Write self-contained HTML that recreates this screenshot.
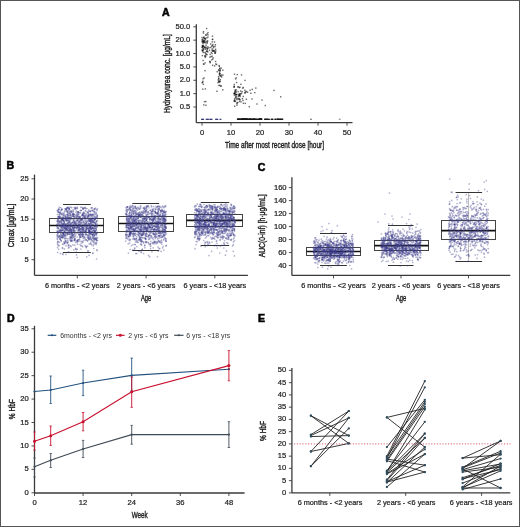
<!DOCTYPE html><html><head><meta charset="utf-8"><style>html,body{margin:0;padding:0;background:#fff;}svg{display:block;will-change:transform;filter:blur(0.3px);}text{font-family:"Liberation Sans", sans-serif;stroke:#1e1e1e;stroke-width:0.22px;}</style></head><body>
<svg width="520" height="527" viewBox="0 0 520 527">
<rect x="0" y="0" width="520" height="527" fill="#fff"/>
<text x="161.90" y="15.60" font-size="10.60" text-anchor="start" fill="#000" font-weight="bold" style="stroke:#000;stroke-width:0.55px">A</text>
<text x="6.60" y="168.80" font-size="10.60" text-anchor="start" fill="#000" font-weight="bold" style="stroke:#000;stroke-width:0.55px">B</text>
<text x="257.80" y="170.80" font-size="10.60" text-anchor="start" fill="#000" font-weight="bold" style="stroke:#000;stroke-width:0.55px">C</text>
<text x="6.90" y="321.50" font-size="10.60" text-anchor="start" fill="#000" font-weight="bold" style="stroke:#000;stroke-width:0.55px">D</text>
<text x="258.00" y="321.60" font-size="10.60" text-anchor="start" fill="#000" font-weight="bold" style="stroke:#000;stroke-width:0.55px">E</text>
<line x1="196.30" y1="24.20" x2="196.30" y2="122.70" stroke="#3a3a3a" stroke-width="1.30"/>
<line x1="193.30" y1="26.80" x2="196.30" y2="26.80" stroke="#3a3a3a" stroke-width="0.90"/>
<text x="190.20" y="28.85" font-size="7.60" text-anchor="end" fill="#1e1e1e" font-weight="normal">50.0</text>
<line x1="193.30" y1="40.17" x2="196.30" y2="40.17" stroke="#3a3a3a" stroke-width="0.90"/>
<text x="190.20" y="42.22" font-size="7.60" text-anchor="end" fill="#1e1e1e" font-weight="normal">20.0</text>
<line x1="193.30" y1="53.54" x2="196.30" y2="53.54" stroke="#3a3a3a" stroke-width="0.90"/>
<text x="190.20" y="55.59" font-size="7.60" text-anchor="end" fill="#1e1e1e" font-weight="normal">10.0</text>
<line x1="193.30" y1="66.91" x2="196.30" y2="66.91" stroke="#3a3a3a" stroke-width="0.90"/>
<text x="190.20" y="68.96" font-size="7.60" text-anchor="end" fill="#1e1e1e" font-weight="normal">5.0</text>
<line x1="193.30" y1="80.28" x2="196.30" y2="80.28" stroke="#3a3a3a" stroke-width="0.90"/>
<text x="190.20" y="82.33" font-size="7.60" text-anchor="end" fill="#1e1e1e" font-weight="normal">2.0</text>
<line x1="193.30" y1="93.65" x2="196.30" y2="93.65" stroke="#3a3a3a" stroke-width="0.90"/>
<text x="190.20" y="95.70" font-size="7.60" text-anchor="end" fill="#1e1e1e" font-weight="normal">1.0</text>
<line x1="193.30" y1="107.02" x2="196.30" y2="107.02" stroke="#3a3a3a" stroke-width="0.90"/>
<text x="190.20" y="109.07" font-size="7.60" text-anchor="end" fill="#1e1e1e" font-weight="normal">0.5</text>
<line x1="196.30" y1="122.70" x2="352.50" y2="122.70" stroke="#3a3a3a" stroke-width="1.30"/>
<line x1="202.00" y1="122.70" x2="202.00" y2="125.70" stroke="#3a3a3a" stroke-width="0.90"/>
<text x="202.00" y="134.60" font-size="7.60" text-anchor="middle" fill="#1e1e1e" font-weight="normal">0</text>
<line x1="231.00" y1="122.70" x2="231.00" y2="125.70" stroke="#3a3a3a" stroke-width="0.90"/>
<text x="231.00" y="134.60" font-size="7.60" text-anchor="middle" fill="#1e1e1e" font-weight="normal">10</text>
<line x1="260.00" y1="122.70" x2="260.00" y2="125.70" stroke="#3a3a3a" stroke-width="0.90"/>
<text x="260.00" y="134.60" font-size="7.60" text-anchor="middle" fill="#1e1e1e" font-weight="normal">20</text>
<line x1="289.00" y1="122.70" x2="289.00" y2="125.70" stroke="#3a3a3a" stroke-width="0.90"/>
<text x="289.00" y="134.60" font-size="7.60" text-anchor="middle" fill="#1e1e1e" font-weight="normal">30</text>
<line x1="318.00" y1="122.70" x2="318.00" y2="125.70" stroke="#3a3a3a" stroke-width="0.90"/>
<text x="318.00" y="134.60" font-size="7.60" text-anchor="middle" fill="#1e1e1e" font-weight="normal">40</text>
<line x1="347.00" y1="122.70" x2="347.00" y2="125.70" stroke="#3a3a3a" stroke-width="0.90"/>
<text x="347.00" y="134.60" font-size="7.60" text-anchor="middle" fill="#1e1e1e" font-weight="normal">50</text>
<text x="274.50" y="148.20" font-size="8.80" text-anchor="middle" fill="#1e1e1e" font-weight="normal" textLength="99.0" lengthAdjust="spacingAndGlyphs" style="stroke-width:0.4px">Time after most recent dose [hour]</text>
<text transform="translate(169.90 73.60) rotate(-90)" font-size="8.60" text-anchor="middle" fill="#1e1e1e" font-weight="normal" textLength="78.7" lengthAdjust="spacingAndGlyphs" style="stroke-width:0.4px">Hydroxyurea conc. [μg/mL]</text>
<g fill-opacity="0.62">
<rect x="203.2" y="51.9" width="1.4" height="1.4" fill="#111"/>
<rect x="201.7" y="54.9" width="1.4" height="1.4" fill="#111"/>
<rect x="204.5" y="42.2" width="1.4" height="1.4" fill="#111"/>
<rect x="204.3" y="46.6" width="1.4" height="1.4" fill="#111"/>
<rect x="201.5" y="41.2" width="1.4" height="1.4" fill="#111"/>
<rect x="201.8" y="45.7" width="1.4" height="1.4" fill="#111"/>
<rect x="203.8" y="46.4" width="1.4" height="1.4" fill="#111"/>
<rect x="202.6" y="40.2" width="1.4" height="1.4" fill="#111"/>
<rect x="205.1" y="55.5" width="1.4" height="1.4" fill="#111"/>
<rect x="203.7" y="40.5" width="1.4" height="1.4" fill="#111"/>
<rect x="207.2" y="36.4" width="1.4" height="1.4" fill="#111"/>
<rect x="202.2" y="49.4" width="1.4" height="1.4" fill="#111"/>
<rect x="202.0" y="38.3" width="1.4" height="1.4" fill="#111"/>
<rect x="202.4" y="59.8" width="1.4" height="1.4" fill="#111"/>
<rect x="204.8" y="38.7" width="1.4" height="1.4" fill="#111"/>
<rect x="204.6" y="37.6" width="1.4" height="1.4" fill="#111"/>
<rect x="201.7" y="50.0" width="1.4" height="1.4" fill="#111"/>
<rect x="205.4" y="46.5" width="1.4" height="1.4" fill="#111"/>
<rect x="203.9" y="39.6" width="1.4" height="1.4" fill="#111"/>
<rect x="204.0" y="55.3" width="1.4" height="1.4" fill="#111"/>
<rect x="203.1" y="48.1" width="1.4" height="1.4" fill="#111"/>
<rect x="202.8" y="30.9" width="1.4" height="1.4" fill="#111"/>
<rect x="204.7" y="51.8" width="1.4" height="1.4" fill="#111"/>
<rect x="203.0" y="41.4" width="1.4" height="1.4" fill="#111"/>
<rect x="207.2" y="51.2" width="1.4" height="1.4" fill="#111"/>
<rect x="205.8" y="50.6" width="1.4" height="1.4" fill="#111"/>
<rect x="202.2" y="41.8" width="1.4" height="1.4" fill="#111"/>
<rect x="205.3" y="44.5" width="1.4" height="1.4" fill="#111"/>
<rect x="205.9" y="27.8" width="1.4" height="1.4" fill="#111"/>
<rect x="203.2" y="36.2" width="1.4" height="1.4" fill="#111"/>
<rect x="205.5" y="34.5" width="1.4" height="1.4" fill="#111"/>
<rect x="204.0" y="37.7" width="1.4" height="1.4" fill="#111"/>
<rect x="206.3" y="53.9" width="1.4" height="1.4" fill="#111"/>
<rect x="205.3" y="40.8" width="1.4" height="1.4" fill="#111"/>
<rect x="201.7" y="40.4" width="1.4" height="1.4" fill="#111"/>
<rect x="207.3" y="31.9" width="1.4" height="1.4" fill="#111"/>
<rect x="206.2" y="42.4" width="1.4" height="1.4" fill="#111"/>
<rect x="205.3" y="53.0" width="1.4" height="1.4" fill="#111"/>
<rect x="201.4" y="39.0" width="1.4" height="1.4" fill="#111"/>
<rect x="202.0" y="45.6" width="1.4" height="1.4" fill="#111"/>
<rect x="201.7" y="44.8" width="1.4" height="1.4" fill="#111"/>
<rect x="202.8" y="39.6" width="1.4" height="1.4" fill="#111"/>
<rect x="203.6" y="46.8" width="1.4" height="1.4" fill="#111"/>
<rect x="204.0" y="41.6" width="1.4" height="1.4" fill="#111"/>
<rect x="204.6" y="56.7" width="1.4" height="1.4" fill="#111"/>
<rect x="206.5" y="33.2" width="1.4" height="1.4" fill="#111"/>
<rect x="203.0" y="37.0" width="1.4" height="1.4" fill="#111"/>
<rect x="206.6" y="48.6" width="1.4" height="1.4" fill="#111"/>
<rect x="207.0" y="47.6" width="1.4" height="1.4" fill="#111"/>
<rect x="202.7" y="48.9" width="1.4" height="1.4" fill="#111"/>
<rect x="202.7" y="32.3" width="1.4" height="1.4" fill="#111"/>
<rect x="202.9" y="45.4" width="1.4" height="1.4" fill="#111"/>
<rect x="201.3" y="36.8" width="1.4" height="1.4" fill="#111"/>
<rect x="204.7" y="48.5" width="1.4" height="1.4" fill="#111"/>
<rect x="207.0" y="40.3" width="1.4" height="1.4" fill="#111"/>
<rect x="205.0" y="34.2" width="1.4" height="1.4" fill="#111"/>
<rect x="205.4" y="53.6" width="1.4" height="1.4" fill="#111"/>
<rect x="206.5" y="50.7" width="1.4" height="1.4" fill="#111"/>
<rect x="206.1" y="37.2" width="1.4" height="1.4" fill="#111"/>
<rect x="201.9" y="50.0" width="1.4" height="1.4" fill="#111"/>
<rect x="205.1" y="47.4" width="1.4" height="1.4" fill="#111"/>
<rect x="202.6" y="45.6" width="1.4" height="1.4" fill="#111"/>
<rect x="202.3" y="42.7" width="1.4" height="1.4" fill="#111"/>
<rect x="201.3" y="46.8" width="1.4" height="1.4" fill="#111"/>
<rect x="202.2" y="51.2" width="1.4" height="1.4" fill="#111"/>
<rect x="201.5" y="49.4" width="1.4" height="1.4" fill="#111"/>
<rect x="206.5" y="40.5" width="1.4" height="1.4" fill="#111"/>
<rect x="202.8" y="40.9" width="1.4" height="1.4" fill="#111"/>
<rect x="203.4" y="41.3" width="1.4" height="1.4" fill="#111"/>
<rect x="206.4" y="47.8" width="1.4" height="1.4" fill="#111"/>
<rect x="207.3" y="34.2" width="1.4" height="1.4" fill="#111"/>
<rect x="201.8" y="46.5" width="1.4" height="1.4" fill="#111"/>
<rect x="201.9" y="40.4" width="1.4" height="1.4" fill="#111"/>
<rect x="206.3" y="50.2" width="1.4" height="1.4" fill="#111"/>
<rect x="202.3" y="44.8" width="1.4" height="1.4" fill="#111"/>
<rect x="202.2" y="47.5" width="1.4" height="1.4" fill="#111"/>
<rect x="204.6" y="55.2" width="1.4" height="1.4" fill="#111"/>
<rect x="207.2" y="46.2" width="1.4" height="1.4" fill="#111"/>
<rect x="206.5" y="42.0" width="1.4" height="1.4" fill="#111"/>
<rect x="203.5" y="37.7" width="1.4" height="1.4" fill="#111"/>
<rect x="202.0" y="81.7" width="1.4" height="1.4" fill="#111"/>
<rect x="204.4" y="62.2" width="1.4" height="1.4" fill="#111"/>
<rect x="202.6" y="83.6" width="1.4" height="1.4" fill="#111"/>
<rect x="205.2" y="104.5" width="1.4" height="1.4" fill="#111"/>
<rect x="204.7" y="88.2" width="1.4" height="1.4" fill="#111"/>
<rect x="204.3" y="70.0" width="1.4" height="1.4" fill="#111"/>
<rect x="203.4" y="77.2" width="1.4" height="1.4" fill="#111"/>
<rect x="201.4" y="82.0" width="1.4" height="1.4" fill="#111"/>
<rect x="202.4" y="78.1" width="1.4" height="1.4" fill="#111"/>
<rect x="205.1" y="100.8" width="1.4" height="1.4" fill="#111"/>
<rect x="203.1" y="104.2" width="1.4" height="1.4" fill="#111"/>
<rect x="202.8" y="63.2" width="1.4" height="1.4" fill="#111"/>
<rect x="202.2" y="80.6" width="1.4" height="1.4" fill="#111"/>
<rect x="202.1" y="88.5" width="1.4" height="1.4" fill="#111"/>
<rect x="203.8" y="101.0" width="1.4" height="1.4" fill="#111"/>
<rect x="203.2" y="63.6" width="1.4" height="1.4" fill="#111"/>
<rect x="212.9" y="50.5" width="1.4" height="1.4" fill="#111"/>
<rect x="212.9" y="45.7" width="1.4" height="1.4" fill="#111"/>
<rect x="214.7" y="52.3" width="1.4" height="1.4" fill="#111"/>
<rect x="211.6" y="41.2" width="1.4" height="1.4" fill="#111"/>
<rect x="213.8" y="41.3" width="1.4" height="1.4" fill="#111"/>
<rect x="215.1" y="63.3" width="1.4" height="1.4" fill="#111"/>
<rect x="211.1" y="59.2" width="1.4" height="1.4" fill="#111"/>
<rect x="209.5" y="62.0" width="1.4" height="1.4" fill="#111"/>
<rect x="209.2" y="60.7" width="1.4" height="1.4" fill="#111"/>
<rect x="213.9" y="65.2" width="1.4" height="1.4" fill="#111"/>
<rect x="209.3" y="61.0" width="1.4" height="1.4" fill="#111"/>
<rect x="212.9" y="46.9" width="1.4" height="1.4" fill="#111"/>
<rect x="212.1" y="50.3" width="1.4" height="1.4" fill="#111"/>
<rect x="215.1" y="50.4" width="1.4" height="1.4" fill="#111"/>
<rect x="212.8" y="49.6" width="1.4" height="1.4" fill="#111"/>
<rect x="214.4" y="45.8" width="1.4" height="1.4" fill="#111"/>
<rect x="214.1" y="51.0" width="1.4" height="1.4" fill="#111"/>
<rect x="210.4" y="56.0" width="1.4" height="1.4" fill="#111"/>
<rect x="210.0" y="43.3" width="1.4" height="1.4" fill="#111"/>
<rect x="211.2" y="45.7" width="1.4" height="1.4" fill="#111"/>
<rect x="209.2" y="56.4" width="1.4" height="1.4" fill="#111"/>
<rect x="211.5" y="44.8" width="1.4" height="1.4" fill="#111"/>
<rect x="212.4" y="57.1" width="1.4" height="1.4" fill="#111"/>
<rect x="214.7" y="44.0" width="1.4" height="1.4" fill="#111"/>
<rect x="211.8" y="38.6" width="1.4" height="1.4" fill="#111"/>
<rect x="208.4" y="47.1" width="1.4" height="1.4" fill="#111"/>
<rect x="211.4" y="49.6" width="1.4" height="1.4" fill="#111"/>
<rect x="213.9" y="50.0" width="1.4" height="1.4" fill="#111"/>
<rect x="209.5" y="53.7" width="1.4" height="1.4" fill="#111"/>
<rect x="210.6" y="51.7" width="1.4" height="1.4" fill="#111"/>
<rect x="211.9" y="38.8" width="1.4" height="1.4" fill="#111"/>
<rect x="212.2" y="43.9" width="1.4" height="1.4" fill="#111"/>
<rect x="210.0" y="46.7" width="1.4" height="1.4" fill="#111"/>
<rect x="211.9" y="64.6" width="1.4" height="1.4" fill="#111"/>
<rect x="212.2" y="50.5" width="1.4" height="1.4" fill="#111"/>
<rect x="211.4" y="55.5" width="1.4" height="1.4" fill="#111"/>
<rect x="211.8" y="35.5" width="1.4" height="1.4" fill="#111"/>
<rect x="211.5" y="48.2" width="1.4" height="1.4" fill="#111"/>
<rect x="212.0" y="58.4" width="1.4" height="1.4" fill="#111"/>
<rect x="214.4" y="52.3" width="1.4" height="1.4" fill="#111"/>
<rect x="214.9" y="48.6" width="1.4" height="1.4" fill="#111"/>
<rect x="214.9" y="60.8" width="1.4" height="1.4" fill="#111"/>
<rect x="214.2" y="52.3" width="1.4" height="1.4" fill="#111"/>
<rect x="211.4" y="52.8" width="1.4" height="1.4" fill="#111"/>
<rect x="208.8" y="49.5" width="1.4" height="1.4" fill="#111"/>
<rect x="220.2" y="75.6" width="1.4" height="1.4" fill="#111"/>
<rect x="220.9" y="76.4" width="1.4" height="1.4" fill="#111"/>
<rect x="220.5" y="67.5" width="1.4" height="1.4" fill="#111"/>
<rect x="220.1" y="85.5" width="1.4" height="1.4" fill="#111"/>
<rect x="222.1" y="89.1" width="1.4" height="1.4" fill="#111"/>
<rect x="217.2" y="81.9" width="1.4" height="1.4" fill="#111"/>
<rect x="219.0" y="68.0" width="1.4" height="1.4" fill="#111"/>
<rect x="222.2" y="74.5" width="1.4" height="1.4" fill="#111"/>
<rect x="218.6" y="65.6" width="1.4" height="1.4" fill="#111"/>
<rect x="219.2" y="67.4" width="1.4" height="1.4" fill="#111"/>
<rect x="217.9" y="77.5" width="1.4" height="1.4" fill="#111"/>
<rect x="220.5" y="85.2" width="1.4" height="1.4" fill="#111"/>
<rect x="218.7" y="73.0" width="1.4" height="1.4" fill="#111"/>
<rect x="215.9" y="63.8" width="1.4" height="1.4" fill="#111"/>
<rect x="219.1" y="84.7" width="1.4" height="1.4" fill="#111"/>
<rect x="216.2" y="90.6" width="1.4" height="1.4" fill="#111"/>
<rect x="222.1" y="69.5" width="1.4" height="1.4" fill="#111"/>
<rect x="216.5" y="71.0" width="1.4" height="1.4" fill="#111"/>
<rect x="220.9" y="74.4" width="1.4" height="1.4" fill="#111"/>
<rect x="217.6" y="79.2" width="1.4" height="1.4" fill="#111"/>
<rect x="219.6" y="80.9" width="1.4" height="1.4" fill="#111"/>
<rect x="219.4" y="73.0" width="1.4" height="1.4" fill="#111"/>
<rect x="219.6" y="79.0" width="1.4" height="1.4" fill="#111"/>
<rect x="218.9" y="72.0" width="1.4" height="1.4" fill="#111"/>
<rect x="217.9" y="69.2" width="1.4" height="1.4" fill="#111"/>
<rect x="219.2" y="69.8" width="1.4" height="1.4" fill="#111"/>
<rect x="219.7" y="75.1" width="1.4" height="1.4" fill="#111"/>
<rect x="219.1" y="74.6" width="1.4" height="1.4" fill="#111"/>
<rect x="219.5" y="69.3" width="1.4" height="1.4" fill="#111"/>
<rect x="217.9" y="80.5" width="1.4" height="1.4" fill="#111"/>
<rect x="218.5" y="64.9" width="1.4" height="1.4" fill="#111"/>
<rect x="218.9" y="80.4" width="1.4" height="1.4" fill="#111"/>
<rect x="218.1" y="69.8" width="1.4" height="1.4" fill="#111"/>
<rect x="218.9" y="73.6" width="1.4" height="1.4" fill="#111"/>
<rect x="218.1" y="78.1" width="1.4" height="1.4" fill="#111"/>
<rect x="217.9" y="75.9" width="1.4" height="1.4" fill="#111"/>
<rect x="218.4" y="81.6" width="1.4" height="1.4" fill="#111"/>
<rect x="219.3" y="70.4" width="1.4" height="1.4" fill="#111"/>
<rect x="218.2" y="84.7" width="1.4" height="1.4" fill="#111"/>
<rect x="218.5" y="80.8" width="1.4" height="1.4" fill="#111"/>
<rect x="234.0" y="105.6" width="1.4" height="1.4" fill="#111"/>
<rect x="234.6" y="90.0" width="1.4" height="1.4" fill="#111"/>
<rect x="234.9" y="78.2" width="1.4" height="1.4" fill="#111"/>
<rect x="236.3" y="104.5" width="1.4" height="1.4" fill="#111"/>
<rect x="242.5" y="86.8" width="1.4" height="1.4" fill="#111"/>
<rect x="237.2" y="97.8" width="1.4" height="1.4" fill="#111"/>
<rect x="240.2" y="83.6" width="1.4" height="1.4" fill="#111"/>
<rect x="233.8" y="100.7" width="1.4" height="1.4" fill="#111"/>
<rect x="234.1" y="99.7" width="1.4" height="1.4" fill="#111"/>
<rect x="244.2" y="89.6" width="1.4" height="1.4" fill="#111"/>
<rect x="239.4" y="93.0" width="1.4" height="1.4" fill="#111"/>
<rect x="235.5" y="96.1" width="1.4" height="1.4" fill="#111"/>
<rect x="235.5" y="94.0" width="1.4" height="1.4" fill="#111"/>
<rect x="239.4" y="95.8" width="1.4" height="1.4" fill="#111"/>
<rect x="236.2" y="102.0" width="1.4" height="1.4" fill="#111"/>
<rect x="246.9" y="91.6" width="1.4" height="1.4" fill="#111"/>
<rect x="239.0" y="94.6" width="1.4" height="1.4" fill="#111"/>
<rect x="240.0" y="90.3" width="1.4" height="1.4" fill="#111"/>
<rect x="234.5" y="89.1" width="1.4" height="1.4" fill="#111"/>
<rect x="235.4" y="91.4" width="1.4" height="1.4" fill="#111"/>
<rect x="238.4" y="94.9" width="1.4" height="1.4" fill="#111"/>
<rect x="254.1" y="91.9" width="1.4" height="1.4" fill="#111"/>
<rect x="240.3" y="101.2" width="1.4" height="1.4" fill="#111"/>
<rect x="233.4" y="86.1" width="1.4" height="1.4" fill="#111"/>
<rect x="234.8" y="96.8" width="1.4" height="1.4" fill="#111"/>
<rect x="242.3" y="99.8" width="1.4" height="1.4" fill="#111"/>
<rect x="233.5" y="100.3" width="1.4" height="1.4" fill="#111"/>
<rect x="237.6" y="95.7" width="1.4" height="1.4" fill="#111"/>
<rect x="233.7" y="92.6" width="1.4" height="1.4" fill="#111"/>
<rect x="238.8" y="86.9" width="1.4" height="1.4" fill="#111"/>
<rect x="238.3" y="94.3" width="1.4" height="1.4" fill="#111"/>
<rect x="245.0" y="91.2" width="1.4" height="1.4" fill="#111"/>
<rect x="249.4" y="89.5" width="1.4" height="1.4" fill="#111"/>
<rect x="237.8" y="98.3" width="1.4" height="1.4" fill="#111"/>
<rect x="233.7" y="92.7" width="1.4" height="1.4" fill="#111"/>
<rect x="244.6" y="102.7" width="1.4" height="1.4" fill="#111"/>
<rect x="237.4" y="86.4" width="1.4" height="1.4" fill="#111"/>
<rect x="242.6" y="95.8" width="1.4" height="1.4" fill="#111"/>
<rect x="237.4" y="86.1" width="1.4" height="1.4" fill="#111"/>
<rect x="234.7" y="100.7" width="1.4" height="1.4" fill="#111"/>
<rect x="245.7" y="98.6" width="1.4" height="1.4" fill="#111"/>
<rect x="242.7" y="102.6" width="1.4" height="1.4" fill="#111"/>
<rect x="240.9" y="92.5" width="1.4" height="1.4" fill="#111"/>
<rect x="238.7" y="98.0" width="1.4" height="1.4" fill="#111"/>
<rect x="234.1" y="92.2" width="1.4" height="1.4" fill="#111"/>
<rect x="236.2" y="98.9" width="1.4" height="1.4" fill="#111"/>
<rect x="242.1" y="87.5" width="1.4" height="1.4" fill="#111"/>
<rect x="241.4" y="90.9" width="1.4" height="1.4" fill="#111"/>
<rect x="241.7" y="98.0" width="1.4" height="1.4" fill="#111"/>
<rect x="233.6" y="85.6" width="1.4" height="1.4" fill="#111"/>
<rect x="233.5" y="92.9" width="1.4" height="1.4" fill="#111"/>
<rect x="235.8" y="93.9" width="1.4" height="1.4" fill="#111"/>
<rect x="239.4" y="99.2" width="1.4" height="1.4" fill="#111"/>
<rect x="236.1" y="93.7" width="1.4" height="1.4" fill="#111"/>
<rect x="238.7" y="93.1" width="1.4" height="1.4" fill="#111"/>
<rect x="255.1" y="87.4" width="1.4" height="1.4" fill="#111"/>
<rect x="233.6" y="83.8" width="1.4" height="1.4" fill="#111"/>
<rect x="234.9" y="95.3" width="1.4" height="1.4" fill="#111"/>
<rect x="244.3" y="92.5" width="1.4" height="1.4" fill="#111"/>
<rect x="235.8" y="97.5" width="1.4" height="1.4" fill="#111"/>
<rect x="238.2" y="94.0" width="1.4" height="1.4" fill="#111"/>
<rect x="240.1" y="93.3" width="1.4" height="1.4" fill="#111"/>
<rect x="233.8" y="99.4" width="1.4" height="1.4" fill="#111"/>
<rect x="235.7" y="89.2" width="1.4" height="1.4" fill="#111"/>
<rect x="244.1" y="91.7" width="1.4" height="1.4" fill="#111"/>
<rect x="239.2" y="86.5" width="1.4" height="1.4" fill="#111"/>
<rect x="234.2" y="90.9" width="1.4" height="1.4" fill="#111"/>
<rect x="234.1" y="98.0" width="1.4" height="1.4" fill="#111"/>
<rect x="236.6" y="73.9" width="1.4" height="1.4" fill="#111"/>
<rect x="235.9" y="81.8" width="1.4" height="1.4" fill="#111"/>
<rect x="237.1" y="101.8" width="1.4" height="1.4" fill="#111"/>
<rect x="235.0" y="93.7" width="1.4" height="1.4" fill="#111"/>
<rect x="238.8" y="98.8" width="1.4" height="1.4" fill="#111"/>
<rect x="235.1" y="90.9" width="1.4" height="1.4" fill="#111"/>
<rect x="235.5" y="77.2" width="1.4" height="1.4" fill="#111"/>
<rect x="236.3" y="103.0" width="1.4" height="1.4" fill="#111"/>
<rect x="244.3" y="79.7" width="1.4" height="1.4" fill="#111"/>
<rect x="234.2" y="92.8" width="1.4" height="1.4" fill="#111"/>
<rect x="238.9" y="100.8" width="1.4" height="1.4" fill="#111"/>
<rect x="238.8" y="94.9" width="1.4" height="1.4" fill="#111"/>
<rect x="233.4" y="86.6" width="1.4" height="1.4" fill="#111"/>
<rect x="233.8" y="93.1" width="1.4" height="1.4" fill="#111"/>
<rect x="237.5" y="90.9" width="1.4" height="1.4" fill="#111"/>
<rect x="239.1" y="94.5" width="1.4" height="1.4" fill="#111"/>
<rect x="233.7" y="94.4" width="1.4" height="1.4" fill="#111"/>
<rect x="248.6" y="106.0" width="1.4" height="1.4" fill="#111"/>
<rect x="245.8" y="90.8" width="1.4" height="1.4" fill="#111"/>
<rect x="250.1" y="92.6" width="1.4" height="1.4" fill="#111"/>
<rect x="240.8" y="74.2" width="1.4" height="1.4" fill="#111"/>
<rect x="251.6" y="88.7" width="1.4" height="1.4" fill="#111"/>
<rect x="273.3" y="89.7" width="1.4" height="1.4" fill="#111"/>
<rect x="280.0" y="96.1" width="1.4" height="1.4" fill="#111"/>
<rect x="264.6" y="104.8" width="1.4" height="1.4" fill="#111"/>
<rect x="233.8" y="73.5" width="1.4" height="1.4" fill="#111"/>
<rect x="251.3" y="98.3" width="1.4" height="1.4" fill="#111"/>
<rect x="256.3" y="103.3" width="1.4" height="1.4" fill="#111"/>
<rect x="261.3" y="99.3" width="1.4" height="1.4" fill="#111"/>
</g>
<g fill-opacity="0.85">
<rect x="201.1" y="118.7" width="1.8" height="1.3" fill="#1c1c66"/>
<rect x="202.3" y="118.7" width="1.8" height="1.3" fill="#1c1c66"/>
<rect x="205.7" y="118.7" width="1.8" height="1.3" fill="#1c1c66"/>
<rect x="207.1" y="118.7" width="1.8" height="1.3" fill="#1c1c66"/>
<rect x="209.3" y="118.7" width="1.8" height="1.3" fill="#1c1c66"/>
<rect x="210.7" y="118.7" width="1.8" height="1.3" fill="#1c1c66"/>
<rect x="215.1" y="118.7" width="1.8" height="1.3" fill="#1c1c66"/>
<rect x="216.5" y="118.7" width="1.8" height="1.3" fill="#1c1c66"/>
<rect x="219.6" y="118.7" width="1.8" height="1.3" fill="#1c1c66"/>
<rect x="243.0" y="118.7" width="1.8" height="1.3" fill="#151515"/>
<rect x="238.6" y="118.7" width="1.8" height="1.3" fill="#151515"/>
<rect x="267.1" y="118.7" width="1.8" height="1.3" fill="#151515"/>
<rect x="266.3" y="118.7" width="1.8" height="1.3" fill="#151515"/>
<rect x="248.9" y="118.7" width="1.8" height="1.3" fill="#151515"/>
<rect x="245.4" y="118.7" width="1.8" height="1.3" fill="#151515"/>
<rect x="279.7" y="118.7" width="1.8" height="1.3" fill="#151515"/>
<rect x="274.3" y="118.7" width="1.8" height="1.3" fill="#151515"/>
<rect x="280.9" y="118.7" width="1.8" height="1.3" fill="#151515"/>
<rect x="254.1" y="118.7" width="1.8" height="1.3" fill="#151515"/>
<rect x="254.4" y="118.7" width="1.8" height="1.3" fill="#151515"/>
<rect x="254.9" y="118.7" width="1.8" height="1.3" fill="#151515"/>
<rect x="243.3" y="118.7" width="1.8" height="1.3" fill="#151515"/>
<rect x="259.3" y="118.7" width="1.8" height="1.3" fill="#151515"/>
<rect x="247.9" y="118.7" width="1.8" height="1.3" fill="#151515"/>
<rect x="243.5" y="118.7" width="1.8" height="1.3" fill="#151515"/>
<rect x="260.5" y="118.7" width="1.8" height="1.3" fill="#151515"/>
<rect x="252.5" y="118.7" width="1.8" height="1.3" fill="#151515"/>
<rect x="250.0" y="118.7" width="1.8" height="1.3" fill="#151515"/>
<rect x="240.3" y="118.7" width="1.8" height="1.3" fill="#151515"/>
<rect x="241.3" y="118.7" width="1.8" height="1.3" fill="#151515"/>
<rect x="271.5" y="118.7" width="1.8" height="1.3" fill="#151515"/>
<rect x="258.8" y="118.7" width="1.8" height="1.3" fill="#151515"/>
<rect x="270.5" y="118.7" width="1.8" height="1.3" fill="#151515"/>
<rect x="240.9" y="118.7" width="1.8" height="1.3" fill="#151515"/>
<rect x="244.6" y="118.7" width="1.8" height="1.3" fill="#151515"/>
<rect x="242.1" y="118.7" width="1.8" height="1.3" fill="#151515"/>
<rect x="250.3" y="118.7" width="1.8" height="1.3" fill="#151515"/>
<rect x="276.8" y="118.7" width="1.8" height="1.3" fill="#151515"/>
<rect x="246.4" y="118.7" width="1.8" height="1.3" fill="#151515"/>
<rect x="245.5" y="118.7" width="1.8" height="1.3" fill="#151515"/>
<rect x="237.7" y="118.7" width="1.8" height="1.3" fill="#151515"/>
<rect x="260.3" y="118.7" width="1.8" height="1.3" fill="#151515"/>
<rect x="248.7" y="118.7" width="1.8" height="1.3" fill="#151515"/>
<rect x="257.7" y="118.7" width="1.8" height="1.3" fill="#151515"/>
<rect x="242.9" y="118.7" width="1.8" height="1.3" fill="#151515"/>
<rect x="246.1" y="118.7" width="1.8" height="1.3" fill="#151515"/>
<rect x="259.9" y="118.7" width="1.8" height="1.3" fill="#151515"/>
<rect x="279.4" y="118.7" width="1.8" height="1.3" fill="#151515"/>
<rect x="236.9" y="118.7" width="1.8" height="1.3" fill="#151515"/>
<rect x="258.5" y="118.7" width="1.8" height="1.3" fill="#151515"/>
<rect x="250.8" y="118.7" width="1.8" height="1.3" fill="#151515"/>
<rect x="245.9" y="118.7" width="1.8" height="1.3" fill="#151515"/>
<rect x="278.4" y="118.7" width="1.8" height="1.3" fill="#151515"/>
<rect x="281.5" y="118.7" width="1.8" height="1.3" fill="#151515"/>
<rect x="238.8" y="118.7" width="1.8" height="1.3" fill="#151515"/>
<rect x="249.2" y="118.7" width="1.8" height="1.3" fill="#151515"/>
<rect x="259.6" y="118.7" width="1.8" height="1.3" fill="#151515"/>
<rect x="252.3" y="118.7" width="1.8" height="1.3" fill="#151515"/>
<rect x="247.5" y="118.7" width="1.8" height="1.3" fill="#151515"/>
<rect x="237.1" y="118.7" width="1.8" height="1.3" fill="#151515"/>
<rect x="241.9" y="118.7" width="1.8" height="1.3" fill="#151515"/>
<rect x="274.7" y="118.7" width="1.8" height="1.3" fill="#151515"/>
<rect x="239.3" y="118.7" width="1.8" height="1.3" fill="#151515"/>
<rect x="252.0" y="118.7" width="1.8" height="1.3" fill="#151515"/>
<rect x="238.9" y="118.7" width="1.8" height="1.3" fill="#151515"/>
<rect x="249.2" y="118.7" width="1.8" height="1.3" fill="#151515"/>
<rect x="245.8" y="118.7" width="1.8" height="1.3" fill="#151515"/>
<rect x="251.1" y="118.7" width="1.8" height="1.3" fill="#151515"/>
<rect x="243.6" y="118.7" width="1.8" height="1.3" fill="#151515"/>
<rect x="260.1" y="118.7" width="1.8" height="1.3" fill="#151515"/>
<rect x="258.2" y="118.7" width="1.8" height="1.3" fill="#151515"/>
<rect x="242.0" y="118.7" width="1.8" height="1.3" fill="#151515"/>
<rect x="260.1" y="118.7" width="1.8" height="1.3" fill="#151515"/>
<rect x="243.8" y="118.7" width="1.8" height="1.3" fill="#151515"/>
<rect x="248.6" y="118.7" width="1.8" height="1.3" fill="#151515"/>
<rect x="246.6" y="118.7" width="1.8" height="1.3" fill="#151515"/>
<rect x="252.8" y="118.7" width="1.8" height="1.3" fill="#151515"/>
<rect x="265.9" y="118.7" width="1.8" height="1.3" fill="#151515"/>
<rect x="244.6" y="118.7" width="1.8" height="1.3" fill="#151515"/>
<rect x="253.2" y="118.7" width="1.8" height="1.3" fill="#151515"/>
<rect x="256.0" y="118.7" width="1.8" height="1.3" fill="#151515"/>
<rect x="248.7" y="118.7" width="1.8" height="1.3" fill="#151515"/>
<rect x="260.3" y="118.7" width="1.8" height="1.3" fill="#151515"/>
<rect x="256.6" y="118.7" width="1.8" height="1.3" fill="#151515"/>
<rect x="241.6" y="118.7" width="1.8" height="1.3" fill="#151515"/>
<rect x="243.5" y="118.7" width="1.8" height="1.3" fill="#151515"/>
<rect x="271.5" y="118.7" width="1.8" height="1.3" fill="#151515"/>
<rect x="241.7" y="118.7" width="1.8" height="1.3" fill="#151515"/>
<rect x="252.7" y="118.7" width="1.8" height="1.3" fill="#151515"/>
<rect x="264.2" y="118.7" width="1.8" height="1.3" fill="#151515"/>
<rect x="241.4" y="118.7" width="1.8" height="1.3" fill="#151515"/>
<rect x="264.1" y="118.7" width="1.8" height="1.3" fill="#151515"/>
<rect x="237.6" y="118.7" width="1.8" height="1.3" fill="#151515"/>
<rect x="258.6" y="118.7" width="1.8" height="1.3" fill="#151515"/>
<rect x="276.5" y="118.7" width="1.8" height="1.3" fill="#151515"/>
<rect x="280.7" y="118.7" width="1.8" height="1.3" fill="#151515"/>
<rect x="240.7" y="118.7" width="1.8" height="1.3" fill="#151515"/>
<rect x="276.8" y="118.7" width="1.8" height="1.3" fill="#151515"/>
<rect x="252.7" y="118.7" width="1.8" height="1.3" fill="#151515"/>
<rect x="245.4" y="118.7" width="1.8" height="1.3" fill="#151515"/>
<rect x="240.3" y="118.7" width="1.8" height="1.3" fill="#151515"/>
<rect x="243.1" y="118.7" width="1.8" height="1.3" fill="#151515"/>
<rect x="260.0" y="118.7" width="1.8" height="1.3" fill="#151515"/>
<rect x="260.2" y="118.7" width="1.8" height="1.3" fill="#151515"/>
<rect x="245.0" y="118.7" width="1.8" height="1.3" fill="#151515"/>
<rect x="278.4" y="118.7" width="1.8" height="1.3" fill="#151515"/>
<rect x="237.3" y="118.7" width="1.8" height="1.3" fill="#151515"/>
<rect x="245.4" y="118.7" width="1.8" height="1.3" fill="#151515"/>
<rect x="265.2" y="118.7" width="1.8" height="1.3" fill="#151515"/>
<rect x="258.5" y="118.7" width="1.8" height="1.3" fill="#151515"/>
<rect x="246.4" y="118.7" width="1.8" height="1.3" fill="#151515"/>
<rect x="277.2" y="118.7" width="1.8" height="1.3" fill="#151515"/>
<rect x="237.0" y="118.7" width="1.8" height="1.3" fill="#151515"/>
<rect x="259.1" y="118.7" width="1.8" height="1.3" fill="#151515"/>
<rect x="254.8" y="118.7" width="1.8" height="1.3" fill="#151515"/>
<rect x="268.2" y="118.7" width="1.8" height="1.3" fill="#151515"/>
<rect x="260.0" y="118.7" width="1.8" height="1.3" fill="#151515"/>
<rect x="242.7" y="118.7" width="1.8" height="1.3" fill="#151515"/>
<rect x="244.0" y="118.7" width="1.8" height="1.3" fill="#151515"/>
<rect x="310.1" y="118.7" width="1.8" height="1.3" fill="#666"/>
<rect x="338.8" y="118.7" width="1.8" height="1.3" fill="#888"/>
</g>
<line x1="34.50" y1="174.60" x2="34.50" y2="275.40" stroke="#3a3a3a" stroke-width="1.30"/>
<line x1="31.50" y1="178.80" x2="34.50" y2="178.80" stroke="#3a3a3a" stroke-width="0.90"/>
<text x="28.80" y="180.85" font-size="7.60" text-anchor="end" fill="#1e1e1e" font-weight="normal">25</text>
<line x1="31.50" y1="199.02" x2="34.50" y2="199.02" stroke="#3a3a3a" stroke-width="0.90"/>
<text x="28.80" y="201.07" font-size="7.60" text-anchor="end" fill="#1e1e1e" font-weight="normal">20</text>
<line x1="31.50" y1="219.24" x2="34.50" y2="219.24" stroke="#3a3a3a" stroke-width="0.90"/>
<text x="28.80" y="221.29" font-size="7.60" text-anchor="end" fill="#1e1e1e" font-weight="normal">15</text>
<line x1="31.50" y1="239.46" x2="34.50" y2="239.46" stroke="#3a3a3a" stroke-width="0.90"/>
<text x="28.80" y="241.51" font-size="7.60" text-anchor="end" fill="#1e1e1e" font-weight="normal">10</text>
<line x1="31.50" y1="259.68" x2="34.50" y2="259.68" stroke="#3a3a3a" stroke-width="0.90"/>
<text x="28.80" y="261.73" font-size="7.60" text-anchor="end" fill="#1e1e1e" font-weight="normal">5</text>
<line x1="34.50" y1="275.40" x2="247.90" y2="275.40" stroke="#3a3a3a" stroke-width="1.30"/>
<line x1="77.30" y1="275.40" x2="77.30" y2="278.40" stroke="#3a3a3a" stroke-width="0.90"/>
<line x1="146.10" y1="275.40" x2="146.10" y2="278.40" stroke="#3a3a3a" stroke-width="0.90"/>
<line x1="214.80" y1="275.40" x2="214.80" y2="278.40" stroke="#3a3a3a" stroke-width="0.90"/>
<text x="77.30" y="288.30" font-size="7.30" text-anchor="middle" fill="#1e1e1e" font-weight="normal">6 months - &lt;2 years</text>
<text x="146.10" y="288.30" font-size="7.30" text-anchor="middle" fill="#1e1e1e" font-weight="normal">2 years - &lt;6 years</text>
<text x="214.80" y="288.30" font-size="7.30" text-anchor="middle" fill="#1e1e1e" font-weight="normal">6 years - &lt;18 years</text>
<text x="146.10" y="300.80" font-size="8.40" text-anchor="middle" fill="#1e1e1e" font-weight="normal" textLength="10.2" lengthAdjust="spacingAndGlyphs" style="stroke-width:0.4px">Age</text>
<text transform="translate(14.40 225.40) rotate(-90)" font-size="8.60" text-anchor="middle" fill="#1e1e1e" font-weight="normal" textLength="43.6" lengthAdjust="spacingAndGlyphs" style="stroke-width:0.4px">Cmax [μg/mL]</text>
<line x1="63.00" y1="204.50" x2="90.80" y2="204.50" stroke="#333" stroke-width="1.00"/>
<line x1="63.00" y1="252.50" x2="90.80" y2="252.50" stroke="#333" stroke-width="1.00"/>
<rect x="49.50" y="218.50" width="54.00" height="14.00" fill="none" stroke="#444" stroke-width="1.0"/>
<line x1="49.50" y1="225.50" x2="103.50" y2="225.50" stroke="#111" stroke-width="1.70"/>
<g fill="#3e3e8c" fill-opacity="0.40"><circle cx="68.2" cy="218.5" r="0.85"/><circle cx="57.2" cy="226.4" r="0.85"/><circle cx="82.7" cy="227.8" r="0.85"/><circle cx="66.5" cy="224.4" r="0.85"/><circle cx="76.3" cy="251.8" r="0.85"/><circle cx="72.7" cy="216.3" r="0.85"/><circle cx="67.2" cy="210.9" r="0.85"/><circle cx="94.7" cy="231.0" r="0.85"/><circle cx="64.4" cy="231.3" r="0.85"/><circle cx="90.4" cy="227.6" r="0.85"/><circle cx="70.3" cy="219.9" r="0.85"/><circle cx="88.8" cy="234.9" r="0.85"/><circle cx="60.2" cy="231.5" r="0.85"/><circle cx="67.0" cy="242.9" r="0.85"/><circle cx="59.6" cy="239.1" r="0.85"/><circle cx="70.2" cy="228.4" r="0.85"/><circle cx="96.8" cy="249.8" r="0.85"/><circle cx="67.8" cy="229.8" r="0.85"/><circle cx="77.2" cy="228.0" r="0.85"/><circle cx="85.8" cy="215.9" r="0.85"/><circle cx="73.9" cy="228.1" r="0.85"/><circle cx="82.2" cy="214.9" r="0.85"/><circle cx="91.4" cy="221.9" r="0.85"/><circle cx="91.1" cy="219.4" r="0.85"/><circle cx="68.9" cy="213.3" r="0.85"/><circle cx="87.0" cy="220.0" r="0.85"/><circle cx="65.1" cy="225.6" r="0.85"/><circle cx="63.2" cy="233.8" r="0.85"/><circle cx="92.9" cy="214.6" r="0.85"/><circle cx="73.1" cy="219.7" r="0.85"/><circle cx="97.3" cy="215.4" r="0.85"/><circle cx="89.8" cy="225.0" r="0.85"/><circle cx="83.5" cy="230.6" r="0.85"/><circle cx="76.3" cy="225.1" r="0.85"/><circle cx="90.3" cy="238.6" r="0.85"/><circle cx="58.6" cy="223.6" r="0.85"/><circle cx="64.7" cy="230.8" r="0.85"/><circle cx="96.5" cy="209.5" r="0.85"/><circle cx="72.1" cy="233.5" r="0.85"/><circle cx="67.6" cy="214.2" r="0.85"/><circle cx="88.6" cy="230.4" r="0.85"/><circle cx="81.2" cy="223.3" r="0.85"/><circle cx="82.2" cy="227.6" r="0.85"/><circle cx="62.7" cy="235.8" r="0.85"/><circle cx="65.3" cy="224.9" r="0.85"/><circle cx="83.5" cy="240.4" r="0.85"/><circle cx="65.3" cy="235.3" r="0.85"/><circle cx="84.5" cy="226.2" r="0.85"/><circle cx="64.5" cy="221.9" r="0.85"/><circle cx="89.3" cy="232.4" r="0.85"/><circle cx="79.3" cy="230.2" r="0.85"/><circle cx="73.0" cy="227.5" r="0.85"/><circle cx="79.3" cy="221.6" r="0.85"/><circle cx="63.6" cy="220.8" r="0.85"/><circle cx="85.2" cy="215.9" r="0.85"/><circle cx="69.5" cy="230.3" r="0.85"/><circle cx="95.7" cy="218.6" r="0.85"/><circle cx="71.5" cy="238.6" r="0.85"/><circle cx="73.9" cy="249.9" r="0.85"/><circle cx="71.8" cy="231.3" r="0.85"/><circle cx="65.3" cy="242.3" r="0.85"/><circle cx="57.2" cy="234.9" r="0.85"/><circle cx="90.3" cy="217.1" r="0.85"/><circle cx="73.5" cy="234.6" r="0.85"/><circle cx="63.6" cy="215.1" r="0.85"/><circle cx="57.6" cy="219.2" r="0.85"/><circle cx="93.9" cy="238.5" r="0.85"/><circle cx="72.1" cy="233.6" r="0.85"/><circle cx="77.5" cy="231.0" r="0.85"/><circle cx="78.2" cy="232.6" r="0.85"/><circle cx="94.6" cy="235.4" r="0.85"/><circle cx="89.7" cy="233.6" r="0.85"/><circle cx="96.3" cy="227.4" r="0.85"/><circle cx="95.3" cy="230.9" r="0.85"/><circle cx="96.6" cy="220.9" r="0.85"/><circle cx="94.6" cy="225.9" r="0.85"/><circle cx="72.7" cy="238.1" r="0.85"/><circle cx="90.5" cy="214.6" r="0.85"/><circle cx="63.5" cy="227.2" r="0.85"/><circle cx="73.4" cy="215.9" r="0.85"/><circle cx="91.4" cy="228.8" r="0.85"/><circle cx="65.9" cy="217.7" r="0.85"/><circle cx="73.2" cy="211.9" r="0.85"/><circle cx="62.0" cy="224.0" r="0.85"/><circle cx="67.0" cy="220.8" r="0.85"/><circle cx="58.7" cy="216.6" r="0.85"/><circle cx="58.5" cy="228.4" r="0.85"/><circle cx="81.3" cy="219.6" r="0.85"/><circle cx="79.3" cy="217.2" r="0.85"/><circle cx="74.1" cy="217.0" r="0.85"/><circle cx="80.7" cy="207.3" r="0.85"/><circle cx="75.1" cy="232.8" r="0.85"/><circle cx="74.8" cy="240.6" r="0.85"/><circle cx="76.9" cy="227.7" r="0.85"/><circle cx="66.6" cy="227.1" r="0.85"/><circle cx="75.6" cy="230.8" r="0.85"/><circle cx="61.3" cy="236.8" r="0.85"/><circle cx="62.2" cy="220.0" r="0.85"/><circle cx="74.9" cy="227.5" r="0.85"/><circle cx="77.7" cy="240.6" r="0.85"/><circle cx="60.3" cy="229.5" r="0.85"/><circle cx="86.8" cy="227.8" r="0.85"/><circle cx="59.2" cy="209.1" r="0.85"/><circle cx="77.5" cy="244.2" r="0.85"/><circle cx="62.5" cy="248.3" r="0.85"/><circle cx="86.7" cy="228.4" r="0.85"/><circle cx="96.9" cy="217.1" r="0.85"/><circle cx="77.0" cy="249.1" r="0.85"/><circle cx="63.7" cy="217.2" r="0.85"/><circle cx="89.0" cy="229.2" r="0.85"/><circle cx="71.2" cy="223.3" r="0.85"/><circle cx="87.7" cy="238.2" r="0.85"/><circle cx="68.2" cy="245.2" r="0.85"/><circle cx="90.1" cy="233.6" r="0.85"/><circle cx="94.3" cy="235.7" r="0.85"/><circle cx="65.5" cy="224.2" r="0.85"/><circle cx="70.0" cy="238.5" r="0.85"/><circle cx="58.5" cy="228.2" r="0.85"/><circle cx="95.0" cy="231.4" r="0.85"/><circle cx="84.6" cy="230.8" r="0.85"/><circle cx="88.9" cy="220.3" r="0.85"/><circle cx="61.7" cy="221.7" r="0.85"/><circle cx="71.6" cy="235.3" r="0.85"/><circle cx="80.5" cy="212.9" r="0.85"/><circle cx="92.8" cy="252.9" r="0.85"/><circle cx="82.6" cy="246.7" r="0.85"/><circle cx="73.0" cy="228.0" r="0.85"/><circle cx="97.2" cy="215.1" r="0.85"/><circle cx="80.4" cy="210.4" r="0.85"/><circle cx="75.0" cy="239.9" r="0.85"/><circle cx="64.2" cy="225.3" r="0.85"/><circle cx="90.3" cy="221.1" r="0.85"/><circle cx="67.3" cy="207.9" r="0.85"/><circle cx="69.7" cy="215.0" r="0.85"/><circle cx="57.1" cy="231.6" r="0.85"/><circle cx="82.0" cy="226.8" r="0.85"/><circle cx="74.5" cy="223.2" r="0.85"/><circle cx="62.4" cy="227.8" r="0.85"/><circle cx="57.9" cy="241.3" r="0.85"/><circle cx="57.1" cy="221.5" r="0.85"/><circle cx="71.5" cy="229.6" r="0.85"/><circle cx="66.1" cy="209.5" r="0.85"/><circle cx="65.3" cy="216.2" r="0.85"/><circle cx="82.3" cy="218.1" r="0.85"/><circle cx="95.0" cy="226.4" r="0.85"/><circle cx="66.9" cy="228.4" r="0.85"/><circle cx="82.9" cy="229.5" r="0.85"/><circle cx="92.4" cy="227.7" r="0.85"/><circle cx="67.7" cy="211.7" r="0.85"/><circle cx="57.5" cy="214.6" r="0.85"/><circle cx="71.2" cy="211.4" r="0.85"/><circle cx="83.2" cy="234.5" r="0.85"/><circle cx="86.8" cy="225.7" r="0.85"/><circle cx="58.8" cy="249.3" r="0.85"/><circle cx="78.6" cy="217.0" r="0.85"/><circle cx="59.4" cy="230.0" r="0.85"/><circle cx="88.6" cy="239.4" r="0.85"/><circle cx="95.2" cy="226.6" r="0.85"/><circle cx="62.8" cy="230.2" r="0.85"/><circle cx="77.6" cy="239.8" r="0.85"/><circle cx="83.0" cy="228.1" r="0.85"/><circle cx="69.6" cy="217.6" r="0.85"/><circle cx="69.2" cy="247.5" r="0.85"/><circle cx="88.8" cy="232.4" r="0.85"/><circle cx="86.0" cy="246.7" r="0.85"/><circle cx="87.3" cy="226.3" r="0.85"/><circle cx="75.9" cy="224.7" r="0.85"/><circle cx="66.2" cy="210.3" r="0.85"/><circle cx="61.3" cy="225.8" r="0.85"/><circle cx="70.6" cy="228.6" r="0.85"/><circle cx="87.4" cy="216.4" r="0.85"/><circle cx="85.9" cy="223.7" r="0.85"/><circle cx="74.7" cy="239.4" r="0.85"/><circle cx="89.0" cy="214.7" r="0.85"/><circle cx="83.1" cy="223.9" r="0.85"/><circle cx="96.2" cy="230.2" r="0.85"/><circle cx="57.6" cy="247.7" r="0.85"/><circle cx="67.6" cy="227.1" r="0.85"/><circle cx="95.4" cy="243.6" r="0.85"/><circle cx="87.3" cy="212.2" r="0.85"/><circle cx="70.3" cy="245.6" r="0.85"/><circle cx="66.7" cy="238.5" r="0.85"/><circle cx="85.1" cy="214.8" r="0.85"/><circle cx="84.0" cy="237.8" r="0.85"/><circle cx="91.1" cy="223.4" r="0.85"/><circle cx="85.3" cy="232.9" r="0.85"/><circle cx="86.4" cy="213.9" r="0.85"/><circle cx="80.2" cy="222.1" r="0.85"/><circle cx="82.3" cy="232.6" r="0.85"/><circle cx="60.2" cy="230.7" r="0.85"/><circle cx="58.1" cy="221.4" r="0.85"/><circle cx="61.3" cy="234.6" r="0.85"/><circle cx="62.8" cy="220.0" r="0.85"/><circle cx="58.2" cy="241.8" r="0.85"/><circle cx="82.7" cy="229.9" r="0.85"/><circle cx="85.3" cy="225.1" r="0.85"/><circle cx="81.0" cy="220.4" r="0.85"/><circle cx="71.8" cy="233.9" r="0.85"/><circle cx="93.2" cy="245.8" r="0.85"/><circle cx="94.1" cy="234.4" r="0.85"/><circle cx="95.3" cy="231.3" r="0.85"/><circle cx="61.5" cy="230.2" r="0.85"/><circle cx="58.4" cy="237.1" r="0.85"/><circle cx="82.7" cy="232.6" r="0.85"/><circle cx="68.7" cy="208.0" r="0.85"/><circle cx="61.1" cy="240.6" r="0.85"/><circle cx="65.3" cy="236.2" r="0.85"/><circle cx="70.0" cy="223.0" r="0.85"/><circle cx="67.4" cy="226.5" r="0.85"/><circle cx="68.5" cy="222.7" r="0.85"/><circle cx="70.0" cy="212.5" r="0.85"/><circle cx="96.1" cy="224.9" r="0.85"/><circle cx="82.1" cy="236.6" r="0.85"/><circle cx="74.7" cy="227.7" r="0.85"/><circle cx="88.4" cy="213.1" r="0.85"/><circle cx="78.8" cy="239.6" r="0.85"/><circle cx="65.8" cy="228.6" r="0.85"/><circle cx="90.3" cy="220.9" r="0.85"/><circle cx="63.9" cy="232.9" r="0.85"/><circle cx="87.9" cy="225.6" r="0.85"/><circle cx="96.7" cy="238.3" r="0.85"/><circle cx="77.0" cy="225.9" r="0.85"/><circle cx="89.3" cy="230.6" r="0.85"/><circle cx="71.1" cy="237.3" r="0.85"/><circle cx="90.8" cy="223.3" r="0.85"/><circle cx="68.5" cy="251.8" r="0.85"/><circle cx="65.7" cy="220.4" r="0.85"/><circle cx="61.5" cy="210.0" r="0.85"/><circle cx="82.8" cy="242.4" r="0.85"/><circle cx="85.3" cy="234.9" r="0.85"/><circle cx="88.9" cy="216.5" r="0.85"/><circle cx="73.3" cy="216.1" r="0.85"/><circle cx="73.0" cy="229.1" r="0.85"/><circle cx="93.1" cy="221.8" r="0.85"/><circle cx="58.0" cy="227.8" r="0.85"/><circle cx="93.6" cy="233.8" r="0.85"/><circle cx="77.3" cy="241.2" r="0.85"/><circle cx="66.5" cy="208.9" r="0.85"/><circle cx="87.6" cy="228.8" r="0.85"/><circle cx="87.6" cy="217.7" r="0.85"/><circle cx="70.3" cy="215.3" r="0.85"/><circle cx="63.3" cy="234.4" r="0.85"/><circle cx="87.1" cy="208.5" r="0.85"/><circle cx="63.9" cy="232.6" r="0.85"/><circle cx="80.5" cy="234.1" r="0.85"/><circle cx="92.9" cy="234.2" r="0.85"/><circle cx="66.7" cy="228.8" r="0.85"/><circle cx="85.5" cy="234.2" r="0.85"/><circle cx="91.3" cy="229.1" r="0.85"/><circle cx="67.1" cy="230.8" r="0.85"/><circle cx="70.3" cy="217.4" r="0.85"/><circle cx="70.3" cy="224.4" r="0.85"/><circle cx="64.7" cy="243.1" r="0.85"/><circle cx="61.1" cy="222.0" r="0.85"/><circle cx="96.1" cy="234.2" r="0.85"/><circle cx="96.9" cy="232.0" r="0.85"/><circle cx="89.3" cy="223.9" r="0.85"/><circle cx="65.0" cy="210.8" r="0.85"/><circle cx="82.9" cy="231.4" r="0.85"/><circle cx="72.8" cy="230.2" r="0.85"/><circle cx="58.4" cy="237.0" r="0.85"/><circle cx="85.2" cy="225.4" r="0.85"/><circle cx="75.8" cy="234.9" r="0.85"/><circle cx="73.4" cy="237.1" r="0.85"/><circle cx="87.1" cy="235.3" r="0.85"/><circle cx="80.3" cy="217.5" r="0.85"/><circle cx="87.4" cy="216.7" r="0.85"/><circle cx="86.3" cy="229.3" r="0.85"/><circle cx="92.7" cy="228.1" r="0.85"/><circle cx="91.6" cy="217.0" r="0.85"/><circle cx="75.4" cy="207.5" r="0.85"/><circle cx="69.7" cy="221.1" r="0.85"/><circle cx="74.0" cy="221.0" r="0.85"/><circle cx="88.8" cy="221.0" r="0.85"/><circle cx="67.2" cy="211.9" r="0.85"/><circle cx="82.2" cy="231.1" r="0.85"/><circle cx="73.6" cy="211.0" r="0.85"/><circle cx="64.4" cy="211.9" r="0.85"/><circle cx="72.8" cy="227.4" r="0.85"/><circle cx="58.5" cy="217.6" r="0.85"/><circle cx="88.7" cy="223.3" r="0.85"/><circle cx="95.2" cy="219.1" r="0.85"/><circle cx="80.3" cy="224.7" r="0.85"/><circle cx="79.0" cy="222.1" r="0.85"/><circle cx="83.0" cy="209.2" r="0.85"/><circle cx="90.7" cy="211.4" r="0.85"/><circle cx="95.5" cy="223.6" r="0.85"/><circle cx="65.5" cy="219.9" r="0.85"/><circle cx="88.0" cy="212.8" r="0.85"/><circle cx="62.0" cy="235.8" r="0.85"/><circle cx="59.3" cy="224.2" r="0.85"/><circle cx="68.1" cy="223.7" r="0.85"/><circle cx="74.0" cy="226.6" r="0.85"/><circle cx="74.1" cy="221.4" r="0.85"/><circle cx="67.8" cy="213.2" r="0.85"/><circle cx="66.1" cy="223.7" r="0.85"/><circle cx="78.4" cy="229.3" r="0.85"/><circle cx="72.9" cy="244.9" r="0.85"/><circle cx="65.6" cy="238.6" r="0.85"/><circle cx="89.9" cy="239.3" r="0.85"/><circle cx="82.8" cy="208.0" r="0.85"/><circle cx="66.2" cy="228.2" r="0.85"/><circle cx="96.1" cy="213.5" r="0.85"/><circle cx="90.2" cy="238.0" r="0.85"/><circle cx="90.1" cy="214.1" r="0.85"/><circle cx="79.3" cy="227.3" r="0.85"/><circle cx="62.1" cy="230.7" r="0.85"/><circle cx="91.5" cy="214.3" r="0.85"/><circle cx="67.9" cy="217.9" r="0.85"/><circle cx="74.3" cy="231.4" r="0.85"/><circle cx="64.5" cy="243.1" r="0.85"/><circle cx="68.4" cy="225.8" r="0.85"/><circle cx="66.9" cy="220.4" r="0.85"/><circle cx="74.4" cy="237.4" r="0.85"/><circle cx="82.9" cy="218.4" r="0.85"/><circle cx="94.7" cy="214.4" r="0.85"/><circle cx="91.7" cy="244.8" r="0.85"/><circle cx="93.8" cy="232.7" r="0.85"/><circle cx="88.8" cy="238.7" r="0.85"/><circle cx="82.7" cy="241.5" r="0.85"/><circle cx="57.6" cy="252.5" r="0.85"/><circle cx="83.6" cy="227.5" r="0.85"/><circle cx="67.2" cy="230.4" r="0.85"/><circle cx="66.5" cy="229.1" r="0.85"/><circle cx="88.5" cy="221.0" r="0.85"/><circle cx="93.7" cy="230.7" r="0.85"/><circle cx="89.1" cy="236.9" r="0.85"/><circle cx="81.7" cy="245.7" r="0.85"/><circle cx="88.7" cy="211.1" r="0.85"/><circle cx="89.0" cy="229.4" r="0.85"/><circle cx="85.1" cy="217.7" r="0.85"/><circle cx="78.6" cy="224.7" r="0.85"/><circle cx="92.8" cy="210.6" r="0.85"/><circle cx="79.5" cy="224.6" r="0.85"/><circle cx="62.7" cy="233.5" r="0.85"/><circle cx="77.0" cy="237.0" r="0.85"/><circle cx="62.9" cy="229.9" r="0.85"/><circle cx="76.9" cy="208.2" r="0.85"/><circle cx="92.0" cy="225.7" r="0.85"/><circle cx="57.3" cy="232.2" r="0.85"/><circle cx="79.8" cy="212.4" r="0.85"/><circle cx="84.0" cy="231.2" r="0.85"/><circle cx="74.0" cy="214.2" r="0.85"/><circle cx="96.0" cy="239.4" r="0.85"/><circle cx="82.8" cy="232.6" r="0.85"/><circle cx="58.2" cy="209.3" r="0.85"/><circle cx="94.8" cy="212.1" r="0.85"/><circle cx="70.4" cy="238.6" r="0.85"/><circle cx="76.7" cy="223.6" r="0.85"/><circle cx="93.4" cy="242.6" r="0.85"/><circle cx="82.4" cy="229.2" r="0.85"/><circle cx="70.7" cy="232.3" r="0.85"/><circle cx="76.3" cy="215.4" r="0.85"/><circle cx="78.3" cy="226.5" r="0.85"/><circle cx="74.7" cy="216.0" r="0.85"/><circle cx="74.1" cy="216.8" r="0.85"/><circle cx="68.9" cy="230.7" r="0.85"/><circle cx="77.5" cy="213.0" r="0.85"/><circle cx="68.0" cy="224.0" r="0.85"/><circle cx="83.6" cy="228.1" r="0.85"/><circle cx="69.9" cy="213.5" r="0.85"/><circle cx="69.1" cy="208.6" r="0.85"/><circle cx="88.8" cy="215.3" r="0.85"/><circle cx="58.6" cy="220.6" r="0.85"/><circle cx="79.1" cy="234.3" r="0.85"/><circle cx="57.3" cy="228.4" r="0.85"/><circle cx="64.7" cy="238.8" r="0.85"/><circle cx="83.7" cy="216.5" r="0.85"/><circle cx="89.0" cy="238.3" r="0.85"/><circle cx="82.0" cy="215.3" r="0.85"/><circle cx="82.4" cy="219.3" r="0.85"/><circle cx="84.6" cy="207.9" r="0.85"/><circle cx="65.6" cy="217.9" r="0.85"/><circle cx="88.0" cy="212.2" r="0.85"/><circle cx="61.1" cy="226.8" r="0.85"/><circle cx="88.4" cy="228.2" r="0.85"/><circle cx="94.1" cy="218.1" r="0.85"/><circle cx="90.4" cy="214.5" r="0.85"/><circle cx="88.9" cy="215.6" r="0.85"/><circle cx="69.3" cy="221.4" r="0.85"/><circle cx="74.1" cy="219.4" r="0.85"/><circle cx="83.1" cy="236.1" r="0.85"/><circle cx="94.9" cy="238.9" r="0.85"/><circle cx="58.6" cy="230.3" r="0.85"/><circle cx="61.8" cy="230.8" r="0.85"/><circle cx="94.3" cy="208.6" r="0.85"/><circle cx="75.1" cy="236.3" r="0.85"/><circle cx="81.0" cy="226.5" r="0.85"/><circle cx="95.1" cy="237.9" r="0.85"/><circle cx="73.7" cy="223.6" r="0.85"/><circle cx="61.1" cy="219.6" r="0.85"/><circle cx="63.2" cy="217.9" r="0.85"/><circle cx="57.6" cy="242.2" r="0.85"/><circle cx="61.9" cy="226.0" r="0.85"/><circle cx="96.2" cy="244.4" r="0.85"/><circle cx="62.2" cy="237.2" r="0.85"/><circle cx="57.7" cy="223.5" r="0.85"/><circle cx="86.8" cy="215.4" r="0.85"/><circle cx="64.6" cy="243.5" r="0.85"/><circle cx="86.0" cy="231.4" r="0.85"/><circle cx="91.7" cy="224.8" r="0.85"/><circle cx="82.5" cy="219.7" r="0.85"/><circle cx="85.8" cy="231.8" r="0.85"/><circle cx="67.3" cy="242.5" r="0.85"/><circle cx="57.5" cy="220.6" r="0.85"/><circle cx="57.6" cy="210.6" r="0.85"/><circle cx="60.2" cy="217.1" r="0.85"/><circle cx="63.7" cy="242.0" r="0.85"/><circle cx="92.0" cy="220.6" r="0.85"/><circle cx="71.9" cy="225.8" r="0.85"/><circle cx="80.3" cy="231.7" r="0.85"/><circle cx="62.9" cy="228.6" r="0.85"/><circle cx="83.2" cy="212.9" r="0.85"/><circle cx="82.6" cy="213.6" r="0.85"/><circle cx="88.9" cy="230.9" r="0.85"/><circle cx="95.4" cy="228.6" r="0.85"/><circle cx="68.9" cy="208.0" r="0.85"/><circle cx="59.5" cy="242.4" r="0.85"/><circle cx="90.6" cy="222.0" r="0.85"/><circle cx="70.5" cy="232.8" r="0.85"/><circle cx="69.5" cy="209.1" r="0.85"/><circle cx="74.4" cy="233.7" r="0.85"/><circle cx="84.8" cy="216.8" r="0.85"/><circle cx="81.4" cy="241.4" r="0.85"/><circle cx="68.5" cy="210.2" r="0.85"/><circle cx="57.1" cy="224.3" r="0.85"/><circle cx="80.8" cy="237.0" r="0.85"/><circle cx="90.1" cy="228.0" r="0.85"/><circle cx="90.8" cy="222.8" r="0.85"/><circle cx="90.0" cy="235.1" r="0.85"/><circle cx="68.1" cy="212.1" r="0.85"/><circle cx="91.6" cy="231.4" r="0.85"/><circle cx="94.1" cy="222.2" r="0.85"/><circle cx="79.5" cy="229.3" r="0.85"/><circle cx="89.4" cy="231.1" r="0.85"/><circle cx="94.8" cy="242.9" r="0.85"/><circle cx="66.5" cy="209.2" r="0.85"/><circle cx="75.9" cy="212.5" r="0.85"/><circle cx="65.4" cy="224.8" r="0.85"/><circle cx="89.1" cy="243.8" r="0.85"/><circle cx="75.7" cy="242.5" r="0.85"/><circle cx="88.3" cy="235.9" r="0.85"/><circle cx="66.5" cy="211.3" r="0.85"/><circle cx="92.9" cy="209.9" r="0.85"/><circle cx="80.9" cy="223.3" r="0.85"/><circle cx="64.7" cy="228.0" r="0.85"/><circle cx="85.5" cy="232.0" r="0.85"/><circle cx="71.7" cy="212.6" r="0.85"/><circle cx="78.0" cy="220.0" r="0.85"/><circle cx="63.0" cy="235.9" r="0.85"/><circle cx="72.2" cy="237.7" r="0.85"/><circle cx="89.0" cy="235.1" r="0.85"/><circle cx="63.3" cy="215.0" r="0.85"/><circle cx="78.1" cy="218.2" r="0.85"/><circle cx="57.8" cy="232.5" r="0.85"/><circle cx="92.2" cy="207.6" r="0.85"/><circle cx="67.6" cy="226.7" r="0.85"/><circle cx="88.6" cy="237.4" r="0.85"/><circle cx="88.2" cy="237.4" r="0.85"/><circle cx="67.3" cy="232.7" r="0.85"/><circle cx="64.3" cy="227.2" r="0.85"/><circle cx="60.4" cy="238.8" r="0.85"/><circle cx="92.3" cy="229.9" r="0.85"/><circle cx="75.6" cy="248.3" r="0.85"/><circle cx="59.6" cy="215.6" r="0.85"/><circle cx="81.3" cy="219.9" r="0.85"/><circle cx="95.9" cy="228.8" r="0.85"/><circle cx="67.4" cy="207.3" r="0.85"/><circle cx="95.8" cy="217.7" r="0.85"/><circle cx="84.2" cy="213.7" r="0.85"/><circle cx="63.5" cy="233.0" r="0.85"/><circle cx="96.2" cy="233.3" r="0.85"/><circle cx="58.6" cy="225.0" r="0.85"/><circle cx="67.4" cy="207.6" r="0.85"/><circle cx="93.7" cy="244.5" r="0.85"/><circle cx="91.0" cy="244.0" r="0.85"/><circle cx="85.8" cy="231.1" r="0.85"/><circle cx="83.3" cy="229.2" r="0.85"/><circle cx="62.9" cy="225.1" r="0.85"/><circle cx="87.7" cy="240.8" r="0.85"/><circle cx="69.1" cy="217.7" r="0.85"/><circle cx="81.0" cy="225.8" r="0.85"/><circle cx="70.2" cy="219.0" r="0.85"/><circle cx="67.4" cy="234.5" r="0.85"/><circle cx="63.8" cy="234.4" r="0.85"/><circle cx="66.7" cy="235.8" r="0.85"/><circle cx="57.5" cy="238.5" r="0.85"/><circle cx="86.1" cy="226.5" r="0.85"/><circle cx="94.7" cy="228.3" r="0.85"/><circle cx="66.0" cy="245.7" r="0.85"/><circle cx="93.1" cy="214.3" r="0.85"/><circle cx="62.7" cy="219.6" r="0.85"/><circle cx="94.7" cy="227.1" r="0.85"/><circle cx="91.2" cy="215.0" r="0.85"/><circle cx="70.8" cy="214.5" r="0.85"/><circle cx="90.4" cy="227.7" r="0.85"/><circle cx="62.8" cy="226.2" r="0.85"/><circle cx="86.0" cy="229.2" r="0.85"/><circle cx="79.5" cy="239.2" r="0.85"/><circle cx="67.8" cy="243.1" r="0.85"/><circle cx="73.7" cy="230.4" r="0.85"/><circle cx="91.1" cy="232.8" r="0.85"/><circle cx="70.6" cy="231.8" r="0.85"/><circle cx="69.9" cy="236.6" r="0.85"/><circle cx="93.7" cy="248.5" r="0.85"/><circle cx="59.3" cy="245.6" r="0.85"/><circle cx="93.3" cy="220.8" r="0.85"/><circle cx="76.4" cy="217.2" r="0.85"/><circle cx="68.6" cy="225.0" r="0.85"/><circle cx="71.8" cy="232.9" r="0.85"/><circle cx="97.2" cy="250.5" r="0.85"/><circle cx="61.0" cy="225.1" r="0.85"/><circle cx="68.8" cy="228.5" r="0.85"/><circle cx="86.5" cy="222.6" r="0.85"/><circle cx="68.9" cy="227.5" r="0.85"/><circle cx="89.8" cy="225.2" r="0.85"/><circle cx="70.8" cy="225.9" r="0.85"/><circle cx="90.8" cy="226.0" r="0.85"/><circle cx="78.4" cy="230.1" r="0.85"/><circle cx="94.0" cy="236.3" r="0.85"/><circle cx="65.9" cy="218.7" r="0.85"/><circle cx="64.3" cy="222.2" r="0.85"/><circle cx="88.3" cy="223.3" r="0.85"/><circle cx="60.2" cy="216.6" r="0.85"/><circle cx="60.5" cy="212.9" r="0.85"/><circle cx="68.1" cy="215.3" r="0.85"/><circle cx="65.4" cy="208.9" r="0.85"/><circle cx="90.0" cy="211.4" r="0.85"/><circle cx="80.7" cy="226.7" r="0.85"/><circle cx="86.7" cy="229.4" r="0.85"/><circle cx="73.6" cy="224.7" r="0.85"/><circle cx="89.9" cy="220.9" r="0.85"/><circle cx="70.6" cy="237.5" r="0.85"/><circle cx="77.0" cy="249.5" r="0.85"/><circle cx="76.4" cy="227.8" r="0.85"/><circle cx="92.4" cy="224.6" r="0.85"/><circle cx="90.8" cy="232.5" r="0.85"/><circle cx="71.9" cy="231.0" r="0.85"/><circle cx="81.2" cy="234.6" r="0.85"/><circle cx="57.2" cy="210.5" r="0.85"/><circle cx="77.9" cy="223.6" r="0.85"/><circle cx="61.9" cy="219.9" r="0.85"/><circle cx="92.1" cy="216.1" r="0.85"/><circle cx="72.5" cy="241.1" r="0.85"/><circle cx="87.5" cy="246.2" r="0.85"/><circle cx="95.7" cy="233.9" r="0.85"/><circle cx="77.1" cy="208.5" r="0.85"/><circle cx="78.8" cy="224.1" r="0.85"/><circle cx="57.8" cy="233.2" r="0.85"/><circle cx="64.4" cy="223.5" r="0.85"/><circle cx="61.2" cy="225.4" r="0.85"/><circle cx="58.2" cy="245.8" r="0.85"/><circle cx="60.9" cy="222.6" r="0.85"/><circle cx="57.7" cy="216.8" r="0.85"/><circle cx="81.3" cy="210.5" r="0.85"/><circle cx="85.5" cy="217.7" r="0.85"/><circle cx="61.2" cy="237.4" r="0.85"/><circle cx="58.8" cy="209.4" r="0.85"/><circle cx="62.0" cy="209.2" r="0.85"/><circle cx="68.4" cy="226.0" r="0.85"/><circle cx="62.0" cy="219.3" r="0.85"/><circle cx="81.0" cy="228.8" r="0.85"/><circle cx="92.0" cy="234.1" r="0.85"/><circle cx="87.3" cy="237.0" r="0.85"/><circle cx="63.7" cy="237.4" r="0.85"/><circle cx="72.8" cy="235.6" r="0.85"/><circle cx="78.3" cy="241.5" r="0.85"/><circle cx="88.5" cy="220.1" r="0.85"/><circle cx="70.6" cy="232.4" r="0.85"/><circle cx="74.7" cy="245.2" r="0.85"/><circle cx="94.1" cy="222.5" r="0.85"/><circle cx="90.1" cy="227.6" r="0.85"/><circle cx="78.0" cy="221.7" r="0.85"/><circle cx="95.9" cy="233.1" r="0.85"/><circle cx="74.1" cy="221.3" r="0.85"/><circle cx="82.7" cy="214.3" r="0.85"/><circle cx="59.8" cy="235.7" r="0.85"/><circle cx="74.6" cy="222.7" r="0.85"/><circle cx="62.7" cy="225.4" r="0.85"/><circle cx="96.4" cy="229.8" r="0.85"/><circle cx="82.7" cy="233.8" r="0.85"/><circle cx="92.9" cy="240.9" r="0.85"/><circle cx="67.8" cy="228.9" r="0.85"/><circle cx="84.5" cy="223.0" r="0.85"/><circle cx="94.5" cy="239.1" r="0.85"/><circle cx="82.2" cy="225.4" r="0.85"/><circle cx="74.6" cy="238.8" r="0.85"/><circle cx="95.6" cy="222.7" r="0.85"/><circle cx="83.3" cy="234.6" r="0.85"/><circle cx="61.9" cy="214.6" r="0.85"/><circle cx="75.9" cy="224.6" r="0.85"/><circle cx="78.7" cy="228.9" r="0.85"/><circle cx="62.3" cy="230.0" r="0.85"/><circle cx="68.9" cy="216.0" r="0.85"/><circle cx="66.9" cy="230.5" r="0.85"/><circle cx="60.6" cy="217.9" r="0.85"/><circle cx="81.8" cy="207.3" r="0.85"/><circle cx="65.2" cy="216.9" r="0.85"/><circle cx="85.8" cy="208.5" r="0.85"/><circle cx="81.9" cy="228.9" r="0.85"/><circle cx="76.0" cy="221.7" r="0.85"/><circle cx="66.0" cy="233.1" r="0.85"/><circle cx="77.8" cy="211.8" r="0.85"/><circle cx="57.5" cy="235.3" r="0.85"/><circle cx="71.3" cy="230.7" r="0.85"/><circle cx="79.6" cy="217.7" r="0.85"/><circle cx="77.0" cy="216.6" r="0.85"/><circle cx="69.0" cy="226.4" r="0.85"/><circle cx="59.7" cy="217.4" r="0.85"/><circle cx="92.4" cy="220.9" r="0.85"/><circle cx="72.7" cy="226.9" r="0.85"/><circle cx="74.9" cy="224.9" r="0.85"/><circle cx="66.1" cy="218.9" r="0.85"/><circle cx="95.9" cy="224.9" r="0.85"/><circle cx="70.7" cy="217.5" r="0.85"/><circle cx="71.3" cy="216.8" r="0.85"/><circle cx="91.5" cy="208.4" r="0.85"/><circle cx="90.3" cy="223.0" r="0.85"/><circle cx="87.2" cy="226.3" r="0.85"/><circle cx="88.9" cy="209.8" r="0.85"/><circle cx="85.8" cy="230.4" r="0.85"/><circle cx="92.4" cy="221.8" r="0.85"/><circle cx="57.2" cy="226.9" r="0.85"/><circle cx="77.2" cy="207.2" r="0.85"/><circle cx="96.1" cy="212.5" r="0.85"/><circle cx="88.8" cy="219.2" r="0.85"/><circle cx="92.4" cy="214.9" r="0.85"/><circle cx="75.4" cy="217.0" r="0.85"/><circle cx="75.6" cy="223.6" r="0.85"/><circle cx="72.9" cy="214.1" r="0.85"/><circle cx="79.5" cy="216.4" r="0.85"/><circle cx="89.0" cy="231.9" r="0.85"/><circle cx="91.5" cy="210.5" r="0.85"/><circle cx="64.5" cy="225.5" r="0.85"/><circle cx="69.3" cy="234.3" r="0.85"/><circle cx="80.6" cy="236.9" r="0.85"/><circle cx="60.6" cy="234.0" r="0.85"/><circle cx="91.2" cy="219.6" r="0.85"/><circle cx="91.0" cy="232.7" r="0.85"/><circle cx="74.3" cy="223.1" r="0.85"/><circle cx="94.0" cy="228.9" r="0.85"/><circle cx="79.9" cy="225.7" r="0.85"/><circle cx="77.2" cy="242.1" r="0.85"/><circle cx="78.9" cy="214.0" r="0.85"/><circle cx="97.5" cy="208.9" r="0.85"/><circle cx="84.8" cy="223.7" r="0.85"/><circle cx="72.8" cy="213.8" r="0.85"/><circle cx="71.3" cy="237.0" r="0.85"/><circle cx="95.5" cy="218.0" r="0.85"/><circle cx="61.0" cy="210.3" r="0.85"/><circle cx="72.2" cy="211.0" r="0.85"/><circle cx="80.3" cy="233.7" r="0.85"/><circle cx="92.7" cy="237.9" r="0.85"/><circle cx="74.9" cy="222.0" r="0.85"/><circle cx="82.4" cy="235.6" r="0.85"/><circle cx="78.5" cy="225.2" r="0.85"/><circle cx="90.1" cy="230.1" r="0.85"/><circle cx="96.7" cy="234.0" r="0.85"/><circle cx="90.5" cy="218.8" r="0.85"/><circle cx="93.3" cy="225.0" r="0.85"/><circle cx="85.0" cy="239.9" r="0.85"/><circle cx="93.1" cy="218.4" r="0.85"/><circle cx="68.8" cy="228.6" r="0.85"/><circle cx="77.8" cy="216.5" r="0.85"/><circle cx="64.4" cy="225.2" r="0.85"/><circle cx="82.6" cy="215.2" r="0.85"/><circle cx="97.3" cy="217.7" r="0.85"/><circle cx="82.8" cy="236.4" r="0.85"/><circle cx="89.0" cy="228.5" r="0.85"/><circle cx="69.5" cy="225.1" r="0.85"/><circle cx="69.4" cy="224.4" r="0.85"/><circle cx="91.2" cy="207.8" r="0.85"/><circle cx="65.0" cy="214.9" r="0.85"/><circle cx="77.2" cy="215.2" r="0.85"/><circle cx="83.3" cy="221.9" r="0.85"/><circle cx="78.6" cy="239.9" r="0.85"/><circle cx="73.7" cy="225.2" r="0.85"/><circle cx="61.9" cy="235.8" r="0.85"/><circle cx="61.3" cy="241.0" r="0.85"/><circle cx="61.1" cy="231.9" r="0.85"/><circle cx="90.4" cy="237.2" r="0.85"/><circle cx="81.9" cy="226.9" r="0.85"/><circle cx="57.5" cy="220.8" r="0.85"/><circle cx="88.3" cy="215.8" r="0.85"/><circle cx="71.4" cy="241.1" r="0.85"/><circle cx="63.9" cy="224.8" r="0.85"/><circle cx="93.7" cy="230.5" r="0.85"/><circle cx="80.6" cy="216.7" r="0.85"/><circle cx="72.7" cy="235.3" r="0.85"/><circle cx="59.2" cy="236.7" r="0.85"/><circle cx="96.0" cy="213.9" r="0.85"/><circle cx="74.8" cy="217.8" r="0.85"/><circle cx="58.8" cy="218.3" r="0.85"/><circle cx="94.8" cy="231.3" r="0.85"/><circle cx="93.5" cy="216.0" r="0.85"/><circle cx="90.1" cy="219.3" r="0.85"/><circle cx="96.0" cy="239.6" r="0.85"/><circle cx="77.1" cy="233.3" r="0.85"/><circle cx="72.8" cy="222.3" r="0.85"/><circle cx="86.2" cy="227.2" r="0.85"/><circle cx="92.5" cy="234.8" r="0.85"/><circle cx="76.7" cy="227.7" r="0.85"/><circle cx="64.0" cy="215.5" r="0.85"/><circle cx="71.6" cy="236.9" r="0.85"/><circle cx="68.8" cy="252.5" r="0.85"/><circle cx="79.8" cy="235.7" r="0.85"/><circle cx="72.7" cy="234.5" r="0.85"/><circle cx="73.4" cy="230.7" r="0.85"/><circle cx="90.5" cy="227.8" r="0.85"/><circle cx="71.3" cy="225.7" r="0.85"/><circle cx="68.5" cy="232.7" r="0.85"/><circle cx="66.6" cy="241.4" r="0.85"/><circle cx="70.9" cy="229.0" r="0.85"/><circle cx="63.3" cy="223.8" r="0.85"/><circle cx="67.9" cy="219.6" r="0.85"/><circle cx="90.9" cy="233.8" r="0.85"/><circle cx="91.0" cy="234.1" r="0.85"/><circle cx="89.7" cy="231.0" r="0.85"/><circle cx="86.3" cy="234.1" r="0.85"/><circle cx="72.3" cy="232.8" r="0.85"/><circle cx="95.6" cy="223.1" r="0.85"/><circle cx="77.5" cy="227.2" r="0.85"/><circle cx="62.3" cy="237.5" r="0.85"/><circle cx="85.7" cy="223.5" r="0.85"/><circle cx="80.9" cy="249.0" r="0.85"/><circle cx="71.9" cy="225.9" r="0.85"/><circle cx="65.6" cy="240.6" r="0.85"/><circle cx="92.4" cy="235.0" r="0.85"/><circle cx="79.0" cy="234.7" r="0.85"/><circle cx="68.0" cy="227.0" r="0.85"/><circle cx="83.7" cy="212.0" r="0.85"/><circle cx="80.0" cy="220.4" r="0.85"/><circle cx="60.5" cy="235.6" r="0.85"/><circle cx="64.2" cy="231.2" r="0.85"/><circle cx="83.9" cy="215.7" r="0.85"/><circle cx="61.4" cy="213.3" r="0.85"/><circle cx="77.3" cy="220.5" r="0.85"/><circle cx="69.1" cy="234.2" r="0.85"/><circle cx="66.2" cy="229.3" r="0.85"/><circle cx="62.1" cy="223.2" r="0.85"/><circle cx="73.4" cy="214.4" r="0.85"/><circle cx="93.9" cy="229.1" r="0.85"/><circle cx="92.0" cy="231.5" r="0.85"/><circle cx="58.2" cy="232.0" r="0.85"/><circle cx="84.6" cy="218.8" r="0.85"/><circle cx="73.8" cy="214.4" r="0.85"/><circle cx="83.8" cy="222.2" r="0.85"/><circle cx="91.4" cy="215.5" r="0.85"/><circle cx="71.3" cy="219.4" r="0.85"/><circle cx="61.7" cy="219.1" r="0.85"/><circle cx="94.1" cy="223.3" r="0.85"/><circle cx="58.6" cy="231.8" r="0.85"/><circle cx="65.0" cy="227.1" r="0.85"/><circle cx="69.3" cy="222.6" r="0.85"/><circle cx="69.6" cy="227.6" r="0.85"/><circle cx="82.9" cy="234.5" r="0.85"/><circle cx="80.1" cy="244.5" r="0.85"/><circle cx="86.1" cy="225.1" r="0.85"/><circle cx="84.8" cy="237.2" r="0.85"/><circle cx="71.2" cy="246.4" r="0.85"/><circle cx="88.5" cy="225.6" r="0.85"/><circle cx="68.6" cy="246.3" r="0.85"/><circle cx="81.7" cy="231.3" r="0.85"/><circle cx="58.9" cy="225.7" r="0.85"/><circle cx="89.1" cy="230.8" r="0.85"/><circle cx="65.5" cy="241.2" r="0.85"/><circle cx="60.5" cy="213.7" r="0.85"/><circle cx="85.2" cy="207.4" r="0.85"/><circle cx="90.6" cy="236.8" r="0.85"/><circle cx="68.4" cy="248.0" r="0.85"/><circle cx="74.2" cy="239.7" r="0.85"/><circle cx="94.8" cy="217.3" r="0.85"/><circle cx="90.7" cy="214.9" r="0.85"/><circle cx="59.2" cy="214.5" r="0.85"/><circle cx="85.3" cy="210.5" r="0.85"/><circle cx="94.7" cy="231.2" r="0.85"/><circle cx="62.2" cy="225.7" r="0.85"/><circle cx="85.5" cy="221.4" r="0.85"/><circle cx="89.7" cy="224.3" r="0.85"/><circle cx="96.4" cy="239.3" r="0.85"/><circle cx="82.9" cy="215.4" r="0.85"/><circle cx="59.4" cy="222.6" r="0.85"/><circle cx="71.5" cy="217.6" r="0.85"/><circle cx="69.6" cy="229.4" r="0.85"/><circle cx="62.5" cy="220.0" r="0.85"/><circle cx="66.7" cy="226.2" r="0.85"/><circle cx="75.1" cy="238.7" r="0.85"/><circle cx="95.0" cy="218.5" r="0.85"/><circle cx="92.9" cy="233.0" r="0.85"/><circle cx="62.8" cy="214.0" r="0.85"/><circle cx="90.1" cy="220.7" r="0.85"/><circle cx="79.3" cy="225.9" r="0.85"/><circle cx="84.1" cy="217.1" r="0.85"/><circle cx="81.3" cy="230.0" r="0.85"/><circle cx="90.7" cy="232.3" r="0.85"/><circle cx="71.6" cy="231.5" r="0.85"/><circle cx="65.4" cy="233.8" r="0.85"/><circle cx="65.0" cy="228.8" r="0.85"/><circle cx="85.5" cy="219.1" r="0.85"/><circle cx="70.2" cy="227.2" r="0.85"/><circle cx="76.0" cy="220.0" r="0.85"/><circle cx="59.9" cy="230.6" r="0.85"/><circle cx="57.4" cy="243.8" r="0.85"/><circle cx="60.4" cy="224.4" r="0.85"/><circle cx="86.1" cy="239.6" r="0.85"/><circle cx="61.4" cy="223.3" r="0.85"/><circle cx="76.8" cy="217.3" r="0.85"/><circle cx="79.0" cy="228.4" r="0.85"/><circle cx="57.3" cy="239.3" r="0.85"/><circle cx="82.5" cy="215.8" r="0.85"/><circle cx="95.0" cy="219.4" r="0.85"/><circle cx="67.0" cy="216.9" r="0.85"/><circle cx="62.6" cy="244.2" r="0.85"/><circle cx="91.1" cy="228.8" r="0.85"/><circle cx="69.0" cy="231.7" r="0.85"/><circle cx="91.3" cy="239.9" r="0.85"/><circle cx="94.6" cy="234.9" r="0.85"/><circle cx="90.7" cy="242.3" r="0.85"/><circle cx="87.1" cy="221.4" r="0.85"/><circle cx="90.5" cy="231.7" r="0.85"/><circle cx="70.0" cy="213.6" r="0.85"/><circle cx="72.0" cy="235.7" r="0.85"/><circle cx="90.8" cy="225.7" r="0.85"/><circle cx="80.0" cy="228.7" r="0.85"/><circle cx="82.5" cy="232.8" r="0.85"/><circle cx="93.8" cy="237.6" r="0.85"/><circle cx="77.3" cy="220.0" r="0.85"/><circle cx="63.4" cy="219.9" r="0.85"/><circle cx="60.3" cy="239.3" r="0.85"/><circle cx="84.9" cy="231.6" r="0.85"/><circle cx="96.4" cy="235.7" r="0.85"/><circle cx="60.6" cy="237.0" r="0.85"/><circle cx="64.7" cy="228.4" r="0.85"/><circle cx="86.4" cy="246.6" r="0.85"/><circle cx="91.7" cy="225.9" r="0.85"/><circle cx="88.9" cy="215.4" r="0.85"/><circle cx="83.9" cy="229.6" r="0.85"/><circle cx="77.9" cy="214.4" r="0.85"/><circle cx="74.8" cy="230.3" r="0.85"/><circle cx="84.0" cy="236.5" r="0.85"/><circle cx="63.7" cy="221.2" r="0.85"/><circle cx="79.9" cy="236.9" r="0.85"/><circle cx="71.1" cy="227.1" r="0.85"/><circle cx="70.1" cy="229.9" r="0.85"/><circle cx="75.7" cy="249.2" r="0.85"/><circle cx="92.1" cy="220.1" r="0.85"/><circle cx="96.6" cy="240.4" r="0.85"/><circle cx="89.9" cy="220.9" r="0.85"/><circle cx="59.4" cy="217.0" r="0.85"/><circle cx="69.1" cy="208.5" r="0.85"/><circle cx="80.2" cy="237.5" r="0.85"/><circle cx="83.3" cy="220.9" r="0.85"/><circle cx="69.2" cy="209.5" r="0.85"/><circle cx="58.1" cy="244.6" r="0.85"/><circle cx="64.7" cy="219.0" r="0.85"/><circle cx="60.5" cy="211.9" r="0.85"/><circle cx="83.8" cy="212.8" r="0.85"/><circle cx="73.9" cy="235.9" r="0.85"/><circle cx="78.5" cy="212.7" r="0.85"/><circle cx="61.6" cy="220.0" r="0.85"/><circle cx="64.3" cy="236.2" r="0.85"/><circle cx="61.6" cy="214.4" r="0.85"/><circle cx="92.0" cy="225.4" r="0.85"/><circle cx="78.5" cy="230.4" r="0.85"/><circle cx="67.2" cy="207.9" r="0.85"/><circle cx="66.2" cy="226.4" r="0.85"/><circle cx="80.3" cy="235.5" r="0.85"/><circle cx="80.9" cy="234.1" r="0.85"/><circle cx="60.3" cy="221.0" r="0.85"/><circle cx="74.8" cy="227.8" r="0.85"/><circle cx="92.1" cy="218.6" r="0.85"/><circle cx="87.7" cy="250.8" r="0.85"/><circle cx="86.3" cy="247.7" r="0.85"/><circle cx="61.1" cy="230.8" r="0.85"/><circle cx="64.0" cy="213.4" r="0.85"/><circle cx="96.0" cy="216.3" r="0.85"/><circle cx="62.6" cy="226.1" r="0.85"/><circle cx="66.6" cy="220.8" r="0.85"/><circle cx="72.1" cy="240.2" r="0.85"/><circle cx="65.7" cy="226.9" r="0.85"/><circle cx="69.2" cy="221.6" r="0.85"/><circle cx="93.1" cy="211.4" r="0.85"/><circle cx="82.2" cy="235.3" r="0.85"/><circle cx="94.3" cy="212.7" r="0.85"/><circle cx="92.4" cy="234.5" r="0.85"/><circle cx="70.9" cy="241.3" r="0.85"/><circle cx="88.0" cy="214.5" r="0.85"/><circle cx="62.0" cy="209.7" r="0.85"/><circle cx="95.5" cy="238.4" r="0.85"/><circle cx="86.3" cy="239.9" r="0.85"/><circle cx="61.0" cy="229.5" r="0.85"/><circle cx="79.3" cy="227.3" r="0.85"/><circle cx="94.6" cy="219.1" r="0.85"/><circle cx="84.4" cy="225.2" r="0.85"/><circle cx="75.1" cy="232.7" r="0.85"/><circle cx="91.0" cy="219.6" r="0.85"/><circle cx="57.9" cy="222.2" r="0.85"/><circle cx="61.5" cy="227.7" r="0.85"/><circle cx="79.5" cy="217.1" r="0.85"/><circle cx="68.8" cy="220.3" r="0.85"/><circle cx="62.9" cy="213.0" r="0.85"/><circle cx="92.5" cy="220.4" r="0.85"/><circle cx="89.8" cy="227.2" r="0.85"/><circle cx="70.9" cy="224.8" r="0.85"/><circle cx="63.1" cy="225.2" r="0.85"/><circle cx="89.5" cy="232.3" r="0.85"/><circle cx="90.2" cy="227.0" r="0.85"/><circle cx="84.6" cy="213.2" r="0.85"/><circle cx="63.4" cy="233.3" r="0.85"/><circle cx="91.3" cy="239.4" r="0.85"/><circle cx="81.8" cy="234.2" r="0.85"/><circle cx="65.8" cy="230.0" r="0.85"/><circle cx="93.3" cy="222.0" r="0.85"/><circle cx="63.9" cy="223.3" r="0.85"/><circle cx="71.7" cy="207.7" r="0.85"/><circle cx="72.7" cy="228.4" r="0.85"/><circle cx="71.4" cy="240.0" r="0.85"/><circle cx="70.6" cy="226.0" r="0.85"/><circle cx="57.8" cy="233.6" r="0.85"/><circle cx="58.8" cy="235.5" r="0.85"/><circle cx="68.1" cy="238.5" r="0.85"/><circle cx="68.1" cy="214.7" r="0.85"/><circle cx="80.1" cy="225.5" r="0.85"/><circle cx="78.4" cy="214.0" r="0.85"/><circle cx="58.4" cy="216.6" r="0.85"/><circle cx="92.4" cy="227.9" r="0.85"/><circle cx="82.8" cy="218.1" r="0.85"/><circle cx="89.3" cy="232.3" r="0.85"/><circle cx="92.4" cy="240.9" r="0.85"/><circle cx="69.3" cy="217.6" r="0.85"/><circle cx="88.0" cy="224.4" r="0.85"/><circle cx="82.8" cy="209.0" r="0.85"/><circle cx="71.2" cy="212.1" r="0.85"/><circle cx="59.5" cy="221.1" r="0.85"/><circle cx="70.7" cy="207.1" r="0.85"/><circle cx="76.5" cy="254.9" r="0.85"/><circle cx="71.9" cy="225.8" r="0.85"/><circle cx="71.2" cy="233.5" r="0.85"/><circle cx="62.5" cy="247.7" r="0.85"/><circle cx="75.4" cy="226.5" r="0.85"/><circle cx="75.1" cy="214.8" r="0.85"/><circle cx="63.9" cy="220.6" r="0.85"/><circle cx="59.7" cy="221.7" r="0.85"/><circle cx="86.5" cy="234.5" r="0.85"/><circle cx="79.4" cy="234.8" r="0.85"/><circle cx="94.4" cy="220.7" r="0.85"/><circle cx="80.7" cy="231.5" r="0.85"/><circle cx="80.6" cy="228.8" r="0.85"/><circle cx="97.1" cy="210.6" r="0.85"/><circle cx="74.4" cy="240.4" r="0.85"/><circle cx="92.3" cy="237.0" r="0.85"/><circle cx="93.5" cy="230.7" r="0.85"/><circle cx="68.2" cy="225.4" r="0.85"/><circle cx="63.7" cy="227.9" r="0.85"/><circle cx="67.9" cy="222.7" r="0.85"/><circle cx="73.2" cy="216.2" r="0.85"/><circle cx="65.1" cy="208.8" r="0.85"/><circle cx="83.3" cy="231.4" r="0.85"/><circle cx="96.1" cy="242.4" r="0.85"/><circle cx="81.4" cy="243.1" r="0.85"/><circle cx="92.5" cy="235.1" r="0.85"/><circle cx="70.9" cy="230.1" r="0.85"/><circle cx="78.8" cy="230.9" r="0.85"/><circle cx="92.5" cy="227.8" r="0.85"/><circle cx="87.4" cy="235.0" r="0.85"/><circle cx="83.3" cy="208.2" r="0.85"/><circle cx="70.7" cy="234.8" r="0.85"/><circle cx="59.3" cy="221.9" r="0.85"/><circle cx="82.4" cy="227.2" r="0.85"/><circle cx="70.6" cy="226.0" r="0.85"/><circle cx="67.4" cy="223.3" r="0.85"/><circle cx="94.6" cy="225.9" r="0.85"/><circle cx="79.9" cy="229.2" r="0.85"/><circle cx="81.9" cy="225.1" r="0.85"/><circle cx="86.4" cy="222.6" r="0.85"/><circle cx="63.3" cy="229.8" r="0.85"/><circle cx="62.8" cy="226.0" r="0.85"/><circle cx="90.0" cy="219.5" r="0.85"/><circle cx="74.2" cy="207.6" r="0.85"/><circle cx="79.5" cy="221.1" r="0.85"/><circle cx="83.7" cy="215.5" r="0.85"/><circle cx="87.1" cy="218.1" r="0.85"/><circle cx="67.5" cy="219.8" r="0.85"/><circle cx="88.5" cy="216.8" r="0.85"/><circle cx="96.7" cy="243.1" r="0.85"/><circle cx="75.4" cy="222.5" r="0.85"/><circle cx="95.2" cy="238.7" r="0.85"/><circle cx="62.4" cy="238.0" r="0.85"/><circle cx="83.6" cy="226.2" r="0.85"/><circle cx="88.4" cy="250.8" r="0.85"/><circle cx="66.3" cy="225.7" r="0.85"/><circle cx="58.1" cy="219.5" r="0.85"/><circle cx="62.4" cy="237.6" r="0.85"/><circle cx="79.5" cy="230.3" r="0.85"/><circle cx="64.4" cy="235.3" r="0.85"/><circle cx="63.1" cy="220.6" r="0.85"/><circle cx="64.2" cy="223.1" r="0.85"/><circle cx="63.6" cy="244.3" r="0.85"/><circle cx="66.8" cy="229.0" r="0.85"/><circle cx="96.9" cy="225.6" r="0.85"/><circle cx="71.0" cy="229.3" r="0.85"/><circle cx="70.1" cy="210.9" r="0.85"/><circle cx="93.7" cy="239.4" r="0.85"/><circle cx="59.7" cy="236.7" r="0.85"/><circle cx="83.2" cy="238.2" r="0.85"/><circle cx="59.4" cy="212.4" r="0.85"/><circle cx="94.3" cy="219.9" r="0.85"/><circle cx="95.4" cy="218.6" r="0.85"/><circle cx="67.2" cy="218.4" r="0.85"/><circle cx="67.7" cy="216.3" r="0.85"/><circle cx="65.3" cy="228.7" r="0.85"/><circle cx="87.8" cy="218.2" r="0.85"/><circle cx="97.4" cy="216.4" r="0.85"/><circle cx="65.8" cy="218.2" r="0.85"/><circle cx="92.0" cy="222.1" r="0.85"/><circle cx="92.3" cy="223.0" r="0.85"/><circle cx="90.4" cy="243.7" r="0.85"/><circle cx="68.5" cy="217.7" r="0.85"/><circle cx="93.2" cy="236.6" r="0.85"/><circle cx="63.6" cy="217.8" r="0.85"/><circle cx="75.4" cy="208.4" r="0.85"/><circle cx="80.5" cy="231.1" r="0.85"/><circle cx="92.9" cy="219.1" r="0.85"/><circle cx="71.6" cy="229.6" r="0.85"/><circle cx="64.4" cy="248.9" r="0.85"/><circle cx="69.1" cy="230.8" r="0.85"/><circle cx="96.6" cy="226.3" r="0.85"/><circle cx="57.4" cy="230.8" r="0.85"/><circle cx="86.9" cy="221.3" r="0.85"/><circle cx="61.0" cy="233.6" r="0.85"/><circle cx="60.7" cy="240.0" r="0.85"/><circle cx="70.8" cy="240.7" r="0.85"/><circle cx="92.8" cy="214.7" r="0.85"/><circle cx="96.8" cy="233.4" r="0.85"/><circle cx="89.2" cy="227.2" r="0.85"/><circle cx="85.0" cy="238.2" r="0.85"/><circle cx="66.4" cy="228.6" r="0.85"/><circle cx="74.5" cy="227.2" r="0.85"/><circle cx="97.2" cy="226.9" r="0.85"/><circle cx="69.8" cy="229.5" r="0.85"/><circle cx="76.8" cy="220.6" r="0.85"/><circle cx="62.5" cy="217.7" r="0.85"/><circle cx="84.8" cy="228.5" r="0.85"/><circle cx="63.0" cy="224.3" r="0.85"/><circle cx="61.6" cy="209.2" r="0.85"/><circle cx="71.4" cy="226.1" r="0.85"/><circle cx="71.2" cy="231.8" r="0.85"/><circle cx="92.9" cy="253.6" r="0.85"/><circle cx="86.7" cy="224.3" r="0.85"/><circle cx="67.7" cy="232.3" r="0.85"/><circle cx="59.8" cy="238.1" r="0.85"/><circle cx="73.6" cy="229.0" r="0.85"/><circle cx="79.6" cy="224.2" r="0.85"/><circle cx="84.9" cy="226.7" r="0.85"/><circle cx="83.5" cy="208.7" r="0.85"/><circle cx="85.0" cy="220.7" r="0.85"/><circle cx="96.9" cy="237.8" r="0.85"/><circle cx="73.2" cy="209.8" r="0.85"/><circle cx="69.9" cy="239.9" r="0.85"/><circle cx="72.7" cy="214.8" r="0.85"/><circle cx="62.8" cy="233.0" r="0.85"/><circle cx="97.5" cy="240.5" r="0.85"/><circle cx="94.6" cy="226.0" r="0.85"/><circle cx="67.3" cy="215.1" r="0.85"/><circle cx="66.8" cy="216.8" r="0.85"/><circle cx="65.1" cy="241.3" r="0.85"/><circle cx="88.8" cy="239.6" r="0.85"/><circle cx="93.9" cy="241.6" r="0.85"/><circle cx="70.2" cy="230.7" r="0.85"/><circle cx="83.2" cy="214.0" r="0.85"/><circle cx="96.4" cy="221.8" r="0.85"/><circle cx="57.0" cy="224.9" r="0.85"/><circle cx="77.7" cy="227.0" r="0.85"/><circle cx="87.2" cy="240.9" r="0.85"/><circle cx="72.4" cy="222.2" r="0.85"/><circle cx="78.4" cy="212.0" r="0.85"/><circle cx="81.9" cy="220.1" r="0.85"/><circle cx="82.5" cy="214.5" r="0.85"/><circle cx="79.0" cy="228.0" r="0.85"/><circle cx="67.8" cy="240.4" r="0.85"/><circle cx="93.9" cy="228.4" r="0.85"/><circle cx="78.2" cy="215.8" r="0.85"/><circle cx="62.8" cy="226.6" r="0.85"/><circle cx="94.6" cy="208.9" r="0.85"/><circle cx="78.4" cy="222.5" r="0.85"/><circle cx="90.0" cy="226.0" r="0.85"/><circle cx="90.4" cy="232.2" r="0.85"/><circle cx="75.7" cy="209.0" r="0.85"/><circle cx="93.3" cy="227.7" r="0.85"/><circle cx="72.5" cy="222.5" r="0.85"/><circle cx="90.8" cy="227.8" r="0.85"/><circle cx="63.2" cy="219.0" r="0.85"/><circle cx="67.2" cy="233.7" r="0.85"/><circle cx="89.6" cy="231.7" r="0.85"/><circle cx="78.2" cy="219.8" r="0.85"/><circle cx="73.1" cy="226.9" r="0.85"/><circle cx="97.5" cy="220.4" r="0.85"/><circle cx="76.4" cy="211.2" r="0.85"/><circle cx="89.4" cy="225.8" r="0.85"/><circle cx="84.6" cy="217.6" r="0.85"/><circle cx="71.9" cy="215.4" r="0.85"/><circle cx="72.1" cy="224.2" r="0.85"/><circle cx="70.8" cy="223.6" r="0.85"/><circle cx="65.2" cy="226.9" r="0.85"/><circle cx="80.2" cy="231.9" r="0.85"/><circle cx="86.2" cy="227.9" r="0.85"/><circle cx="68.1" cy="220.9" r="0.85"/><circle cx="90.9" cy="232.8" r="0.85"/><circle cx="60.7" cy="207.5" r="0.85"/><circle cx="65.2" cy="234.6" r="0.85"/><circle cx="82.1" cy="222.6" r="0.85"/><circle cx="75.0" cy="227.9" r="0.85"/><circle cx="71.9" cy="222.8" r="0.85"/><circle cx="73.6" cy="214.2" r="0.85"/><circle cx="83.3" cy="229.3" r="0.85"/><circle cx="72.6" cy="213.5" r="0.85"/><circle cx="80.5" cy="231.9" r="0.85"/><circle cx="96.4" cy="221.4" r="0.85"/><circle cx="85.9" cy="211.2" r="0.85"/><circle cx="70.4" cy="237.2" r="0.85"/><circle cx="59.9" cy="225.9" r="0.85"/><circle cx="78.3" cy="212.0" r="0.85"/><circle cx="77.2" cy="240.6" r="0.85"/><circle cx="58.0" cy="211.9" r="0.85"/><circle cx="81.1" cy="210.5" r="0.85"/><circle cx="91.1" cy="228.4" r="0.85"/><circle cx="73.8" cy="229.3" r="0.85"/><circle cx="74.9" cy="208.9" r="0.85"/><circle cx="90.5" cy="226.2" r="0.85"/><circle cx="84.2" cy="224.7" r="0.85"/><circle cx="58.6" cy="211.5" r="0.85"/><circle cx="84.6" cy="217.6" r="0.85"/><circle cx="88.3" cy="231.2" r="0.85"/><circle cx="60.1" cy="230.8" r="0.85"/><circle cx="90.2" cy="229.3" r="0.85"/><circle cx="87.6" cy="228.3" r="0.85"/><circle cx="79.9" cy="241.1" r="0.85"/><circle cx="85.9" cy="231.1" r="0.85"/><circle cx="76.6" cy="241.4" r="0.85"/><circle cx="74.0" cy="231.2" r="0.85"/><circle cx="80.7" cy="245.8" r="0.85"/><circle cx="92.4" cy="225.2" r="0.85"/><circle cx="62.9" cy="217.0" r="0.85"/><circle cx="57.2" cy="237.0" r="0.85"/><circle cx="97.1" cy="223.8" r="0.85"/><circle cx="69.7" cy="234.0" r="0.85"/><circle cx="67.4" cy="234.4" r="0.85"/><circle cx="77.7" cy="211.8" r="0.85"/><circle cx="74.1" cy="234.4" r="0.85"/><circle cx="92.2" cy="228.5" r="0.85"/><circle cx="89.6" cy="230.8" r="0.85"/><circle cx="65.2" cy="217.1" r="0.85"/><circle cx="59.1" cy="212.4" r="0.85"/><circle cx="75.8" cy="222.4" r="0.85"/><circle cx="76.9" cy="214.1" r="0.85"/><circle cx="89.5" cy="218.8" r="0.85"/><circle cx="65.1" cy="237.8" r="0.85"/><circle cx="59.1" cy="216.9" r="0.85"/><circle cx="69.8" cy="211.6" r="0.85"/><circle cx="79.9" cy="222.6" r="0.85"/><circle cx="70.1" cy="221.9" r="0.85"/><circle cx="68.8" cy="244.9" r="0.85"/><circle cx="85.8" cy="230.3" r="0.85"/><circle cx="75.5" cy="207.9" r="0.85"/><circle cx="95.0" cy="233.2" r="0.85"/><circle cx="59.3" cy="207.4" r="0.85"/><circle cx="59.0" cy="231.9" r="0.85"/><circle cx="92.0" cy="238.8" r="0.85"/><circle cx="64.3" cy="232.0" r="0.85"/><circle cx="94.4" cy="216.2" r="0.85"/><circle cx="77.2" cy="215.9" r="0.85"/><circle cx="69.0" cy="207.0" r="0.85"/><circle cx="65.6" cy="228.8" r="0.85"/><circle cx="94.3" cy="218.9" r="0.85"/><circle cx="65.4" cy="229.5" r="0.85"/><circle cx="88.8" cy="228.4" r="0.85"/><circle cx="95.6" cy="208.0" r="0.85"/><circle cx="67.5" cy="233.7" r="0.85"/><circle cx="93.8" cy="222.3" r="0.85"/><circle cx="59.3" cy="218.1" r="0.85"/><circle cx="85.2" cy="245.7" r="0.85"/><circle cx="68.9" cy="230.9" r="0.85"/><circle cx="66.4" cy="214.9" r="0.85"/><circle cx="79.8" cy="219.5" r="0.85"/><circle cx="63.3" cy="233.8" r="0.85"/><circle cx="91.2" cy="219.0" r="0.85"/><circle cx="63.2" cy="234.9" r="0.85"/><circle cx="72.9" cy="236.0" r="0.85"/><circle cx="83.0" cy="227.7" r="0.85"/><circle cx="66.1" cy="219.6" r="0.85"/><circle cx="75.9" cy="223.8" r="0.85"/><circle cx="86.6" cy="232.6" r="0.85"/><circle cx="61.6" cy="228.2" r="0.85"/><circle cx="94.5" cy="219.3" r="0.85"/><circle cx="97.4" cy="238.0" r="0.85"/><circle cx="68.8" cy="219.2" r="0.85"/><circle cx="71.1" cy="225.5" r="0.85"/><circle cx="94.8" cy="209.2" r="0.85"/><circle cx="60.8" cy="227.6" r="0.85"/><circle cx="81.3" cy="219.7" r="0.85"/><circle cx="62.7" cy="224.0" r="0.85"/><circle cx="68.0" cy="242.1" r="0.85"/><circle cx="66.2" cy="208.8" r="0.85"/><circle cx="94.5" cy="240.1" r="0.85"/><circle cx="96.3" cy="228.5" r="0.85"/><circle cx="71.0" cy="240.6" r="0.85"/><circle cx="59.0" cy="218.6" r="0.85"/><circle cx="70.5" cy="215.6" r="0.85"/><circle cx="87.1" cy="228.1" r="0.85"/><circle cx="64.3" cy="227.7" r="0.85"/><circle cx="59.8" cy="214.1" r="0.85"/><circle cx="79.7" cy="237.0" r="0.85"/><circle cx="89.0" cy="233.4" r="0.85"/><circle cx="81.2" cy="222.0" r="0.85"/><circle cx="77.8" cy="226.2" r="0.85"/><circle cx="60.9" cy="221.0" r="0.85"/><circle cx="80.5" cy="219.6" r="0.85"/><circle cx="71.3" cy="211.1" r="0.85"/><circle cx="63.7" cy="237.0" r="0.85"/><circle cx="63.9" cy="234.7" r="0.85"/><circle cx="91.2" cy="221.0" r="0.85"/><circle cx="92.5" cy="217.7" r="0.85"/><circle cx="60.8" cy="226.3" r="0.85"/><circle cx="92.7" cy="235.0" r="0.85"/><circle cx="78.8" cy="234.1" r="0.85"/><circle cx="61.8" cy="217.4" r="0.85"/><circle cx="78.7" cy="226.8" r="0.85"/><circle cx="77.6" cy="219.3" r="0.85"/><circle cx="73.4" cy="230.9" r="0.85"/><circle cx="65.3" cy="231.2" r="0.85"/><circle cx="92.4" cy="231.3" r="0.85"/><circle cx="77.4" cy="227.0" r="0.85"/><circle cx="95.3" cy="224.0" r="0.85"/><circle cx="76.8" cy="229.1" r="0.85"/><circle cx="85.0" cy="208.1" r="0.85"/><circle cx="66.3" cy="225.5" r="0.85"/><circle cx="67.7" cy="217.5" r="0.85"/><circle cx="58.3" cy="212.4" r="0.85"/><circle cx="68.9" cy="233.8" r="0.85"/><circle cx="93.2" cy="238.0" r="0.85"/><circle cx="66.5" cy="232.8" r="0.85"/><circle cx="81.2" cy="229.2" r="0.85"/><circle cx="59.5" cy="225.9" r="0.85"/><circle cx="96.9" cy="240.4" r="0.85"/><circle cx="58.7" cy="209.8" r="0.85"/><circle cx="90.1" cy="211.1" r="0.85"/><circle cx="70.9" cy="230.0" r="0.85"/><circle cx="94.4" cy="211.2" r="0.85"/><circle cx="57.4" cy="236.0" r="0.85"/><circle cx="73.5" cy="220.3" r="0.85"/><circle cx="60.6" cy="253.7" r="0.85"/><circle cx="86.8" cy="256.8" r="0.85"/><circle cx="63.1" cy="254.4" r="0.85"/><circle cx="62.7" cy="253.4" r="0.85"/><circle cx="65.9" cy="254.3" r="0.85"/><circle cx="96.6" cy="259.0" r="0.85"/><circle cx="89.1" cy="255.4" r="0.85"/><circle cx="77.2" cy="257.5" r="0.85"/></g>
<line x1="132.30" y1="203.50" x2="159.20" y2="203.50" stroke="#333" stroke-width="1.00"/>
<line x1="132.30" y1="250.50" x2="159.20" y2="250.50" stroke="#333" stroke-width="1.00"/>
<rect x="118.50" y="216.50" width="55.00" height="15.00" fill="none" stroke="#444" stroke-width="1.0"/>
<line x1="118.50" y1="223.50" x2="173.50" y2="223.50" stroke="#111" stroke-width="1.70"/>
<g fill="#3e3e8c" fill-opacity="0.40"><circle cx="162.7" cy="223.6" r="0.85"/><circle cx="133.9" cy="224.6" r="0.85"/><circle cx="154.9" cy="217.7" r="0.85"/><circle cx="140.0" cy="238.5" r="0.85"/><circle cx="153.1" cy="247.8" r="0.85"/><circle cx="156.1" cy="237.2" r="0.85"/><circle cx="163.8" cy="239.0" r="0.85"/><circle cx="162.5" cy="222.7" r="0.85"/><circle cx="158.4" cy="211.3" r="0.85"/><circle cx="159.3" cy="215.7" r="0.85"/><circle cx="157.6" cy="229.9" r="0.85"/><circle cx="164.8" cy="215.2" r="0.85"/><circle cx="147.4" cy="228.6" r="0.85"/><circle cx="165.1" cy="221.3" r="0.85"/><circle cx="157.8" cy="223.2" r="0.85"/><circle cx="135.2" cy="244.5" r="0.85"/><circle cx="133.8" cy="213.9" r="0.85"/><circle cx="145.8" cy="225.6" r="0.85"/><circle cx="162.7" cy="215.1" r="0.85"/><circle cx="141.7" cy="227.6" r="0.85"/><circle cx="153.5" cy="242.7" r="0.85"/><circle cx="142.3" cy="214.5" r="0.85"/><circle cx="129.3" cy="208.7" r="0.85"/><circle cx="139.6" cy="209.1" r="0.85"/><circle cx="158.0" cy="236.2" r="0.85"/><circle cx="126.5" cy="223.9" r="0.85"/><circle cx="130.3" cy="227.9" r="0.85"/><circle cx="150.4" cy="210.5" r="0.85"/><circle cx="144.4" cy="218.7" r="0.85"/><circle cx="140.2" cy="230.1" r="0.85"/><circle cx="160.1" cy="215.3" r="0.85"/><circle cx="129.4" cy="215.9" r="0.85"/><circle cx="136.8" cy="219.1" r="0.85"/><circle cx="152.6" cy="209.6" r="0.85"/><circle cx="158.6" cy="235.6" r="0.85"/><circle cx="127.5" cy="235.0" r="0.85"/><circle cx="159.2" cy="227.0" r="0.85"/><circle cx="164.7" cy="231.5" r="0.85"/><circle cx="140.5" cy="227.2" r="0.85"/><circle cx="150.6" cy="246.3" r="0.85"/><circle cx="162.1" cy="211.0" r="0.85"/><circle cx="164.6" cy="231.5" r="0.85"/><circle cx="146.4" cy="230.6" r="0.85"/><circle cx="159.5" cy="222.9" r="0.85"/><circle cx="132.4" cy="223.1" r="0.85"/><circle cx="132.9" cy="223.4" r="0.85"/><circle cx="164.2" cy="229.1" r="0.85"/><circle cx="136.0" cy="219.8" r="0.85"/><circle cx="148.2" cy="227.6" r="0.85"/><circle cx="160.8" cy="210.4" r="0.85"/><circle cx="163.5" cy="222.4" r="0.85"/><circle cx="162.1" cy="220.8" r="0.85"/><circle cx="151.1" cy="218.9" r="0.85"/><circle cx="143.8" cy="233.6" r="0.85"/><circle cx="152.6" cy="220.2" r="0.85"/><circle cx="151.5" cy="211.8" r="0.85"/><circle cx="153.3" cy="232.9" r="0.85"/><circle cx="162.6" cy="210.7" r="0.85"/><circle cx="165.4" cy="223.6" r="0.85"/><circle cx="128.1" cy="232.0" r="0.85"/><circle cx="148.4" cy="205.9" r="0.85"/><circle cx="144.0" cy="223.7" r="0.85"/><circle cx="155.4" cy="223.5" r="0.85"/><circle cx="139.0" cy="219.9" r="0.85"/><circle cx="131.4" cy="245.7" r="0.85"/><circle cx="131.7" cy="215.2" r="0.85"/><circle cx="149.7" cy="219.8" r="0.85"/><circle cx="141.7" cy="221.6" r="0.85"/><circle cx="156.1" cy="216.6" r="0.85"/><circle cx="156.8" cy="215.0" r="0.85"/><circle cx="137.6" cy="209.9" r="0.85"/><circle cx="165.5" cy="219.6" r="0.85"/><circle cx="152.1" cy="229.1" r="0.85"/><circle cx="141.2" cy="240.3" r="0.85"/><circle cx="153.8" cy="218.6" r="0.85"/><circle cx="137.1" cy="231.1" r="0.85"/><circle cx="159.3" cy="235.7" r="0.85"/><circle cx="158.0" cy="219.2" r="0.85"/><circle cx="146.7" cy="228.4" r="0.85"/><circle cx="161.4" cy="232.9" r="0.85"/><circle cx="132.7" cy="238.8" r="0.85"/><circle cx="138.5" cy="232.2" r="0.85"/><circle cx="141.3" cy="226.5" r="0.85"/><circle cx="165.1" cy="230.4" r="0.85"/><circle cx="138.4" cy="221.5" r="0.85"/><circle cx="164.1" cy="226.6" r="0.85"/><circle cx="143.6" cy="232.7" r="0.85"/><circle cx="130.2" cy="222.6" r="0.85"/><circle cx="141.5" cy="234.5" r="0.85"/><circle cx="164.9" cy="222.5" r="0.85"/><circle cx="162.7" cy="230.9" r="0.85"/><circle cx="144.1" cy="231.7" r="0.85"/><circle cx="157.4" cy="207.1" r="0.85"/><circle cx="138.6" cy="234.2" r="0.85"/><circle cx="144.9" cy="238.6" r="0.85"/><circle cx="148.5" cy="212.7" r="0.85"/><circle cx="137.0" cy="242.2" r="0.85"/><circle cx="147.3" cy="219.0" r="0.85"/><circle cx="136.3" cy="238.6" r="0.85"/><circle cx="157.1" cy="243.4" r="0.85"/><circle cx="148.8" cy="228.8" r="0.85"/><circle cx="140.2" cy="231.5" r="0.85"/><circle cx="135.7" cy="219.6" r="0.85"/><circle cx="128.6" cy="216.7" r="0.85"/><circle cx="153.3" cy="233.9" r="0.85"/><circle cx="130.3" cy="216.7" r="0.85"/><circle cx="165.1" cy="238.3" r="0.85"/><circle cx="151.5" cy="215.2" r="0.85"/><circle cx="141.8" cy="240.4" r="0.85"/><circle cx="139.7" cy="215.4" r="0.85"/><circle cx="141.7" cy="227.0" r="0.85"/><circle cx="133.3" cy="211.7" r="0.85"/><circle cx="161.2" cy="207.4" r="0.85"/><circle cx="153.0" cy="220.2" r="0.85"/><circle cx="162.4" cy="230.2" r="0.85"/><circle cx="128.5" cy="230.9" r="0.85"/><circle cx="142.6" cy="223.1" r="0.85"/><circle cx="152.9" cy="211.4" r="0.85"/><circle cx="149.1" cy="217.1" r="0.85"/><circle cx="136.9" cy="234.4" r="0.85"/><circle cx="159.8" cy="233.1" r="0.85"/><circle cx="156.4" cy="236.8" r="0.85"/><circle cx="146.1" cy="242.4" r="0.85"/><circle cx="156.0" cy="206.3" r="0.85"/><circle cx="159.1" cy="207.0" r="0.85"/><circle cx="131.1" cy="217.5" r="0.85"/><circle cx="150.7" cy="222.7" r="0.85"/><circle cx="150.3" cy="227.6" r="0.85"/><circle cx="159.3" cy="222.2" r="0.85"/><circle cx="134.9" cy="231.0" r="0.85"/><circle cx="129.6" cy="207.1" r="0.85"/><circle cx="158.4" cy="210.2" r="0.85"/><circle cx="128.7" cy="236.7" r="0.85"/><circle cx="159.8" cy="223.0" r="0.85"/><circle cx="151.3" cy="224.3" r="0.85"/><circle cx="131.4" cy="222.8" r="0.85"/><circle cx="143.9" cy="227.3" r="0.85"/><circle cx="148.3" cy="224.6" r="0.85"/><circle cx="159.4" cy="219.9" r="0.85"/><circle cx="130.3" cy="226.0" r="0.85"/><circle cx="139.6" cy="238.8" r="0.85"/><circle cx="139.2" cy="214.9" r="0.85"/><circle cx="158.0" cy="219.6" r="0.85"/><circle cx="134.3" cy="234.2" r="0.85"/><circle cx="147.6" cy="242.2" r="0.85"/><circle cx="127.0" cy="227.1" r="0.85"/><circle cx="146.3" cy="219.2" r="0.85"/><circle cx="151.4" cy="225.3" r="0.85"/><circle cx="155.2" cy="211.7" r="0.85"/><circle cx="146.6" cy="216.6" r="0.85"/><circle cx="149.7" cy="226.8" r="0.85"/><circle cx="166.2" cy="245.4" r="0.85"/><circle cx="158.4" cy="233.0" r="0.85"/><circle cx="165.8" cy="220.6" r="0.85"/><circle cx="128.7" cy="216.3" r="0.85"/><circle cx="144.2" cy="224.3" r="0.85"/><circle cx="153.5" cy="219.7" r="0.85"/><circle cx="139.7" cy="209.1" r="0.85"/><circle cx="133.5" cy="214.5" r="0.85"/><circle cx="133.7" cy="228.6" r="0.85"/><circle cx="155.7" cy="209.1" r="0.85"/><circle cx="133.8" cy="222.0" r="0.85"/><circle cx="154.4" cy="226.3" r="0.85"/><circle cx="148.5" cy="231.7" r="0.85"/><circle cx="154.3" cy="241.5" r="0.85"/><circle cx="164.3" cy="219.7" r="0.85"/><circle cx="163.1" cy="219.8" r="0.85"/><circle cx="128.3" cy="224.0" r="0.85"/><circle cx="160.9" cy="225.2" r="0.85"/><circle cx="155.1" cy="216.3" r="0.85"/><circle cx="140.2" cy="215.8" r="0.85"/><circle cx="132.4" cy="222.1" r="0.85"/><circle cx="132.9" cy="226.6" r="0.85"/><circle cx="140.2" cy="239.5" r="0.85"/><circle cx="144.3" cy="209.0" r="0.85"/><circle cx="129.9" cy="228.5" r="0.85"/><circle cx="157.4" cy="227.5" r="0.85"/><circle cx="144.9" cy="247.7" r="0.85"/><circle cx="158.1" cy="221.7" r="0.85"/><circle cx="145.1" cy="226.0" r="0.85"/><circle cx="130.2" cy="217.1" r="0.85"/><circle cx="148.7" cy="214.3" r="0.85"/><circle cx="136.0" cy="223.0" r="0.85"/><circle cx="126.7" cy="238.1" r="0.85"/><circle cx="164.2" cy="212.0" r="0.85"/><circle cx="165.6" cy="230.4" r="0.85"/><circle cx="141.4" cy="231.5" r="0.85"/><circle cx="131.2" cy="231.1" r="0.85"/><circle cx="149.6" cy="224.1" r="0.85"/><circle cx="141.2" cy="244.2" r="0.85"/><circle cx="157.7" cy="224.7" r="0.85"/><circle cx="144.6" cy="245.7" r="0.85"/><circle cx="147.5" cy="229.7" r="0.85"/><circle cx="128.7" cy="215.1" r="0.85"/><circle cx="161.7" cy="237.3" r="0.85"/><circle cx="145.5" cy="217.6" r="0.85"/><circle cx="135.7" cy="216.5" r="0.85"/><circle cx="162.6" cy="218.8" r="0.85"/><circle cx="149.8" cy="227.0" r="0.85"/><circle cx="130.9" cy="227.3" r="0.85"/><circle cx="149.6" cy="235.0" r="0.85"/><circle cx="151.6" cy="219.6" r="0.85"/><circle cx="128.5" cy="209.5" r="0.85"/><circle cx="155.2" cy="235.2" r="0.85"/><circle cx="142.0" cy="227.6" r="0.85"/><circle cx="153.1" cy="221.2" r="0.85"/><circle cx="152.2" cy="213.8" r="0.85"/><circle cx="153.9" cy="216.2" r="0.85"/><circle cx="162.7" cy="224.6" r="0.85"/><circle cx="150.1" cy="231.0" r="0.85"/><circle cx="165.9" cy="226.6" r="0.85"/><circle cx="135.1" cy="235.6" r="0.85"/><circle cx="159.2" cy="208.7" r="0.85"/><circle cx="127.4" cy="206.9" r="0.85"/><circle cx="129.6" cy="243.1" r="0.85"/><circle cx="127.3" cy="219.9" r="0.85"/><circle cx="127.8" cy="225.0" r="0.85"/><circle cx="134.7" cy="248.9" r="0.85"/><circle cx="153.1" cy="237.7" r="0.85"/><circle cx="163.1" cy="215.3" r="0.85"/><circle cx="136.5" cy="224.7" r="0.85"/><circle cx="156.5" cy="225.2" r="0.85"/><circle cx="130.0" cy="240.6" r="0.85"/><circle cx="133.4" cy="219.9" r="0.85"/><circle cx="158.6" cy="230.4" r="0.85"/><circle cx="130.1" cy="234.8" r="0.85"/><circle cx="157.8" cy="242.3" r="0.85"/><circle cx="125.9" cy="231.8" r="0.85"/><circle cx="159.1" cy="209.7" r="0.85"/><circle cx="146.2" cy="210.3" r="0.85"/><circle cx="158.3" cy="211.1" r="0.85"/><circle cx="129.0" cy="236.5" r="0.85"/><circle cx="137.6" cy="228.1" r="0.85"/><circle cx="141.9" cy="241.7" r="0.85"/><circle cx="126.8" cy="224.4" r="0.85"/><circle cx="159.5" cy="228.1" r="0.85"/><circle cx="130.8" cy="209.7" r="0.85"/><circle cx="152.2" cy="226.6" r="0.85"/><circle cx="130.3" cy="234.7" r="0.85"/><circle cx="165.4" cy="211.4" r="0.85"/><circle cx="129.6" cy="219.9" r="0.85"/><circle cx="155.4" cy="236.0" r="0.85"/><circle cx="129.9" cy="215.8" r="0.85"/><circle cx="156.8" cy="230.4" r="0.85"/><circle cx="131.8" cy="223.7" r="0.85"/><circle cx="128.8" cy="221.9" r="0.85"/><circle cx="130.4" cy="217.0" r="0.85"/><circle cx="146.9" cy="206.4" r="0.85"/><circle cx="144.3" cy="208.0" r="0.85"/><circle cx="152.1" cy="231.8" r="0.85"/><circle cx="163.0" cy="220.9" r="0.85"/><circle cx="162.9" cy="232.6" r="0.85"/><circle cx="127.0" cy="212.4" r="0.85"/><circle cx="143.3" cy="228.5" r="0.85"/><circle cx="164.1" cy="217.6" r="0.85"/><circle cx="143.7" cy="220.7" r="0.85"/><circle cx="138.0" cy="213.6" r="0.85"/><circle cx="139.9" cy="220.8" r="0.85"/><circle cx="143.8" cy="227.9" r="0.85"/><circle cx="165.6" cy="205.7" r="0.85"/><circle cx="156.8" cy="241.8" r="0.85"/><circle cx="156.4" cy="222.0" r="0.85"/><circle cx="142.5" cy="231.7" r="0.85"/><circle cx="126.6" cy="226.3" r="0.85"/><circle cx="163.2" cy="246.3" r="0.85"/><circle cx="139.1" cy="225.9" r="0.85"/><circle cx="161.9" cy="227.2" r="0.85"/><circle cx="130.1" cy="207.5" r="0.85"/><circle cx="159.3" cy="216.1" r="0.85"/><circle cx="140.7" cy="237.7" r="0.85"/><circle cx="147.6" cy="229.9" r="0.85"/><circle cx="147.4" cy="221.8" r="0.85"/><circle cx="152.2" cy="215.9" r="0.85"/><circle cx="142.3" cy="237.9" r="0.85"/><circle cx="165.1" cy="212.8" r="0.85"/><circle cx="129.4" cy="225.6" r="0.85"/><circle cx="162.6" cy="232.3" r="0.85"/><circle cx="126.4" cy="222.1" r="0.85"/><circle cx="166.0" cy="240.9" r="0.85"/><circle cx="133.0" cy="229.9" r="0.85"/><circle cx="153.8" cy="222.9" r="0.85"/><circle cx="135.9" cy="223.4" r="0.85"/><circle cx="153.9" cy="226.1" r="0.85"/><circle cx="134.3" cy="221.4" r="0.85"/><circle cx="151.9" cy="251.8" r="0.85"/><circle cx="149.8" cy="213.4" r="0.85"/><circle cx="154.0" cy="208.4" r="0.85"/><circle cx="138.1" cy="227.3" r="0.85"/><circle cx="126.4" cy="225.1" r="0.85"/><circle cx="140.5" cy="226.9" r="0.85"/><circle cx="145.8" cy="227.7" r="0.85"/><circle cx="165.2" cy="219.4" r="0.85"/><circle cx="157.0" cy="213.5" r="0.85"/><circle cx="133.0" cy="231.1" r="0.85"/><circle cx="142.4" cy="229.0" r="0.85"/><circle cx="153.8" cy="229.5" r="0.85"/><circle cx="129.7" cy="232.7" r="0.85"/><circle cx="159.6" cy="218.4" r="0.85"/><circle cx="127.0" cy="227.2" r="0.85"/><circle cx="160.5" cy="215.0" r="0.85"/><circle cx="158.4" cy="218.3" r="0.85"/><circle cx="126.2" cy="213.9" r="0.85"/><circle cx="133.5" cy="228.8" r="0.85"/><circle cx="152.6" cy="219.0" r="0.85"/><circle cx="149.6" cy="219.0" r="0.85"/><circle cx="131.6" cy="216.3" r="0.85"/><circle cx="129.7" cy="234.2" r="0.85"/><circle cx="152.3" cy="222.1" r="0.85"/><circle cx="148.9" cy="224.2" r="0.85"/><circle cx="126.4" cy="227.5" r="0.85"/><circle cx="160.4" cy="242.8" r="0.85"/><circle cx="140.6" cy="244.1" r="0.85"/><circle cx="155.1" cy="236.0" r="0.85"/><circle cx="136.0" cy="238.3" r="0.85"/><circle cx="140.7" cy="217.0" r="0.85"/><circle cx="135.9" cy="222.6" r="0.85"/><circle cx="158.1" cy="220.6" r="0.85"/><circle cx="156.9" cy="234.0" r="0.85"/><circle cx="134.9" cy="226.2" r="0.85"/><circle cx="141.4" cy="230.8" r="0.85"/><circle cx="140.6" cy="213.9" r="0.85"/><circle cx="161.1" cy="211.7" r="0.85"/><circle cx="127.9" cy="210.2" r="0.85"/><circle cx="135.3" cy="235.1" r="0.85"/><circle cx="130.5" cy="225.7" r="0.85"/><circle cx="144.5" cy="222.1" r="0.85"/><circle cx="130.6" cy="217.7" r="0.85"/><circle cx="145.3" cy="227.2" r="0.85"/><circle cx="143.7" cy="230.6" r="0.85"/><circle cx="130.6" cy="233.0" r="0.85"/><circle cx="144.8" cy="227.8" r="0.85"/><circle cx="163.8" cy="218.6" r="0.85"/><circle cx="134.8" cy="221.7" r="0.85"/><circle cx="156.0" cy="213.0" r="0.85"/><circle cx="164.9" cy="226.8" r="0.85"/><circle cx="164.1" cy="218.4" r="0.85"/><circle cx="147.1" cy="223.9" r="0.85"/><circle cx="160.9" cy="230.2" r="0.85"/><circle cx="134.4" cy="231.0" r="0.85"/><circle cx="163.3" cy="227.8" r="0.85"/><circle cx="144.5" cy="222.9" r="0.85"/><circle cx="144.2" cy="218.2" r="0.85"/><circle cx="138.7" cy="228.0" r="0.85"/><circle cx="140.5" cy="239.1" r="0.85"/><circle cx="130.7" cy="236.0" r="0.85"/><circle cx="133.1" cy="222.0" r="0.85"/><circle cx="126.2" cy="214.2" r="0.85"/><circle cx="126.8" cy="210.2" r="0.85"/><circle cx="144.9" cy="222.5" r="0.85"/><circle cx="135.3" cy="206.8" r="0.85"/><circle cx="146.1" cy="208.0" r="0.85"/><circle cx="131.7" cy="211.5" r="0.85"/><circle cx="158.4" cy="240.5" r="0.85"/><circle cx="160.6" cy="216.1" r="0.85"/><circle cx="140.7" cy="229.2" r="0.85"/><circle cx="135.0" cy="218.6" r="0.85"/><circle cx="150.1" cy="227.2" r="0.85"/><circle cx="134.6" cy="220.3" r="0.85"/><circle cx="127.3" cy="216.6" r="0.85"/><circle cx="133.6" cy="225.8" r="0.85"/><circle cx="156.2" cy="207.5" r="0.85"/><circle cx="142.1" cy="222.6" r="0.85"/><circle cx="164.3" cy="221.6" r="0.85"/><circle cx="135.3" cy="207.5" r="0.85"/><circle cx="164.3" cy="225.4" r="0.85"/><circle cx="145.8" cy="238.8" r="0.85"/><circle cx="134.6" cy="222.5" r="0.85"/><circle cx="159.7" cy="236.4" r="0.85"/><circle cx="144.3" cy="227.7" r="0.85"/><circle cx="138.9" cy="251.2" r="0.85"/><circle cx="142.3" cy="212.4" r="0.85"/><circle cx="126.7" cy="237.1" r="0.85"/><circle cx="141.0" cy="234.3" r="0.85"/><circle cx="125.8" cy="241.1" r="0.85"/><circle cx="150.5" cy="222.8" r="0.85"/><circle cx="148.6" cy="235.6" r="0.85"/><circle cx="154.7" cy="228.8" r="0.85"/><circle cx="130.7" cy="229.7" r="0.85"/><circle cx="164.8" cy="227.0" r="0.85"/><circle cx="147.0" cy="228.3" r="0.85"/><circle cx="149.4" cy="226.3" r="0.85"/><circle cx="135.3" cy="220.5" r="0.85"/><circle cx="132.6" cy="210.8" r="0.85"/><circle cx="142.4" cy="215.9" r="0.85"/><circle cx="161.9" cy="209.4" r="0.85"/><circle cx="164.7" cy="219.7" r="0.85"/><circle cx="142.4" cy="249.6" r="0.85"/><circle cx="127.9" cy="227.9" r="0.85"/><circle cx="126.5" cy="220.3" r="0.85"/><circle cx="137.6" cy="215.0" r="0.85"/><circle cx="161.1" cy="251.4" r="0.85"/><circle cx="142.9" cy="218.7" r="0.85"/><circle cx="158.6" cy="214.3" r="0.85"/><circle cx="130.5" cy="210.2" r="0.85"/><circle cx="135.7" cy="213.7" r="0.85"/><circle cx="158.3" cy="208.5" r="0.85"/><circle cx="162.3" cy="230.5" r="0.85"/><circle cx="128.9" cy="221.4" r="0.85"/><circle cx="162.2" cy="215.8" r="0.85"/><circle cx="153.9" cy="219.8" r="0.85"/><circle cx="136.2" cy="224.4" r="0.85"/><circle cx="147.1" cy="234.0" r="0.85"/><circle cx="153.3" cy="239.7" r="0.85"/><circle cx="151.1" cy="231.6" r="0.85"/><circle cx="145.0" cy="212.1" r="0.85"/><circle cx="126.2" cy="226.1" r="0.85"/><circle cx="154.6" cy="218.4" r="0.85"/><circle cx="164.7" cy="216.7" r="0.85"/><circle cx="157.7" cy="224.8" r="0.85"/><circle cx="164.7" cy="235.1" r="0.85"/><circle cx="134.2" cy="238.7" r="0.85"/><circle cx="162.3" cy="225.5" r="0.85"/><circle cx="140.4" cy="241.3" r="0.85"/><circle cx="152.7" cy="224.1" r="0.85"/><circle cx="134.8" cy="216.5" r="0.85"/><circle cx="134.5" cy="223.1" r="0.85"/><circle cx="131.3" cy="226.4" r="0.85"/><circle cx="142.3" cy="218.7" r="0.85"/><circle cx="149.4" cy="225.6" r="0.85"/><circle cx="164.1" cy="212.3" r="0.85"/><circle cx="154.4" cy="217.6" r="0.85"/><circle cx="143.6" cy="229.2" r="0.85"/><circle cx="126.5" cy="234.8" r="0.85"/><circle cx="153.2" cy="229.1" r="0.85"/><circle cx="164.9" cy="232.5" r="0.85"/><circle cx="156.9" cy="231.6" r="0.85"/><circle cx="151.6" cy="206.9" r="0.85"/><circle cx="154.4" cy="230.6" r="0.85"/><circle cx="156.9" cy="221.6" r="0.85"/><circle cx="138.0" cy="222.6" r="0.85"/><circle cx="150.2" cy="243.9" r="0.85"/><circle cx="160.3" cy="233.9" r="0.85"/><circle cx="133.9" cy="210.8" r="0.85"/><circle cx="126.4" cy="218.8" r="0.85"/><circle cx="136.9" cy="224.5" r="0.85"/><circle cx="132.8" cy="224.0" r="0.85"/><circle cx="154.1" cy="231.4" r="0.85"/><circle cx="136.6" cy="223.7" r="0.85"/><circle cx="154.7" cy="225.7" r="0.85"/><circle cx="130.4" cy="223.3" r="0.85"/><circle cx="163.7" cy="229.6" r="0.85"/><circle cx="139.4" cy="222.1" r="0.85"/><circle cx="147.0" cy="217.5" r="0.85"/><circle cx="145.2" cy="233.8" r="0.85"/><circle cx="136.3" cy="227.8" r="0.85"/><circle cx="132.4" cy="225.1" r="0.85"/><circle cx="129.5" cy="208.7" r="0.85"/><circle cx="136.5" cy="208.8" r="0.85"/><circle cx="157.9" cy="221.9" r="0.85"/><circle cx="145.8" cy="211.3" r="0.85"/><circle cx="133.4" cy="236.2" r="0.85"/><circle cx="127.9" cy="216.0" r="0.85"/><circle cx="132.0" cy="218.8" r="0.85"/><circle cx="154.9" cy="211.0" r="0.85"/><circle cx="135.1" cy="229.3" r="0.85"/><circle cx="129.6" cy="216.0" r="0.85"/><circle cx="154.5" cy="219.0" r="0.85"/><circle cx="158.4" cy="225.5" r="0.85"/><circle cx="129.6" cy="214.0" r="0.85"/><circle cx="152.7" cy="216.7" r="0.85"/><circle cx="133.6" cy="220.6" r="0.85"/><circle cx="149.4" cy="235.6" r="0.85"/><circle cx="135.6" cy="233.3" r="0.85"/><circle cx="136.3" cy="208.7" r="0.85"/><circle cx="155.2" cy="229.8" r="0.85"/><circle cx="127.1" cy="222.0" r="0.85"/><circle cx="137.6" cy="214.1" r="0.85"/><circle cx="151.8" cy="216.8" r="0.85"/><circle cx="162.4" cy="206.1" r="0.85"/><circle cx="134.1" cy="216.0" r="0.85"/><circle cx="136.4" cy="238.5" r="0.85"/><circle cx="132.2" cy="226.3" r="0.85"/><circle cx="159.4" cy="242.2" r="0.85"/><circle cx="154.9" cy="242.4" r="0.85"/><circle cx="138.4" cy="217.3" r="0.85"/><circle cx="138.6" cy="222.7" r="0.85"/><circle cx="150.5" cy="219.0" r="0.85"/><circle cx="129.4" cy="236.1" r="0.85"/><circle cx="131.9" cy="227.5" r="0.85"/><circle cx="163.6" cy="232.3" r="0.85"/><circle cx="133.8" cy="213.0" r="0.85"/><circle cx="130.7" cy="207.1" r="0.85"/><circle cx="140.5" cy="222.8" r="0.85"/><circle cx="154.9" cy="219.2" r="0.85"/><circle cx="130.1" cy="233.3" r="0.85"/><circle cx="145.4" cy="228.1" r="0.85"/><circle cx="136.1" cy="218.8" r="0.85"/><circle cx="138.7" cy="215.2" r="0.85"/><circle cx="145.2" cy="218.1" r="0.85"/><circle cx="140.9" cy="231.8" r="0.85"/><circle cx="163.7" cy="218.8" r="0.85"/><circle cx="144.3" cy="219.2" r="0.85"/><circle cx="151.7" cy="222.8" r="0.85"/><circle cx="165.6" cy="226.5" r="0.85"/><circle cx="162.7" cy="232.0" r="0.85"/><circle cx="150.9" cy="232.4" r="0.85"/><circle cx="138.0" cy="240.2" r="0.85"/><circle cx="157.1" cy="231.2" r="0.85"/><circle cx="143.6" cy="232.9" r="0.85"/><circle cx="129.6" cy="229.1" r="0.85"/><circle cx="164.9" cy="232.1" r="0.85"/><circle cx="157.0" cy="226.4" r="0.85"/><circle cx="131.3" cy="226.8" r="0.85"/><circle cx="132.5" cy="226.1" r="0.85"/><circle cx="147.4" cy="226.8" r="0.85"/><circle cx="132.9" cy="216.4" r="0.85"/><circle cx="156.9" cy="212.5" r="0.85"/><circle cx="130.8" cy="228.0" r="0.85"/><circle cx="135.7" cy="228.9" r="0.85"/><circle cx="136.3" cy="222.3" r="0.85"/><circle cx="155.9" cy="242.0" r="0.85"/><circle cx="145.0" cy="237.9" r="0.85"/><circle cx="137.5" cy="218.5" r="0.85"/><circle cx="144.7" cy="218.8" r="0.85"/><circle cx="131.1" cy="233.1" r="0.85"/><circle cx="130.1" cy="249.5" r="0.85"/><circle cx="158.8" cy="218.1" r="0.85"/><circle cx="136.2" cy="230.5" r="0.85"/><circle cx="144.9" cy="229.7" r="0.85"/><circle cx="160.5" cy="223.0" r="0.85"/><circle cx="138.8" cy="232.0" r="0.85"/><circle cx="139.7" cy="239.6" r="0.85"/><circle cx="133.4" cy="233.5" r="0.85"/><circle cx="160.8" cy="221.8" r="0.85"/><circle cx="156.8" cy="222.6" r="0.85"/><circle cx="150.4" cy="245.4" r="0.85"/><circle cx="139.1" cy="235.3" r="0.85"/><circle cx="136.6" cy="214.8" r="0.85"/><circle cx="140.1" cy="231.5" r="0.85"/><circle cx="141.2" cy="229.6" r="0.85"/><circle cx="162.7" cy="228.5" r="0.85"/><circle cx="142.5" cy="223.8" r="0.85"/><circle cx="163.1" cy="213.4" r="0.85"/><circle cx="158.4" cy="241.2" r="0.85"/><circle cx="156.4" cy="222.2" r="0.85"/><circle cx="158.8" cy="223.1" r="0.85"/><circle cx="141.3" cy="239.6" r="0.85"/><circle cx="159.9" cy="232.6" r="0.85"/><circle cx="139.5" cy="233.7" r="0.85"/><circle cx="159.1" cy="208.8" r="0.85"/><circle cx="160.2" cy="241.0" r="0.85"/><circle cx="161.5" cy="240.2" r="0.85"/><circle cx="156.0" cy="243.4" r="0.85"/><circle cx="153.3" cy="221.1" r="0.85"/><circle cx="161.1" cy="220.0" r="0.85"/><circle cx="148.0" cy="211.7" r="0.85"/><circle cx="157.6" cy="226.3" r="0.85"/><circle cx="157.6" cy="228.7" r="0.85"/><circle cx="139.6" cy="216.7" r="0.85"/><circle cx="135.9" cy="231.4" r="0.85"/><circle cx="126.9" cy="229.3" r="0.85"/><circle cx="158.1" cy="224.1" r="0.85"/><circle cx="128.5" cy="227.7" r="0.85"/><circle cx="155.9" cy="227.4" r="0.85"/><circle cx="142.1" cy="235.1" r="0.85"/><circle cx="158.4" cy="232.6" r="0.85"/><circle cx="151.5" cy="220.2" r="0.85"/><circle cx="162.1" cy="227.9" r="0.85"/><circle cx="155.6" cy="213.1" r="0.85"/><circle cx="149.1" cy="244.2" r="0.85"/><circle cx="130.1" cy="210.2" r="0.85"/><circle cx="146.9" cy="209.6" r="0.85"/><circle cx="161.5" cy="224.6" r="0.85"/><circle cx="152.8" cy="226.2" r="0.85"/><circle cx="140.5" cy="233.6" r="0.85"/><circle cx="164.7" cy="221.2" r="0.85"/><circle cx="162.9" cy="216.9" r="0.85"/><circle cx="127.2" cy="211.4" r="0.85"/><circle cx="154.9" cy="215.7" r="0.85"/><circle cx="143.2" cy="234.7" r="0.85"/><circle cx="159.1" cy="230.8" r="0.85"/><circle cx="157.8" cy="217.6" r="0.85"/><circle cx="156.0" cy="229.6" r="0.85"/><circle cx="158.3" cy="227.9" r="0.85"/><circle cx="166.1" cy="245.9" r="0.85"/><circle cx="143.4" cy="208.0" r="0.85"/><circle cx="163.5" cy="235.3" r="0.85"/><circle cx="134.0" cy="219.6" r="0.85"/><circle cx="155.5" cy="232.8" r="0.85"/><circle cx="133.4" cy="208.3" r="0.85"/><circle cx="152.9" cy="218.9" r="0.85"/><circle cx="131.6" cy="207.2" r="0.85"/><circle cx="148.6" cy="225.5" r="0.85"/><circle cx="162.8" cy="215.3" r="0.85"/><circle cx="148.2" cy="224.8" r="0.85"/><circle cx="140.5" cy="230.2" r="0.85"/><circle cx="126.8" cy="219.3" r="0.85"/><circle cx="146.2" cy="242.5" r="0.85"/><circle cx="164.6" cy="206.3" r="0.85"/><circle cx="146.5" cy="236.4" r="0.85"/><circle cx="131.6" cy="216.4" r="0.85"/><circle cx="151.4" cy="227.3" r="0.85"/><circle cx="150.2" cy="210.1" r="0.85"/><circle cx="136.3" cy="221.2" r="0.85"/><circle cx="146.6" cy="234.8" r="0.85"/><circle cx="144.8" cy="224.5" r="0.85"/><circle cx="139.6" cy="224.1" r="0.85"/><circle cx="154.9" cy="223.4" r="0.85"/><circle cx="136.2" cy="213.6" r="0.85"/><circle cx="146.8" cy="230.2" r="0.85"/><circle cx="162.5" cy="236.8" r="0.85"/><circle cx="134.0" cy="212.5" r="0.85"/><circle cx="156.2" cy="218.5" r="0.85"/><circle cx="136.9" cy="236.7" r="0.85"/><circle cx="127.9" cy="234.7" r="0.85"/><circle cx="129.3" cy="218.5" r="0.85"/><circle cx="128.6" cy="228.3" r="0.85"/><circle cx="131.6" cy="227.4" r="0.85"/><circle cx="166.3" cy="211.6" r="0.85"/><circle cx="135.8" cy="239.6" r="0.85"/><circle cx="133.9" cy="229.5" r="0.85"/><circle cx="150.9" cy="233.1" r="0.85"/><circle cx="138.1" cy="227.6" r="0.85"/><circle cx="129.3" cy="230.1" r="0.85"/><circle cx="133.6" cy="217.1" r="0.85"/><circle cx="133.3" cy="235.4" r="0.85"/><circle cx="145.3" cy="234.4" r="0.85"/><circle cx="145.5" cy="235.2" r="0.85"/><circle cx="133.8" cy="218.3" r="0.85"/><circle cx="149.8" cy="227.6" r="0.85"/><circle cx="128.8" cy="228.8" r="0.85"/><circle cx="154.3" cy="234.4" r="0.85"/><circle cx="140.2" cy="220.7" r="0.85"/><circle cx="143.1" cy="211.1" r="0.85"/><circle cx="141.7" cy="237.0" r="0.85"/><circle cx="132.0" cy="232.9" r="0.85"/><circle cx="126.1" cy="210.2" r="0.85"/><circle cx="160.3" cy="221.8" r="0.85"/><circle cx="151.4" cy="211.0" r="0.85"/><circle cx="163.2" cy="211.8" r="0.85"/><circle cx="137.9" cy="230.3" r="0.85"/><circle cx="148.3" cy="212.0" r="0.85"/><circle cx="164.3" cy="229.9" r="0.85"/><circle cx="160.4" cy="231.8" r="0.85"/><circle cx="157.9" cy="206.4" r="0.85"/><circle cx="139.6" cy="212.6" r="0.85"/><circle cx="164.2" cy="210.5" r="0.85"/><circle cx="133.2" cy="219.3" r="0.85"/><circle cx="130.5" cy="239.3" r="0.85"/><circle cx="126.9" cy="208.9" r="0.85"/><circle cx="138.9" cy="207.8" r="0.85"/><circle cx="140.6" cy="225.1" r="0.85"/><circle cx="162.1" cy="213.7" r="0.85"/><circle cx="163.5" cy="234.5" r="0.85"/><circle cx="151.8" cy="211.5" r="0.85"/><circle cx="141.5" cy="224.9" r="0.85"/><circle cx="150.5" cy="225.4" r="0.85"/><circle cx="140.8" cy="213.3" r="0.85"/><circle cx="141.5" cy="241.9" r="0.85"/><circle cx="147.7" cy="221.5" r="0.85"/><circle cx="159.2" cy="233.3" r="0.85"/><circle cx="132.3" cy="222.5" r="0.85"/><circle cx="133.6" cy="220.9" r="0.85"/><circle cx="128.2" cy="225.6" r="0.85"/><circle cx="135.1" cy="216.3" r="0.85"/><circle cx="128.1" cy="221.6" r="0.85"/><circle cx="155.0" cy="241.3" r="0.85"/><circle cx="162.8" cy="236.7" r="0.85"/><circle cx="163.2" cy="217.9" r="0.85"/><circle cx="129.4" cy="234.0" r="0.85"/><circle cx="133.6" cy="217.0" r="0.85"/><circle cx="156.2" cy="230.3" r="0.85"/><circle cx="129.6" cy="213.2" r="0.85"/><circle cx="161.2" cy="223.8" r="0.85"/><circle cx="165.5" cy="227.1" r="0.85"/><circle cx="130.8" cy="224.4" r="0.85"/><circle cx="126.7" cy="218.6" r="0.85"/><circle cx="130.4" cy="227.1" r="0.85"/><circle cx="150.5" cy="229.4" r="0.85"/><circle cx="153.1" cy="233.7" r="0.85"/><circle cx="165.5" cy="221.1" r="0.85"/><circle cx="143.4" cy="215.5" r="0.85"/><circle cx="135.2" cy="228.8" r="0.85"/><circle cx="165.4" cy="240.7" r="0.85"/><circle cx="132.9" cy="222.8" r="0.85"/><circle cx="133.1" cy="229.4" r="0.85"/><circle cx="155.7" cy="231.9" r="0.85"/><circle cx="128.2" cy="219.7" r="0.85"/><circle cx="127.2" cy="230.7" r="0.85"/><circle cx="149.2" cy="230.3" r="0.85"/><circle cx="150.2" cy="216.5" r="0.85"/><circle cx="164.1" cy="232.9" r="0.85"/><circle cx="160.7" cy="235.6" r="0.85"/><circle cx="131.6" cy="214.7" r="0.85"/><circle cx="132.9" cy="208.1" r="0.85"/><circle cx="126.0" cy="234.8" r="0.85"/><circle cx="158.4" cy="226.5" r="0.85"/><circle cx="126.0" cy="207.7" r="0.85"/><circle cx="158.2" cy="206.3" r="0.85"/><circle cx="148.9" cy="231.9" r="0.85"/><circle cx="155.4" cy="238.6" r="0.85"/><circle cx="164.6" cy="237.2" r="0.85"/><circle cx="138.6" cy="215.4" r="0.85"/><circle cx="141.1" cy="220.0" r="0.85"/><circle cx="158.0" cy="247.1" r="0.85"/><circle cx="157.8" cy="238.1" r="0.85"/><circle cx="153.7" cy="214.0" r="0.85"/><circle cx="136.4" cy="240.3" r="0.85"/><circle cx="150.6" cy="235.3" r="0.85"/><circle cx="145.6" cy="241.7" r="0.85"/><circle cx="137.0" cy="227.6" r="0.85"/><circle cx="163.6" cy="220.9" r="0.85"/><circle cx="156.5" cy="234.5" r="0.85"/><circle cx="149.1" cy="238.5" r="0.85"/><circle cx="162.6" cy="211.3" r="0.85"/><circle cx="163.7" cy="216.1" r="0.85"/><circle cx="129.3" cy="224.4" r="0.85"/><circle cx="137.0" cy="217.3" r="0.85"/><circle cx="130.4" cy="231.7" r="0.85"/><circle cx="155.3" cy="213.0" r="0.85"/><circle cx="136.2" cy="221.1" r="0.85"/><circle cx="129.8" cy="224.2" r="0.85"/><circle cx="134.5" cy="217.3" r="0.85"/><circle cx="140.8" cy="214.5" r="0.85"/><circle cx="163.1" cy="206.9" r="0.85"/><circle cx="143.1" cy="212.8" r="0.85"/><circle cx="156.6" cy="229.5" r="0.85"/><circle cx="142.1" cy="235.3" r="0.85"/><circle cx="130.6" cy="218.8" r="0.85"/><circle cx="156.2" cy="233.7" r="0.85"/><circle cx="128.0" cy="236.6" r="0.85"/><circle cx="165.9" cy="217.9" r="0.85"/><circle cx="131.1" cy="214.9" r="0.85"/><circle cx="135.9" cy="213.6" r="0.85"/><circle cx="158.9" cy="235.8" r="0.85"/><circle cx="129.3" cy="226.1" r="0.85"/><circle cx="160.4" cy="225.8" r="0.85"/><circle cx="144.7" cy="221.3" r="0.85"/><circle cx="144.8" cy="219.2" r="0.85"/><circle cx="139.7" cy="229.9" r="0.85"/><circle cx="131.3" cy="220.0" r="0.85"/><circle cx="158.9" cy="228.6" r="0.85"/><circle cx="146.1" cy="228.3" r="0.85"/><circle cx="139.5" cy="236.6" r="0.85"/><circle cx="145.0" cy="245.2" r="0.85"/><circle cx="157.7" cy="223.5" r="0.85"/><circle cx="134.8" cy="247.8" r="0.85"/><circle cx="162.6" cy="225.6" r="0.85"/><circle cx="147.4" cy="230.8" r="0.85"/><circle cx="129.8" cy="211.9" r="0.85"/><circle cx="162.9" cy="229.2" r="0.85"/><circle cx="156.0" cy="224.9" r="0.85"/><circle cx="159.2" cy="235.7" r="0.85"/><circle cx="164.9" cy="229.3" r="0.85"/><circle cx="153.6" cy="219.8" r="0.85"/><circle cx="148.3" cy="216.7" r="0.85"/><circle cx="131.4" cy="227.2" r="0.85"/><circle cx="144.9" cy="212.8" r="0.85"/><circle cx="140.7" cy="223.9" r="0.85"/><circle cx="148.3" cy="224.6" r="0.85"/><circle cx="132.4" cy="205.5" r="0.85"/><circle cx="161.8" cy="244.1" r="0.85"/><circle cx="165.7" cy="232.7" r="0.85"/><circle cx="165.1" cy="234.7" r="0.85"/><circle cx="141.4" cy="212.3" r="0.85"/><circle cx="127.0" cy="220.1" r="0.85"/><circle cx="134.1" cy="229.9" r="0.85"/><circle cx="151.4" cy="229.8" r="0.85"/><circle cx="148.7" cy="239.4" r="0.85"/><circle cx="140.5" cy="216.9" r="0.85"/><circle cx="164.3" cy="212.2" r="0.85"/><circle cx="160.8" cy="210.9" r="0.85"/><circle cx="153.0" cy="211.7" r="0.85"/><circle cx="138.0" cy="235.0" r="0.85"/><circle cx="165.2" cy="224.6" r="0.85"/><circle cx="128.4" cy="253.0" r="0.85"/><circle cx="126.2" cy="214.8" r="0.85"/><circle cx="146.4" cy="220.5" r="0.85"/><circle cx="130.6" cy="232.0" r="0.85"/><circle cx="153.6" cy="206.3" r="0.85"/><circle cx="163.4" cy="240.0" r="0.85"/><circle cx="154.8" cy="222.5" r="0.85"/><circle cx="125.9" cy="234.5" r="0.85"/><circle cx="165.1" cy="227.0" r="0.85"/><circle cx="138.5" cy="221.9" r="0.85"/><circle cx="142.7" cy="222.7" r="0.85"/><circle cx="162.4" cy="210.1" r="0.85"/><circle cx="126.3" cy="225.5" r="0.85"/><circle cx="159.6" cy="230.1" r="0.85"/><circle cx="129.9" cy="231.4" r="0.85"/><circle cx="161.5" cy="219.1" r="0.85"/><circle cx="146.7" cy="207.8" r="0.85"/><circle cx="142.2" cy="249.2" r="0.85"/><circle cx="154.1" cy="242.4" r="0.85"/><circle cx="165.6" cy="232.0" r="0.85"/><circle cx="130.3" cy="223.2" r="0.85"/><circle cx="131.8" cy="212.8" r="0.85"/><circle cx="140.6" cy="205.9" r="0.85"/><circle cx="166.2" cy="238.9" r="0.85"/><circle cx="152.3" cy="222.7" r="0.85"/><circle cx="132.3" cy="220.9" r="0.85"/><circle cx="140.4" cy="206.6" r="0.85"/><circle cx="162.3" cy="223.3" r="0.85"/><circle cx="132.2" cy="229.6" r="0.85"/><circle cx="131.9" cy="210.7" r="0.85"/><circle cx="132.3" cy="205.9" r="0.85"/><circle cx="148.6" cy="223.2" r="0.85"/><circle cx="142.6" cy="221.2" r="0.85"/><circle cx="128.2" cy="222.9" r="0.85"/><circle cx="143.0" cy="225.0" r="0.85"/><circle cx="135.6" cy="241.9" r="0.85"/><circle cx="159.3" cy="223.8" r="0.85"/><circle cx="145.2" cy="228.3" r="0.85"/><circle cx="141.5" cy="211.7" r="0.85"/><circle cx="134.8" cy="239.6" r="0.85"/><circle cx="153.0" cy="229.6" r="0.85"/><circle cx="146.2" cy="210.7" r="0.85"/><circle cx="163.3" cy="216.7" r="0.85"/><circle cx="128.6" cy="218.3" r="0.85"/><circle cx="129.1" cy="220.6" r="0.85"/><circle cx="152.1" cy="227.6" r="0.85"/><circle cx="143.0" cy="217.7" r="0.85"/><circle cx="163.8" cy="235.8" r="0.85"/><circle cx="135.7" cy="228.8" r="0.85"/><circle cx="139.0" cy="231.3" r="0.85"/><circle cx="162.7" cy="219.6" r="0.85"/><circle cx="132.5" cy="209.7" r="0.85"/><circle cx="127.6" cy="238.8" r="0.85"/><circle cx="152.1" cy="238.3" r="0.85"/><circle cx="132.2" cy="220.2" r="0.85"/><circle cx="146.4" cy="220.2" r="0.85"/><circle cx="139.4" cy="238.0" r="0.85"/><circle cx="154.9" cy="234.4" r="0.85"/><circle cx="146.5" cy="231.6" r="0.85"/><circle cx="143.4" cy="237.8" r="0.85"/><circle cx="152.6" cy="243.4" r="0.85"/><circle cx="125.9" cy="236.4" r="0.85"/><circle cx="134.8" cy="216.3" r="0.85"/><circle cx="129.4" cy="227.9" r="0.85"/><circle cx="153.7" cy="233.4" r="0.85"/><circle cx="136.6" cy="223.0" r="0.85"/><circle cx="153.0" cy="225.4" r="0.85"/><circle cx="153.8" cy="234.5" r="0.85"/><circle cx="143.3" cy="225.8" r="0.85"/><circle cx="147.8" cy="227.0" r="0.85"/><circle cx="166.0" cy="227.9" r="0.85"/><circle cx="146.2" cy="220.5" r="0.85"/><circle cx="145.6" cy="229.1" r="0.85"/><circle cx="145.9" cy="238.9" r="0.85"/><circle cx="158.6" cy="215.3" r="0.85"/><circle cx="158.9" cy="248.3" r="0.85"/><circle cx="145.0" cy="231.5" r="0.85"/><circle cx="131.0" cy="233.3" r="0.85"/><circle cx="153.6" cy="217.8" r="0.85"/><circle cx="165.4" cy="206.7" r="0.85"/><circle cx="127.6" cy="218.3" r="0.85"/><circle cx="130.4" cy="221.5" r="0.85"/><circle cx="149.5" cy="226.8" r="0.85"/><circle cx="155.2" cy="211.5" r="0.85"/><circle cx="140.7" cy="237.3" r="0.85"/><circle cx="154.7" cy="217.2" r="0.85"/><circle cx="143.6" cy="253.5" r="0.85"/><circle cx="125.9" cy="238.4" r="0.85"/><circle cx="160.9" cy="233.1" r="0.85"/><circle cx="151.7" cy="236.0" r="0.85"/><circle cx="154.9" cy="242.0" r="0.85"/><circle cx="130.5" cy="208.8" r="0.85"/><circle cx="125.9" cy="234.7" r="0.85"/><circle cx="127.5" cy="206.8" r="0.85"/><circle cx="166.3" cy="241.3" r="0.85"/><circle cx="138.7" cy="239.7" r="0.85"/><circle cx="160.9" cy="210.7" r="0.85"/><circle cx="149.7" cy="239.0" r="0.85"/><circle cx="164.3" cy="219.8" r="0.85"/><circle cx="148.8" cy="227.9" r="0.85"/><circle cx="145.4" cy="236.1" r="0.85"/><circle cx="139.5" cy="212.2" r="0.85"/><circle cx="149.7" cy="232.9" r="0.85"/><circle cx="134.8" cy="220.8" r="0.85"/><circle cx="146.3" cy="236.3" r="0.85"/><circle cx="142.8" cy="219.1" r="0.85"/><circle cx="147.4" cy="216.1" r="0.85"/><circle cx="137.0" cy="225.7" r="0.85"/><circle cx="157.5" cy="213.3" r="0.85"/><circle cx="163.4" cy="222.4" r="0.85"/><circle cx="146.5" cy="215.6" r="0.85"/><circle cx="142.1" cy="229.9" r="0.85"/><circle cx="154.6" cy="228.8" r="0.85"/><circle cx="155.5" cy="209.4" r="0.85"/><circle cx="134.4" cy="211.4" r="0.85"/><circle cx="138.2" cy="226.6" r="0.85"/><circle cx="140.4" cy="224.0" r="0.85"/><circle cx="134.2" cy="225.5" r="0.85"/><circle cx="152.4" cy="242.7" r="0.85"/><circle cx="153.3" cy="209.8" r="0.85"/><circle cx="136.9" cy="207.9" r="0.85"/><circle cx="128.3" cy="221.3" r="0.85"/><circle cx="164.9" cy="225.7" r="0.85"/><circle cx="147.1" cy="206.6" r="0.85"/><circle cx="158.5" cy="224.8" r="0.85"/><circle cx="130.2" cy="233.4" r="0.85"/><circle cx="158.1" cy="222.2" r="0.85"/><circle cx="140.8" cy="207.9" r="0.85"/><circle cx="136.8" cy="224.9" r="0.85"/><circle cx="162.2" cy="236.4" r="0.85"/><circle cx="143.6" cy="213.2" r="0.85"/><circle cx="165.4" cy="228.0" r="0.85"/><circle cx="133.2" cy="228.4" r="0.85"/><circle cx="163.2" cy="231.0" r="0.85"/><circle cx="160.4" cy="210.6" r="0.85"/><circle cx="162.0" cy="242.2" r="0.85"/><circle cx="143.1" cy="230.2" r="0.85"/><circle cx="141.0" cy="241.2" r="0.85"/><circle cx="130.6" cy="233.2" r="0.85"/><circle cx="141.9" cy="215.2" r="0.85"/><circle cx="150.0" cy="223.4" r="0.85"/><circle cx="141.6" cy="225.7" r="0.85"/><circle cx="141.2" cy="234.1" r="0.85"/><circle cx="156.7" cy="224.2" r="0.85"/><circle cx="139.3" cy="215.4" r="0.85"/><circle cx="133.4" cy="206.4" r="0.85"/><circle cx="126.6" cy="215.0" r="0.85"/><circle cx="137.7" cy="207.0" r="0.85"/><circle cx="133.9" cy="238.3" r="0.85"/><circle cx="135.3" cy="208.4" r="0.85"/><circle cx="138.9" cy="214.4" r="0.85"/><circle cx="127.3" cy="214.7" r="0.85"/><circle cx="150.2" cy="237.6" r="0.85"/><circle cx="146.5" cy="229.0" r="0.85"/><circle cx="138.4" cy="228.8" r="0.85"/><circle cx="142.7" cy="241.5" r="0.85"/><circle cx="130.5" cy="231.6" r="0.85"/><circle cx="160.6" cy="222.6" r="0.85"/><circle cx="135.7" cy="212.3" r="0.85"/><circle cx="127.3" cy="216.7" r="0.85"/><circle cx="158.1" cy="226.7" r="0.85"/><circle cx="157.3" cy="213.6" r="0.85"/><circle cx="145.3" cy="227.2" r="0.85"/><circle cx="141.2" cy="223.1" r="0.85"/><circle cx="135.0" cy="206.9" r="0.85"/><circle cx="160.0" cy="206.9" r="0.85"/><circle cx="148.1" cy="236.3" r="0.85"/><circle cx="130.0" cy="222.1" r="0.85"/><circle cx="143.7" cy="241.9" r="0.85"/><circle cx="166.1" cy="233.8" r="0.85"/><circle cx="134.4" cy="230.1" r="0.85"/><circle cx="125.9" cy="227.5" r="0.85"/><circle cx="140.8" cy="226.2" r="0.85"/><circle cx="143.4" cy="212.4" r="0.85"/><circle cx="154.3" cy="223.0" r="0.85"/><circle cx="146.8" cy="230.2" r="0.85"/><circle cx="146.5" cy="222.6" r="0.85"/><circle cx="145.8" cy="239.3" r="0.85"/><circle cx="134.3" cy="230.9" r="0.85"/><circle cx="139.4" cy="214.7" r="0.85"/><circle cx="150.8" cy="213.3" r="0.85"/><circle cx="129.2" cy="219.2" r="0.85"/><circle cx="164.6" cy="219.0" r="0.85"/><circle cx="152.5" cy="227.5" r="0.85"/><circle cx="147.4" cy="217.9" r="0.85"/><circle cx="160.1" cy="232.2" r="0.85"/><circle cx="139.5" cy="237.2" r="0.85"/><circle cx="140.5" cy="216.9" r="0.85"/><circle cx="152.7" cy="227.3" r="0.85"/><circle cx="152.8" cy="210.5" r="0.85"/><circle cx="135.2" cy="227.2" r="0.85"/><circle cx="157.9" cy="229.0" r="0.85"/><circle cx="141.0" cy="223.2" r="0.85"/><circle cx="134.7" cy="220.3" r="0.85"/><circle cx="164.8" cy="215.1" r="0.85"/><circle cx="146.0" cy="214.7" r="0.85"/><circle cx="132.8" cy="224.8" r="0.85"/><circle cx="152.0" cy="219.9" r="0.85"/><circle cx="152.0" cy="213.7" r="0.85"/><circle cx="131.3" cy="217.2" r="0.85"/><circle cx="146.5" cy="218.1" r="0.85"/><circle cx="138.5" cy="216.6" r="0.85"/><circle cx="145.4" cy="221.2" r="0.85"/><circle cx="150.8" cy="229.8" r="0.85"/><circle cx="153.4" cy="230.6" r="0.85"/><circle cx="148.0" cy="206.0" r="0.85"/><circle cx="149.0" cy="207.8" r="0.85"/><circle cx="134.8" cy="230.8" r="0.85"/><circle cx="148.8" cy="223.7" r="0.85"/><circle cx="144.0" cy="210.7" r="0.85"/><circle cx="165.2" cy="230.5" r="0.85"/><circle cx="130.1" cy="205.8" r="0.85"/><circle cx="150.6" cy="248.6" r="0.85"/><circle cx="165.3" cy="228.8" r="0.85"/><circle cx="155.4" cy="220.6" r="0.85"/><circle cx="133.0" cy="244.6" r="0.85"/><circle cx="159.4" cy="221.1" r="0.85"/><circle cx="161.9" cy="223.2" r="0.85"/><circle cx="143.7" cy="231.6" r="0.85"/><circle cx="147.4" cy="228.3" r="0.85"/><circle cx="162.3" cy="216.6" r="0.85"/><circle cx="139.6" cy="233.3" r="0.85"/><circle cx="128.5" cy="225.1" r="0.85"/><circle cx="128.7" cy="218.6" r="0.85"/><circle cx="132.3" cy="218.7" r="0.85"/><circle cx="137.7" cy="218.0" r="0.85"/><circle cx="162.6" cy="247.8" r="0.85"/><circle cx="161.1" cy="235.3" r="0.85"/><circle cx="158.1" cy="222.6" r="0.85"/><circle cx="137.2" cy="241.5" r="0.85"/><circle cx="155.5" cy="212.5" r="0.85"/><circle cx="135.0" cy="244.5" r="0.85"/><circle cx="148.2" cy="237.1" r="0.85"/><circle cx="150.7" cy="227.5" r="0.85"/><circle cx="154.2" cy="217.8" r="0.85"/><circle cx="144.6" cy="226.2" r="0.85"/><circle cx="133.8" cy="209.0" r="0.85"/><circle cx="164.6" cy="219.2" r="0.85"/><circle cx="159.5" cy="241.3" r="0.85"/><circle cx="135.9" cy="218.9" r="0.85"/><circle cx="134.9" cy="210.7" r="0.85"/><circle cx="134.6" cy="233.6" r="0.85"/><circle cx="146.5" cy="219.8" r="0.85"/><circle cx="146.2" cy="241.7" r="0.85"/><circle cx="156.1" cy="226.6" r="0.85"/><circle cx="161.4" cy="217.7" r="0.85"/><circle cx="139.9" cy="229.4" r="0.85"/><circle cx="155.5" cy="216.0" r="0.85"/><circle cx="147.1" cy="212.0" r="0.85"/><circle cx="132.1" cy="234.3" r="0.85"/><circle cx="146.4" cy="216.0" r="0.85"/><circle cx="157.8" cy="229.2" r="0.85"/><circle cx="140.1" cy="240.2" r="0.85"/><circle cx="158.8" cy="230.8" r="0.85"/><circle cx="151.6" cy="228.4" r="0.85"/><circle cx="145.4" cy="210.8" r="0.85"/><circle cx="134.6" cy="233.6" r="0.85"/><circle cx="143.6" cy="243.2" r="0.85"/><circle cx="136.1" cy="223.7" r="0.85"/><circle cx="159.5" cy="206.2" r="0.85"/><circle cx="151.2" cy="217.6" r="0.85"/><circle cx="130.9" cy="225.1" r="0.85"/><circle cx="160.8" cy="212.4" r="0.85"/><circle cx="157.7" cy="212.7" r="0.85"/><circle cx="143.5" cy="208.0" r="0.85"/><circle cx="133.5" cy="232.6" r="0.85"/><circle cx="146.5" cy="230.2" r="0.85"/><circle cx="131.9" cy="227.5" r="0.85"/><circle cx="141.6" cy="245.2" r="0.85"/><circle cx="131.8" cy="229.4" r="0.85"/><circle cx="133.5" cy="236.7" r="0.85"/><circle cx="145.1" cy="209.4" r="0.85"/><circle cx="146.3" cy="220.1" r="0.85"/><circle cx="159.8" cy="248.7" r="0.85"/><circle cx="133.9" cy="226.2" r="0.85"/><circle cx="127.4" cy="225.1" r="0.85"/><circle cx="147.6" cy="206.1" r="0.85"/><circle cx="134.6" cy="225.3" r="0.85"/><circle cx="155.3" cy="212.2" r="0.85"/><circle cx="135.1" cy="206.0" r="0.85"/><circle cx="140.9" cy="214.9" r="0.85"/><circle cx="145.3" cy="238.0" r="0.85"/><circle cx="153.9" cy="229.8" r="0.85"/><circle cx="132.0" cy="216.6" r="0.85"/><circle cx="129.9" cy="235.3" r="0.85"/><circle cx="127.8" cy="223.5" r="0.85"/><circle cx="136.1" cy="228.1" r="0.85"/><circle cx="129.3" cy="213.3" r="0.85"/><circle cx="138.0" cy="224.1" r="0.85"/><circle cx="144.5" cy="207.0" r="0.85"/><circle cx="155.1" cy="237.5" r="0.85"/><circle cx="130.4" cy="223.7" r="0.85"/><circle cx="139.2" cy="224.9" r="0.85"/><circle cx="130.2" cy="215.8" r="0.85"/><circle cx="166.2" cy="224.3" r="0.85"/><circle cx="156.5" cy="226.4" r="0.85"/><circle cx="142.5" cy="233.5" r="0.85"/><circle cx="138.5" cy="217.8" r="0.85"/><circle cx="128.8" cy="236.0" r="0.85"/><circle cx="143.7" cy="218.3" r="0.85"/><circle cx="143.5" cy="225.9" r="0.85"/><circle cx="145.1" cy="228.4" r="0.85"/><circle cx="162.0" cy="233.6" r="0.85"/><circle cx="142.4" cy="214.3" r="0.85"/><circle cx="144.5" cy="208.8" r="0.85"/><circle cx="149.1" cy="223.9" r="0.85"/><circle cx="160.9" cy="237.5" r="0.85"/><circle cx="129.0" cy="240.1" r="0.85"/><circle cx="165.5" cy="238.9" r="0.85"/><circle cx="151.5" cy="224.8" r="0.85"/><circle cx="160.0" cy="216.5" r="0.85"/><circle cx="138.0" cy="224.6" r="0.85"/><circle cx="154.7" cy="222.3" r="0.85"/><circle cx="151.9" cy="214.5" r="0.85"/><circle cx="152.5" cy="221.9" r="0.85"/><circle cx="143.7" cy="221.1" r="0.85"/><circle cx="139.0" cy="213.5" r="0.85"/><circle cx="131.0" cy="216.5" r="0.85"/><circle cx="153.0" cy="218.0" r="0.85"/><circle cx="138.2" cy="242.4" r="0.85"/><circle cx="148.0" cy="225.4" r="0.85"/><circle cx="155.5" cy="217.3" r="0.85"/><circle cx="128.6" cy="225.8" r="0.85"/><circle cx="155.2" cy="222.3" r="0.85"/><circle cx="140.8" cy="228.2" r="0.85"/><circle cx="146.2" cy="233.5" r="0.85"/><circle cx="142.6" cy="233.1" r="0.85"/><circle cx="138.0" cy="232.8" r="0.85"/><circle cx="165.1" cy="212.8" r="0.85"/><circle cx="135.1" cy="231.4" r="0.85"/><circle cx="165.1" cy="215.0" r="0.85"/><circle cx="159.6" cy="237.8" r="0.85"/><circle cx="141.8" cy="223.8" r="0.85"/><circle cx="130.2" cy="212.6" r="0.85"/><circle cx="127.5" cy="230.6" r="0.85"/><circle cx="134.0" cy="230.3" r="0.85"/><circle cx="137.0" cy="231.1" r="0.85"/><circle cx="143.1" cy="234.4" r="0.85"/><circle cx="163.9" cy="230.0" r="0.85"/><circle cx="148.6" cy="217.5" r="0.85"/><circle cx="142.7" cy="235.2" r="0.85"/><circle cx="163.0" cy="226.0" r="0.85"/><circle cx="138.1" cy="212.6" r="0.85"/><circle cx="128.4" cy="228.2" r="0.85"/><circle cx="138.0" cy="220.5" r="0.85"/><circle cx="154.9" cy="234.1" r="0.85"/><circle cx="130.9" cy="224.8" r="0.85"/><circle cx="145.0" cy="229.8" r="0.85"/><circle cx="134.8" cy="224.1" r="0.85"/><circle cx="129.1" cy="229.6" r="0.85"/><circle cx="146.8" cy="227.4" r="0.85"/><circle cx="131.4" cy="228.4" r="0.85"/><circle cx="136.0" cy="210.9" r="0.85"/><circle cx="135.6" cy="225.3" r="0.85"/><circle cx="155.9" cy="220.0" r="0.85"/><circle cx="129.8" cy="234.1" r="0.85"/><circle cx="150.1" cy="218.8" r="0.85"/><circle cx="160.8" cy="226.7" r="0.85"/><circle cx="154.0" cy="225.9" r="0.85"/><circle cx="149.7" cy="221.5" r="0.85"/><circle cx="146.0" cy="212.8" r="0.85"/><circle cx="133.4" cy="213.4" r="0.85"/><circle cx="149.6" cy="226.9" r="0.85"/><circle cx="137.9" cy="220.5" r="0.85"/><circle cx="129.3" cy="239.1" r="0.85"/><circle cx="158.3" cy="213.8" r="0.85"/><circle cx="130.5" cy="223.7" r="0.85"/><circle cx="146.5" cy="223.0" r="0.85"/><circle cx="141.0" cy="235.7" r="0.85"/><circle cx="136.9" cy="246.6" r="0.85"/><circle cx="166.0" cy="220.1" r="0.85"/><circle cx="164.1" cy="222.4" r="0.85"/><circle cx="150.6" cy="243.7" r="0.85"/><circle cx="134.1" cy="239.4" r="0.85"/><circle cx="158.7" cy="223.2" r="0.85"/><circle cx="148.5" cy="242.8" r="0.85"/><circle cx="132.9" cy="234.0" r="0.85"/><circle cx="136.3" cy="216.9" r="0.85"/><circle cx="144.6" cy="217.6" r="0.85"/><circle cx="154.8" cy="236.8" r="0.85"/><circle cx="130.0" cy="232.7" r="0.85"/><circle cx="145.1" cy="211.3" r="0.85"/><circle cx="127.6" cy="206.9" r="0.85"/><circle cx="133.6" cy="234.1" r="0.85"/><circle cx="143.0" cy="220.2" r="0.85"/><circle cx="141.0" cy="216.1" r="0.85"/><circle cx="152.2" cy="209.2" r="0.85"/><circle cx="146.7" cy="231.7" r="0.85"/><circle cx="133.4" cy="250.5" r="0.85"/><circle cx="157.4" cy="212.6" r="0.85"/><circle cx="166.1" cy="228.0" r="0.85"/><circle cx="135.6" cy="222.5" r="0.85"/><circle cx="163.9" cy="234.8" r="0.85"/><circle cx="136.7" cy="226.4" r="0.85"/><circle cx="138.5" cy="208.6" r="0.85"/><circle cx="140.8" cy="229.9" r="0.85"/><circle cx="160.1" cy="219.5" r="0.85"/><circle cx="132.1" cy="216.3" r="0.85"/><circle cx="148.9" cy="225.9" r="0.85"/><circle cx="130.0" cy="233.2" r="0.85"/><circle cx="132.1" cy="221.5" r="0.85"/><circle cx="160.2" cy="214.1" r="0.85"/><circle cx="139.2" cy="228.9" r="0.85"/><circle cx="136.7" cy="214.2" r="0.85"/><circle cx="141.8" cy="235.2" r="0.85"/><circle cx="141.2" cy="224.4" r="0.85"/><circle cx="126.3" cy="230.4" r="0.85"/><circle cx="125.8" cy="213.5" r="0.85"/><circle cx="164.8" cy="224.6" r="0.85"/><circle cx="126.8" cy="231.8" r="0.85"/><circle cx="129.8" cy="219.0" r="0.85"/><circle cx="146.3" cy="206.2" r="0.85"/><circle cx="135.8" cy="215.3" r="0.85"/><circle cx="140.9" cy="251.9" r="0.85"/><circle cx="166.0" cy="227.8" r="0.85"/><circle cx="160.2" cy="218.9" r="0.85"/><circle cx="126.7" cy="217.5" r="0.85"/><circle cx="154.0" cy="215.9" r="0.85"/><circle cx="132.1" cy="213.2" r="0.85"/><circle cx="142.0" cy="220.9" r="0.85"/><circle cx="133.6" cy="218.9" r="0.85"/><circle cx="157.4" cy="206.5" r="0.85"/><circle cx="151.3" cy="205.7" r="0.85"/><circle cx="158.8" cy="212.5" r="0.85"/><circle cx="163.5" cy="218.6" r="0.85"/><circle cx="140.9" cy="231.4" r="0.85"/><circle cx="154.5" cy="229.4" r="0.85"/><circle cx="163.6" cy="211.4" r="0.85"/><circle cx="163.9" cy="207.7" r="0.85"/><circle cx="157.4" cy="209.3" r="0.85"/><circle cx="156.6" cy="227.6" r="0.85"/><circle cx="138.7" cy="235.3" r="0.85"/><circle cx="158.6" cy="233.2" r="0.85"/><circle cx="135.9" cy="212.0" r="0.85"/><circle cx="131.0" cy="231.9" r="0.85"/><circle cx="139.4" cy="233.2" r="0.85"/><circle cx="164.3" cy="235.4" r="0.85"/><circle cx="158.0" cy="223.2" r="0.85"/><circle cx="151.4" cy="237.1" r="0.85"/><circle cx="132.9" cy="249.6" r="0.85"/><circle cx="128.9" cy="221.1" r="0.85"/><circle cx="145.3" cy="224.1" r="0.85"/><circle cx="142.5" cy="234.4" r="0.85"/><circle cx="160.3" cy="219.6" r="0.85"/><circle cx="157.5" cy="215.0" r="0.85"/><circle cx="138.2" cy="218.4" r="0.85"/><circle cx="145.8" cy="208.1" r="0.85"/><circle cx="146.3" cy="233.2" r="0.85"/><circle cx="138.9" cy="226.4" r="0.85"/><circle cx="126.3" cy="233.0" r="0.85"/><circle cx="129.6" cy="234.3" r="0.85"/><circle cx="159.8" cy="227.4" r="0.85"/><circle cx="154.1" cy="244.0" r="0.85"/><circle cx="149.6" cy="218.1" r="0.85"/><circle cx="149.4" cy="234.3" r="0.85"/><circle cx="136.4" cy="224.4" r="0.85"/><circle cx="151.0" cy="236.1" r="0.85"/><circle cx="141.0" cy="229.0" r="0.85"/><circle cx="145.8" cy="218.3" r="0.85"/><circle cx="155.5" cy="226.4" r="0.85"/><circle cx="158.3" cy="218.0" r="0.85"/><circle cx="150.1" cy="219.6" r="0.85"/><circle cx="161.2" cy="242.0" r="0.85"/><circle cx="127.7" cy="221.6" r="0.85"/><circle cx="161.5" cy="218.0" r="0.85"/><circle cx="163.2" cy="214.1" r="0.85"/><circle cx="159.3" cy="230.1" r="0.85"/><circle cx="149.2" cy="217.3" r="0.85"/><circle cx="141.2" cy="217.0" r="0.85"/><circle cx="150.8" cy="241.3" r="0.85"/><circle cx="139.3" cy="215.2" r="0.85"/><circle cx="148.8" cy="235.7" r="0.85"/><circle cx="166.1" cy="214.5" r="0.85"/><circle cx="127.0" cy="206.9" r="0.85"/><circle cx="155.3" cy="227.0" r="0.85"/><circle cx="165.1" cy="212.5" r="0.85"/><circle cx="151.6" cy="212.7" r="0.85"/><circle cx="147.5" cy="214.4" r="0.85"/><circle cx="126.4" cy="211.7" r="0.85"/><circle cx="128.2" cy="243.8" r="0.85"/><circle cx="157.9" cy="239.1" r="0.85"/><circle cx="158.3" cy="226.6" r="0.85"/><circle cx="135.5" cy="216.4" r="0.85"/><circle cx="154.4" cy="228.9" r="0.85"/><circle cx="147.3" cy="214.1" r="0.85"/><circle cx="149.6" cy="256.7" r="0.85"/><circle cx="157.4" cy="256.7" r="0.85"/><circle cx="135.8" cy="253.6" r="0.85"/><circle cx="141.5" cy="252.4" r="0.85"/><circle cx="158.4" cy="251.2" r="0.85"/><circle cx="148.5" cy="255.4" r="0.85"/><circle cx="163.8" cy="250.1" r="0.85"/><circle cx="136.8" cy="253.5" r="0.85"/></g>
<line x1="200.80" y1="202.50" x2="229.20" y2="202.50" stroke="#333" stroke-width="1.00"/>
<line x1="200.80" y1="245.50" x2="229.20" y2="245.50" stroke="#333" stroke-width="1.00"/>
<rect x="186.50" y="214.50" width="56.00" height="12.00" fill="none" stroke="#444" stroke-width="1.0"/>
<line x1="186.50" y1="220.30" x2="242.50" y2="220.30" stroke="#111" stroke-width="1.70"/>
<g fill="#3e3e8c" fill-opacity="0.40"><circle cx="232.5" cy="213.6" r="0.85"/><circle cx="201.1" cy="225.7" r="0.85"/><circle cx="216.7" cy="209.9" r="0.85"/><circle cx="232.2" cy="228.5" r="0.85"/><circle cx="200.8" cy="223.8" r="0.85"/><circle cx="199.9" cy="214.0" r="0.85"/><circle cx="218.1" cy="235.0" r="0.85"/><circle cx="199.4" cy="224.1" r="0.85"/><circle cx="200.3" cy="206.5" r="0.85"/><circle cx="227.8" cy="223.3" r="0.85"/><circle cx="232.6" cy="212.6" r="0.85"/><circle cx="227.4" cy="220.4" r="0.85"/><circle cx="229.7" cy="220.7" r="0.85"/><circle cx="228.0" cy="234.2" r="0.85"/><circle cx="225.9" cy="230.1" r="0.85"/><circle cx="220.2" cy="234.6" r="0.85"/><circle cx="207.8" cy="231.6" r="0.85"/><circle cx="207.2" cy="212.8" r="0.85"/><circle cx="229.0" cy="211.3" r="0.85"/><circle cx="204.7" cy="216.3" r="0.85"/><circle cx="216.5" cy="233.4" r="0.85"/><circle cx="230.6" cy="235.2" r="0.85"/><circle cx="204.3" cy="214.3" r="0.85"/><circle cx="199.4" cy="223.3" r="0.85"/><circle cx="206.9" cy="226.9" r="0.85"/><circle cx="225.8" cy="225.0" r="0.85"/><circle cx="213.4" cy="222.7" r="0.85"/><circle cx="198.8" cy="213.7" r="0.85"/><circle cx="208.7" cy="224.6" r="0.85"/><circle cx="197.5" cy="215.3" r="0.85"/><circle cx="225.1" cy="232.8" r="0.85"/><circle cx="197.9" cy="228.4" r="0.85"/><circle cx="204.5" cy="207.5" r="0.85"/><circle cx="211.1" cy="217.4" r="0.85"/><circle cx="208.3" cy="221.1" r="0.85"/><circle cx="204.3" cy="224.1" r="0.85"/><circle cx="226.3" cy="216.5" r="0.85"/><circle cx="199.7" cy="212.7" r="0.85"/><circle cx="206.0" cy="225.8" r="0.85"/><circle cx="224.5" cy="222.3" r="0.85"/><circle cx="206.0" cy="228.9" r="0.85"/><circle cx="229.6" cy="211.3" r="0.85"/><circle cx="209.9" cy="209.6" r="0.85"/><circle cx="231.9" cy="230.4" r="0.85"/><circle cx="217.5" cy="215.3" r="0.85"/><circle cx="229.5" cy="219.9" r="0.85"/><circle cx="198.7" cy="228.0" r="0.85"/><circle cx="214.9" cy="221.0" r="0.85"/><circle cx="212.1" cy="213.2" r="0.85"/><circle cx="234.7" cy="208.4" r="0.85"/><circle cx="228.6" cy="221.5" r="0.85"/><circle cx="230.7" cy="215.8" r="0.85"/><circle cx="220.3" cy="223.9" r="0.85"/><circle cx="224.6" cy="233.3" r="0.85"/><circle cx="207.0" cy="212.0" r="0.85"/><circle cx="215.4" cy="217.2" r="0.85"/><circle cx="213.5" cy="230.9" r="0.85"/><circle cx="231.5" cy="239.3" r="0.85"/><circle cx="213.9" cy="204.7" r="0.85"/><circle cx="233.7" cy="234.8" r="0.85"/><circle cx="220.5" cy="237.6" r="0.85"/><circle cx="229.9" cy="236.2" r="0.85"/><circle cx="195.5" cy="231.0" r="0.85"/><circle cx="209.7" cy="223.6" r="0.85"/><circle cx="225.1" cy="212.8" r="0.85"/><circle cx="213.5" cy="213.4" r="0.85"/><circle cx="227.0" cy="223.8" r="0.85"/><circle cx="224.2" cy="243.7" r="0.85"/><circle cx="203.5" cy="235.0" r="0.85"/><circle cx="209.7" cy="206.5" r="0.85"/><circle cx="230.6" cy="227.0" r="0.85"/><circle cx="232.9" cy="212.5" r="0.85"/><circle cx="198.9" cy="211.6" r="0.85"/><circle cx="197.3" cy="204.2" r="0.85"/><circle cx="212.7" cy="218.4" r="0.85"/><circle cx="234.4" cy="210.6" r="0.85"/><circle cx="211.5" cy="225.1" r="0.85"/><circle cx="201.5" cy="232.7" r="0.85"/><circle cx="216.5" cy="214.2" r="0.85"/><circle cx="211.8" cy="220.3" r="0.85"/><circle cx="214.5" cy="229.0" r="0.85"/><circle cx="212.6" cy="233.1" r="0.85"/><circle cx="202.9" cy="218.3" r="0.85"/><circle cx="196.7" cy="225.3" r="0.85"/><circle cx="226.3" cy="228.1" r="0.85"/><circle cx="230.6" cy="221.8" r="0.85"/><circle cx="212.4" cy="237.6" r="0.85"/><circle cx="216.3" cy="216.8" r="0.85"/><circle cx="197.2" cy="219.6" r="0.85"/><circle cx="221.6" cy="215.8" r="0.85"/><circle cx="231.8" cy="209.2" r="0.85"/><circle cx="227.8" cy="218.8" r="0.85"/><circle cx="217.0" cy="223.8" r="0.85"/><circle cx="221.1" cy="220.8" r="0.85"/><circle cx="214.3" cy="223.3" r="0.85"/><circle cx="195.9" cy="218.9" r="0.85"/><circle cx="205.8" cy="211.9" r="0.85"/><circle cx="202.0" cy="222.7" r="0.85"/><circle cx="201.9" cy="224.7" r="0.85"/><circle cx="223.5" cy="208.0" r="0.85"/><circle cx="208.6" cy="225.0" r="0.85"/><circle cx="221.1" cy="204.9" r="0.85"/><circle cx="210.4" cy="212.9" r="0.85"/><circle cx="234.0" cy="217.3" r="0.85"/><circle cx="221.8" cy="216.8" r="0.85"/><circle cx="198.6" cy="215.8" r="0.85"/><circle cx="228.7" cy="226.5" r="0.85"/><circle cx="195.0" cy="227.2" r="0.85"/><circle cx="226.3" cy="218.3" r="0.85"/><circle cx="203.9" cy="210.1" r="0.85"/><circle cx="223.1" cy="214.4" r="0.85"/><circle cx="208.7" cy="235.6" r="0.85"/><circle cx="225.4" cy="210.3" r="0.85"/><circle cx="234.5" cy="240.6" r="0.85"/><circle cx="194.9" cy="222.1" r="0.85"/><circle cx="216.6" cy="218.2" r="0.85"/><circle cx="210.3" cy="221.4" r="0.85"/><circle cx="203.0" cy="209.7" r="0.85"/><circle cx="226.3" cy="213.9" r="0.85"/><circle cx="214.4" cy="237.0" r="0.85"/><circle cx="203.4" cy="224.2" r="0.85"/><circle cx="213.7" cy="228.0" r="0.85"/><circle cx="221.5" cy="220.3" r="0.85"/><circle cx="225.5" cy="211.6" r="0.85"/><circle cx="224.2" cy="210.3" r="0.85"/><circle cx="221.7" cy="223.7" r="0.85"/><circle cx="218.8" cy="232.2" r="0.85"/><circle cx="224.1" cy="223.1" r="0.85"/><circle cx="208.4" cy="228.5" r="0.85"/><circle cx="198.4" cy="208.8" r="0.85"/><circle cx="218.0" cy="233.5" r="0.85"/><circle cx="201.5" cy="219.6" r="0.85"/><circle cx="225.0" cy="214.2" r="0.85"/><circle cx="200.5" cy="226.6" r="0.85"/><circle cx="215.4" cy="224.6" r="0.85"/><circle cx="205.5" cy="237.9" r="0.85"/><circle cx="206.0" cy="220.3" r="0.85"/><circle cx="217.3" cy="219.4" r="0.85"/><circle cx="233.3" cy="244.7" r="0.85"/><circle cx="195.0" cy="215.1" r="0.85"/><circle cx="202.6" cy="228.0" r="0.85"/><circle cx="212.0" cy="222.1" r="0.85"/><circle cx="228.4" cy="218.7" r="0.85"/><circle cx="207.0" cy="241.7" r="0.85"/><circle cx="205.6" cy="222.1" r="0.85"/><circle cx="203.1" cy="227.4" r="0.85"/><circle cx="199.4" cy="226.7" r="0.85"/><circle cx="201.8" cy="220.3" r="0.85"/><circle cx="212.6" cy="233.4" r="0.85"/><circle cx="206.9" cy="216.9" r="0.85"/><circle cx="223.9" cy="205.1" r="0.85"/><circle cx="226.6" cy="238.9" r="0.85"/><circle cx="217.3" cy="209.5" r="0.85"/><circle cx="199.9" cy="221.7" r="0.85"/><circle cx="230.5" cy="216.0" r="0.85"/><circle cx="232.1" cy="216.8" r="0.85"/><circle cx="230.5" cy="235.5" r="0.85"/><circle cx="204.2" cy="223.6" r="0.85"/><circle cx="216.2" cy="225.0" r="0.85"/><circle cx="214.7" cy="210.5" r="0.85"/><circle cx="221.5" cy="225.3" r="0.85"/><circle cx="211.8" cy="233.4" r="0.85"/><circle cx="234.4" cy="226.3" r="0.85"/><circle cx="196.2" cy="234.9" r="0.85"/><circle cx="205.6" cy="224.5" r="0.85"/><circle cx="215.9" cy="224.1" r="0.85"/><circle cx="201.6" cy="221.5" r="0.85"/><circle cx="219.8" cy="215.0" r="0.85"/><circle cx="229.5" cy="225.2" r="0.85"/><circle cx="225.6" cy="225.3" r="0.85"/><circle cx="213.6" cy="228.6" r="0.85"/><circle cx="210.7" cy="215.7" r="0.85"/><circle cx="233.4" cy="241.9" r="0.85"/><circle cx="230.7" cy="224.2" r="0.85"/><circle cx="232.7" cy="232.3" r="0.85"/><circle cx="199.3" cy="230.3" r="0.85"/><circle cx="224.9" cy="215.8" r="0.85"/><circle cx="233.4" cy="217.0" r="0.85"/><circle cx="198.7" cy="223.7" r="0.85"/><circle cx="207.4" cy="215.3" r="0.85"/><circle cx="225.0" cy="208.8" r="0.85"/><circle cx="196.3" cy="229.3" r="0.85"/><circle cx="227.1" cy="215.4" r="0.85"/><circle cx="213.6" cy="223.5" r="0.85"/><circle cx="216.6" cy="210.7" r="0.85"/><circle cx="195.5" cy="215.3" r="0.85"/><circle cx="229.4" cy="220.6" r="0.85"/><circle cx="222.0" cy="232.6" r="0.85"/><circle cx="232.9" cy="224.3" r="0.85"/><circle cx="223.1" cy="218.9" r="0.85"/><circle cx="224.0" cy="218.6" r="0.85"/><circle cx="232.0" cy="219.0" r="0.85"/><circle cx="212.3" cy="207.7" r="0.85"/><circle cx="205.7" cy="242.6" r="0.85"/><circle cx="205.5" cy="224.4" r="0.85"/><circle cx="196.2" cy="241.5" r="0.85"/><circle cx="224.5" cy="244.9" r="0.85"/><circle cx="203.0" cy="233.2" r="0.85"/><circle cx="221.5" cy="237.3" r="0.85"/><circle cx="218.2" cy="227.3" r="0.85"/><circle cx="232.9" cy="227.9" r="0.85"/><circle cx="194.6" cy="216.6" r="0.85"/><circle cx="235.0" cy="222.0" r="0.85"/><circle cx="198.7" cy="238.7" r="0.85"/><circle cx="224.2" cy="213.6" r="0.85"/><circle cx="196.2" cy="215.5" r="0.85"/><circle cx="214.4" cy="206.9" r="0.85"/><circle cx="200.4" cy="218.6" r="0.85"/><circle cx="199.8" cy="227.7" r="0.85"/><circle cx="205.3" cy="211.3" r="0.85"/><circle cx="204.2" cy="223.9" r="0.85"/><circle cx="217.6" cy="229.5" r="0.85"/><circle cx="215.3" cy="211.0" r="0.85"/><circle cx="234.6" cy="220.7" r="0.85"/><circle cx="207.8" cy="222.1" r="0.85"/><circle cx="207.2" cy="227.7" r="0.85"/><circle cx="195.9" cy="227.6" r="0.85"/><circle cx="231.9" cy="222.3" r="0.85"/><circle cx="222.8" cy="217.7" r="0.85"/><circle cx="206.7" cy="219.2" r="0.85"/><circle cx="217.0" cy="212.1" r="0.85"/><circle cx="218.7" cy="221.3" r="0.85"/><circle cx="208.5" cy="213.0" r="0.85"/><circle cx="228.0" cy="229.6" r="0.85"/><circle cx="199.3" cy="221.5" r="0.85"/><circle cx="223.9" cy="224.9" r="0.85"/><circle cx="224.8" cy="207.6" r="0.85"/><circle cx="215.4" cy="209.8" r="0.85"/><circle cx="220.8" cy="211.2" r="0.85"/><circle cx="214.6" cy="206.8" r="0.85"/><circle cx="225.2" cy="214.5" r="0.85"/><circle cx="211.8" cy="217.5" r="0.85"/><circle cx="211.6" cy="206.0" r="0.85"/><circle cx="209.2" cy="225.6" r="0.85"/><circle cx="210.4" cy="209.7" r="0.85"/><circle cx="234.0" cy="224.6" r="0.85"/><circle cx="198.2" cy="236.2" r="0.85"/><circle cx="210.5" cy="222.0" r="0.85"/><circle cx="212.7" cy="210.5" r="0.85"/><circle cx="204.2" cy="213.9" r="0.85"/><circle cx="195.1" cy="236.9" r="0.85"/><circle cx="206.1" cy="209.7" r="0.85"/><circle cx="196.9" cy="222.2" r="0.85"/><circle cx="230.7" cy="224.1" r="0.85"/><circle cx="204.8" cy="212.5" r="0.85"/><circle cx="222.8" cy="223.6" r="0.85"/><circle cx="210.2" cy="207.1" r="0.85"/><circle cx="204.0" cy="226.3" r="0.85"/><circle cx="229.3" cy="230.4" r="0.85"/><circle cx="234.5" cy="229.1" r="0.85"/><circle cx="223.5" cy="213.7" r="0.85"/><circle cx="197.0" cy="221.7" r="0.85"/><circle cx="224.2" cy="236.8" r="0.85"/><circle cx="221.5" cy="227.9" r="0.85"/><circle cx="213.7" cy="238.3" r="0.85"/><circle cx="219.5" cy="231.1" r="0.85"/><circle cx="211.6" cy="228.1" r="0.85"/><circle cx="204.6" cy="234.9" r="0.85"/><circle cx="199.4" cy="211.7" r="0.85"/><circle cx="203.8" cy="211.5" r="0.85"/><circle cx="207.7" cy="231.2" r="0.85"/><circle cx="212.3" cy="222.8" r="0.85"/><circle cx="223.7" cy="213.2" r="0.85"/><circle cx="207.9" cy="243.4" r="0.85"/><circle cx="207.8" cy="210.0" r="0.85"/><circle cx="219.1" cy="228.2" r="0.85"/><circle cx="219.8" cy="226.9" r="0.85"/><circle cx="220.4" cy="218.5" r="0.85"/><circle cx="199.5" cy="222.5" r="0.85"/><circle cx="217.3" cy="224.4" r="0.85"/><circle cx="219.6" cy="227.8" r="0.85"/><circle cx="231.1" cy="211.0" r="0.85"/><circle cx="218.3" cy="219.4" r="0.85"/><circle cx="205.7" cy="221.5" r="0.85"/><circle cx="205.1" cy="213.3" r="0.85"/><circle cx="212.3" cy="225.3" r="0.85"/><circle cx="202.3" cy="216.3" r="0.85"/><circle cx="199.8" cy="222.3" r="0.85"/><circle cx="210.5" cy="229.1" r="0.85"/><circle cx="225.3" cy="208.9" r="0.85"/><circle cx="210.6" cy="226.8" r="0.85"/><circle cx="225.9" cy="228.9" r="0.85"/><circle cx="231.9" cy="212.9" r="0.85"/><circle cx="204.7" cy="232.4" r="0.85"/><circle cx="222.2" cy="218.2" r="0.85"/><circle cx="210.0" cy="219.4" r="0.85"/><circle cx="230.4" cy="225.6" r="0.85"/><circle cx="209.1" cy="216.0" r="0.85"/><circle cx="215.9" cy="207.4" r="0.85"/><circle cx="202.9" cy="224.3" r="0.85"/><circle cx="222.2" cy="228.4" r="0.85"/><circle cx="216.6" cy="236.0" r="0.85"/><circle cx="212.1" cy="220.5" r="0.85"/><circle cx="197.3" cy="219.8" r="0.85"/><circle cx="227.9" cy="227.2" r="0.85"/><circle cx="216.8" cy="216.0" r="0.85"/><circle cx="206.3" cy="227.0" r="0.85"/><circle cx="205.9" cy="208.0" r="0.85"/><circle cx="226.5" cy="234.8" r="0.85"/><circle cx="222.8" cy="231.2" r="0.85"/><circle cx="199.1" cy="208.5" r="0.85"/><circle cx="196.3" cy="224.3" r="0.85"/><circle cx="215.9" cy="226.9" r="0.85"/><circle cx="227.9" cy="209.2" r="0.85"/><circle cx="204.3" cy="213.7" r="0.85"/><circle cx="234.4" cy="220.5" r="0.85"/><circle cx="196.4" cy="209.1" r="0.85"/><circle cx="234.4" cy="219.4" r="0.85"/><circle cx="199.3" cy="239.7" r="0.85"/><circle cx="221.0" cy="204.4" r="0.85"/><circle cx="206.6" cy="236.7" r="0.85"/><circle cx="198.6" cy="226.0" r="0.85"/><circle cx="234.2" cy="237.5" r="0.85"/><circle cx="220.6" cy="216.2" r="0.85"/><circle cx="205.6" cy="211.2" r="0.85"/><circle cx="198.0" cy="223.3" r="0.85"/><circle cx="219.4" cy="220.0" r="0.85"/><circle cx="208.7" cy="224.4" r="0.85"/><circle cx="232.3" cy="230.2" r="0.85"/><circle cx="204.6" cy="227.5" r="0.85"/><circle cx="221.2" cy="232.4" r="0.85"/><circle cx="215.2" cy="229.0" r="0.85"/><circle cx="199.0" cy="238.7" r="0.85"/><circle cx="201.6" cy="220.9" r="0.85"/><circle cx="213.8" cy="232.3" r="0.85"/><circle cx="217.0" cy="216.6" r="0.85"/><circle cx="213.5" cy="238.5" r="0.85"/><circle cx="195.2" cy="225.2" r="0.85"/><circle cx="207.4" cy="228.8" r="0.85"/><circle cx="226.2" cy="230.9" r="0.85"/><circle cx="199.7" cy="213.7" r="0.85"/><circle cx="222.5" cy="239.1" r="0.85"/><circle cx="198.9" cy="211.8" r="0.85"/><circle cx="211.1" cy="228.5" r="0.85"/><circle cx="207.5" cy="232.4" r="0.85"/><circle cx="199.9" cy="225.5" r="0.85"/><circle cx="199.7" cy="229.0" r="0.85"/><circle cx="210.1" cy="205.6" r="0.85"/><circle cx="210.9" cy="215.4" r="0.85"/><circle cx="227.0" cy="227.9" r="0.85"/><circle cx="232.4" cy="225.0" r="0.85"/><circle cx="229.6" cy="235.3" r="0.85"/><circle cx="216.3" cy="210.4" r="0.85"/><circle cx="226.5" cy="214.8" r="0.85"/><circle cx="204.9" cy="217.6" r="0.85"/><circle cx="198.5" cy="226.5" r="0.85"/><circle cx="211.0" cy="212.7" r="0.85"/><circle cx="216.4" cy="232.9" r="0.85"/><circle cx="226.8" cy="229.6" r="0.85"/><circle cx="226.8" cy="226.7" r="0.85"/><circle cx="200.4" cy="213.0" r="0.85"/><circle cx="225.4" cy="216.2" r="0.85"/><circle cx="208.4" cy="209.3" r="0.85"/><circle cx="200.7" cy="225.8" r="0.85"/><circle cx="227.5" cy="208.5" r="0.85"/><circle cx="208.3" cy="214.0" r="0.85"/><circle cx="224.8" cy="231.1" r="0.85"/><circle cx="230.3" cy="208.9" r="0.85"/><circle cx="210.9" cy="232.6" r="0.85"/><circle cx="229.5" cy="221.1" r="0.85"/><circle cx="209.2" cy="204.8" r="0.85"/><circle cx="205.6" cy="233.8" r="0.85"/><circle cx="206.9" cy="205.8" r="0.85"/><circle cx="197.9" cy="229.0" r="0.85"/><circle cx="196.1" cy="244.6" r="0.85"/><circle cx="227.4" cy="205.0" r="0.85"/><circle cx="216.4" cy="217.5" r="0.85"/><circle cx="211.2" cy="215.3" r="0.85"/><circle cx="231.8" cy="218.4" r="0.85"/><circle cx="198.7" cy="229.9" r="0.85"/><circle cx="220.5" cy="231.7" r="0.85"/><circle cx="227.3" cy="210.3" r="0.85"/><circle cx="196.6" cy="227.6" r="0.85"/><circle cx="226.1" cy="220.8" r="0.85"/><circle cx="200.7" cy="216.2" r="0.85"/><circle cx="200.8" cy="215.8" r="0.85"/><circle cx="224.8" cy="209.1" r="0.85"/><circle cx="205.8" cy="227.1" r="0.85"/><circle cx="233.5" cy="223.4" r="0.85"/><circle cx="206.9" cy="218.7" r="0.85"/><circle cx="226.9" cy="206.3" r="0.85"/><circle cx="209.3" cy="231.5" r="0.85"/><circle cx="212.8" cy="207.7" r="0.85"/><circle cx="217.3" cy="224.4" r="0.85"/><circle cx="233.5" cy="206.2" r="0.85"/><circle cx="194.8" cy="232.9" r="0.85"/><circle cx="214.4" cy="208.7" r="0.85"/><circle cx="229.0" cy="225.7" r="0.85"/><circle cx="223.5" cy="227.6" r="0.85"/><circle cx="227.9" cy="243.3" r="0.85"/><circle cx="220.8" cy="225.2" r="0.85"/><circle cx="197.6" cy="221.7" r="0.85"/><circle cx="217.6" cy="216.1" r="0.85"/><circle cx="212.7" cy="227.3" r="0.85"/><circle cx="197.7" cy="236.3" r="0.85"/><circle cx="217.2" cy="207.7" r="0.85"/><circle cx="212.5" cy="214.3" r="0.85"/><circle cx="208.6" cy="233.0" r="0.85"/><circle cx="234.1" cy="235.8" r="0.85"/><circle cx="228.0" cy="214.9" r="0.85"/><circle cx="197.6" cy="226.9" r="0.85"/><circle cx="199.6" cy="226.8" r="0.85"/><circle cx="211.7" cy="239.2" r="0.85"/><circle cx="233.4" cy="218.3" r="0.85"/><circle cx="203.5" cy="220.7" r="0.85"/><circle cx="205.6" cy="222.4" r="0.85"/><circle cx="196.8" cy="210.1" r="0.85"/><circle cx="221.9" cy="218.5" r="0.85"/><circle cx="217.3" cy="211.8" r="0.85"/><circle cx="224.3" cy="214.4" r="0.85"/><circle cx="222.5" cy="217.2" r="0.85"/><circle cx="213.3" cy="206.8" r="0.85"/><circle cx="206.1" cy="231.1" r="0.85"/><circle cx="219.5" cy="223.1" r="0.85"/><circle cx="202.1" cy="233.4" r="0.85"/><circle cx="229.2" cy="225.0" r="0.85"/><circle cx="201.6" cy="207.4" r="0.85"/><circle cx="205.5" cy="217.6" r="0.85"/><circle cx="199.0" cy="229.6" r="0.85"/><circle cx="208.7" cy="220.7" r="0.85"/><circle cx="218.8" cy="235.0" r="0.85"/><circle cx="208.2" cy="232.8" r="0.85"/><circle cx="231.4" cy="215.3" r="0.85"/><circle cx="201.6" cy="227.8" r="0.85"/><circle cx="233.7" cy="208.1" r="0.85"/><circle cx="197.1" cy="215.0" r="0.85"/><circle cx="234.4" cy="224.6" r="0.85"/><circle cx="209.7" cy="218.1" r="0.85"/><circle cx="235.0" cy="213.6" r="0.85"/><circle cx="204.8" cy="244.2" r="0.85"/><circle cx="205.2" cy="224.2" r="0.85"/><circle cx="217.3" cy="210.0" r="0.85"/><circle cx="232.4" cy="230.4" r="0.85"/><circle cx="232.9" cy="225.8" r="0.85"/><circle cx="227.8" cy="213.7" r="0.85"/><circle cx="195.2" cy="232.3" r="0.85"/><circle cx="204.8" cy="209.5" r="0.85"/><circle cx="204.1" cy="230.1" r="0.85"/><circle cx="223.3" cy="217.2" r="0.85"/><circle cx="231.9" cy="215.8" r="0.85"/><circle cx="197.4" cy="216.6" r="0.85"/><circle cx="200.3" cy="209.6" r="0.85"/><circle cx="197.7" cy="238.2" r="0.85"/><circle cx="213.1" cy="220.0" r="0.85"/><circle cx="226.8" cy="242.7" r="0.85"/><circle cx="216.1" cy="215.0" r="0.85"/><circle cx="205.7" cy="216.3" r="0.85"/><circle cx="224.1" cy="208.9" r="0.85"/><circle cx="211.1" cy="211.7" r="0.85"/><circle cx="202.6" cy="221.7" r="0.85"/><circle cx="216.3" cy="218.2" r="0.85"/><circle cx="217.8" cy="234.0" r="0.85"/><circle cx="212.3" cy="238.3" r="0.85"/><circle cx="202.0" cy="206.4" r="0.85"/><circle cx="211.9" cy="227.4" r="0.85"/><circle cx="194.6" cy="233.5" r="0.85"/><circle cx="199.9" cy="229.0" r="0.85"/><circle cx="204.9" cy="227.3" r="0.85"/><circle cx="230.3" cy="220.8" r="0.85"/><circle cx="225.1" cy="221.2" r="0.85"/><circle cx="218.8" cy="218.7" r="0.85"/><circle cx="212.0" cy="221.8" r="0.85"/><circle cx="204.1" cy="221.3" r="0.85"/><circle cx="222.7" cy="224.1" r="0.85"/><circle cx="198.9" cy="222.1" r="0.85"/><circle cx="234.5" cy="230.9" r="0.85"/><circle cx="207.7" cy="214.7" r="0.85"/><circle cx="201.1" cy="230.7" r="0.85"/><circle cx="210.8" cy="217.0" r="0.85"/><circle cx="226.8" cy="210.0" r="0.85"/><circle cx="202.0" cy="231.6" r="0.85"/><circle cx="212.9" cy="228.7" r="0.85"/><circle cx="231.8" cy="233.4" r="0.85"/><circle cx="221.7" cy="230.5" r="0.85"/><circle cx="209.5" cy="229.8" r="0.85"/><circle cx="225.3" cy="230.2" r="0.85"/><circle cx="213.7" cy="222.9" r="0.85"/><circle cx="219.2" cy="213.3" r="0.85"/><circle cx="213.3" cy="223.3" r="0.85"/><circle cx="216.8" cy="246.1" r="0.85"/><circle cx="217.1" cy="216.2" r="0.85"/><circle cx="220.1" cy="226.6" r="0.85"/><circle cx="224.5" cy="220.5" r="0.85"/><circle cx="235.1" cy="235.6" r="0.85"/><circle cx="210.4" cy="230.2" r="0.85"/><circle cx="221.0" cy="215.4" r="0.85"/><circle cx="229.7" cy="223.0" r="0.85"/><circle cx="234.5" cy="229.1" r="0.85"/><circle cx="197.1" cy="215.5" r="0.85"/><circle cx="224.7" cy="231.0" r="0.85"/><circle cx="220.1" cy="233.8" r="0.85"/><circle cx="194.6" cy="212.5" r="0.85"/><circle cx="197.4" cy="230.7" r="0.85"/><circle cx="195.6" cy="222.7" r="0.85"/><circle cx="215.9" cy="214.8" r="0.85"/><circle cx="229.3" cy="214.2" r="0.85"/><circle cx="211.3" cy="229.4" r="0.85"/><circle cx="219.7" cy="217.4" r="0.85"/><circle cx="216.5" cy="218.6" r="0.85"/><circle cx="194.7" cy="237.6" r="0.85"/><circle cx="204.6" cy="209.4" r="0.85"/><circle cx="214.8" cy="239.0" r="0.85"/><circle cx="196.0" cy="215.2" r="0.85"/><circle cx="227.3" cy="233.4" r="0.85"/><circle cx="198.9" cy="222.1" r="0.85"/><circle cx="215.8" cy="208.3" r="0.85"/><circle cx="211.6" cy="231.8" r="0.85"/><circle cx="231.8" cy="234.5" r="0.85"/><circle cx="222.9" cy="210.5" r="0.85"/><circle cx="200.2" cy="238.7" r="0.85"/><circle cx="221.8" cy="224.4" r="0.85"/><circle cx="220.1" cy="216.6" r="0.85"/><circle cx="231.9" cy="227.6" r="0.85"/><circle cx="216.1" cy="229.4" r="0.85"/><circle cx="208.7" cy="221.4" r="0.85"/><circle cx="197.2" cy="241.7" r="0.85"/><circle cx="227.6" cy="216.7" r="0.85"/><circle cx="194.7" cy="215.1" r="0.85"/><circle cx="224.0" cy="222.7" r="0.85"/><circle cx="227.4" cy="224.6" r="0.85"/><circle cx="199.4" cy="224.7" r="0.85"/><circle cx="228.7" cy="220.7" r="0.85"/><circle cx="228.2" cy="211.4" r="0.85"/><circle cx="229.3" cy="219.4" r="0.85"/><circle cx="199.4" cy="220.0" r="0.85"/><circle cx="234.4" cy="220.8" r="0.85"/><circle cx="211.3" cy="222.7" r="0.85"/><circle cx="218.1" cy="237.5" r="0.85"/><circle cx="232.1" cy="218.6" r="0.85"/><circle cx="233.6" cy="234.8" r="0.85"/><circle cx="203.7" cy="228.5" r="0.85"/><circle cx="207.7" cy="245.4" r="0.85"/><circle cx="196.9" cy="214.4" r="0.85"/><circle cx="235.0" cy="222.4" r="0.85"/><circle cx="214.6" cy="215.9" r="0.85"/><circle cx="225.6" cy="206.2" r="0.85"/><circle cx="208.2" cy="228.8" r="0.85"/><circle cx="223.0" cy="226.8" r="0.85"/><circle cx="228.9" cy="213.5" r="0.85"/><circle cx="224.4" cy="209.1" r="0.85"/><circle cx="217.5" cy="214.7" r="0.85"/><circle cx="197.6" cy="227.4" r="0.85"/><circle cx="199.5" cy="225.2" r="0.85"/><circle cx="196.5" cy="216.2" r="0.85"/><circle cx="219.5" cy="224.7" r="0.85"/><circle cx="228.0" cy="235.7" r="0.85"/><circle cx="219.6" cy="222.1" r="0.85"/><circle cx="210.5" cy="233.1" r="0.85"/><circle cx="205.4" cy="232.2" r="0.85"/><circle cx="220.2" cy="236.4" r="0.85"/><circle cx="232.4" cy="224.0" r="0.85"/><circle cx="215.2" cy="227.2" r="0.85"/><circle cx="196.9" cy="215.4" r="0.85"/><circle cx="214.1" cy="232.1" r="0.85"/><circle cx="231.4" cy="204.9" r="0.85"/><circle cx="218.3" cy="212.2" r="0.85"/><circle cx="226.4" cy="220.0" r="0.85"/><circle cx="234.3" cy="220.6" r="0.85"/><circle cx="226.7" cy="223.7" r="0.85"/><circle cx="203.5" cy="223.8" r="0.85"/><circle cx="221.2" cy="221.7" r="0.85"/><circle cx="214.6" cy="221.8" r="0.85"/><circle cx="194.7" cy="219.6" r="0.85"/><circle cx="202.8" cy="230.1" r="0.85"/><circle cx="194.6" cy="219.7" r="0.85"/><circle cx="207.7" cy="227.8" r="0.85"/><circle cx="211.3" cy="213.4" r="0.85"/><circle cx="195.3" cy="227.1" r="0.85"/><circle cx="228.5" cy="219.2" r="0.85"/><circle cx="194.6" cy="206.1" r="0.85"/><circle cx="204.0" cy="229.3" r="0.85"/><circle cx="202.8" cy="212.4" r="0.85"/><circle cx="227.8" cy="224.3" r="0.85"/><circle cx="214.8" cy="216.4" r="0.85"/><circle cx="217.3" cy="226.8" r="0.85"/><circle cx="219.6" cy="226.2" r="0.85"/><circle cx="221.8" cy="208.5" r="0.85"/><circle cx="209.8" cy="208.0" r="0.85"/><circle cx="197.3" cy="239.3" r="0.85"/><circle cx="229.6" cy="222.2" r="0.85"/><circle cx="231.2" cy="235.5" r="0.85"/><circle cx="201.5" cy="228.2" r="0.85"/><circle cx="208.6" cy="226.4" r="0.85"/><circle cx="227.8" cy="239.2" r="0.85"/><circle cx="228.3" cy="236.2" r="0.85"/><circle cx="205.1" cy="212.1" r="0.85"/><circle cx="204.0" cy="216.2" r="0.85"/><circle cx="226.8" cy="223.4" r="0.85"/><circle cx="202.0" cy="225.6" r="0.85"/><circle cx="220.5" cy="226.4" r="0.85"/><circle cx="220.4" cy="216.6" r="0.85"/><circle cx="225.0" cy="223.4" r="0.85"/><circle cx="201.4" cy="232.3" r="0.85"/><circle cx="204.3" cy="222.7" r="0.85"/><circle cx="208.7" cy="223.5" r="0.85"/><circle cx="230.5" cy="217.4" r="0.85"/><circle cx="203.4" cy="215.9" r="0.85"/><circle cx="218.5" cy="217.5" r="0.85"/><circle cx="198.3" cy="219.8" r="0.85"/><circle cx="217.5" cy="216.3" r="0.85"/><circle cx="225.9" cy="217.3" r="0.85"/><circle cx="204.3" cy="207.6" r="0.85"/><circle cx="208.3" cy="212.3" r="0.85"/><circle cx="232.9" cy="210.1" r="0.85"/><circle cx="216.4" cy="226.7" r="0.85"/><circle cx="228.6" cy="237.4" r="0.85"/><circle cx="216.4" cy="218.7" r="0.85"/><circle cx="223.6" cy="236.9" r="0.85"/><circle cx="203.3" cy="216.5" r="0.85"/><circle cx="217.6" cy="212.1" r="0.85"/><circle cx="226.2" cy="223.0" r="0.85"/><circle cx="203.5" cy="216.8" r="0.85"/><circle cx="211.8" cy="206.6" r="0.85"/><circle cx="223.2" cy="214.5" r="0.85"/><circle cx="235.1" cy="222.7" r="0.85"/><circle cx="221.7" cy="211.2" r="0.85"/><circle cx="214.6" cy="230.4" r="0.85"/><circle cx="209.0" cy="215.4" r="0.85"/><circle cx="195.6" cy="205.5" r="0.85"/><circle cx="207.0" cy="222.6" r="0.85"/><circle cx="198.8" cy="215.6" r="0.85"/><circle cx="201.5" cy="220.7" r="0.85"/><circle cx="212.5" cy="212.0" r="0.85"/><circle cx="216.0" cy="229.9" r="0.85"/><circle cx="210.3" cy="221.6" r="0.85"/><circle cx="217.2" cy="221.7" r="0.85"/><circle cx="233.9" cy="218.1" r="0.85"/><circle cx="207.5" cy="229.4" r="0.85"/><circle cx="224.6" cy="221.1" r="0.85"/><circle cx="194.7" cy="224.9" r="0.85"/><circle cx="209.5" cy="225.3" r="0.85"/><circle cx="210.7" cy="237.4" r="0.85"/><circle cx="212.3" cy="205.9" r="0.85"/><circle cx="220.6" cy="207.4" r="0.85"/><circle cx="208.1" cy="244.8" r="0.85"/><circle cx="216.2" cy="225.9" r="0.85"/><circle cx="218.1" cy="235.4" r="0.85"/><circle cx="209.7" cy="227.0" r="0.85"/><circle cx="220.6" cy="214.6" r="0.85"/><circle cx="209.5" cy="242.2" r="0.85"/><circle cx="205.7" cy="225.9" r="0.85"/><circle cx="205.5" cy="214.9" r="0.85"/><circle cx="214.3" cy="225.2" r="0.85"/><circle cx="203.0" cy="219.6" r="0.85"/><circle cx="226.8" cy="229.5" r="0.85"/><circle cx="226.3" cy="225.0" r="0.85"/><circle cx="223.4" cy="221.6" r="0.85"/><circle cx="230.6" cy="214.4" r="0.85"/><circle cx="209.0" cy="224.7" r="0.85"/><circle cx="230.7" cy="207.6" r="0.85"/><circle cx="213.9" cy="220.0" r="0.85"/><circle cx="214.7" cy="226.0" r="0.85"/><circle cx="196.5" cy="230.8" r="0.85"/><circle cx="217.8" cy="237.8" r="0.85"/><circle cx="229.5" cy="227.0" r="0.85"/><circle cx="213.5" cy="229.6" r="0.85"/><circle cx="198.9" cy="218.0" r="0.85"/><circle cx="223.9" cy="242.8" r="0.85"/><circle cx="215.2" cy="204.9" r="0.85"/><circle cx="233.2" cy="217.0" r="0.85"/><circle cx="229.9" cy="218.1" r="0.85"/><circle cx="201.2" cy="220.6" r="0.85"/><circle cx="215.3" cy="225.7" r="0.85"/><circle cx="218.2" cy="207.0" r="0.85"/><circle cx="200.2" cy="223.1" r="0.85"/><circle cx="223.7" cy="210.1" r="0.85"/><circle cx="228.3" cy="217.8" r="0.85"/><circle cx="232.6" cy="245.9" r="0.85"/><circle cx="197.3" cy="210.1" r="0.85"/><circle cx="204.9" cy="227.3" r="0.85"/><circle cx="224.7" cy="224.8" r="0.85"/><circle cx="215.1" cy="216.5" r="0.85"/><circle cx="233.8" cy="228.7" r="0.85"/><circle cx="198.8" cy="211.7" r="0.85"/><circle cx="213.0" cy="217.9" r="0.85"/><circle cx="202.1" cy="213.8" r="0.85"/><circle cx="195.0" cy="248.7" r="0.85"/><circle cx="219.3" cy="234.1" r="0.85"/><circle cx="211.7" cy="229.7" r="0.85"/><circle cx="232.1" cy="223.7" r="0.85"/><circle cx="203.7" cy="240.5" r="0.85"/><circle cx="196.4" cy="223.7" r="0.85"/><circle cx="210.3" cy="222.4" r="0.85"/><circle cx="234.0" cy="208.4" r="0.85"/><circle cx="195.9" cy="232.9" r="0.85"/><circle cx="215.4" cy="214.9" r="0.85"/><circle cx="218.0" cy="218.9" r="0.85"/><circle cx="212.6" cy="209.5" r="0.85"/><circle cx="222.6" cy="237.0" r="0.85"/><circle cx="199.4" cy="222.9" r="0.85"/><circle cx="205.2" cy="222.3" r="0.85"/><circle cx="220.3" cy="246.1" r="0.85"/><circle cx="229.6" cy="214.0" r="0.85"/><circle cx="199.6" cy="224.7" r="0.85"/><circle cx="213.7" cy="233.8" r="0.85"/><circle cx="199.3" cy="219.9" r="0.85"/><circle cx="203.3" cy="229.7" r="0.85"/><circle cx="219.8" cy="230.3" r="0.85"/><circle cx="229.3" cy="221.7" r="0.85"/><circle cx="234.0" cy="220.4" r="0.85"/><circle cx="205.1" cy="218.1" r="0.85"/><circle cx="199.0" cy="240.3" r="0.85"/><circle cx="226.7" cy="230.5" r="0.85"/><circle cx="219.2" cy="210.8" r="0.85"/><circle cx="194.7" cy="207.1" r="0.85"/><circle cx="225.8" cy="209.8" r="0.85"/><circle cx="215.5" cy="225.7" r="0.85"/><circle cx="221.0" cy="225.0" r="0.85"/><circle cx="197.7" cy="226.3" r="0.85"/><circle cx="226.8" cy="225.0" r="0.85"/><circle cx="216.7" cy="240.5" r="0.85"/><circle cx="218.1" cy="221.2" r="0.85"/><circle cx="229.2" cy="233.2" r="0.85"/><circle cx="209.5" cy="205.6" r="0.85"/><circle cx="234.6" cy="225.5" r="0.85"/><circle cx="220.4" cy="225.8" r="0.85"/><circle cx="207.5" cy="232.3" r="0.85"/><circle cx="213.7" cy="219.7" r="0.85"/><circle cx="215.1" cy="217.9" r="0.85"/><circle cx="207.3" cy="207.1" r="0.85"/><circle cx="213.5" cy="213.4" r="0.85"/><circle cx="204.9" cy="213.0" r="0.85"/><circle cx="215.2" cy="211.8" r="0.85"/><circle cx="225.6" cy="218.5" r="0.85"/><circle cx="214.8" cy="214.5" r="0.85"/><circle cx="228.5" cy="226.3" r="0.85"/><circle cx="231.1" cy="227.3" r="0.85"/><circle cx="197.4" cy="216.8" r="0.85"/><circle cx="220.1" cy="239.8" r="0.85"/><circle cx="222.1" cy="223.4" r="0.85"/><circle cx="208.2" cy="225.8" r="0.85"/><circle cx="201.0" cy="206.1" r="0.85"/><circle cx="222.1" cy="233.5" r="0.85"/><circle cx="218.3" cy="225.9" r="0.85"/><circle cx="204.9" cy="224.5" r="0.85"/><circle cx="195.8" cy="210.1" r="0.85"/><circle cx="232.0" cy="208.0" r="0.85"/><circle cx="217.0" cy="230.1" r="0.85"/><circle cx="215.5" cy="213.6" r="0.85"/><circle cx="205.9" cy="225.5" r="0.85"/><circle cx="214.3" cy="229.6" r="0.85"/><circle cx="202.5" cy="220.4" r="0.85"/><circle cx="219.8" cy="206.4" r="0.85"/><circle cx="232.1" cy="219.5" r="0.85"/><circle cx="225.5" cy="222.4" r="0.85"/><circle cx="222.9" cy="221.6" r="0.85"/><circle cx="218.7" cy="212.0" r="0.85"/><circle cx="196.0" cy="208.5" r="0.85"/><circle cx="212.8" cy="227.2" r="0.85"/><circle cx="196.3" cy="206.0" r="0.85"/><circle cx="199.6" cy="230.7" r="0.85"/><circle cx="201.2" cy="211.7" r="0.85"/><circle cx="223.2" cy="238.1" r="0.85"/><circle cx="220.7" cy="209.2" r="0.85"/><circle cx="227.3" cy="229.8" r="0.85"/><circle cx="227.4" cy="226.1" r="0.85"/><circle cx="208.4" cy="232.7" r="0.85"/><circle cx="223.1" cy="236.0" r="0.85"/><circle cx="194.8" cy="232.1" r="0.85"/><circle cx="233.2" cy="225.3" r="0.85"/><circle cx="219.6" cy="223.7" r="0.85"/><circle cx="217.9" cy="216.3" r="0.85"/><circle cx="201.9" cy="216.9" r="0.85"/><circle cx="213.3" cy="225.2" r="0.85"/><circle cx="196.4" cy="210.5" r="0.85"/><circle cx="231.2" cy="205.6" r="0.85"/><circle cx="225.7" cy="238.2" r="0.85"/><circle cx="216.5" cy="229.5" r="0.85"/><circle cx="232.5" cy="215.3" r="0.85"/><circle cx="223.1" cy="220.5" r="0.85"/><circle cx="201.5" cy="232.7" r="0.85"/><circle cx="231.1" cy="218.8" r="0.85"/><circle cx="214.5" cy="212.0" r="0.85"/><circle cx="223.3" cy="233.4" r="0.85"/><circle cx="213.2" cy="218.3" r="0.85"/><circle cx="223.5" cy="230.6" r="0.85"/><circle cx="203.8" cy="226.6" r="0.85"/><circle cx="221.2" cy="229.9" r="0.85"/><circle cx="197.2" cy="215.9" r="0.85"/><circle cx="205.3" cy="246.7" r="0.85"/><circle cx="225.8" cy="218.5" r="0.85"/><circle cx="214.2" cy="224.3" r="0.85"/><circle cx="229.8" cy="220.8" r="0.85"/><circle cx="223.1" cy="216.5" r="0.85"/><circle cx="219.7" cy="221.9" r="0.85"/><circle cx="215.7" cy="226.6" r="0.85"/><circle cx="199.7" cy="234.4" r="0.85"/><circle cx="207.1" cy="228.0" r="0.85"/><circle cx="215.3" cy="207.6" r="0.85"/><circle cx="223.3" cy="208.3" r="0.85"/><circle cx="216.9" cy="220.8" r="0.85"/><circle cx="195.4" cy="218.2" r="0.85"/><circle cx="234.9" cy="222.6" r="0.85"/><circle cx="231.4" cy="216.2" r="0.85"/><circle cx="229.2" cy="214.4" r="0.85"/><circle cx="206.0" cy="225.2" r="0.85"/><circle cx="219.1" cy="219.8" r="0.85"/><circle cx="228.4" cy="210.7" r="0.85"/><circle cx="216.5" cy="221.1" r="0.85"/><circle cx="204.8" cy="210.5" r="0.85"/><circle cx="197.6" cy="225.3" r="0.85"/><circle cx="230.0" cy="214.7" r="0.85"/><circle cx="216.6" cy="207.3" r="0.85"/><circle cx="230.2" cy="228.8" r="0.85"/><circle cx="222.4" cy="224.3" r="0.85"/><circle cx="216.2" cy="210.8" r="0.85"/><circle cx="203.6" cy="220.4" r="0.85"/><circle cx="221.7" cy="204.7" r="0.85"/><circle cx="231.1" cy="240.1" r="0.85"/><circle cx="233.9" cy="217.9" r="0.85"/><circle cx="198.7" cy="232.2" r="0.85"/><circle cx="209.1" cy="230.8" r="0.85"/><circle cx="233.4" cy="225.6" r="0.85"/><circle cx="225.5" cy="213.9" r="0.85"/><circle cx="232.3" cy="226.4" r="0.85"/><circle cx="196.6" cy="231.4" r="0.85"/><circle cx="197.3" cy="234.0" r="0.85"/><circle cx="210.3" cy="215.0" r="0.85"/><circle cx="211.8" cy="208.7" r="0.85"/><circle cx="229.7" cy="210.9" r="0.85"/><circle cx="230.8" cy="219.6" r="0.85"/><circle cx="226.1" cy="221.5" r="0.85"/><circle cx="220.8" cy="217.6" r="0.85"/><circle cx="197.6" cy="216.3" r="0.85"/><circle cx="231.0" cy="211.2" r="0.85"/><circle cx="234.0" cy="228.8" r="0.85"/><circle cx="202.4" cy="217.4" r="0.85"/><circle cx="217.3" cy="217.0" r="0.85"/><circle cx="224.5" cy="229.6" r="0.85"/><circle cx="233.8" cy="234.4" r="0.85"/><circle cx="228.0" cy="226.4" r="0.85"/><circle cx="223.6" cy="213.6" r="0.85"/><circle cx="227.2" cy="207.8" r="0.85"/><circle cx="201.7" cy="207.1" r="0.85"/><circle cx="208.2" cy="209.3" r="0.85"/><circle cx="226.2" cy="237.9" r="0.85"/><circle cx="206.3" cy="223.8" r="0.85"/><circle cx="197.0" cy="220.1" r="0.85"/><circle cx="207.8" cy="242.0" r="0.85"/><circle cx="209.1" cy="231.7" r="0.85"/><circle cx="210.3" cy="227.9" r="0.85"/><circle cx="220.1" cy="208.4" r="0.85"/><circle cx="212.4" cy="226.5" r="0.85"/><circle cx="205.8" cy="206.5" r="0.85"/><circle cx="200.2" cy="218.1" r="0.85"/><circle cx="200.4" cy="219.4" r="0.85"/><circle cx="212.0" cy="242.1" r="0.85"/><circle cx="200.1" cy="228.8" r="0.85"/><circle cx="230.4" cy="234.2" r="0.85"/><circle cx="200.4" cy="224.4" r="0.85"/><circle cx="205.1" cy="228.2" r="0.85"/><circle cx="212.2" cy="209.5" r="0.85"/><circle cx="215.6" cy="225.3" r="0.85"/><circle cx="205.9" cy="226.5" r="0.85"/><circle cx="199.9" cy="218.0" r="0.85"/><circle cx="216.8" cy="208.7" r="0.85"/><circle cx="196.1" cy="233.2" r="0.85"/><circle cx="222.0" cy="237.5" r="0.85"/><circle cx="206.7" cy="210.5" r="0.85"/><circle cx="216.2" cy="223.9" r="0.85"/><circle cx="205.9" cy="214.2" r="0.85"/><circle cx="223.3" cy="209.3" r="0.85"/><circle cx="206.3" cy="205.3" r="0.85"/><circle cx="223.7" cy="223.7" r="0.85"/><circle cx="221.0" cy="215.6" r="0.85"/><circle cx="199.1" cy="222.1" r="0.85"/><circle cx="200.5" cy="222.9" r="0.85"/><circle cx="221.4" cy="226.1" r="0.85"/><circle cx="208.3" cy="226.4" r="0.85"/><circle cx="204.5" cy="215.4" r="0.85"/><circle cx="201.9" cy="229.6" r="0.85"/><circle cx="218.0" cy="232.2" r="0.85"/><circle cx="204.7" cy="225.9" r="0.85"/><circle cx="211.9" cy="206.4" r="0.85"/><circle cx="212.4" cy="209.1" r="0.85"/><circle cx="198.2" cy="238.5" r="0.85"/><circle cx="209.7" cy="216.9" r="0.85"/><circle cx="225.9" cy="216.3" r="0.85"/><circle cx="229.6" cy="212.1" r="0.85"/><circle cx="215.3" cy="227.2" r="0.85"/><circle cx="204.7" cy="221.6" r="0.85"/><circle cx="222.4" cy="225.4" r="0.85"/><circle cx="215.2" cy="245.0" r="0.85"/><circle cx="230.0" cy="211.8" r="0.85"/><circle cx="232.8" cy="221.5" r="0.85"/><circle cx="199.8" cy="218.0" r="0.85"/><circle cx="234.1" cy="230.0" r="0.85"/><circle cx="219.7" cy="208.3" r="0.85"/><circle cx="212.2" cy="214.2" r="0.85"/><circle cx="216.8" cy="222.9" r="0.85"/><circle cx="205.7" cy="234.9" r="0.85"/><circle cx="217.8" cy="234.3" r="0.85"/><circle cx="230.1" cy="215.9" r="0.85"/><circle cx="205.7" cy="232.9" r="0.85"/><circle cx="228.2" cy="224.0" r="0.85"/><circle cx="217.0" cy="234.3" r="0.85"/><circle cx="207.7" cy="230.4" r="0.85"/><circle cx="215.7" cy="225.9" r="0.85"/><circle cx="227.7" cy="222.2" r="0.85"/><circle cx="206.9" cy="226.4" r="0.85"/><circle cx="227.1" cy="221.9" r="0.85"/><circle cx="195.8" cy="234.4" r="0.85"/><circle cx="197.8" cy="216.6" r="0.85"/><circle cx="199.1" cy="206.5" r="0.85"/><circle cx="213.7" cy="229.6" r="0.85"/><circle cx="217.1" cy="215.9" r="0.85"/><circle cx="211.6" cy="216.7" r="0.85"/><circle cx="230.3" cy="220.2" r="0.85"/><circle cx="218.0" cy="214.6" r="0.85"/><circle cx="202.1" cy="227.0" r="0.85"/><circle cx="232.4" cy="225.6" r="0.85"/><circle cx="219.0" cy="210.3" r="0.85"/><circle cx="216.9" cy="221.1" r="0.85"/><circle cx="224.4" cy="222.8" r="0.85"/><circle cx="201.1" cy="218.2" r="0.85"/><circle cx="195.4" cy="219.4" r="0.85"/><circle cx="201.2" cy="210.7" r="0.85"/><circle cx="234.7" cy="206.5" r="0.85"/><circle cx="221.3" cy="218.3" r="0.85"/><circle cx="233.4" cy="220.0" r="0.85"/><circle cx="214.3" cy="222.1" r="0.85"/><circle cx="228.4" cy="217.5" r="0.85"/><circle cx="213.8" cy="222.4" r="0.85"/><circle cx="197.6" cy="230.3" r="0.85"/><circle cx="218.1" cy="223.3" r="0.85"/><circle cx="201.6" cy="235.6" r="0.85"/><circle cx="222.5" cy="206.0" r="0.85"/><circle cx="233.1" cy="207.3" r="0.85"/><circle cx="206.5" cy="215.3" r="0.85"/><circle cx="230.8" cy="209.1" r="0.85"/><circle cx="228.0" cy="221.5" r="0.85"/><circle cx="205.1" cy="242.3" r="0.85"/><circle cx="233.1" cy="208.3" r="0.85"/><circle cx="222.1" cy="236.1" r="0.85"/><circle cx="228.6" cy="223.8" r="0.85"/><circle cx="210.5" cy="207.6" r="0.85"/><circle cx="226.8" cy="211.7" r="0.85"/><circle cx="230.0" cy="207.7" r="0.85"/><circle cx="195.8" cy="231.4" r="0.85"/><circle cx="198.5" cy="221.2" r="0.85"/><circle cx="228.7" cy="237.9" r="0.85"/><circle cx="203.6" cy="231.2" r="0.85"/><circle cx="199.9" cy="220.7" r="0.85"/><circle cx="211.2" cy="207.5" r="0.85"/><circle cx="233.0" cy="211.5" r="0.85"/><circle cx="215.1" cy="207.1" r="0.85"/><circle cx="211.2" cy="216.9" r="0.85"/><circle cx="222.5" cy="232.0" r="0.85"/><circle cx="232.2" cy="230.2" r="0.85"/><circle cx="225.4" cy="209.3" r="0.85"/><circle cx="198.5" cy="217.3" r="0.85"/><circle cx="198.2" cy="214.2" r="0.85"/><circle cx="229.7" cy="227.1" r="0.85"/><circle cx="227.3" cy="235.5" r="0.85"/><circle cx="214.0" cy="224.3" r="0.85"/><circle cx="208.1" cy="214.2" r="0.85"/><circle cx="215.4" cy="218.4" r="0.85"/><circle cx="206.8" cy="207.1" r="0.85"/><circle cx="229.7" cy="210.4" r="0.85"/><circle cx="203.6" cy="226.9" r="0.85"/><circle cx="214.1" cy="217.2" r="0.85"/><circle cx="221.4" cy="209.2" r="0.85"/><circle cx="214.5" cy="245.8" r="0.85"/><circle cx="206.2" cy="222.2" r="0.85"/><circle cx="216.7" cy="226.9" r="0.85"/><circle cx="197.1" cy="218.2" r="0.85"/><circle cx="202.8" cy="231.5" r="0.85"/><circle cx="215.5" cy="236.3" r="0.85"/><circle cx="196.2" cy="218.3" r="0.85"/><circle cx="201.6" cy="232.2" r="0.85"/><circle cx="206.9" cy="229.3" r="0.85"/><circle cx="204.0" cy="212.8" r="0.85"/><circle cx="218.8" cy="229.5" r="0.85"/><circle cx="220.8" cy="228.2" r="0.85"/><circle cx="198.1" cy="210.3" r="0.85"/><circle cx="224.7" cy="217.1" r="0.85"/><circle cx="219.5" cy="231.8" r="0.85"/><circle cx="201.9" cy="211.3" r="0.85"/><circle cx="202.0" cy="213.9" r="0.85"/><circle cx="197.0" cy="211.7" r="0.85"/><circle cx="213.5" cy="224.4" r="0.85"/><circle cx="229.9" cy="212.9" r="0.85"/><circle cx="225.6" cy="217.4" r="0.85"/><circle cx="209.7" cy="234.0" r="0.85"/><circle cx="213.8" cy="216.8" r="0.85"/><circle cx="201.3" cy="223.4" r="0.85"/><circle cx="207.2" cy="214.1" r="0.85"/><circle cx="229.0" cy="229.8" r="0.85"/><circle cx="233.2" cy="219.2" r="0.85"/><circle cx="196.0" cy="226.7" r="0.85"/><circle cx="195.9" cy="218.0" r="0.85"/><circle cx="225.4" cy="229.1" r="0.85"/><circle cx="194.8" cy="234.5" r="0.85"/><circle cx="199.5" cy="217.1" r="0.85"/><circle cx="213.6" cy="223.6" r="0.85"/><circle cx="208.6" cy="219.3" r="0.85"/><circle cx="233.7" cy="206.1" r="0.85"/><circle cx="228.7" cy="230.9" r="0.85"/><circle cx="230.8" cy="239.9" r="0.85"/><circle cx="217.4" cy="212.9" r="0.85"/><circle cx="207.5" cy="219.0" r="0.85"/><circle cx="203.4" cy="224.9" r="0.85"/><circle cx="207.7" cy="233.3" r="0.85"/><circle cx="225.7" cy="210.1" r="0.85"/><circle cx="198.1" cy="227.1" r="0.85"/><circle cx="220.2" cy="208.4" r="0.85"/><circle cx="204.2" cy="216.2" r="0.85"/><circle cx="223.8" cy="208.5" r="0.85"/><circle cx="218.2" cy="225.7" r="0.85"/><circle cx="225.0" cy="226.8" r="0.85"/><circle cx="195.1" cy="209.9" r="0.85"/><circle cx="223.5" cy="209.0" r="0.85"/><circle cx="207.9" cy="206.5" r="0.85"/><circle cx="224.9" cy="221.9" r="0.85"/><circle cx="197.5" cy="210.8" r="0.85"/><circle cx="218.4" cy="219.7" r="0.85"/><circle cx="205.0" cy="222.3" r="0.85"/><circle cx="230.8" cy="227.3" r="0.85"/><circle cx="209.3" cy="232.2" r="0.85"/><circle cx="205.4" cy="206.7" r="0.85"/><circle cx="217.0" cy="243.5" r="0.85"/><circle cx="220.1" cy="221.6" r="0.85"/><circle cx="199.1" cy="206.1" r="0.85"/><circle cx="221.7" cy="218.6" r="0.85"/><circle cx="206.2" cy="232.1" r="0.85"/><circle cx="197.5" cy="211.1" r="0.85"/><circle cx="227.7" cy="226.7" r="0.85"/><circle cx="223.4" cy="213.4" r="0.85"/><circle cx="229.4" cy="223.1" r="0.85"/><circle cx="228.5" cy="217.1" r="0.85"/><circle cx="204.6" cy="225.2" r="0.85"/><circle cx="213.4" cy="235.0" r="0.85"/><circle cx="234.9" cy="207.6" r="0.85"/><circle cx="233.4" cy="211.5" r="0.85"/><circle cx="221.7" cy="208.7" r="0.85"/><circle cx="215.1" cy="227.2" r="0.85"/><circle cx="203.3" cy="218.7" r="0.85"/><circle cx="228.9" cy="239.5" r="0.85"/><circle cx="222.8" cy="214.8" r="0.85"/><circle cx="217.8" cy="206.8" r="0.85"/><circle cx="221.6" cy="231.1" r="0.85"/><circle cx="233.9" cy="220.8" r="0.85"/><circle cx="202.9" cy="215.5" r="0.85"/><circle cx="204.9" cy="221.1" r="0.85"/><circle cx="228.0" cy="237.8" r="0.85"/><circle cx="226.9" cy="224.0" r="0.85"/><circle cx="229.7" cy="219.0" r="0.85"/><circle cx="209.6" cy="243.4" r="0.85"/><circle cx="212.8" cy="232.2" r="0.85"/><circle cx="222.1" cy="215.6" r="0.85"/><circle cx="199.0" cy="228.1" r="0.85"/><circle cx="198.8" cy="220.5" r="0.85"/><circle cx="228.0" cy="220.3" r="0.85"/><circle cx="222.0" cy="245.4" r="0.85"/><circle cx="202.3" cy="217.7" r="0.85"/><circle cx="215.9" cy="209.9" r="0.85"/><circle cx="197.6" cy="229.0" r="0.85"/><circle cx="218.1" cy="216.2" r="0.85"/><circle cx="199.7" cy="209.9" r="0.85"/><circle cx="207.7" cy="219.3" r="0.85"/><circle cx="200.0" cy="204.6" r="0.85"/><circle cx="204.3" cy="218.2" r="0.85"/><circle cx="196.3" cy="220.6" r="0.85"/><circle cx="212.8" cy="234.3" r="0.85"/><circle cx="199.7" cy="235.9" r="0.85"/><circle cx="224.9" cy="222.7" r="0.85"/><circle cx="216.5" cy="210.1" r="0.85"/><circle cx="234.8" cy="211.3" r="0.85"/><circle cx="234.1" cy="212.2" r="0.85"/><circle cx="205.0" cy="228.6" r="0.85"/><circle cx="211.6" cy="217.4" r="0.85"/><circle cx="207.3" cy="205.7" r="0.85"/><circle cx="222.5" cy="232.9" r="0.85"/><circle cx="223.8" cy="248.0" r="0.85"/><circle cx="215.1" cy="223.1" r="0.85"/><circle cx="218.8" cy="215.6" r="0.85"/><circle cx="226.4" cy="222.8" r="0.85"/><circle cx="197.0" cy="210.7" r="0.85"/><circle cx="219.2" cy="221.4" r="0.85"/><circle cx="210.6" cy="205.7" r="0.85"/><circle cx="218.4" cy="223.7" r="0.85"/><circle cx="230.6" cy="218.3" r="0.85"/><circle cx="202.0" cy="228.2" r="0.85"/><circle cx="199.1" cy="233.4" r="0.85"/><circle cx="199.6" cy="237.0" r="0.85"/><circle cx="229.6" cy="215.1" r="0.85"/><circle cx="206.8" cy="227.2" r="0.85"/><circle cx="214.9" cy="223.4" r="0.85"/><circle cx="195.1" cy="220.0" r="0.85"/><circle cx="222.2" cy="231.6" r="0.85"/><circle cx="200.8" cy="226.7" r="0.85"/><circle cx="198.2" cy="226.6" r="0.85"/><circle cx="199.5" cy="234.6" r="0.85"/><circle cx="230.2" cy="231.1" r="0.85"/><circle cx="196.2" cy="226.8" r="0.85"/><circle cx="220.9" cy="213.3" r="0.85"/><circle cx="197.8" cy="237.9" r="0.85"/><circle cx="196.4" cy="227.1" r="0.85"/><circle cx="231.7" cy="217.9" r="0.85"/><circle cx="225.1" cy="224.6" r="0.85"/><circle cx="220.7" cy="221.6" r="0.85"/><circle cx="200.4" cy="211.1" r="0.85"/><circle cx="203.9" cy="204.5" r="0.85"/><circle cx="213.8" cy="225.1" r="0.85"/><circle cx="220.1" cy="240.0" r="0.85"/><circle cx="222.6" cy="217.2" r="0.85"/><circle cx="230.5" cy="217.3" r="0.85"/><circle cx="226.1" cy="204.0" r="0.85"/><circle cx="214.5" cy="218.8" r="0.85"/><circle cx="225.2" cy="210.7" r="0.85"/><circle cx="215.5" cy="218.3" r="0.85"/><circle cx="203.2" cy="232.4" r="0.85"/><circle cx="229.8" cy="220.7" r="0.85"/><circle cx="223.7" cy="223.3" r="0.85"/><circle cx="218.2" cy="231.8" r="0.85"/><circle cx="218.0" cy="206.2" r="0.85"/><circle cx="222.4" cy="223.3" r="0.85"/><circle cx="230.3" cy="218.2" r="0.85"/><circle cx="222.1" cy="226.0" r="0.85"/><circle cx="207.2" cy="225.6" r="0.85"/><circle cx="208.9" cy="210.1" r="0.85"/><circle cx="235.0" cy="220.8" r="0.85"/><circle cx="224.3" cy="207.2" r="0.85"/><circle cx="232.0" cy="231.5" r="0.85"/><circle cx="201.0" cy="234.8" r="0.85"/><circle cx="227.1" cy="217.4" r="0.85"/><circle cx="227.2" cy="225.4" r="0.85"/><circle cx="211.4" cy="212.3" r="0.85"/><circle cx="224.1" cy="229.3" r="0.85"/><circle cx="230.8" cy="235.1" r="0.85"/><circle cx="201.6" cy="209.9" r="0.85"/><circle cx="209.5" cy="227.0" r="0.85"/><circle cx="208.3" cy="220.6" r="0.85"/><circle cx="201.7" cy="213.9" r="0.85"/><circle cx="221.0" cy="221.1" r="0.85"/><circle cx="211.2" cy="220.6" r="0.85"/><circle cx="207.8" cy="235.5" r="0.85"/><circle cx="195.5" cy="229.1" r="0.85"/><circle cx="230.2" cy="217.7" r="0.85"/><circle cx="222.8" cy="227.8" r="0.85"/><circle cx="200.4" cy="234.5" r="0.85"/><circle cx="216.8" cy="216.6" r="0.85"/><circle cx="196.6" cy="217.6" r="0.85"/><circle cx="234.3" cy="230.6" r="0.85"/><circle cx="200.4" cy="216.2" r="0.85"/><circle cx="233.9" cy="217.6" r="0.85"/><circle cx="224.8" cy="226.7" r="0.85"/><circle cx="201.8" cy="220.5" r="0.85"/><circle cx="216.9" cy="223.1" r="0.85"/><circle cx="197.8" cy="222.6" r="0.85"/><circle cx="231.9" cy="226.0" r="0.85"/><circle cx="226.6" cy="213.1" r="0.85"/><circle cx="201.0" cy="246.2" r="0.85"/><circle cx="200.2" cy="204.1" r="0.85"/><circle cx="198.5" cy="232.6" r="0.85"/><circle cx="226.5" cy="214.3" r="0.85"/><circle cx="208.2" cy="224.7" r="0.85"/><circle cx="223.9" cy="221.5" r="0.85"/><circle cx="215.1" cy="220.9" r="0.85"/><circle cx="205.8" cy="212.2" r="0.85"/><circle cx="203.1" cy="229.5" r="0.85"/><circle cx="200.8" cy="204.9" r="0.85"/><circle cx="224.0" cy="231.2" r="0.85"/><circle cx="204.9" cy="223.0" r="0.85"/><circle cx="225.5" cy="216.7" r="0.85"/><circle cx="202.5" cy="234.1" r="0.85"/><circle cx="222.7" cy="224.1" r="0.85"/><circle cx="194.9" cy="231.6" r="0.85"/><circle cx="209.2" cy="218.2" r="0.85"/><circle cx="232.1" cy="211.6" r="0.85"/><circle cx="225.7" cy="208.4" r="0.85"/><circle cx="214.4" cy="232.6" r="0.85"/><circle cx="211.3" cy="222.9" r="0.85"/><circle cx="208.1" cy="213.5" r="0.85"/><circle cx="207.2" cy="224.7" r="0.85"/><circle cx="224.8" cy="228.6" r="0.85"/><circle cx="228.8" cy="211.4" r="0.85"/><circle cx="199.6" cy="218.3" r="0.85"/><circle cx="226.2" cy="214.7" r="0.85"/><circle cx="233.5" cy="224.2" r="0.85"/><circle cx="219.2" cy="213.9" r="0.85"/><circle cx="199.1" cy="211.1" r="0.85"/><circle cx="217.7" cy="232.1" r="0.85"/><circle cx="221.4" cy="220.8" r="0.85"/><circle cx="225.1" cy="204.4" r="0.85"/><circle cx="199.9" cy="233.5" r="0.85"/><circle cx="218.8" cy="219.9" r="0.85"/><circle cx="202.2" cy="233.4" r="0.85"/><circle cx="224.0" cy="228.8" r="0.85"/><circle cx="221.6" cy="219.9" r="0.85"/><circle cx="225.7" cy="231.8" r="0.85"/><circle cx="220.5" cy="223.9" r="0.85"/><circle cx="226.0" cy="217.5" r="0.85"/><circle cx="195.0" cy="209.6" r="0.85"/><circle cx="197.5" cy="209.6" r="0.85"/><circle cx="211.5" cy="208.2" r="0.85"/><circle cx="197.6" cy="219.0" r="0.85"/><circle cx="199.2" cy="238.8" r="0.85"/><circle cx="208.4" cy="221.7" r="0.85"/><circle cx="203.4" cy="225.7" r="0.85"/><circle cx="211.5" cy="212.6" r="0.85"/><circle cx="217.2" cy="230.4" r="0.85"/><circle cx="221.2" cy="216.6" r="0.85"/><circle cx="194.5" cy="218.0" r="0.85"/><circle cx="199.9" cy="221.4" r="0.85"/><circle cx="227.3" cy="226.7" r="0.85"/><circle cx="215.9" cy="225.9" r="0.85"/><circle cx="215.8" cy="225.1" r="0.85"/><circle cx="222.0" cy="221.2" r="0.85"/><circle cx="210.9" cy="229.8" r="0.85"/><circle cx="209.6" cy="226.5" r="0.85"/><circle cx="235.1" cy="226.3" r="0.85"/><circle cx="197.5" cy="222.2" r="0.85"/><circle cx="216.9" cy="237.1" r="0.85"/><circle cx="199.0" cy="215.1" r="0.85"/><circle cx="216.4" cy="241.7" r="0.85"/><circle cx="223.2" cy="212.8" r="0.85"/><circle cx="212.2" cy="214.6" r="0.85"/><circle cx="215.9" cy="208.9" r="0.85"/><circle cx="198.2" cy="229.2" r="0.85"/><circle cx="211.6" cy="230.4" r="0.85"/><circle cx="215.0" cy="219.3" r="0.85"/><circle cx="225.1" cy="226.5" r="0.85"/><circle cx="210.0" cy="218.4" r="0.85"/><circle cx="219.6" cy="212.4" r="0.85"/><circle cx="195.1" cy="222.5" r="0.85"/><circle cx="208.8" cy="226.1" r="0.85"/><circle cx="224.5" cy="240.6" r="0.85"/><circle cx="198.2" cy="223.0" r="0.85"/><circle cx="233.1" cy="233.4" r="0.85"/><circle cx="228.6" cy="215.0" r="0.85"/><circle cx="232.7" cy="226.6" r="0.85"/><circle cx="195.9" cy="223.1" r="0.85"/><circle cx="226.0" cy="222.8" r="0.85"/><circle cx="215.7" cy="223.7" r="0.85"/><circle cx="219.1" cy="217.4" r="0.85"/><circle cx="217.6" cy="213.2" r="0.85"/><circle cx="233.8" cy="219.9" r="0.85"/><circle cx="233.5" cy="238.8" r="0.85"/><circle cx="221.8" cy="208.5" r="0.85"/><circle cx="213.5" cy="224.1" r="0.85"/><circle cx="199.6" cy="227.5" r="0.85"/><circle cx="201.5" cy="224.0" r="0.85"/><circle cx="231.0" cy="204.1" r="0.85"/><circle cx="217.4" cy="235.8" r="0.85"/><circle cx="231.0" cy="232.9" r="0.85"/><circle cx="212.7" cy="208.6" r="0.85"/><circle cx="204.4" cy="210.6" r="0.85"/><circle cx="228.1" cy="216.2" r="0.85"/><circle cx="196.2" cy="213.0" r="0.85"/><circle cx="211.6" cy="251.4" r="0.85"/><circle cx="234.4" cy="255.9" r="0.85"/><circle cx="209.0" cy="255.6" r="0.85"/><circle cx="233.3" cy="251.3" r="0.85"/><circle cx="217.4" cy="248.0" r="0.85"/><circle cx="226.5" cy="250.9" r="0.85"/><circle cx="225.4" cy="255.2" r="0.85"/><circle cx="219.8" cy="253.0" r="0.85"/></g>
<line x1="291.90" y1="177.30" x2="291.90" y2="275.40" stroke="#3a3a3a" stroke-width="1.30"/>
<line x1="288.90" y1="187.60" x2="291.90" y2="187.60" stroke="#3a3a3a" stroke-width="0.90"/>
<text x="286.60" y="189.65" font-size="7.60" text-anchor="end" fill="#1e1e1e" font-weight="normal">160</text>
<line x1="288.90" y1="200.58" x2="291.90" y2="200.58" stroke="#3a3a3a" stroke-width="0.90"/>
<text x="286.60" y="202.64" font-size="7.60" text-anchor="end" fill="#1e1e1e" font-weight="normal">140</text>
<line x1="288.90" y1="213.57" x2="291.90" y2="213.57" stroke="#3a3a3a" stroke-width="0.90"/>
<text x="286.60" y="215.62" font-size="7.60" text-anchor="end" fill="#1e1e1e" font-weight="normal">120</text>
<line x1="288.90" y1="226.56" x2="291.90" y2="226.56" stroke="#3a3a3a" stroke-width="0.90"/>
<text x="286.60" y="228.61" font-size="7.60" text-anchor="end" fill="#1e1e1e" font-weight="normal">100</text>
<line x1="288.90" y1="239.55" x2="291.90" y2="239.55" stroke="#3a3a3a" stroke-width="0.90"/>
<text x="286.60" y="241.60" font-size="7.60" text-anchor="end" fill="#1e1e1e" font-weight="normal">80</text>
<line x1="288.90" y1="252.54" x2="291.90" y2="252.54" stroke="#3a3a3a" stroke-width="0.90"/>
<text x="286.60" y="254.59" font-size="7.60" text-anchor="end" fill="#1e1e1e" font-weight="normal">60</text>
<line x1="288.90" y1="265.52" x2="291.90" y2="265.52" stroke="#3a3a3a" stroke-width="0.90"/>
<text x="286.60" y="267.58" font-size="7.60" text-anchor="end" fill="#1e1e1e" font-weight="normal">40</text>
<line x1="291.90" y1="275.40" x2="510.30" y2="275.40" stroke="#3a3a3a" stroke-width="1.30"/>
<line x1="333.50" y1="275.40" x2="333.50" y2="278.40" stroke="#3a3a3a" stroke-width="0.90"/>
<line x1="401.00" y1="275.40" x2="401.00" y2="278.40" stroke="#3a3a3a" stroke-width="0.90"/>
<line x1="468.50" y1="275.40" x2="468.50" y2="278.40" stroke="#3a3a3a" stroke-width="0.90"/>
<text x="333.50" y="288.30" font-size="7.30" text-anchor="middle" fill="#1e1e1e" font-weight="normal">6 months - &lt;2 years</text>
<text x="401.00" y="288.30" font-size="7.30" text-anchor="middle" fill="#1e1e1e" font-weight="normal">2 years - &lt;6 years</text>
<text x="468.50" y="288.30" font-size="7.30" text-anchor="middle" fill="#1e1e1e" font-weight="normal">6 years - &lt;18 years</text>
<text x="401.00" y="300.80" font-size="8.40" text-anchor="middle" fill="#1e1e1e" font-weight="normal" textLength="10.2" lengthAdjust="spacingAndGlyphs" style="stroke-width:0.4px">Age</text>
<text transform="translate(265.30 225.90) rotate(-90)" font-size="8.60" text-anchor="middle" fill="#1e1e1e" font-weight="normal" textLength="62.9" lengthAdjust="spacingAndGlyphs" style="stroke-width:0.4px">AUC(0-inf) [h·μg/mL]</text>
<line x1="320.00" y1="233.50" x2="346.90" y2="233.50" stroke="#333" stroke-width="1.00"/>
<line x1="320.00" y1="265.50" x2="346.90" y2="265.50" stroke="#333" stroke-width="1.00"/>
<rect x="306.50" y="247.50" width="54.00" height="8.00" fill="none" stroke="#444" stroke-width="1.0"/>
<line x1="306.50" y1="251.50" x2="360.50" y2="251.50" stroke="#111" stroke-width="1.70"/>
<g fill="#3e3e8c" fill-opacity="0.40"><circle cx="335.5" cy="247.0" r="0.85"/><circle cx="318.7" cy="249.2" r="0.85"/><circle cx="320.7" cy="252.0" r="0.85"/><circle cx="352.7" cy="248.9" r="0.85"/><circle cx="330.9" cy="253.5" r="0.85"/><circle cx="315.9" cy="247.8" r="0.85"/><circle cx="322.2" cy="248.6" r="0.85"/><circle cx="339.0" cy="252.3" r="0.85"/><circle cx="342.1" cy="251.0" r="0.85"/><circle cx="336.8" cy="244.7" r="0.85"/><circle cx="313.9" cy="252.0" r="0.85"/><circle cx="327.6" cy="245.7" r="0.85"/><circle cx="353.3" cy="250.6" r="0.85"/><circle cx="327.1" cy="257.2" r="0.85"/><circle cx="345.3" cy="241.7" r="0.85"/><circle cx="333.2" cy="239.0" r="0.85"/><circle cx="318.2" cy="251.5" r="0.85"/><circle cx="322.5" cy="257.9" r="0.85"/><circle cx="331.6" cy="252.0" r="0.85"/><circle cx="351.7" cy="256.6" r="0.85"/><circle cx="333.3" cy="248.7" r="0.85"/><circle cx="317.7" cy="251.6" r="0.85"/><circle cx="320.2" cy="243.6" r="0.85"/><circle cx="348.6" cy="255.0" r="0.85"/><circle cx="332.6" cy="252.5" r="0.85"/><circle cx="353.4" cy="254.3" r="0.85"/><circle cx="345.1" cy="254.8" r="0.85"/><circle cx="326.9" cy="252.5" r="0.85"/><circle cx="323.0" cy="251.0" r="0.85"/><circle cx="325.9" cy="253.0" r="0.85"/><circle cx="340.5" cy="249.0" r="0.85"/><circle cx="349.0" cy="261.3" r="0.85"/><circle cx="315.5" cy="249.6" r="0.85"/><circle cx="332.8" cy="252.1" r="0.85"/><circle cx="323.2" cy="254.2" r="0.85"/><circle cx="342.9" cy="248.4" r="0.85"/><circle cx="324.9" cy="249.9" r="0.85"/><circle cx="316.1" cy="259.7" r="0.85"/><circle cx="332.4" cy="246.6" r="0.85"/><circle cx="352.0" cy="255.2" r="0.85"/><circle cx="323.7" cy="250.9" r="0.85"/><circle cx="321.2" cy="245.4" r="0.85"/><circle cx="334.2" cy="245.2" r="0.85"/><circle cx="344.5" cy="245.9" r="0.85"/><circle cx="340.2" cy="250.5" r="0.85"/><circle cx="351.5" cy="257.5" r="0.85"/><circle cx="319.1" cy="253.5" r="0.85"/><circle cx="343.4" cy="240.2" r="0.85"/><circle cx="340.3" cy="255.9" r="0.85"/><circle cx="351.9" cy="243.8" r="0.85"/><circle cx="352.5" cy="247.3" r="0.85"/><circle cx="345.6" cy="249.9" r="0.85"/><circle cx="350.4" cy="253.7" r="0.85"/><circle cx="316.0" cy="262.8" r="0.85"/><circle cx="340.0" cy="244.5" r="0.85"/><circle cx="351.5" cy="243.1" r="0.85"/><circle cx="337.3" cy="244.8" r="0.85"/><circle cx="322.4" cy="259.5" r="0.85"/><circle cx="331.6" cy="255.8" r="0.85"/><circle cx="318.5" cy="246.7" r="0.85"/><circle cx="324.0" cy="249.7" r="0.85"/><circle cx="348.5" cy="243.6" r="0.85"/><circle cx="346.2" cy="244.2" r="0.85"/><circle cx="331.0" cy="244.9" r="0.85"/><circle cx="327.8" cy="253.3" r="0.85"/><circle cx="344.6" cy="255.0" r="0.85"/><circle cx="342.0" cy="247.9" r="0.85"/><circle cx="322.1" cy="259.9" r="0.85"/><circle cx="344.6" cy="251.9" r="0.85"/><circle cx="326.7" cy="260.3" r="0.85"/><circle cx="326.3" cy="251.2" r="0.85"/><circle cx="343.9" cy="253.2" r="0.85"/><circle cx="350.0" cy="248.5" r="0.85"/><circle cx="330.9" cy="250.5" r="0.85"/><circle cx="334.6" cy="256.8" r="0.85"/><circle cx="334.6" cy="250.9" r="0.85"/><circle cx="338.7" cy="253.4" r="0.85"/><circle cx="342.2" cy="249.3" r="0.85"/><circle cx="347.8" cy="245.4" r="0.85"/><circle cx="314.2" cy="252.2" r="0.85"/><circle cx="335.7" cy="252.3" r="0.85"/><circle cx="334.4" cy="252.4" r="0.85"/><circle cx="313.6" cy="258.1" r="0.85"/><circle cx="314.9" cy="262.6" r="0.85"/><circle cx="316.3" cy="248.3" r="0.85"/><circle cx="339.7" cy="243.4" r="0.85"/><circle cx="347.1" cy="251.1" r="0.85"/><circle cx="339.2" cy="259.3" r="0.85"/><circle cx="350.1" cy="247.9" r="0.85"/><circle cx="318.2" cy="253.6" r="0.85"/><circle cx="350.3" cy="246.4" r="0.85"/><circle cx="345.2" cy="260.5" r="0.85"/><circle cx="329.1" cy="249.2" r="0.85"/><circle cx="334.5" cy="251.9" r="0.85"/><circle cx="335.1" cy="249.3" r="0.85"/><circle cx="336.2" cy="250.3" r="0.85"/><circle cx="337.7" cy="245.7" r="0.85"/><circle cx="342.9" cy="244.3" r="0.85"/><circle cx="349.6" cy="257.1" r="0.85"/><circle cx="328.3" cy="244.1" r="0.85"/><circle cx="347.0" cy="250.3" r="0.85"/><circle cx="324.3" cy="250.0" r="0.85"/><circle cx="339.6" cy="256.9" r="0.85"/><circle cx="319.7" cy="257.9" r="0.85"/><circle cx="342.7" cy="250.5" r="0.85"/><circle cx="330.0" cy="256.8" r="0.85"/><circle cx="336.4" cy="252.4" r="0.85"/><circle cx="317.1" cy="258.8" r="0.85"/><circle cx="331.9" cy="250.4" r="0.85"/><circle cx="314.7" cy="251.6" r="0.85"/><circle cx="339.5" cy="256.5" r="0.85"/><circle cx="320.5" cy="246.4" r="0.85"/><circle cx="336.1" cy="251.9" r="0.85"/><circle cx="341.0" cy="240.7" r="0.85"/><circle cx="338.4" cy="250.3" r="0.85"/><circle cx="316.8" cy="247.4" r="0.85"/><circle cx="343.9" cy="245.3" r="0.85"/><circle cx="351.0" cy="244.0" r="0.85"/><circle cx="322.7" cy="260.1" r="0.85"/><circle cx="339.5" cy="261.8" r="0.85"/><circle cx="331.3" cy="251.9" r="0.85"/><circle cx="331.7" cy="245.2" r="0.85"/><circle cx="322.7" cy="251.6" r="0.85"/><circle cx="341.2" cy="250.0" r="0.85"/><circle cx="324.3" cy="249.9" r="0.85"/><circle cx="350.8" cy="250.4" r="0.85"/><circle cx="336.6" cy="256.0" r="0.85"/><circle cx="328.4" cy="266.3" r="0.85"/><circle cx="318.7" cy="245.5" r="0.85"/><circle cx="322.5" cy="254.3" r="0.85"/><circle cx="324.9" cy="256.7" r="0.85"/><circle cx="340.5" cy="253.1" r="0.85"/><circle cx="314.5" cy="249.9" r="0.85"/><circle cx="318.0" cy="250.2" r="0.85"/><circle cx="330.8" cy="254.2" r="0.85"/><circle cx="328.0" cy="249.1" r="0.85"/><circle cx="352.6" cy="234.7" r="0.85"/><circle cx="330.3" cy="249.3" r="0.85"/><circle cx="337.9" cy="248.8" r="0.85"/><circle cx="348.8" cy="253.8" r="0.85"/><circle cx="320.1" cy="249.1" r="0.85"/><circle cx="349.6" cy="247.9" r="0.85"/><circle cx="316.2" cy="241.1" r="0.85"/><circle cx="338.2" cy="260.4" r="0.85"/><circle cx="345.3" cy="252.8" r="0.85"/><circle cx="326.4" cy="260.4" r="0.85"/><circle cx="353.4" cy="251.7" r="0.85"/><circle cx="338.3" cy="247.6" r="0.85"/><circle cx="346.0" cy="255.2" r="0.85"/><circle cx="352.2" cy="248.5" r="0.85"/><circle cx="353.4" cy="254.4" r="0.85"/><circle cx="330.6" cy="246.3" r="0.85"/><circle cx="342.5" cy="253.2" r="0.85"/><circle cx="352.8" cy="239.0" r="0.85"/><circle cx="329.5" cy="253.6" r="0.85"/><circle cx="330.4" cy="256.2" r="0.85"/><circle cx="343.7" cy="235.1" r="0.85"/><circle cx="341.7" cy="257.3" r="0.85"/><circle cx="351.6" cy="238.6" r="0.85"/><circle cx="334.8" cy="250.9" r="0.85"/><circle cx="334.6" cy="251.9" r="0.85"/><circle cx="327.7" cy="268.9" r="0.85"/><circle cx="325.8" cy="251.5" r="0.85"/><circle cx="350.8" cy="256.7" r="0.85"/><circle cx="344.8" cy="252.0" r="0.85"/><circle cx="340.4" cy="248.0" r="0.85"/><circle cx="317.2" cy="244.8" r="0.85"/><circle cx="346.8" cy="251.9" r="0.85"/><circle cx="336.0" cy="244.1" r="0.85"/><circle cx="345.7" cy="244.1" r="0.85"/><circle cx="332.9" cy="251.7" r="0.85"/><circle cx="342.9" cy="251.0" r="0.85"/><circle cx="344.6" cy="245.7" r="0.85"/><circle cx="328.5" cy="248.6" r="0.85"/><circle cx="349.5" cy="245.9" r="0.85"/><circle cx="351.1" cy="252.4" r="0.85"/><circle cx="327.6" cy="245.2" r="0.85"/><circle cx="330.8" cy="250.2" r="0.85"/><circle cx="335.3" cy="250.5" r="0.85"/><circle cx="350.6" cy="262.2" r="0.85"/><circle cx="336.4" cy="256.0" r="0.85"/><circle cx="353.4" cy="249.7" r="0.85"/><circle cx="343.6" cy="241.3" r="0.85"/><circle cx="330.3" cy="259.5" r="0.85"/><circle cx="348.6" cy="258.8" r="0.85"/><circle cx="342.4" cy="252.8" r="0.85"/><circle cx="334.1" cy="257.8" r="0.85"/><circle cx="328.1" cy="244.3" r="0.85"/><circle cx="352.7" cy="251.9" r="0.85"/><circle cx="338.6" cy="263.4" r="0.85"/><circle cx="320.6" cy="249.4" r="0.85"/><circle cx="344.4" cy="245.1" r="0.85"/><circle cx="336.0" cy="256.5" r="0.85"/><circle cx="343.1" cy="248.4" r="0.85"/><circle cx="328.3" cy="259.4" r="0.85"/><circle cx="344.8" cy="242.2" r="0.85"/><circle cx="353.4" cy="251.8" r="0.85"/><circle cx="324.7" cy="263.2" r="0.85"/><circle cx="334.5" cy="251.9" r="0.85"/><circle cx="339.3" cy="257.1" r="0.85"/><circle cx="328.9" cy="239.5" r="0.85"/><circle cx="353.0" cy="243.4" r="0.85"/><circle cx="346.8" cy="257.1" r="0.85"/><circle cx="328.0" cy="246.1" r="0.85"/><circle cx="327.2" cy="254.0" r="0.85"/><circle cx="330.0" cy="252.6" r="0.85"/><circle cx="353.1" cy="249.6" r="0.85"/><circle cx="345.1" cy="242.8" r="0.85"/><circle cx="325.5" cy="248.1" r="0.85"/><circle cx="344.1" cy="255.3" r="0.85"/><circle cx="333.5" cy="247.0" r="0.85"/><circle cx="322.3" cy="251.4" r="0.85"/><circle cx="339.2" cy="262.3" r="0.85"/><circle cx="331.4" cy="248.9" r="0.85"/><circle cx="313.6" cy="248.3" r="0.85"/><circle cx="327.8" cy="247.8" r="0.85"/><circle cx="335.2" cy="249.6" r="0.85"/><circle cx="326.5" cy="250.7" r="0.85"/><circle cx="327.9" cy="260.5" r="0.85"/><circle cx="343.2" cy="251.5" r="0.85"/><circle cx="314.8" cy="245.2" r="0.85"/><circle cx="347.2" cy="243.4" r="0.85"/><circle cx="340.9" cy="248.8" r="0.85"/><circle cx="335.4" cy="252.1" r="0.85"/><circle cx="352.2" cy="251.0" r="0.85"/><circle cx="338.2" cy="239.7" r="0.85"/><circle cx="349.3" cy="258.1" r="0.85"/><circle cx="337.4" cy="259.2" r="0.85"/><circle cx="330.0" cy="252.0" r="0.85"/><circle cx="336.5" cy="252.9" r="0.85"/><circle cx="347.3" cy="248.5" r="0.85"/><circle cx="325.9" cy="251.5" r="0.85"/><circle cx="317.8" cy="253.0" r="0.85"/><circle cx="324.2" cy="236.3" r="0.85"/><circle cx="320.4" cy="248.7" r="0.85"/><circle cx="325.1" cy="245.0" r="0.85"/><circle cx="327.7" cy="257.1" r="0.85"/><circle cx="340.3" cy="252.5" r="0.85"/><circle cx="336.7" cy="252.8" r="0.85"/><circle cx="342.5" cy="252.7" r="0.85"/><circle cx="340.3" cy="252.8" r="0.85"/><circle cx="316.1" cy="259.0" r="0.85"/><circle cx="319.9" cy="247.0" r="0.85"/><circle cx="329.9" cy="253.7" r="0.85"/><circle cx="327.6" cy="252.3" r="0.85"/><circle cx="348.6" cy="259.3" r="0.85"/><circle cx="339.0" cy="245.7" r="0.85"/><circle cx="336.9" cy="242.0" r="0.85"/><circle cx="333.4" cy="250.9" r="0.85"/><circle cx="329.4" cy="253.9" r="0.85"/><circle cx="329.7" cy="246.8" r="0.85"/><circle cx="340.7" cy="256.4" r="0.85"/><circle cx="330.8" cy="250.2" r="0.85"/><circle cx="329.6" cy="252.8" r="0.85"/><circle cx="345.1" cy="256.5" r="0.85"/><circle cx="321.0" cy="246.2" r="0.85"/><circle cx="336.6" cy="252.1" r="0.85"/><circle cx="344.4" cy="256.2" r="0.85"/><circle cx="321.0" cy="255.7" r="0.85"/><circle cx="339.4" cy="249.5" r="0.85"/><circle cx="322.7" cy="247.4" r="0.85"/><circle cx="325.6" cy="245.0" r="0.85"/><circle cx="348.5" cy="261.7" r="0.85"/><circle cx="345.2" cy="245.9" r="0.85"/><circle cx="321.5" cy="255.3" r="0.85"/><circle cx="331.9" cy="253.8" r="0.85"/><circle cx="329.3" cy="250.6" r="0.85"/><circle cx="321.3" cy="254.1" r="0.85"/><circle cx="333.0" cy="246.9" r="0.85"/><circle cx="315.6" cy="248.7" r="0.85"/><circle cx="345.5" cy="244.2" r="0.85"/><circle cx="342.4" cy="251.3" r="0.85"/><circle cx="323.5" cy="246.4" r="0.85"/><circle cx="337.4" cy="263.8" r="0.85"/><circle cx="342.3" cy="255.4" r="0.85"/><circle cx="333.2" cy="249.8" r="0.85"/><circle cx="335.7" cy="253.2" r="0.85"/><circle cx="344.4" cy="253.4" r="0.85"/><circle cx="340.9" cy="253.2" r="0.85"/><circle cx="332.3" cy="253.0" r="0.85"/><circle cx="352.8" cy="245.0" r="0.85"/><circle cx="348.4" cy="248.0" r="0.85"/><circle cx="337.0" cy="257.6" r="0.85"/><circle cx="331.5" cy="255.1" r="0.85"/><circle cx="346.2" cy="242.2" r="0.85"/><circle cx="323.6" cy="243.4" r="0.85"/><circle cx="336.8" cy="251.3" r="0.85"/><circle cx="314.1" cy="253.8" r="0.85"/><circle cx="319.9" cy="244.9" r="0.85"/><circle cx="347.7" cy="241.5" r="0.85"/><circle cx="343.1" cy="247.8" r="0.85"/><circle cx="338.4" cy="253.1" r="0.85"/><circle cx="326.8" cy="250.4" r="0.85"/><circle cx="320.1" cy="248.5" r="0.85"/><circle cx="314.6" cy="248.0" r="0.85"/><circle cx="319.0" cy="254.6" r="0.85"/><circle cx="331.7" cy="257.6" r="0.85"/><circle cx="332.1" cy="258.2" r="0.85"/><circle cx="323.6" cy="252.0" r="0.85"/><circle cx="317.2" cy="254.4" r="0.85"/><circle cx="329.5" cy="252.6" r="0.85"/><circle cx="320.2" cy="247.7" r="0.85"/><circle cx="342.9" cy="252.2" r="0.85"/><circle cx="348.5" cy="250.4" r="0.85"/><circle cx="352.1" cy="253.4" r="0.85"/><circle cx="316.9" cy="245.1" r="0.85"/><circle cx="332.8" cy="242.7" r="0.85"/><circle cx="349.1" cy="256.8" r="0.85"/><circle cx="349.8" cy="258.5" r="0.85"/><circle cx="349.4" cy="254.9" r="0.85"/><circle cx="334.0" cy="245.8" r="0.85"/><circle cx="347.4" cy="247.9" r="0.85"/><circle cx="314.8" cy="254.4" r="0.85"/><circle cx="321.7" cy="259.5" r="0.85"/><circle cx="325.9" cy="261.3" r="0.85"/><circle cx="327.6" cy="259.8" r="0.85"/><circle cx="330.9" cy="249.9" r="0.85"/><circle cx="317.7" cy="247.9" r="0.85"/><circle cx="351.4" cy="254.9" r="0.85"/><circle cx="330.3" cy="255.8" r="0.85"/><circle cx="315.4" cy="250.6" r="0.85"/><circle cx="349.5" cy="260.1" r="0.85"/><circle cx="337.3" cy="255.9" r="0.85"/><circle cx="324.9" cy="254.4" r="0.85"/><circle cx="352.8" cy="245.6" r="0.85"/><circle cx="335.8" cy="263.4" r="0.85"/><circle cx="328.5" cy="246.3" r="0.85"/><circle cx="341.2" cy="250.2" r="0.85"/><circle cx="314.4" cy="242.1" r="0.85"/><circle cx="341.0" cy="251.8" r="0.85"/><circle cx="317.3" cy="247.2" r="0.85"/><circle cx="316.2" cy="248.5" r="0.85"/><circle cx="347.4" cy="250.7" r="0.85"/><circle cx="330.1" cy="260.4" r="0.85"/><circle cx="330.6" cy="251.2" r="0.85"/><circle cx="320.8" cy="243.5" r="0.85"/><circle cx="348.0" cy="254.8" r="0.85"/><circle cx="349.2" cy="250.9" r="0.85"/><circle cx="340.1" cy="252.6" r="0.85"/><circle cx="341.0" cy="244.5" r="0.85"/><circle cx="346.0" cy="242.1" r="0.85"/><circle cx="338.5" cy="252.7" r="0.85"/><circle cx="351.3" cy="248.5" r="0.85"/><circle cx="340.2" cy="254.3" r="0.85"/><circle cx="339.2" cy="253.4" r="0.85"/><circle cx="325.7" cy="255.6" r="0.85"/><circle cx="332.9" cy="249.5" r="0.85"/><circle cx="333.6" cy="255.9" r="0.85"/><circle cx="349.2" cy="249.5" r="0.85"/><circle cx="342.4" cy="237.2" r="0.85"/><circle cx="348.8" cy="244.9" r="0.85"/><circle cx="343.5" cy="249.6" r="0.85"/><circle cx="322.3" cy="251.0" r="0.85"/><circle cx="339.5" cy="257.4" r="0.85"/><circle cx="327.4" cy="256.8" r="0.85"/><circle cx="329.0" cy="256.2" r="0.85"/><circle cx="343.4" cy="240.3" r="0.85"/><circle cx="331.4" cy="233.1" r="0.85"/><circle cx="350.5" cy="247.2" r="0.85"/><circle cx="337.8" cy="261.9" r="0.85"/><circle cx="315.3" cy="257.1" r="0.85"/><circle cx="318.2" cy="249.2" r="0.85"/><circle cx="343.6" cy="247.9" r="0.85"/><circle cx="341.0" cy="257.6" r="0.85"/><circle cx="353.4" cy="261.9" r="0.85"/><circle cx="339.8" cy="261.3" r="0.85"/><circle cx="332.4" cy="250.2" r="0.85"/><circle cx="346.5" cy="259.4" r="0.85"/><circle cx="316.8" cy="247.7" r="0.85"/><circle cx="328.4" cy="249.7" r="0.85"/><circle cx="320.2" cy="245.6" r="0.85"/><circle cx="331.7" cy="255.4" r="0.85"/><circle cx="317.5" cy="256.3" r="0.85"/><circle cx="342.6" cy="254.5" r="0.85"/><circle cx="317.8" cy="264.0" r="0.85"/><circle cx="338.8" cy="248.8" r="0.85"/><circle cx="338.6" cy="248.1" r="0.85"/><circle cx="335.5" cy="248.4" r="0.85"/><circle cx="332.6" cy="248.7" r="0.85"/><circle cx="346.9" cy="247.9" r="0.85"/><circle cx="326.9" cy="248.2" r="0.85"/><circle cx="348.7" cy="257.4" r="0.85"/><circle cx="334.0" cy="253.6" r="0.85"/><circle cx="330.7" cy="254.1" r="0.85"/><circle cx="347.2" cy="251.5" r="0.85"/><circle cx="331.7" cy="249.7" r="0.85"/><circle cx="315.6" cy="257.3" r="0.85"/><circle cx="316.8" cy="255.9" r="0.85"/><circle cx="321.4" cy="241.8" r="0.85"/><circle cx="326.2" cy="255.8" r="0.85"/><circle cx="334.3" cy="253.7" r="0.85"/><circle cx="343.6" cy="238.9" r="0.85"/><circle cx="353.4" cy="251.0" r="0.85"/><circle cx="336.2" cy="254.3" r="0.85"/><circle cx="340.4" cy="252.3" r="0.85"/><circle cx="318.7" cy="253.0" r="0.85"/><circle cx="315.7" cy="250.2" r="0.85"/><circle cx="353.3" cy="244.6" r="0.85"/><circle cx="337.3" cy="255.4" r="0.85"/><circle cx="318.2" cy="248.3" r="0.85"/><circle cx="343.0" cy="256.0" r="0.85"/><circle cx="344.8" cy="250.1" r="0.85"/><circle cx="332.0" cy="247.6" r="0.85"/><circle cx="350.1" cy="253.8" r="0.85"/><circle cx="338.1" cy="256.0" r="0.85"/><circle cx="353.3" cy="259.8" r="0.85"/><circle cx="332.0" cy="252.8" r="0.85"/><circle cx="334.7" cy="252.8" r="0.85"/><circle cx="337.4" cy="249.0" r="0.85"/><circle cx="326.2" cy="251.8" r="0.85"/><circle cx="330.1" cy="241.2" r="0.85"/><circle cx="319.6" cy="252.3" r="0.85"/><circle cx="336.0" cy="241.4" r="0.85"/><circle cx="343.3" cy="255.4" r="0.85"/><circle cx="341.1" cy="250.0" r="0.85"/><circle cx="345.8" cy="250.1" r="0.85"/><circle cx="326.0" cy="263.3" r="0.85"/><circle cx="351.7" cy="236.3" r="0.85"/><circle cx="348.9" cy="242.9" r="0.85"/><circle cx="344.8" cy="246.6" r="0.85"/><circle cx="337.0" cy="255.9" r="0.85"/><circle cx="345.7" cy="239.5" r="0.85"/><circle cx="322.2" cy="257.4" r="0.85"/><circle cx="334.3" cy="253.6" r="0.85"/><circle cx="325.1" cy="254.2" r="0.85"/><circle cx="315.4" cy="243.3" r="0.85"/><circle cx="329.3" cy="247.7" r="0.85"/><circle cx="345.4" cy="242.0" r="0.85"/><circle cx="316.9" cy="248.7" r="0.85"/><circle cx="326.7" cy="254.7" r="0.85"/><circle cx="347.5" cy="251.9" r="0.85"/><circle cx="318.9" cy="246.3" r="0.85"/><circle cx="340.4" cy="247.9" r="0.85"/><circle cx="348.4" cy="258.3" r="0.85"/><circle cx="352.1" cy="236.7" r="0.85"/><circle cx="329.4" cy="260.8" r="0.85"/><circle cx="324.6" cy="250.7" r="0.85"/><circle cx="326.6" cy="239.1" r="0.85"/><circle cx="317.5" cy="249.6" r="0.85"/><circle cx="349.1" cy="247.3" r="0.85"/><circle cx="329.8" cy="243.9" r="0.85"/><circle cx="328.8" cy="242.9" r="0.85"/><circle cx="331.2" cy="256.4" r="0.85"/><circle cx="342.1" cy="253.2" r="0.85"/><circle cx="314.3" cy="249.6" r="0.85"/><circle cx="351.1" cy="255.0" r="0.85"/><circle cx="329.7" cy="261.0" r="0.85"/><circle cx="322.5" cy="257.3" r="0.85"/><circle cx="337.5" cy="251.9" r="0.85"/><circle cx="315.7" cy="256.0" r="0.85"/><circle cx="348.7" cy="251.8" r="0.85"/><circle cx="343.5" cy="251.2" r="0.85"/><circle cx="330.2" cy="257.1" r="0.85"/><circle cx="341.8" cy="250.2" r="0.85"/><circle cx="333.6" cy="256.5" r="0.85"/><circle cx="323.0" cy="241.8" r="0.85"/><circle cx="333.7" cy="255.4" r="0.85"/><circle cx="315.7" cy="246.6" r="0.85"/><circle cx="322.8" cy="257.3" r="0.85"/><circle cx="329.0" cy="245.7" r="0.85"/><circle cx="320.8" cy="249.2" r="0.85"/><circle cx="348.5" cy="262.5" r="0.85"/><circle cx="317.3" cy="256.3" r="0.85"/><circle cx="335.7" cy="245.1" r="0.85"/><circle cx="338.5" cy="249.6" r="0.85"/><circle cx="348.8" cy="250.5" r="0.85"/><circle cx="321.5" cy="253.3" r="0.85"/><circle cx="348.6" cy="242.6" r="0.85"/><circle cx="329.1" cy="245.2" r="0.85"/><circle cx="326.5" cy="248.4" r="0.85"/><circle cx="350.0" cy="243.7" r="0.85"/><circle cx="319.9" cy="246.0" r="0.85"/><circle cx="349.8" cy="258.5" r="0.85"/><circle cx="332.2" cy="252.1" r="0.85"/><circle cx="339.1" cy="248.5" r="0.85"/><circle cx="326.7" cy="249.6" r="0.85"/><circle cx="321.0" cy="246.4" r="0.85"/><circle cx="324.3" cy="249.8" r="0.85"/><circle cx="350.0" cy="241.4" r="0.85"/><circle cx="330.1" cy="260.7" r="0.85"/><circle cx="323.8" cy="255.5" r="0.85"/><circle cx="342.2" cy="244.5" r="0.85"/><circle cx="314.7" cy="251.9" r="0.85"/><circle cx="322.6" cy="251.4" r="0.85"/><circle cx="348.8" cy="244.3" r="0.85"/><circle cx="345.8" cy="233.4" r="0.85"/><circle cx="313.6" cy="247.6" r="0.85"/><circle cx="329.5" cy="249.4" r="0.85"/><circle cx="348.3" cy="251.0" r="0.85"/><circle cx="319.5" cy="247.0" r="0.85"/><circle cx="328.8" cy="249.0" r="0.85"/><circle cx="332.1" cy="250.5" r="0.85"/><circle cx="340.2" cy="254.8" r="0.85"/><circle cx="338.5" cy="264.4" r="0.85"/><circle cx="317.8" cy="258.7" r="0.85"/><circle cx="322.4" cy="250.3" r="0.85"/><circle cx="333.1" cy="256.6" r="0.85"/><circle cx="349.6" cy="257.3" r="0.85"/><circle cx="338.5" cy="255.8" r="0.85"/><circle cx="323.8" cy="247.2" r="0.85"/><circle cx="349.0" cy="256.2" r="0.85"/><circle cx="344.6" cy="249.1" r="0.85"/><circle cx="327.8" cy="251.8" r="0.85"/><circle cx="346.2" cy="245.6" r="0.85"/><circle cx="339.1" cy="253.7" r="0.85"/><circle cx="315.1" cy="245.6" r="0.85"/><circle cx="318.0" cy="243.6" r="0.85"/><circle cx="330.2" cy="254.2" r="0.85"/><circle cx="334.7" cy="247.5" r="0.85"/><circle cx="327.3" cy="245.4" r="0.85"/><circle cx="327.3" cy="249.4" r="0.85"/><circle cx="350.5" cy="243.2" r="0.85"/><circle cx="326.9" cy="229.3" r="0.85"/><circle cx="332.2" cy="242.8" r="0.85"/><circle cx="328.2" cy="259.8" r="0.85"/><circle cx="340.7" cy="254.5" r="0.85"/><circle cx="324.3" cy="257.7" r="0.85"/><circle cx="350.0" cy="240.8" r="0.85"/><circle cx="336.2" cy="261.6" r="0.85"/><circle cx="327.1" cy="237.2" r="0.85"/><circle cx="341.2" cy="246.8" r="0.85"/><circle cx="346.5" cy="243.3" r="0.85"/><circle cx="319.1" cy="247.8" r="0.85"/><circle cx="346.8" cy="245.5" r="0.85"/><circle cx="325.7" cy="244.3" r="0.85"/><circle cx="344.0" cy="245.9" r="0.85"/><circle cx="353.2" cy="250.5" r="0.85"/><circle cx="344.4" cy="246.1" r="0.85"/><circle cx="341.3" cy="240.3" r="0.85"/><circle cx="328.9" cy="263.0" r="0.85"/><circle cx="340.4" cy="247.6" r="0.85"/><circle cx="330.9" cy="249.5" r="0.85"/><circle cx="349.1" cy="251.5" r="0.85"/><circle cx="346.7" cy="245.5" r="0.85"/><circle cx="345.6" cy="247.4" r="0.85"/><circle cx="314.4" cy="247.5" r="0.85"/><circle cx="337.8" cy="254.0" r="0.85"/><circle cx="327.7" cy="240.7" r="0.85"/><circle cx="329.9" cy="242.9" r="0.85"/><circle cx="318.1" cy="261.9" r="0.85"/><circle cx="332.2" cy="252.4" r="0.85"/><circle cx="331.2" cy="254.0" r="0.85"/><circle cx="313.5" cy="252.0" r="0.85"/><circle cx="349.3" cy="256.1" r="0.85"/><circle cx="332.4" cy="252.9" r="0.85"/><circle cx="336.4" cy="252.9" r="0.85"/><circle cx="339.1" cy="259.3" r="0.85"/><circle cx="352.9" cy="255.3" r="0.85"/><circle cx="317.6" cy="254.1" r="0.85"/><circle cx="325.1" cy="251.8" r="0.85"/><circle cx="345.8" cy="252.8" r="0.85"/><circle cx="324.5" cy="251.1" r="0.85"/><circle cx="345.4" cy="239.6" r="0.85"/><circle cx="314.5" cy="240.6" r="0.85"/><circle cx="338.8" cy="244.9" r="0.85"/><circle cx="337.7" cy="240.7" r="0.85"/><circle cx="334.8" cy="256.1" r="0.85"/><circle cx="327.6" cy="244.2" r="0.85"/><circle cx="321.0" cy="251.7" r="0.85"/><circle cx="340.4" cy="255.5" r="0.85"/><circle cx="313.9" cy="243.3" r="0.85"/><circle cx="329.7" cy="251.8" r="0.85"/><circle cx="333.7" cy="248.1" r="0.85"/><circle cx="340.8" cy="245.8" r="0.85"/><circle cx="314.2" cy="250.3" r="0.85"/><circle cx="341.7" cy="255.2" r="0.85"/><circle cx="334.5" cy="258.0" r="0.85"/><circle cx="342.4" cy="262.8" r="0.85"/><circle cx="343.4" cy="261.1" r="0.85"/><circle cx="348.4" cy="255.0" r="0.85"/><circle cx="328.6" cy="259.5" r="0.85"/><circle cx="341.5" cy="249.4" r="0.85"/><circle cx="351.4" cy="245.2" r="0.85"/><circle cx="331.0" cy="241.4" r="0.85"/><circle cx="319.6" cy="253.3" r="0.85"/><circle cx="349.3" cy="244.8" r="0.85"/><circle cx="319.3" cy="261.5" r="0.85"/><circle cx="318.5" cy="247.4" r="0.85"/><circle cx="331.1" cy="248.9" r="0.85"/><circle cx="321.5" cy="249.8" r="0.85"/><circle cx="340.9" cy="241.0" r="0.85"/><circle cx="318.9" cy="258.5" r="0.85"/><circle cx="316.8" cy="253.6" r="0.85"/><circle cx="342.1" cy="237.1" r="0.85"/><circle cx="346.2" cy="247.1" r="0.85"/><circle cx="339.7" cy="254.6" r="0.85"/><circle cx="325.1" cy="244.7" r="0.85"/><circle cx="316.0" cy="248.7" r="0.85"/><circle cx="338.8" cy="242.3" r="0.85"/><circle cx="334.0" cy="237.5" r="0.85"/><circle cx="328.6" cy="254.9" r="0.85"/><circle cx="319.1" cy="260.4" r="0.85"/><circle cx="349.3" cy="248.2" r="0.85"/><circle cx="352.9" cy="248.0" r="0.85"/><circle cx="333.2" cy="252.7" r="0.85"/><circle cx="333.1" cy="242.8" r="0.85"/><circle cx="323.5" cy="257.8" r="0.85"/><circle cx="352.3" cy="252.6" r="0.85"/><circle cx="346.7" cy="255.9" r="0.85"/><circle cx="322.9" cy="250.7" r="0.85"/><circle cx="329.9" cy="246.4" r="0.85"/><circle cx="332.3" cy="251.7" r="0.85"/><circle cx="351.1" cy="261.7" r="0.85"/><circle cx="350.5" cy="252.2" r="0.85"/><circle cx="331.1" cy="252.6" r="0.85"/><circle cx="343.1" cy="235.7" r="0.85"/><circle cx="353.0" cy="246.7" r="0.85"/><circle cx="340.8" cy="251.0" r="0.85"/><circle cx="316.1" cy="257.1" r="0.85"/><circle cx="329.3" cy="251.5" r="0.85"/><circle cx="320.9" cy="245.8" r="0.85"/><circle cx="335.0" cy="257.8" r="0.85"/><circle cx="317.9" cy="245.8" r="0.85"/><circle cx="330.8" cy="252.8" r="0.85"/><circle cx="330.2" cy="261.5" r="0.85"/><circle cx="331.2" cy="254.8" r="0.85"/><circle cx="331.4" cy="247.7" r="0.85"/><circle cx="352.7" cy="248.7" r="0.85"/><circle cx="339.4" cy="257.9" r="0.85"/><circle cx="326.9" cy="246.8" r="0.85"/><circle cx="346.7" cy="246.6" r="0.85"/><circle cx="335.8" cy="250.3" r="0.85"/><circle cx="341.4" cy="243.1" r="0.85"/><circle cx="329.1" cy="254.6" r="0.85"/><circle cx="326.5" cy="255.7" r="0.85"/><circle cx="314.1" cy="252.3" r="0.85"/><circle cx="332.7" cy="243.6" r="0.85"/><circle cx="341.7" cy="254.1" r="0.85"/><circle cx="342.2" cy="252.7" r="0.85"/><circle cx="315.1" cy="256.0" r="0.85"/><circle cx="352.2" cy="245.8" r="0.85"/><circle cx="347.9" cy="246.5" r="0.85"/><circle cx="330.9" cy="254.3" r="0.85"/><circle cx="344.3" cy="241.4" r="0.85"/><circle cx="353.1" cy="253.6" r="0.85"/><circle cx="343.5" cy="240.8" r="0.85"/><circle cx="333.3" cy="250.6" r="0.85"/><circle cx="336.7" cy="238.2" r="0.85"/><circle cx="353.0" cy="257.7" r="0.85"/><circle cx="336.2" cy="248.7" r="0.85"/><circle cx="336.1" cy="250.4" r="0.85"/><circle cx="350.7" cy="252.0" r="0.85"/><circle cx="323.7" cy="261.0" r="0.85"/><circle cx="342.0" cy="249.7" r="0.85"/><circle cx="344.5" cy="258.8" r="0.85"/><circle cx="314.8" cy="255.1" r="0.85"/><circle cx="323.3" cy="244.8" r="0.85"/><circle cx="325.8" cy="241.4" r="0.85"/><circle cx="320.6" cy="247.9" r="0.85"/><circle cx="316.3" cy="252.4" r="0.85"/><circle cx="329.6" cy="259.2" r="0.85"/><circle cx="344.0" cy="250.6" r="0.85"/><circle cx="337.1" cy="245.3" r="0.85"/><circle cx="319.3" cy="244.2" r="0.85"/><circle cx="323.0" cy="245.5" r="0.85"/><circle cx="340.2" cy="261.0" r="0.85"/><circle cx="335.4" cy="262.7" r="0.85"/><circle cx="350.4" cy="249.3" r="0.85"/><circle cx="342.8" cy="247.6" r="0.85"/><circle cx="338.1" cy="244.3" r="0.85"/><circle cx="343.9" cy="257.3" r="0.85"/><circle cx="340.7" cy="254.3" r="0.85"/><circle cx="349.9" cy="265.5" r="0.85"/><circle cx="330.9" cy="267.1" r="0.85"/><circle cx="327.3" cy="242.3" r="0.85"/><circle cx="321.1" cy="251.7" r="0.85"/><circle cx="319.3" cy="257.9" r="0.85"/><circle cx="323.0" cy="251.4" r="0.85"/><circle cx="338.0" cy="250.2" r="0.85"/><circle cx="329.8" cy="250.3" r="0.85"/><circle cx="332.6" cy="246.6" r="0.85"/><circle cx="322.0" cy="262.4" r="0.85"/><circle cx="328.2" cy="252.6" r="0.85"/><circle cx="325.3" cy="256.3" r="0.85"/><circle cx="335.1" cy="249.0" r="0.85"/><circle cx="319.1" cy="240.2" r="0.85"/><circle cx="346.5" cy="257.4" r="0.85"/><circle cx="346.2" cy="254.9" r="0.85"/><circle cx="315.6" cy="249.1" r="0.85"/><circle cx="318.7" cy="246.7" r="0.85"/><circle cx="328.3" cy="244.9" r="0.85"/><circle cx="342.0" cy="252.9" r="0.85"/><circle cx="330.2" cy="258.9" r="0.85"/><circle cx="319.1" cy="252.1" r="0.85"/><circle cx="345.5" cy="247.4" r="0.85"/><circle cx="343.9" cy="244.9" r="0.85"/><circle cx="321.7" cy="253.8" r="0.85"/><circle cx="319.1" cy="249.4" r="0.85"/><circle cx="336.0" cy="245.6" r="0.85"/><circle cx="328.2" cy="251.1" r="0.85"/><circle cx="344.0" cy="254.8" r="0.85"/><circle cx="330.8" cy="257.9" r="0.85"/><circle cx="319.7" cy="260.6" r="0.85"/><circle cx="322.7" cy="255.4" r="0.85"/><circle cx="344.6" cy="257.4" r="0.85"/><circle cx="314.7" cy="259.1" r="0.85"/><circle cx="346.7" cy="246.9" r="0.85"/><circle cx="330.4" cy="248.8" r="0.85"/><circle cx="324.0" cy="252.4" r="0.85"/><circle cx="348.3" cy="248.5" r="0.85"/><circle cx="346.8" cy="263.0" r="0.85"/><circle cx="350.3" cy="255.2" r="0.85"/><circle cx="346.8" cy="256.0" r="0.85"/><circle cx="326.0" cy="251.5" r="0.85"/><circle cx="334.8" cy="252.6" r="0.85"/><circle cx="335.5" cy="252.5" r="0.85"/><circle cx="338.8" cy="255.6" r="0.85"/><circle cx="320.4" cy="254.0" r="0.85"/><circle cx="330.3" cy="238.7" r="0.85"/><circle cx="318.7" cy="246.6" r="0.85"/><circle cx="317.7" cy="249.2" r="0.85"/><circle cx="341.9" cy="246.7" r="0.85"/><circle cx="323.4" cy="249.6" r="0.85"/><circle cx="342.5" cy="255.9" r="0.85"/><circle cx="336.9" cy="248.5" r="0.85"/><circle cx="322.3" cy="243.1" r="0.85"/><circle cx="325.7" cy="253.1" r="0.85"/><circle cx="337.7" cy="249.6" r="0.85"/><circle cx="318.2" cy="251.0" r="0.85"/><circle cx="330.1" cy="255.6" r="0.85"/><circle cx="337.2" cy="257.0" r="0.85"/><circle cx="338.5" cy="257.2" r="0.85"/><circle cx="344.4" cy="245.6" r="0.85"/><circle cx="318.1" cy="260.3" r="0.85"/><circle cx="337.2" cy="240.8" r="0.85"/><circle cx="346.6" cy="244.9" r="0.85"/><circle cx="319.9" cy="249.4" r="0.85"/><circle cx="332.7" cy="248.9" r="0.85"/><circle cx="349.3" cy="240.2" r="0.85"/><circle cx="334.2" cy="256.5" r="0.85"/><circle cx="314.2" cy="249.4" r="0.85"/><circle cx="330.5" cy="240.7" r="0.85"/><circle cx="322.8" cy="248.7" r="0.85"/><circle cx="314.5" cy="250.8" r="0.85"/><circle cx="347.6" cy="247.3" r="0.85"/><circle cx="336.1" cy="255.9" r="0.85"/><circle cx="344.4" cy="256.5" r="0.85"/><circle cx="322.4" cy="253.3" r="0.85"/><circle cx="319.4" cy="250.9" r="0.85"/><circle cx="337.3" cy="247.6" r="0.85"/><circle cx="350.4" cy="243.6" r="0.85"/><circle cx="321.6" cy="258.0" r="0.85"/><circle cx="327.6" cy="253.4" r="0.85"/><circle cx="329.3" cy="240.8" r="0.85"/><circle cx="324.9" cy="258.4" r="0.85"/><circle cx="341.2" cy="246.7" r="0.85"/><circle cx="350.0" cy="249.3" r="0.85"/><circle cx="323.7" cy="250.2" r="0.85"/><circle cx="341.5" cy="254.9" r="0.85"/><circle cx="341.2" cy="249.3" r="0.85"/><circle cx="337.3" cy="253.6" r="0.85"/><circle cx="327.0" cy="242.5" r="0.85"/><circle cx="313.6" cy="248.5" r="0.85"/><circle cx="315.3" cy="256.1" r="0.85"/><circle cx="317.0" cy="239.6" r="0.85"/><circle cx="322.4" cy="240.5" r="0.85"/><circle cx="325.9" cy="256.1" r="0.85"/><circle cx="351.8" cy="261.5" r="0.85"/><circle cx="315.8" cy="258.0" r="0.85"/><circle cx="337.6" cy="260.2" r="0.85"/><circle cx="350.0" cy="249.7" r="0.85"/><circle cx="327.6" cy="262.9" r="0.85"/><circle cx="324.5" cy="247.6" r="0.85"/><circle cx="344.4" cy="254.8" r="0.85"/><circle cx="329.2" cy="249.3" r="0.85"/><circle cx="344.3" cy="238.5" r="0.85"/><circle cx="330.8" cy="245.0" r="0.85"/><circle cx="331.4" cy="253.7" r="0.85"/><circle cx="348.5" cy="255.3" r="0.85"/><circle cx="324.0" cy="259.4" r="0.85"/><circle cx="336.3" cy="244.4" r="0.85"/><circle cx="325.6" cy="254.3" r="0.85"/><circle cx="346.6" cy="251.5" r="0.85"/><circle cx="351.8" cy="255.8" r="0.85"/><circle cx="351.0" cy="250.3" r="0.85"/><circle cx="331.1" cy="241.9" r="0.85"/><circle cx="346.3" cy="260.4" r="0.85"/><circle cx="340.6" cy="250.8" r="0.85"/><circle cx="320.8" cy="254.1" r="0.85"/><circle cx="324.0" cy="254.1" r="0.85"/><circle cx="326.1" cy="258.2" r="0.85"/><circle cx="322.1" cy="255.3" r="0.85"/><circle cx="313.6" cy="247.2" r="0.85"/><circle cx="313.9" cy="250.0" r="0.85"/><circle cx="335.8" cy="251.0" r="0.85"/><circle cx="314.5" cy="242.6" r="0.85"/><circle cx="335.1" cy="253.0" r="0.85"/><circle cx="322.1" cy="259.3" r="0.85"/><circle cx="346.1" cy="236.7" r="0.85"/><circle cx="350.8" cy="256.7" r="0.85"/><circle cx="335.2" cy="250.4" r="0.85"/><circle cx="330.1" cy="252.3" r="0.85"/><circle cx="322.6" cy="247.7" r="0.85"/><circle cx="331.5" cy="232.3" r="0.85"/><circle cx="326.9" cy="246.0" r="0.85"/><circle cx="313.7" cy="241.4" r="0.85"/><circle cx="317.3" cy="258.8" r="0.85"/><circle cx="334.2" cy="241.4" r="0.85"/><circle cx="326.6" cy="244.2" r="0.85"/><circle cx="337.8" cy="265.6" r="0.85"/><circle cx="336.1" cy="246.4" r="0.85"/><circle cx="327.0" cy="245.3" r="0.85"/><circle cx="340.7" cy="243.0" r="0.85"/><circle cx="340.5" cy="243.8" r="0.85"/><circle cx="327.6" cy="257.3" r="0.85"/><circle cx="322.8" cy="257.2" r="0.85"/><circle cx="320.3" cy="255.6" r="0.85"/><circle cx="324.8" cy="249.7" r="0.85"/><circle cx="330.2" cy="256.6" r="0.85"/><circle cx="352.5" cy="243.4" r="0.85"/><circle cx="329.5" cy="250.1" r="0.85"/><circle cx="335.4" cy="254.1" r="0.85"/><circle cx="334.0" cy="244.2" r="0.85"/><circle cx="327.5" cy="253.0" r="0.85"/><circle cx="317.1" cy="255.0" r="0.85"/><circle cx="324.9" cy="257.0" r="0.85"/><circle cx="336.4" cy="252.9" r="0.85"/><circle cx="318.1" cy="251.7" r="0.85"/><circle cx="338.4" cy="244.4" r="0.85"/><circle cx="330.7" cy="253.8" r="0.85"/><circle cx="318.3" cy="242.1" r="0.85"/><circle cx="335.5" cy="250.5" r="0.85"/><circle cx="328.3" cy="260.6" r="0.85"/><circle cx="322.5" cy="267.2" r="0.85"/><circle cx="318.3" cy="254.9" r="0.85"/><circle cx="323.6" cy="253.1" r="0.85"/><circle cx="329.9" cy="250.6" r="0.85"/><circle cx="330.8" cy="246.7" r="0.85"/><circle cx="352.5" cy="241.2" r="0.85"/><circle cx="326.2" cy="254.8" r="0.85"/><circle cx="313.7" cy="253.4" r="0.85"/><circle cx="324.3" cy="241.5" r="0.85"/><circle cx="317.5" cy="242.1" r="0.85"/><circle cx="324.2" cy="257.1" r="0.85"/><circle cx="329.5" cy="246.0" r="0.85"/><circle cx="316.4" cy="255.1" r="0.85"/><circle cx="338.2" cy="252.8" r="0.85"/><circle cx="315.8" cy="239.5" r="0.85"/><circle cx="313.6" cy="251.3" r="0.85"/><circle cx="325.0" cy="243.9" r="0.85"/><circle cx="342.9" cy="255.4" r="0.85"/><circle cx="340.6" cy="246.1" r="0.85"/><circle cx="338.6" cy="253.5" r="0.85"/><circle cx="331.9" cy="257.6" r="0.85"/><circle cx="336.9" cy="248.1" r="0.85"/><circle cx="340.1" cy="244.0" r="0.85"/><circle cx="340.0" cy="252.2" r="0.85"/><circle cx="337.5" cy="256.2" r="0.85"/><circle cx="333.3" cy="251.4" r="0.85"/><circle cx="352.5" cy="254.3" r="0.85"/><circle cx="325.7" cy="243.9" r="0.85"/><circle cx="320.6" cy="245.6" r="0.85"/><circle cx="330.8" cy="254.4" r="0.85"/><circle cx="323.7" cy="243.1" r="0.85"/><circle cx="317.6" cy="252.4" r="0.85"/><circle cx="339.9" cy="250.4" r="0.85"/><circle cx="323.5" cy="247.3" r="0.85"/><circle cx="315.0" cy="241.9" r="0.85"/><circle cx="330.0" cy="253.0" r="0.85"/><circle cx="337.1" cy="250.0" r="0.85"/><circle cx="315.6" cy="250.3" r="0.85"/><circle cx="333.8" cy="259.2" r="0.85"/><circle cx="331.3" cy="246.9" r="0.85"/><circle cx="323.9" cy="256.9" r="0.85"/><circle cx="344.1" cy="257.3" r="0.85"/><circle cx="329.2" cy="255.3" r="0.85"/><circle cx="341.8" cy="253.8" r="0.85"/><circle cx="344.3" cy="240.5" r="0.85"/><circle cx="329.1" cy="258.2" r="0.85"/><circle cx="314.4" cy="254.7" r="0.85"/><circle cx="341.7" cy="262.6" r="0.85"/><circle cx="317.0" cy="250.0" r="0.85"/><circle cx="332.8" cy="256.9" r="0.85"/><circle cx="314.5" cy="257.5" r="0.85"/><circle cx="324.1" cy="247.7" r="0.85"/><circle cx="314.8" cy="237.9" r="0.85"/><circle cx="342.2" cy="245.0" r="0.85"/><circle cx="347.9" cy="257.2" r="0.85"/><circle cx="315.8" cy="244.6" r="0.85"/><circle cx="325.9" cy="245.6" r="0.85"/><circle cx="322.2" cy="248.2" r="0.85"/><circle cx="316.2" cy="256.9" r="0.85"/><circle cx="325.5" cy="244.3" r="0.85"/><circle cx="332.3" cy="253.6" r="0.85"/><circle cx="338.7" cy="248.9" r="0.85"/><circle cx="322.8" cy="259.7" r="0.85"/><circle cx="351.4" cy="244.9" r="0.85"/><circle cx="328.8" cy="245.8" r="0.85"/><circle cx="327.6" cy="251.2" r="0.85"/><circle cx="351.6" cy="268.8" r="0.85"/><circle cx="349.8" cy="247.6" r="0.85"/><circle cx="333.1" cy="243.9" r="0.85"/><circle cx="330.7" cy="239.5" r="0.85"/><circle cx="350.3" cy="252.8" r="0.85"/><circle cx="327.9" cy="246.4" r="0.85"/><circle cx="341.1" cy="253.7" r="0.85"/><circle cx="321.2" cy="255.1" r="0.85"/><circle cx="317.8" cy="267.5" r="0.85"/><circle cx="346.3" cy="239.2" r="0.85"/><circle cx="333.7" cy="251.3" r="0.85"/><circle cx="331.2" cy="241.6" r="0.85"/><circle cx="334.3" cy="254.3" r="0.85"/><circle cx="327.3" cy="254.4" r="0.85"/><circle cx="327.8" cy="248.9" r="0.85"/><circle cx="323.0" cy="247.4" r="0.85"/><circle cx="348.5" cy="254.0" r="0.85"/><circle cx="344.7" cy="236.7" r="0.85"/><circle cx="321.3" cy="239.2" r="0.85"/><circle cx="345.8" cy="252.3" r="0.85"/><circle cx="322.6" cy="242.9" r="0.85"/><circle cx="313.9" cy="252.3" r="0.85"/><circle cx="323.2" cy="251.0" r="0.85"/><circle cx="331.4" cy="241.9" r="0.85"/><circle cx="336.3" cy="245.6" r="0.85"/><circle cx="316.9" cy="250.5" r="0.85"/><circle cx="343.2" cy="252.3" r="0.85"/><circle cx="344.3" cy="244.6" r="0.85"/><circle cx="346.6" cy="247.3" r="0.85"/><circle cx="352.2" cy="240.5" r="0.85"/><circle cx="315.1" cy="257.1" r="0.85"/><circle cx="344.6" cy="249.0" r="0.85"/><circle cx="343.0" cy="257.5" r="0.85"/><circle cx="317.1" cy="255.7" r="0.85"/><circle cx="342.8" cy="248.2" r="0.85"/><circle cx="324.4" cy="256.0" r="0.85"/><circle cx="345.9" cy="248.0" r="0.85"/><circle cx="343.1" cy="247.3" r="0.85"/><circle cx="320.9" cy="253.9" r="0.85"/><circle cx="344.1" cy="243.1" r="0.85"/><circle cx="338.1" cy="259.9" r="0.85"/><circle cx="332.1" cy="250.6" r="0.85"/><circle cx="337.1" cy="246.6" r="0.85"/><circle cx="325.7" cy="249.3" r="0.85"/><circle cx="345.5" cy="257.4" r="0.85"/><circle cx="341.0" cy="236.2" r="0.85"/><circle cx="333.7" cy="243.5" r="0.85"/><circle cx="339.5" cy="256.8" r="0.85"/><circle cx="351.2" cy="251.4" r="0.85"/><circle cx="324.6" cy="245.1" r="0.85"/><circle cx="315.3" cy="252.6" r="0.85"/><circle cx="329.3" cy="244.8" r="0.85"/><circle cx="315.6" cy="237.6" r="0.85"/><circle cx="324.6" cy="251.9" r="0.85"/><circle cx="343.2" cy="252.0" r="0.85"/><circle cx="337.3" cy="242.0" r="0.85"/><circle cx="323.5" cy="247.6" r="0.85"/><circle cx="352.2" cy="243.8" r="0.85"/><circle cx="334.1" cy="242.9" r="0.85"/><circle cx="338.5" cy="261.0" r="0.85"/><circle cx="327.2" cy="249.3" r="0.85"/><circle cx="321.0" cy="231.6" r="0.85"/><circle cx="332.0" cy="230.6" r="0.85"/><circle cx="322.1" cy="226.6" r="0.85"/><circle cx="323.0" cy="230.6" r="0.85"/><circle cx="337.4" cy="225.7" r="0.85"/><circle cx="328.9" cy="223.5" r="0.85"/></g>
<line x1="388.00" y1="225.50" x2="413.50" y2="225.50" stroke="#333" stroke-width="1.00"/>
<line x1="388.00" y1="265.50" x2="413.50" y2="265.50" stroke="#333" stroke-width="1.00"/>
<rect x="374.50" y="240.50" width="54.00" height="10.00" fill="none" stroke="#444" stroke-width="1.0"/>
<line x1="374.50" y1="245.70" x2="428.50" y2="245.70" stroke="#111" stroke-width="1.70"/>
<g fill="#3e3e8c" fill-opacity="0.40"><circle cx="389.4" cy="242.0" r="0.85"/><circle cx="408.6" cy="244.3" r="0.85"/><circle cx="396.4" cy="248.5" r="0.85"/><circle cx="399.1" cy="252.1" r="0.85"/><circle cx="397.1" cy="245.1" r="0.85"/><circle cx="419.9" cy="244.1" r="0.85"/><circle cx="396.9" cy="237.0" r="0.85"/><circle cx="390.0" cy="249.9" r="0.85"/><circle cx="406.6" cy="251.7" r="0.85"/><circle cx="385.2" cy="240.8" r="0.85"/><circle cx="405.1" cy="246.3" r="0.85"/><circle cx="394.8" cy="238.6" r="0.85"/><circle cx="397.2" cy="233.6" r="0.85"/><circle cx="396.3" cy="249.6" r="0.85"/><circle cx="405.9" cy="247.8" r="0.85"/><circle cx="413.3" cy="257.1" r="0.85"/><circle cx="417.6" cy="259.3" r="0.85"/><circle cx="395.6" cy="234.1" r="0.85"/><circle cx="394.2" cy="242.8" r="0.85"/><circle cx="395.7" cy="244.1" r="0.85"/><circle cx="398.5" cy="236.6" r="0.85"/><circle cx="403.5" cy="251.2" r="0.85"/><circle cx="392.8" cy="250.6" r="0.85"/><circle cx="387.7" cy="233.4" r="0.85"/><circle cx="402.0" cy="243.8" r="0.85"/><circle cx="401.0" cy="241.7" r="0.85"/><circle cx="420.3" cy="238.4" r="0.85"/><circle cx="389.6" cy="254.1" r="0.85"/><circle cx="408.8" cy="246.1" r="0.85"/><circle cx="396.3" cy="239.8" r="0.85"/><circle cx="390.7" cy="249.2" r="0.85"/><circle cx="412.7" cy="249.1" r="0.85"/><circle cx="403.6" cy="240.8" r="0.85"/><circle cx="399.4" cy="252.9" r="0.85"/><circle cx="402.3" cy="253.5" r="0.85"/><circle cx="420.6" cy="257.6" r="0.85"/><circle cx="391.5" cy="236.4" r="0.85"/><circle cx="385.4" cy="246.8" r="0.85"/><circle cx="408.5" cy="242.1" r="0.85"/><circle cx="388.0" cy="245.0" r="0.85"/><circle cx="384.5" cy="243.1" r="0.85"/><circle cx="415.7" cy="237.0" r="0.85"/><circle cx="419.9" cy="244.9" r="0.85"/><circle cx="412.4" cy="247.2" r="0.85"/><circle cx="396.4" cy="255.8" r="0.85"/><circle cx="399.6" cy="243.5" r="0.85"/><circle cx="393.1" cy="250.0" r="0.85"/><circle cx="391.9" cy="250.7" r="0.85"/><circle cx="396.2" cy="258.0" r="0.85"/><circle cx="403.4" cy="249.4" r="0.85"/><circle cx="387.3" cy="234.5" r="0.85"/><circle cx="419.1" cy="257.0" r="0.85"/><circle cx="394.2" cy="239.3" r="0.85"/><circle cx="414.2" cy="244.4" r="0.85"/><circle cx="396.1" cy="244.1" r="0.85"/><circle cx="408.9" cy="227.0" r="0.85"/><circle cx="412.6" cy="240.4" r="0.85"/><circle cx="414.5" cy="251.6" r="0.85"/><circle cx="417.3" cy="244.8" r="0.85"/><circle cx="381.1" cy="246.5" r="0.85"/><circle cx="401.0" cy="242.4" r="0.85"/><circle cx="398.6" cy="254.0" r="0.85"/><circle cx="412.5" cy="249.7" r="0.85"/><circle cx="389.9" cy="246.0" r="0.85"/><circle cx="402.1" cy="256.9" r="0.85"/><circle cx="381.7" cy="239.0" r="0.85"/><circle cx="392.0" cy="260.3" r="0.85"/><circle cx="392.6" cy="229.8" r="0.85"/><circle cx="413.4" cy="249.8" r="0.85"/><circle cx="396.4" cy="244.7" r="0.85"/><circle cx="383.6" cy="244.1" r="0.85"/><circle cx="395.9" cy="242.8" r="0.85"/><circle cx="382.7" cy="242.4" r="0.85"/><circle cx="415.1" cy="246.6" r="0.85"/><circle cx="384.4" cy="247.7" r="0.85"/><circle cx="384.2" cy="243.3" r="0.85"/><circle cx="407.3" cy="254.0" r="0.85"/><circle cx="392.4" cy="238.5" r="0.85"/><circle cx="404.2" cy="245.0" r="0.85"/><circle cx="385.4" cy="245.6" r="0.85"/><circle cx="417.9" cy="245.6" r="0.85"/><circle cx="389.4" cy="240.8" r="0.85"/><circle cx="398.8" cy="244.0" r="0.85"/><circle cx="391.6" cy="236.9" r="0.85"/><circle cx="414.8" cy="234.9" r="0.85"/><circle cx="420.0" cy="236.0" r="0.85"/><circle cx="395.1" cy="248.0" r="0.85"/><circle cx="392.5" cy="224.2" r="0.85"/><circle cx="383.2" cy="244.6" r="0.85"/><circle cx="410.9" cy="240.9" r="0.85"/><circle cx="391.6" cy="253.6" r="0.85"/><circle cx="409.8" cy="238.8" r="0.85"/><circle cx="398.9" cy="245.8" r="0.85"/><circle cx="381.2" cy="257.3" r="0.85"/><circle cx="384.3" cy="253.9" r="0.85"/><circle cx="396.9" cy="244.6" r="0.85"/><circle cx="418.2" cy="243.8" r="0.85"/><circle cx="389.3" cy="252.4" r="0.85"/><circle cx="404.4" cy="243.7" r="0.85"/><circle cx="405.2" cy="252.2" r="0.85"/><circle cx="411.0" cy="249.8" r="0.85"/><circle cx="412.6" cy="244.5" r="0.85"/><circle cx="386.1" cy="233.7" r="0.85"/><circle cx="397.4" cy="243.4" r="0.85"/><circle cx="411.6" cy="245.6" r="0.85"/><circle cx="385.1" cy="239.9" r="0.85"/><circle cx="387.5" cy="243.2" r="0.85"/><circle cx="419.1" cy="236.2" r="0.85"/><circle cx="405.3" cy="236.8" r="0.85"/><circle cx="403.6" cy="247.3" r="0.85"/><circle cx="396.1" cy="243.6" r="0.85"/><circle cx="389.8" cy="239.1" r="0.85"/><circle cx="417.8" cy="241.1" r="0.85"/><circle cx="390.3" cy="243.6" r="0.85"/><circle cx="409.8" cy="260.1" r="0.85"/><circle cx="398.2" cy="236.6" r="0.85"/><circle cx="386.9" cy="253.3" r="0.85"/><circle cx="409.9" cy="247.4" r="0.85"/><circle cx="384.0" cy="257.3" r="0.85"/><circle cx="417.6" cy="246.6" r="0.85"/><circle cx="387.4" cy="244.3" r="0.85"/><circle cx="417.6" cy="248.0" r="0.85"/><circle cx="413.0" cy="239.7" r="0.85"/><circle cx="404.2" cy="245.9" r="0.85"/><circle cx="397.6" cy="255.6" r="0.85"/><circle cx="386.7" cy="251.8" r="0.85"/><circle cx="390.7" cy="235.5" r="0.85"/><circle cx="398.1" cy="242.5" r="0.85"/><circle cx="391.3" cy="238.7" r="0.85"/><circle cx="402.1" cy="248.5" r="0.85"/><circle cx="391.1" cy="244.6" r="0.85"/><circle cx="400.3" cy="266.0" r="0.85"/><circle cx="381.3" cy="243.3" r="0.85"/><circle cx="406.7" cy="248.6" r="0.85"/><circle cx="386.4" cy="249.1" r="0.85"/><circle cx="401.0" cy="262.6" r="0.85"/><circle cx="395.7" cy="244.9" r="0.85"/><circle cx="416.9" cy="244.5" r="0.85"/><circle cx="417.0" cy="242.8" r="0.85"/><circle cx="391.9" cy="249.1" r="0.85"/><circle cx="417.0" cy="245.1" r="0.85"/><circle cx="401.5" cy="240.6" r="0.85"/><circle cx="400.5" cy="245.2" r="0.85"/><circle cx="411.4" cy="224.7" r="0.85"/><circle cx="402.4" cy="237.9" r="0.85"/><circle cx="417.2" cy="252.8" r="0.85"/><circle cx="405.0" cy="253.6" r="0.85"/><circle cx="416.3" cy="241.1" r="0.85"/><circle cx="413.5" cy="251.9" r="0.85"/><circle cx="391.2" cy="235.0" r="0.85"/><circle cx="406.9" cy="254.8" r="0.85"/><circle cx="400.6" cy="256.7" r="0.85"/><circle cx="397.6" cy="246.8" r="0.85"/><circle cx="390.5" cy="242.4" r="0.85"/><circle cx="414.6" cy="248.0" r="0.85"/><circle cx="412.9" cy="255.2" r="0.85"/><circle cx="387.4" cy="243.2" r="0.85"/><circle cx="397.9" cy="246.0" r="0.85"/><circle cx="394.7" cy="245.7" r="0.85"/><circle cx="387.0" cy="248.2" r="0.85"/><circle cx="405.8" cy="250.3" r="0.85"/><circle cx="383.7" cy="250.3" r="0.85"/><circle cx="387.9" cy="239.4" r="0.85"/><circle cx="385.0" cy="238.4" r="0.85"/><circle cx="401.0" cy="244.6" r="0.85"/><circle cx="385.3" cy="239.9" r="0.85"/><circle cx="384.4" cy="251.8" r="0.85"/><circle cx="401.1" cy="250.4" r="0.85"/><circle cx="386.2" cy="236.7" r="0.85"/><circle cx="406.3" cy="248.8" r="0.85"/><circle cx="381.4" cy="247.5" r="0.85"/><circle cx="402.2" cy="248.0" r="0.85"/><circle cx="385.8" cy="250.4" r="0.85"/><circle cx="416.8" cy="251.7" r="0.85"/><circle cx="413.2" cy="253.4" r="0.85"/><circle cx="399.0" cy="239.4" r="0.85"/><circle cx="413.7" cy="242.1" r="0.85"/><circle cx="408.4" cy="254.7" r="0.85"/><circle cx="386.6" cy="250.5" r="0.85"/><circle cx="400.2" cy="248.7" r="0.85"/><circle cx="407.2" cy="252.5" r="0.85"/><circle cx="410.3" cy="244.5" r="0.85"/><circle cx="399.0" cy="247.6" r="0.85"/><circle cx="417.6" cy="235.2" r="0.85"/><circle cx="411.6" cy="242.1" r="0.85"/><circle cx="406.5" cy="261.0" r="0.85"/><circle cx="410.5" cy="239.4" r="0.85"/><circle cx="413.3" cy="248.9" r="0.85"/><circle cx="409.4" cy="249.7" r="0.85"/><circle cx="404.2" cy="253.0" r="0.85"/><circle cx="394.3" cy="235.2" r="0.85"/><circle cx="387.9" cy="243.6" r="0.85"/><circle cx="400.8" cy="242.5" r="0.85"/><circle cx="392.0" cy="236.2" r="0.85"/><circle cx="406.3" cy="251.2" r="0.85"/><circle cx="405.7" cy="258.5" r="0.85"/><circle cx="409.2" cy="250.8" r="0.85"/><circle cx="417.3" cy="236.9" r="0.85"/><circle cx="416.5" cy="238.2" r="0.85"/><circle cx="410.8" cy="244.2" r="0.85"/><circle cx="382.0" cy="244.0" r="0.85"/><circle cx="409.7" cy="249.4" r="0.85"/><circle cx="389.4" cy="239.2" r="0.85"/><circle cx="398.7" cy="251.6" r="0.85"/><circle cx="386.2" cy="234.4" r="0.85"/><circle cx="389.1" cy="248.5" r="0.85"/><circle cx="391.0" cy="256.1" r="0.85"/><circle cx="416.5" cy="241.2" r="0.85"/><circle cx="397.6" cy="247.9" r="0.85"/><circle cx="386.6" cy="246.7" r="0.85"/><circle cx="397.7" cy="244.5" r="0.85"/><circle cx="396.1" cy="250.2" r="0.85"/><circle cx="420.6" cy="246.8" r="0.85"/><circle cx="415.4" cy="231.4" r="0.85"/><circle cx="417.3" cy="252.0" r="0.85"/><circle cx="415.3" cy="244.2" r="0.85"/><circle cx="401.5" cy="235.5" r="0.85"/><circle cx="409.7" cy="228.4" r="0.85"/><circle cx="388.2" cy="232.9" r="0.85"/><circle cx="416.9" cy="245.9" r="0.85"/><circle cx="414.9" cy="237.1" r="0.85"/><circle cx="392.5" cy="237.6" r="0.85"/><circle cx="419.8" cy="251.1" r="0.85"/><circle cx="390.7" cy="251.2" r="0.85"/><circle cx="417.8" cy="236.1" r="0.85"/><circle cx="393.0" cy="237.0" r="0.85"/><circle cx="416.4" cy="231.4" r="0.85"/><circle cx="408.9" cy="250.6" r="0.85"/><circle cx="403.1" cy="236.1" r="0.85"/><circle cx="388.7" cy="223.9" r="0.85"/><circle cx="418.8" cy="243.2" r="0.85"/><circle cx="382.7" cy="243.7" r="0.85"/><circle cx="414.7" cy="250.2" r="0.85"/><circle cx="388.3" cy="246.1" r="0.85"/><circle cx="394.6" cy="240.4" r="0.85"/><circle cx="419.9" cy="251.8" r="0.85"/><circle cx="392.0" cy="251.8" r="0.85"/><circle cx="411.2" cy="254.6" r="0.85"/><circle cx="391.3" cy="249.7" r="0.85"/><circle cx="419.3" cy="240.0" r="0.85"/><circle cx="382.1" cy="254.2" r="0.85"/><circle cx="418.6" cy="233.9" r="0.85"/><circle cx="410.7" cy="232.5" r="0.85"/><circle cx="383.4" cy="245.4" r="0.85"/><circle cx="389.0" cy="237.9" r="0.85"/><circle cx="416.6" cy="241.9" r="0.85"/><circle cx="383.9" cy="239.3" r="0.85"/><circle cx="407.0" cy="250.2" r="0.85"/><circle cx="382.9" cy="247.5" r="0.85"/><circle cx="387.9" cy="245.6" r="0.85"/><circle cx="420.4" cy="239.4" r="0.85"/><circle cx="392.2" cy="248.9" r="0.85"/><circle cx="406.7" cy="233.3" r="0.85"/><circle cx="405.2" cy="253.5" r="0.85"/><circle cx="417.9" cy="255.1" r="0.85"/><circle cx="402.2" cy="246.8" r="0.85"/><circle cx="391.2" cy="248.2" r="0.85"/><circle cx="419.9" cy="243.0" r="0.85"/><circle cx="402.0" cy="250.5" r="0.85"/><circle cx="382.4" cy="248.5" r="0.85"/><circle cx="393.3" cy="232.2" r="0.85"/><circle cx="382.2" cy="255.3" r="0.85"/><circle cx="411.6" cy="237.1" r="0.85"/><circle cx="389.4" cy="254.6" r="0.85"/><circle cx="382.3" cy="242.4" r="0.85"/><circle cx="420.3" cy="244.1" r="0.85"/><circle cx="416.6" cy="240.9" r="0.85"/><circle cx="404.9" cy="244.5" r="0.85"/><circle cx="389.5" cy="244.3" r="0.85"/><circle cx="412.7" cy="250.0" r="0.85"/><circle cx="383.8" cy="246.1" r="0.85"/><circle cx="404.3" cy="253.1" r="0.85"/><circle cx="399.1" cy="254.4" r="0.85"/><circle cx="412.3" cy="260.5" r="0.85"/><circle cx="388.7" cy="234.6" r="0.85"/><circle cx="395.6" cy="247.3" r="0.85"/><circle cx="418.5" cy="238.8" r="0.85"/><circle cx="394.4" cy="241.4" r="0.85"/><circle cx="409.9" cy="241.3" r="0.85"/><circle cx="392.3" cy="234.4" r="0.85"/><circle cx="414.1" cy="250.6" r="0.85"/><circle cx="386.6" cy="247.8" r="0.85"/><circle cx="411.7" cy="249.7" r="0.85"/><circle cx="408.0" cy="242.7" r="0.85"/><circle cx="390.4" cy="231.5" r="0.85"/><circle cx="400.9" cy="251.8" r="0.85"/><circle cx="405.0" cy="245.9" r="0.85"/><circle cx="391.4" cy="247.0" r="0.85"/><circle cx="398.7" cy="240.4" r="0.85"/><circle cx="408.4" cy="247.4" r="0.85"/><circle cx="397.0" cy="255.1" r="0.85"/><circle cx="382.9" cy="253.1" r="0.85"/><circle cx="413.9" cy="251.5" r="0.85"/><circle cx="408.2" cy="252.0" r="0.85"/><circle cx="412.1" cy="236.7" r="0.85"/><circle cx="414.5" cy="237.6" r="0.85"/><circle cx="387.5" cy="240.1" r="0.85"/><circle cx="390.4" cy="248.4" r="0.85"/><circle cx="396.7" cy="247.3" r="0.85"/><circle cx="392.7" cy="231.8" r="0.85"/><circle cx="391.8" cy="239.9" r="0.85"/><circle cx="416.8" cy="247.8" r="0.85"/><circle cx="404.6" cy="241.2" r="0.85"/><circle cx="388.9" cy="249.9" r="0.85"/><circle cx="389.2" cy="247.5" r="0.85"/><circle cx="381.3" cy="257.3" r="0.85"/><circle cx="415.6" cy="247.6" r="0.85"/><circle cx="415.5" cy="247.0" r="0.85"/><circle cx="415.3" cy="246.3" r="0.85"/><circle cx="396.0" cy="238.7" r="0.85"/><circle cx="402.2" cy="254.0" r="0.85"/><circle cx="394.2" cy="247.6" r="0.85"/><circle cx="409.5" cy="248.3" r="0.85"/><circle cx="417.2" cy="250.2" r="0.85"/><circle cx="402.0" cy="246.8" r="0.85"/><circle cx="391.7" cy="236.3" r="0.85"/><circle cx="391.6" cy="246.2" r="0.85"/><circle cx="385.7" cy="232.9" r="0.85"/><circle cx="386.5" cy="251.5" r="0.85"/><circle cx="402.5" cy="248.8" r="0.85"/><circle cx="394.9" cy="236.0" r="0.85"/><circle cx="418.1" cy="250.0" r="0.85"/><circle cx="393.0" cy="219.0" r="0.85"/><circle cx="400.4" cy="231.1" r="0.85"/><circle cx="405.8" cy="249.5" r="0.85"/><circle cx="403.0" cy="228.9" r="0.85"/><circle cx="395.1" cy="244.2" r="0.85"/><circle cx="386.2" cy="247.9" r="0.85"/><circle cx="384.8" cy="250.0" r="0.85"/><circle cx="420.1" cy="232.2" r="0.85"/><circle cx="399.2" cy="240.8" r="0.85"/><circle cx="401.9" cy="247.8" r="0.85"/><circle cx="397.8" cy="259.2" r="0.85"/><circle cx="397.2" cy="244.9" r="0.85"/><circle cx="420.9" cy="229.6" r="0.85"/><circle cx="400.3" cy="232.4" r="0.85"/><circle cx="398.0" cy="251.3" r="0.85"/><circle cx="389.1" cy="238.9" r="0.85"/><circle cx="391.3" cy="246.5" r="0.85"/><circle cx="411.9" cy="239.2" r="0.85"/><circle cx="393.1" cy="253.1" r="0.85"/><circle cx="385.6" cy="247.9" r="0.85"/><circle cx="409.2" cy="232.1" r="0.85"/><circle cx="405.4" cy="249.2" r="0.85"/><circle cx="414.3" cy="252.5" r="0.85"/><circle cx="412.4" cy="236.2" r="0.85"/><circle cx="387.8" cy="239.6" r="0.85"/><circle cx="383.2" cy="246.4" r="0.85"/><circle cx="391.1" cy="244.4" r="0.85"/><circle cx="397.0" cy="241.9" r="0.85"/><circle cx="415.7" cy="233.9" r="0.85"/><circle cx="418.2" cy="244.9" r="0.85"/><circle cx="385.9" cy="250.6" r="0.85"/><circle cx="394.2" cy="258.9" r="0.85"/><circle cx="404.0" cy="255.7" r="0.85"/><circle cx="400.6" cy="259.1" r="0.85"/><circle cx="390.8" cy="250.8" r="0.85"/><circle cx="411.8" cy="247.1" r="0.85"/><circle cx="386.5" cy="250.7" r="0.85"/><circle cx="402.4" cy="243.5" r="0.85"/><circle cx="409.6" cy="254.0" r="0.85"/><circle cx="390.0" cy="251.0" r="0.85"/><circle cx="397.0" cy="251.5" r="0.85"/><circle cx="398.9" cy="242.4" r="0.85"/><circle cx="385.9" cy="248.6" r="0.85"/><circle cx="410.1" cy="237.6" r="0.85"/><circle cx="406.5" cy="236.6" r="0.85"/><circle cx="401.5" cy="250.4" r="0.85"/><circle cx="402.3" cy="259.3" r="0.85"/><circle cx="399.3" cy="245.2" r="0.85"/><circle cx="420.2" cy="252.0" r="0.85"/><circle cx="397.2" cy="246.8" r="0.85"/><circle cx="405.0" cy="241.8" r="0.85"/><circle cx="391.9" cy="246.3" r="0.85"/><circle cx="396.9" cy="251.2" r="0.85"/><circle cx="406.7" cy="232.4" r="0.85"/><circle cx="387.2" cy="252.8" r="0.85"/><circle cx="415.2" cy="232.6" r="0.85"/><circle cx="396.8" cy="250.2" r="0.85"/><circle cx="391.3" cy="253.0" r="0.85"/><circle cx="409.9" cy="238.7" r="0.85"/><circle cx="401.9" cy="240.8" r="0.85"/><circle cx="410.6" cy="226.3" r="0.85"/><circle cx="419.8" cy="241.8" r="0.85"/><circle cx="416.3" cy="250.1" r="0.85"/><circle cx="414.4" cy="251.0" r="0.85"/><circle cx="397.5" cy="240.2" r="0.85"/><circle cx="418.9" cy="246.9" r="0.85"/><circle cx="387.9" cy="249.4" r="0.85"/><circle cx="393.1" cy="238.9" r="0.85"/><circle cx="399.4" cy="248.9" r="0.85"/><circle cx="382.4" cy="240.5" r="0.85"/><circle cx="383.2" cy="252.2" r="0.85"/><circle cx="400.3" cy="253.5" r="0.85"/><circle cx="418.8" cy="239.2" r="0.85"/><circle cx="415.4" cy="244.0" r="0.85"/><circle cx="383.4" cy="245.8" r="0.85"/><circle cx="404.0" cy="248.9" r="0.85"/><circle cx="386.3" cy="239.7" r="0.85"/><circle cx="411.4" cy="237.0" r="0.85"/><circle cx="386.1" cy="243.5" r="0.85"/><circle cx="403.2" cy="234.4" r="0.85"/><circle cx="417.1" cy="240.1" r="0.85"/><circle cx="384.0" cy="248.5" r="0.85"/><circle cx="397.6" cy="239.5" r="0.85"/><circle cx="394.8" cy="248.2" r="0.85"/><circle cx="383.9" cy="237.6" r="0.85"/><circle cx="400.0" cy="246.4" r="0.85"/><circle cx="383.0" cy="246.6" r="0.85"/><circle cx="396.2" cy="245.4" r="0.85"/><circle cx="386.5" cy="245.8" r="0.85"/><circle cx="417.1" cy="224.1" r="0.85"/><circle cx="402.7" cy="239.6" r="0.85"/><circle cx="419.2" cy="242.8" r="0.85"/><circle cx="383.0" cy="238.3" r="0.85"/><circle cx="386.9" cy="248.2" r="0.85"/><circle cx="392.9" cy="234.3" r="0.85"/><circle cx="387.5" cy="233.9" r="0.85"/><circle cx="390.9" cy="231.5" r="0.85"/><circle cx="420.9" cy="240.4" r="0.85"/><circle cx="388.3" cy="244.5" r="0.85"/><circle cx="409.5" cy="249.6" r="0.85"/><circle cx="390.5" cy="243.3" r="0.85"/><circle cx="386.7" cy="246.9" r="0.85"/><circle cx="397.7" cy="250.2" r="0.85"/><circle cx="390.5" cy="242.6" r="0.85"/><circle cx="391.7" cy="240.6" r="0.85"/><circle cx="397.7" cy="246.7" r="0.85"/><circle cx="384.6" cy="247.5" r="0.85"/><circle cx="381.2" cy="244.5" r="0.85"/><circle cx="400.2" cy="243.4" r="0.85"/><circle cx="416.6" cy="240.6" r="0.85"/><circle cx="397.1" cy="241.2" r="0.85"/><circle cx="398.1" cy="244.6" r="0.85"/><circle cx="387.3" cy="247.6" r="0.85"/><circle cx="386.7" cy="247.2" r="0.85"/><circle cx="385.1" cy="251.3" r="0.85"/><circle cx="405.6" cy="248.1" r="0.85"/><circle cx="408.7" cy="253.1" r="0.85"/><circle cx="400.9" cy="244.9" r="0.85"/><circle cx="398.9" cy="231.8" r="0.85"/><circle cx="389.5" cy="255.3" r="0.85"/><circle cx="395.7" cy="248.3" r="0.85"/><circle cx="392.6" cy="249.2" r="0.85"/><circle cx="416.7" cy="247.8" r="0.85"/><circle cx="399.9" cy="252.9" r="0.85"/><circle cx="390.9" cy="233.1" r="0.85"/><circle cx="390.0" cy="249.3" r="0.85"/><circle cx="404.9" cy="241.9" r="0.85"/><circle cx="418.5" cy="237.5" r="0.85"/><circle cx="419.3" cy="247.2" r="0.85"/><circle cx="415.5" cy="254.8" r="0.85"/><circle cx="390.0" cy="240.1" r="0.85"/><circle cx="382.9" cy="260.3" r="0.85"/><circle cx="402.7" cy="247.7" r="0.85"/><circle cx="416.3" cy="250.3" r="0.85"/><circle cx="419.8" cy="244.2" r="0.85"/><circle cx="392.0" cy="247.9" r="0.85"/><circle cx="420.8" cy="250.4" r="0.85"/><circle cx="418.6" cy="240.2" r="0.85"/><circle cx="413.9" cy="251.7" r="0.85"/><circle cx="413.2" cy="250.6" r="0.85"/><circle cx="390.3" cy="241.1" r="0.85"/><circle cx="401.5" cy="253.9" r="0.85"/><circle cx="415.9" cy="241.3" r="0.85"/><circle cx="388.8" cy="227.9" r="0.85"/><circle cx="403.8" cy="244.9" r="0.85"/><circle cx="412.8" cy="248.2" r="0.85"/><circle cx="408.6" cy="237.6" r="0.85"/><circle cx="408.7" cy="236.7" r="0.85"/><circle cx="413.4" cy="248.6" r="0.85"/><circle cx="416.3" cy="251.9" r="0.85"/><circle cx="408.0" cy="245.1" r="0.85"/><circle cx="403.0" cy="248.6" r="0.85"/><circle cx="399.7" cy="240.9" r="0.85"/><circle cx="391.2" cy="249.1" r="0.85"/><circle cx="381.3" cy="233.8" r="0.85"/><circle cx="385.3" cy="251.2" r="0.85"/><circle cx="412.0" cy="252.5" r="0.85"/><circle cx="394.8" cy="253.3" r="0.85"/><circle cx="405.6" cy="249.8" r="0.85"/><circle cx="398.2" cy="244.7" r="0.85"/><circle cx="390.3" cy="251.6" r="0.85"/><circle cx="413.5" cy="236.4" r="0.85"/><circle cx="403.0" cy="252.7" r="0.85"/><circle cx="390.2" cy="243.5" r="0.85"/><circle cx="415.5" cy="255.2" r="0.85"/><circle cx="417.7" cy="248.6" r="0.85"/><circle cx="385.0" cy="249.8" r="0.85"/><circle cx="388.6" cy="236.1" r="0.85"/><circle cx="417.6" cy="252.5" r="0.85"/><circle cx="404.6" cy="249.6" r="0.85"/><circle cx="386.7" cy="250.7" r="0.85"/><circle cx="392.2" cy="237.3" r="0.85"/><circle cx="387.9" cy="241.4" r="0.85"/><circle cx="392.0" cy="253.0" r="0.85"/><circle cx="405.1" cy="238.8" r="0.85"/><circle cx="393.9" cy="241.6" r="0.85"/><circle cx="381.6" cy="256.2" r="0.85"/><circle cx="407.2" cy="254.6" r="0.85"/><circle cx="382.9" cy="242.6" r="0.85"/><circle cx="382.4" cy="246.6" r="0.85"/><circle cx="397.9" cy="240.7" r="0.85"/><circle cx="407.1" cy="242.7" r="0.85"/><circle cx="408.3" cy="239.8" r="0.85"/><circle cx="417.5" cy="237.8" r="0.85"/><circle cx="408.4" cy="247.0" r="0.85"/><circle cx="415.9" cy="238.6" r="0.85"/><circle cx="412.3" cy="228.8" r="0.85"/><circle cx="419.3" cy="245.7" r="0.85"/><circle cx="389.4" cy="255.4" r="0.85"/><circle cx="385.7" cy="235.2" r="0.85"/><circle cx="392.8" cy="258.9" r="0.85"/><circle cx="393.4" cy="262.2" r="0.85"/><circle cx="411.3" cy="235.6" r="0.85"/><circle cx="395.1" cy="246.8" r="0.85"/><circle cx="381.4" cy="243.1" r="0.85"/><circle cx="383.5" cy="242.7" r="0.85"/><circle cx="415.4" cy="249.9" r="0.85"/><circle cx="398.9" cy="250.2" r="0.85"/><circle cx="395.9" cy="238.3" r="0.85"/><circle cx="394.6" cy="252.5" r="0.85"/><circle cx="419.0" cy="247.8" r="0.85"/><circle cx="419.9" cy="248.4" r="0.85"/><circle cx="398.7" cy="244.2" r="0.85"/><circle cx="414.4" cy="247.1" r="0.85"/><circle cx="389.2" cy="247.7" r="0.85"/><circle cx="384.4" cy="244.9" r="0.85"/><circle cx="420.5" cy="233.1" r="0.85"/><circle cx="383.0" cy="241.5" r="0.85"/><circle cx="388.1" cy="232.1" r="0.85"/><circle cx="384.2" cy="257.1" r="0.85"/><circle cx="383.8" cy="243.9" r="0.85"/><circle cx="388.5" cy="243.0" r="0.85"/><circle cx="398.4" cy="241.6" r="0.85"/><circle cx="387.0" cy="252.0" r="0.85"/><circle cx="402.7" cy="249.8" r="0.85"/><circle cx="414.9" cy="251.8" r="0.85"/><circle cx="383.9" cy="245.8" r="0.85"/><circle cx="403.1" cy="248.7" r="0.85"/><circle cx="419.8" cy="250.7" r="0.85"/><circle cx="407.0" cy="240.4" r="0.85"/><circle cx="389.1" cy="236.2" r="0.85"/><circle cx="408.4" cy="248.5" r="0.85"/><circle cx="414.6" cy="245.1" r="0.85"/><circle cx="394.8" cy="248.6" r="0.85"/><circle cx="415.0" cy="254.7" r="0.85"/><circle cx="387.7" cy="248.2" r="0.85"/><circle cx="389.2" cy="252.9" r="0.85"/><circle cx="401.3" cy="247.2" r="0.85"/><circle cx="398.1" cy="245.6" r="0.85"/><circle cx="389.1" cy="250.0" r="0.85"/><circle cx="418.9" cy="253.2" r="0.85"/><circle cx="399.8" cy="234.1" r="0.85"/><circle cx="415.4" cy="241.2" r="0.85"/><circle cx="419.7" cy="243.2" r="0.85"/><circle cx="417.7" cy="249.2" r="0.85"/><circle cx="405.2" cy="248.4" r="0.85"/><circle cx="412.6" cy="242.7" r="0.85"/><circle cx="385.7" cy="247.9" r="0.85"/><circle cx="395.5" cy="248.1" r="0.85"/><circle cx="397.6" cy="235.4" r="0.85"/><circle cx="398.2" cy="229.9" r="0.85"/><circle cx="404.1" cy="239.0" r="0.85"/><circle cx="391.6" cy="249.1" r="0.85"/><circle cx="381.2" cy="245.2" r="0.85"/><circle cx="413.0" cy="256.1" r="0.85"/><circle cx="408.4" cy="238.0" r="0.85"/><circle cx="388.6" cy="248.1" r="0.85"/><circle cx="390.7" cy="254.4" r="0.85"/><circle cx="397.2" cy="245.6" r="0.85"/><circle cx="402.4" cy="239.0" r="0.85"/><circle cx="397.7" cy="246.0" r="0.85"/><circle cx="398.2" cy="256.7" r="0.85"/><circle cx="392.5" cy="235.7" r="0.85"/><circle cx="399.2" cy="248.5" r="0.85"/><circle cx="386.4" cy="261.5" r="0.85"/><circle cx="400.3" cy="252.9" r="0.85"/><circle cx="399.4" cy="246.2" r="0.85"/><circle cx="381.6" cy="250.1" r="0.85"/><circle cx="400.0" cy="251.9" r="0.85"/><circle cx="393.1" cy="251.1" r="0.85"/><circle cx="394.9" cy="247.6" r="0.85"/><circle cx="385.1" cy="241.1" r="0.85"/><circle cx="402.3" cy="242.4" r="0.85"/><circle cx="409.4" cy="253.3" r="0.85"/><circle cx="406.5" cy="246.4" r="0.85"/><circle cx="416.8" cy="240.1" r="0.85"/><circle cx="407.5" cy="231.5" r="0.85"/><circle cx="390.0" cy="249.9" r="0.85"/><circle cx="400.5" cy="233.3" r="0.85"/><circle cx="418.0" cy="259.2" r="0.85"/><circle cx="395.3" cy="250.0" r="0.85"/><circle cx="402.7" cy="246.8" r="0.85"/><circle cx="400.8" cy="241.1" r="0.85"/><circle cx="381.6" cy="261.5" r="0.85"/><circle cx="389.8" cy="249.4" r="0.85"/><circle cx="398.1" cy="256.7" r="0.85"/><circle cx="401.3" cy="256.1" r="0.85"/><circle cx="415.2" cy="244.5" r="0.85"/><circle cx="390.9" cy="252.9" r="0.85"/><circle cx="404.6" cy="242.9" r="0.85"/><circle cx="404.4" cy="235.6" r="0.85"/><circle cx="393.4" cy="246.9" r="0.85"/><circle cx="387.7" cy="245.2" r="0.85"/><circle cx="407.7" cy="258.1" r="0.85"/><circle cx="390.9" cy="243.1" r="0.85"/><circle cx="418.7" cy="235.7" r="0.85"/><circle cx="406.9" cy="248.0" r="0.85"/><circle cx="405.7" cy="255.8" r="0.85"/><circle cx="393.6" cy="233.9" r="0.85"/><circle cx="416.7" cy="240.8" r="0.85"/><circle cx="387.3" cy="254.7" r="0.85"/><circle cx="406.5" cy="237.6" r="0.85"/><circle cx="407.6" cy="265.6" r="0.85"/><circle cx="396.5" cy="248.8" r="0.85"/><circle cx="410.9" cy="244.8" r="0.85"/><circle cx="406.9" cy="252.9" r="0.85"/><circle cx="385.7" cy="246.5" r="0.85"/><circle cx="421.0" cy="253.2" r="0.85"/><circle cx="402.7" cy="251.1" r="0.85"/><circle cx="386.0" cy="253.5" r="0.85"/><circle cx="405.7" cy="241.5" r="0.85"/><circle cx="391.5" cy="249.0" r="0.85"/><circle cx="382.4" cy="250.4" r="0.85"/><circle cx="389.1" cy="237.7" r="0.85"/><circle cx="411.4" cy="245.9" r="0.85"/><circle cx="386.7" cy="247.8" r="0.85"/><circle cx="408.5" cy="253.3" r="0.85"/><circle cx="393.6" cy="246.6" r="0.85"/><circle cx="395.5" cy="248.9" r="0.85"/><circle cx="396.2" cy="247.1" r="0.85"/><circle cx="394.6" cy="240.0" r="0.85"/><circle cx="410.8" cy="246.2" r="0.85"/><circle cx="419.9" cy="247.5" r="0.85"/><circle cx="417.6" cy="243.1" r="0.85"/><circle cx="399.4" cy="250.6" r="0.85"/><circle cx="389.4" cy="248.8" r="0.85"/><circle cx="409.5" cy="229.5" r="0.85"/><circle cx="397.0" cy="253.9" r="0.85"/><circle cx="388.4" cy="229.8" r="0.85"/><circle cx="407.7" cy="254.6" r="0.85"/><circle cx="412.8" cy="262.5" r="0.85"/><circle cx="397.4" cy="245.3" r="0.85"/><circle cx="383.5" cy="239.0" r="0.85"/><circle cx="401.5" cy="252.1" r="0.85"/><circle cx="415.1" cy="249.0" r="0.85"/><circle cx="404.1" cy="245.1" r="0.85"/><circle cx="403.3" cy="250.2" r="0.85"/><circle cx="401.4" cy="249.0" r="0.85"/><circle cx="399.6" cy="242.9" r="0.85"/><circle cx="398.9" cy="242.0" r="0.85"/><circle cx="396.3" cy="248.6" r="0.85"/><circle cx="402.7" cy="247.7" r="0.85"/><circle cx="402.1" cy="251.1" r="0.85"/><circle cx="418.6" cy="238.4" r="0.85"/><circle cx="382.4" cy="246.4" r="0.85"/><circle cx="401.7" cy="243.5" r="0.85"/><circle cx="400.0" cy="248.4" r="0.85"/><circle cx="405.6" cy="237.9" r="0.85"/><circle cx="406.3" cy="254.2" r="0.85"/><circle cx="383.5" cy="253.3" r="0.85"/><circle cx="405.2" cy="248.1" r="0.85"/><circle cx="403.3" cy="246.5" r="0.85"/><circle cx="409.7" cy="251.6" r="0.85"/><circle cx="396.9" cy="240.0" r="0.85"/><circle cx="406.2" cy="244.7" r="0.85"/><circle cx="400.2" cy="256.6" r="0.85"/><circle cx="413.1" cy="245.9" r="0.85"/><circle cx="420.5" cy="255.2" r="0.85"/><circle cx="399.7" cy="241.3" r="0.85"/><circle cx="391.6" cy="243.3" r="0.85"/><circle cx="393.9" cy="237.7" r="0.85"/><circle cx="385.7" cy="235.8" r="0.85"/><circle cx="411.8" cy="237.9" r="0.85"/><circle cx="387.1" cy="248.3" r="0.85"/><circle cx="386.2" cy="254.6" r="0.85"/><circle cx="416.5" cy="253.9" r="0.85"/><circle cx="391.5" cy="240.7" r="0.85"/><circle cx="403.5" cy="246.3" r="0.85"/><circle cx="407.0" cy="238.4" r="0.85"/><circle cx="405.1" cy="255.1" r="0.85"/><circle cx="407.8" cy="238.2" r="0.85"/><circle cx="402.8" cy="252.5" r="0.85"/><circle cx="408.6" cy="238.8" r="0.85"/><circle cx="393.4" cy="252.2" r="0.85"/><circle cx="389.9" cy="250.9" r="0.85"/><circle cx="419.8" cy="248.2" r="0.85"/><circle cx="394.3" cy="259.3" r="0.85"/><circle cx="388.7" cy="239.5" r="0.85"/><circle cx="420.7" cy="242.4" r="0.85"/><circle cx="405.7" cy="250.2" r="0.85"/><circle cx="385.5" cy="249.0" r="0.85"/><circle cx="400.7" cy="238.8" r="0.85"/><circle cx="407.9" cy="244.5" r="0.85"/><circle cx="398.8" cy="249.9" r="0.85"/><circle cx="391.3" cy="234.8" r="0.85"/><circle cx="414.2" cy="250.4" r="0.85"/><circle cx="382.1" cy="246.6" r="0.85"/><circle cx="419.1" cy="230.7" r="0.85"/><circle cx="420.6" cy="242.3" r="0.85"/><circle cx="384.7" cy="246.8" r="0.85"/><circle cx="409.0" cy="244.7" r="0.85"/><circle cx="412.7" cy="233.1" r="0.85"/><circle cx="411.7" cy="254.7" r="0.85"/><circle cx="400.9" cy="244.8" r="0.85"/><circle cx="384.0" cy="249.5" r="0.85"/><circle cx="402.7" cy="240.6" r="0.85"/><circle cx="402.2" cy="244.9" r="0.85"/><circle cx="384.2" cy="241.9" r="0.85"/><circle cx="387.1" cy="254.9" r="0.85"/><circle cx="401.9" cy="254.7" r="0.85"/><circle cx="389.5" cy="255.7" r="0.85"/><circle cx="418.3" cy="260.3" r="0.85"/><circle cx="392.3" cy="235.5" r="0.85"/><circle cx="408.3" cy="261.4" r="0.85"/><circle cx="408.7" cy="253.1" r="0.85"/><circle cx="382.5" cy="247.7" r="0.85"/><circle cx="394.9" cy="248.0" r="0.85"/><circle cx="418.5" cy="247.1" r="0.85"/><circle cx="413.4" cy="238.8" r="0.85"/><circle cx="381.4" cy="238.1" r="0.85"/><circle cx="384.0" cy="243.5" r="0.85"/><circle cx="417.8" cy="231.2" r="0.85"/><circle cx="406.6" cy="223.6" r="0.85"/><circle cx="405.8" cy="250.8" r="0.85"/><circle cx="416.9" cy="251.0" r="0.85"/><circle cx="403.3" cy="240.0" r="0.85"/><circle cx="395.3" cy="238.9" r="0.85"/><circle cx="381.5" cy="246.5" r="0.85"/><circle cx="384.7" cy="249.8" r="0.85"/><circle cx="383.2" cy="246.4" r="0.85"/><circle cx="408.9" cy="219.5" r="0.85"/><circle cx="414.2" cy="248.9" r="0.85"/><circle cx="396.2" cy="257.9" r="0.85"/><circle cx="415.2" cy="246.1" r="0.85"/><circle cx="402.1" cy="251.2" r="0.85"/><circle cx="389.9" cy="245.0" r="0.85"/><circle cx="412.6" cy="256.2" r="0.85"/><circle cx="420.3" cy="241.5" r="0.85"/><circle cx="399.8" cy="239.6" r="0.85"/><circle cx="404.4" cy="230.8" r="0.85"/><circle cx="403.7" cy="235.9" r="0.85"/><circle cx="419.5" cy="237.1" r="0.85"/><circle cx="382.2" cy="246.7" r="0.85"/><circle cx="394.0" cy="244.5" r="0.85"/><circle cx="398.6" cy="245.8" r="0.85"/><circle cx="385.6" cy="243.9" r="0.85"/><circle cx="417.6" cy="259.1" r="0.85"/><circle cx="385.6" cy="237.8" r="0.85"/><circle cx="383.1" cy="240.9" r="0.85"/><circle cx="392.9" cy="237.5" r="0.85"/><circle cx="403.8" cy="243.9" r="0.85"/><circle cx="383.6" cy="237.4" r="0.85"/><circle cx="388.6" cy="238.5" r="0.85"/><circle cx="403.7" cy="258.2" r="0.85"/><circle cx="405.7" cy="238.9" r="0.85"/><circle cx="401.8" cy="245.7" r="0.85"/><circle cx="409.3" cy="236.9" r="0.85"/><circle cx="395.9" cy="233.5" r="0.85"/><circle cx="404.4" cy="241.3" r="0.85"/><circle cx="405.1" cy="240.2" r="0.85"/><circle cx="407.2" cy="249.7" r="0.85"/><circle cx="398.8" cy="238.4" r="0.85"/><circle cx="392.6" cy="248.0" r="0.85"/><circle cx="406.0" cy="248.8" r="0.85"/><circle cx="407.0" cy="242.0" r="0.85"/><circle cx="402.3" cy="238.0" r="0.85"/><circle cx="397.0" cy="236.7" r="0.85"/><circle cx="381.4" cy="239.4" r="0.85"/><circle cx="406.2" cy="251.7" r="0.85"/><circle cx="418.1" cy="239.3" r="0.85"/><circle cx="395.0" cy="236.0" r="0.85"/><circle cx="412.8" cy="255.0" r="0.85"/><circle cx="400.6" cy="255.5" r="0.85"/><circle cx="399.1" cy="242.1" r="0.85"/><circle cx="420.8" cy="236.3" r="0.85"/><circle cx="385.8" cy="253.7" r="0.85"/><circle cx="390.0" cy="249.1" r="0.85"/><circle cx="390.1" cy="253.7" r="0.85"/><circle cx="392.7" cy="245.6" r="0.85"/><circle cx="395.6" cy="246.5" r="0.85"/><circle cx="386.4" cy="250.6" r="0.85"/><circle cx="420.1" cy="245.0" r="0.85"/><circle cx="385.4" cy="238.2" r="0.85"/><circle cx="420.0" cy="247.9" r="0.85"/><circle cx="415.8" cy="243.4" r="0.85"/><circle cx="403.1" cy="252.7" r="0.85"/><circle cx="398.4" cy="244.9" r="0.85"/><circle cx="381.3" cy="240.5" r="0.85"/><circle cx="416.2" cy="243.0" r="0.85"/><circle cx="390.0" cy="250.0" r="0.85"/><circle cx="413.3" cy="240.9" r="0.85"/><circle cx="409.6" cy="253.5" r="0.85"/><circle cx="395.4" cy="241.4" r="0.85"/><circle cx="391.5" cy="246.0" r="0.85"/><circle cx="393.0" cy="248.7" r="0.85"/><circle cx="393.7" cy="246.0" r="0.85"/><circle cx="401.1" cy="244.9" r="0.85"/><circle cx="401.3" cy="251.1" r="0.85"/><circle cx="389.3" cy="254.1" r="0.85"/><circle cx="410.7" cy="252.2" r="0.85"/><circle cx="393.5" cy="257.4" r="0.85"/><circle cx="384.8" cy="248.3" r="0.85"/><circle cx="386.3" cy="249.3" r="0.85"/><circle cx="393.6" cy="251.9" r="0.85"/><circle cx="396.8" cy="244.3" r="0.85"/><circle cx="411.1" cy="248.2" r="0.85"/><circle cx="415.8" cy="246.9" r="0.85"/><circle cx="394.1" cy="247.6" r="0.85"/><circle cx="410.7" cy="249.4" r="0.85"/><circle cx="420.1" cy="235.5" r="0.85"/><circle cx="399.5" cy="251.8" r="0.85"/><circle cx="389.2" cy="242.8" r="0.85"/><circle cx="391.0" cy="251.1" r="0.85"/><circle cx="412.7" cy="251.1" r="0.85"/><circle cx="410.4" cy="249.2" r="0.85"/><circle cx="382.3" cy="254.4" r="0.85"/><circle cx="407.1" cy="243.2" r="0.85"/><circle cx="388.7" cy="249.3" r="0.85"/><circle cx="420.0" cy="257.7" r="0.85"/><circle cx="381.6" cy="247.5" r="0.85"/><circle cx="384.1" cy="240.8" r="0.85"/><circle cx="404.9" cy="256.0" r="0.85"/><circle cx="414.8" cy="252.7" r="0.85"/><circle cx="392.4" cy="250.5" r="0.85"/><circle cx="411.0" cy="251.9" r="0.85"/><circle cx="382.5" cy="244.5" r="0.85"/><circle cx="396.1" cy="241.8" r="0.85"/><circle cx="387.6" cy="252.7" r="0.85"/><circle cx="393.0" cy="249.6" r="0.85"/><circle cx="417.4" cy="254.3" r="0.85"/><circle cx="401.5" cy="238.4" r="0.85"/><circle cx="406.9" cy="241.2" r="0.85"/><circle cx="402.9" cy="252.1" r="0.85"/><circle cx="397.8" cy="231.0" r="0.85"/><circle cx="420.6" cy="250.0" r="0.85"/><circle cx="410.4" cy="249.2" r="0.85"/><circle cx="384.0" cy="240.4" r="0.85"/><circle cx="389.9" cy="232.1" r="0.85"/><circle cx="410.4" cy="245.7" r="0.85"/><circle cx="417.6" cy="246.7" r="0.85"/><circle cx="383.2" cy="239.1" r="0.85"/><circle cx="400.3" cy="237.9" r="0.85"/><circle cx="417.2" cy="257.2" r="0.85"/><circle cx="402.5" cy="247.3" r="0.85"/><circle cx="401.8" cy="233.0" r="0.85"/><circle cx="398.7" cy="256.8" r="0.85"/><circle cx="403.8" cy="241.5" r="0.85"/><circle cx="420.5" cy="252.3" r="0.85"/><circle cx="403.0" cy="254.7" r="0.85"/><circle cx="393.9" cy="251.7" r="0.85"/><circle cx="415.8" cy="251.8" r="0.85"/><circle cx="388.0" cy="261.1" r="0.85"/><circle cx="388.8" cy="231.7" r="0.85"/><circle cx="403.1" cy="238.5" r="0.85"/><circle cx="385.8" cy="246.2" r="0.85"/><circle cx="391.7" cy="257.3" r="0.85"/><circle cx="419.1" cy="240.2" r="0.85"/><circle cx="400.9" cy="242.8" r="0.85"/><circle cx="398.1" cy="245.7" r="0.85"/><circle cx="404.3" cy="248.1" r="0.85"/><circle cx="407.3" cy="245.6" r="0.85"/><circle cx="382.9" cy="250.0" r="0.85"/><circle cx="408.8" cy="244.8" r="0.85"/><circle cx="406.4" cy="247.7" r="0.85"/><circle cx="397.9" cy="252.7" r="0.85"/><circle cx="388.1" cy="243.4" r="0.85"/><circle cx="409.3" cy="247.1" r="0.85"/><circle cx="419.8" cy="237.9" r="0.85"/><circle cx="401.6" cy="243.6" r="0.85"/><circle cx="386.8" cy="244.8" r="0.85"/><circle cx="385.2" cy="233.5" r="0.85"/><circle cx="396.1" cy="252.9" r="0.85"/><circle cx="381.6" cy="252.7" r="0.85"/><circle cx="415.8" cy="257.0" r="0.85"/><circle cx="388.7" cy="250.6" r="0.85"/><circle cx="402.2" cy="241.2" r="0.85"/><circle cx="416.0" cy="227.3" r="0.85"/><circle cx="387.1" cy="243.9" r="0.85"/><circle cx="387.7" cy="237.4" r="0.85"/><circle cx="399.5" cy="246.9" r="0.85"/><circle cx="409.0" cy="245.1" r="0.85"/><circle cx="402.7" cy="251.2" r="0.85"/><circle cx="391.0" cy="239.6" r="0.85"/><circle cx="415.0" cy="253.4" r="0.85"/><circle cx="392.7" cy="251.9" r="0.85"/><circle cx="383.2" cy="252.0" r="0.85"/><circle cx="387.3" cy="256.7" r="0.85"/><circle cx="417.7" cy="254.7" r="0.85"/><circle cx="383.1" cy="257.6" r="0.85"/><circle cx="407.4" cy="235.2" r="0.85"/><circle cx="418.0" cy="243.4" r="0.85"/><circle cx="390.1" cy="254.1" r="0.85"/><circle cx="413.4" cy="245.3" r="0.85"/><circle cx="391.0" cy="256.1" r="0.85"/><circle cx="399.8" cy="245.5" r="0.85"/><circle cx="389.7" cy="251.7" r="0.85"/><circle cx="420.6" cy="238.6" r="0.85"/><circle cx="416.4" cy="245.6" r="0.85"/><circle cx="389.4" cy="193.1" r="0.85"/><circle cx="385.0" cy="214.0" r="0.85"/><circle cx="392.0" cy="216.0" r="0.85"/><circle cx="402.0" cy="217.0" r="0.85"/><circle cx="410.0" cy="214.0" r="0.85"/><circle cx="378.0" cy="222.0" r="0.85"/></g>
<line x1="468.50" y1="192.50" x2="468.50" y2="220.50" stroke="#555" stroke-width="0.80" stroke-dasharray="1,1"/>
<line x1="468.50" y1="239.50" x2="468.50" y2="261.50" stroke="#555" stroke-width="0.80" stroke-dasharray="1,1"/>
<line x1="455.60" y1="192.50" x2="482.10" y2="192.50" stroke="#333" stroke-width="1.00"/>
<line x1="455.60" y1="261.50" x2="482.10" y2="261.50" stroke="#333" stroke-width="1.00"/>
<rect x="441.50" y="220.50" width="54.00" height="19.00" fill="none" stroke="#444" stroke-width="1.0"/>
<line x1="441.50" y1="230.70" x2="495.50" y2="230.70" stroke="#111" stroke-width="1.70"/>
<g fill="#3e3e8c" fill-opacity="0.40"><circle cx="455.2" cy="206.7" r="0.85"/><circle cx="481.7" cy="229.2" r="0.85"/><circle cx="451.3" cy="224.1" r="0.85"/><circle cx="452.6" cy="234.7" r="0.85"/><circle cx="479.2" cy="250.7" r="0.85"/><circle cx="476.3" cy="206.7" r="0.85"/><circle cx="454.6" cy="251.5" r="0.85"/><circle cx="457.6" cy="219.8" r="0.85"/><circle cx="477.9" cy="234.1" r="0.85"/><circle cx="481.9" cy="230.2" r="0.85"/><circle cx="471.7" cy="217.5" r="0.85"/><circle cx="461.1" cy="213.1" r="0.85"/><circle cx="454.6" cy="225.1" r="0.85"/><circle cx="482.3" cy="238.7" r="0.85"/><circle cx="452.2" cy="206.7" r="0.85"/><circle cx="457.9" cy="230.6" r="0.85"/><circle cx="473.2" cy="203.5" r="0.85"/><circle cx="485.8" cy="221.1" r="0.85"/><circle cx="467.5" cy="234.5" r="0.85"/><circle cx="460.6" cy="211.5" r="0.85"/><circle cx="461.4" cy="245.0" r="0.85"/><circle cx="477.0" cy="228.1" r="0.85"/><circle cx="468.9" cy="229.0" r="0.85"/><circle cx="483.2" cy="213.1" r="0.85"/><circle cx="474.1" cy="207.3" r="0.85"/><circle cx="488.3" cy="243.0" r="0.85"/><circle cx="456.4" cy="233.7" r="0.85"/><circle cx="478.8" cy="224.6" r="0.85"/><circle cx="474.7" cy="247.8" r="0.85"/><circle cx="449.2" cy="220.6" r="0.85"/><circle cx="458.6" cy="221.9" r="0.85"/><circle cx="474.3" cy="223.7" r="0.85"/><circle cx="476.9" cy="223.0" r="0.85"/><circle cx="451.5" cy="254.3" r="0.85"/><circle cx="485.6" cy="239.2" r="0.85"/><circle cx="486.4" cy="250.4" r="0.85"/><circle cx="471.3" cy="229.9" r="0.85"/><circle cx="469.7" cy="195.6" r="0.85"/><circle cx="487.2" cy="222.8" r="0.85"/><circle cx="465.9" cy="235.2" r="0.85"/><circle cx="465.4" cy="244.9" r="0.85"/><circle cx="480.9" cy="245.4" r="0.85"/><circle cx="451.8" cy="220.9" r="0.85"/><circle cx="469.9" cy="241.0" r="0.85"/><circle cx="481.2" cy="241.5" r="0.85"/><circle cx="475.4" cy="222.1" r="0.85"/><circle cx="485.7" cy="232.1" r="0.85"/><circle cx="483.4" cy="225.8" r="0.85"/><circle cx="475.6" cy="231.0" r="0.85"/><circle cx="464.5" cy="219.0" r="0.85"/><circle cx="459.5" cy="237.7" r="0.85"/><circle cx="454.1" cy="220.1" r="0.85"/><circle cx="465.7" cy="216.0" r="0.85"/><circle cx="478.5" cy="221.8" r="0.85"/><circle cx="459.2" cy="230.5" r="0.85"/><circle cx="470.8" cy="220.0" r="0.85"/><circle cx="478.3" cy="212.3" r="0.85"/><circle cx="462.8" cy="232.4" r="0.85"/><circle cx="458.7" cy="211.0" r="0.85"/><circle cx="453.5" cy="210.3" r="0.85"/><circle cx="486.5" cy="210.0" r="0.85"/><circle cx="481.2" cy="237.8" r="0.85"/><circle cx="458.3" cy="212.7" r="0.85"/><circle cx="460.4" cy="236.9" r="0.85"/><circle cx="467.9" cy="221.5" r="0.85"/><circle cx="470.5" cy="236.5" r="0.85"/><circle cx="456.5" cy="231.4" r="0.85"/><circle cx="480.3" cy="231.8" r="0.85"/><circle cx="455.0" cy="224.4" r="0.85"/><circle cx="488.0" cy="241.6" r="0.85"/><circle cx="472.0" cy="249.3" r="0.85"/><circle cx="483.4" cy="230.1" r="0.85"/><circle cx="479.3" cy="223.9" r="0.85"/><circle cx="477.1" cy="258.4" r="0.85"/><circle cx="460.2" cy="238.1" r="0.85"/><circle cx="467.1" cy="211.8" r="0.85"/><circle cx="471.3" cy="227.8" r="0.85"/><circle cx="451.1" cy="239.5" r="0.85"/><circle cx="452.4" cy="216.2" r="0.85"/><circle cx="468.6" cy="235.4" r="0.85"/><circle cx="477.3" cy="242.5" r="0.85"/><circle cx="478.6" cy="235.9" r="0.85"/><circle cx="487.2" cy="239.1" r="0.85"/><circle cx="473.6" cy="237.2" r="0.85"/><circle cx="458.4" cy="245.8" r="0.85"/><circle cx="451.5" cy="226.7" r="0.85"/><circle cx="454.1" cy="224.6" r="0.85"/><circle cx="475.6" cy="235.1" r="0.85"/><circle cx="478.5" cy="229.5" r="0.85"/><circle cx="454.2" cy="232.8" r="0.85"/><circle cx="449.3" cy="231.5" r="0.85"/><circle cx="477.7" cy="232.3" r="0.85"/><circle cx="454.5" cy="229.4" r="0.85"/><circle cx="450.4" cy="219.7" r="0.85"/><circle cx="456.2" cy="236.5" r="0.85"/><circle cx="481.1" cy="244.1" r="0.85"/><circle cx="454.2" cy="241.1" r="0.85"/><circle cx="474.7" cy="236.2" r="0.85"/><circle cx="488.1" cy="236.5" r="0.85"/><circle cx="459.2" cy="209.7" r="0.85"/><circle cx="488.5" cy="236.0" r="0.85"/><circle cx="470.5" cy="244.0" r="0.85"/><circle cx="475.8" cy="242.6" r="0.85"/><circle cx="471.9" cy="209.9" r="0.85"/><circle cx="451.0" cy="245.4" r="0.85"/><circle cx="470.4" cy="198.4" r="0.85"/><circle cx="479.7" cy="221.6" r="0.85"/><circle cx="458.1" cy="215.7" r="0.85"/><circle cx="463.7" cy="241.5" r="0.85"/><circle cx="451.0" cy="243.9" r="0.85"/><circle cx="454.1" cy="229.9" r="0.85"/><circle cx="454.6" cy="257.0" r="0.85"/><circle cx="454.1" cy="233.2" r="0.85"/><circle cx="471.0" cy="250.0" r="0.85"/><circle cx="472.2" cy="222.0" r="0.85"/><circle cx="459.9" cy="218.2" r="0.85"/><circle cx="456.8" cy="206.6" r="0.85"/><circle cx="457.6" cy="213.5" r="0.85"/><circle cx="484.1" cy="239.3" r="0.85"/><circle cx="472.1" cy="228.1" r="0.85"/><circle cx="454.5" cy="249.9" r="0.85"/><circle cx="452.8" cy="246.4" r="0.85"/><circle cx="471.6" cy="231.6" r="0.85"/><circle cx="467.1" cy="221.6" r="0.85"/><circle cx="456.9" cy="227.5" r="0.85"/><circle cx="471.9" cy="216.2" r="0.85"/><circle cx="485.1" cy="238.7" r="0.85"/><circle cx="467.2" cy="230.5" r="0.85"/><circle cx="468.1" cy="225.4" r="0.85"/><circle cx="450.7" cy="233.2" r="0.85"/><circle cx="463.9" cy="238.1" r="0.85"/><circle cx="454.9" cy="240.0" r="0.85"/><circle cx="460.7" cy="225.6" r="0.85"/><circle cx="451.3" cy="212.8" r="0.85"/><circle cx="470.3" cy="246.1" r="0.85"/><circle cx="484.2" cy="214.7" r="0.85"/><circle cx="465.6" cy="216.2" r="0.85"/><circle cx="481.9" cy="222.9" r="0.85"/><circle cx="457.5" cy="232.7" r="0.85"/><circle cx="480.4" cy="237.8" r="0.85"/><circle cx="473.6" cy="233.4" r="0.85"/><circle cx="475.8" cy="209.4" r="0.85"/><circle cx="465.3" cy="234.4" r="0.85"/><circle cx="472.1" cy="242.7" r="0.85"/><circle cx="487.5" cy="233.7" r="0.85"/><circle cx="471.5" cy="219.4" r="0.85"/><circle cx="487.6" cy="244.8" r="0.85"/><circle cx="467.1" cy="206.6" r="0.85"/><circle cx="482.5" cy="241.9" r="0.85"/><circle cx="457.5" cy="224.5" r="0.85"/><circle cx="462.6" cy="219.7" r="0.85"/><circle cx="480.6" cy="209.1" r="0.85"/><circle cx="468.0" cy="250.9" r="0.85"/><circle cx="483.2" cy="239.1" r="0.85"/><circle cx="449.9" cy="239.6" r="0.85"/><circle cx="482.8" cy="241.3" r="0.85"/><circle cx="467.1" cy="219.6" r="0.85"/><circle cx="487.3" cy="221.0" r="0.85"/><circle cx="454.0" cy="237.4" r="0.85"/><circle cx="485.3" cy="235.4" r="0.85"/><circle cx="477.7" cy="213.3" r="0.85"/><circle cx="481.9" cy="227.2" r="0.85"/><circle cx="474.4" cy="224.4" r="0.85"/><circle cx="483.4" cy="215.1" r="0.85"/><circle cx="474.3" cy="232.6" r="0.85"/><circle cx="456.1" cy="233.5" r="0.85"/><circle cx="488.2" cy="248.6" r="0.85"/><circle cx="453.0" cy="221.7" r="0.85"/><circle cx="450.0" cy="215.4" r="0.85"/><circle cx="455.0" cy="222.9" r="0.85"/><circle cx="453.8" cy="248.0" r="0.85"/><circle cx="463.4" cy="212.4" r="0.85"/><circle cx="488.3" cy="213.4" r="0.85"/><circle cx="482.0" cy="236.2" r="0.85"/><circle cx="472.7" cy="245.0" r="0.85"/><circle cx="470.6" cy="218.6" r="0.85"/><circle cx="458.0" cy="222.2" r="0.85"/><circle cx="475.2" cy="243.4" r="0.85"/><circle cx="474.8" cy="214.5" r="0.85"/><circle cx="486.8" cy="230.2" r="0.85"/><circle cx="481.6" cy="246.4" r="0.85"/><circle cx="474.6" cy="245.1" r="0.85"/><circle cx="481.2" cy="230.8" r="0.85"/><circle cx="456.6" cy="197.2" r="0.85"/><circle cx="466.7" cy="251.8" r="0.85"/><circle cx="470.2" cy="206.8" r="0.85"/><circle cx="466.7" cy="213.9" r="0.85"/><circle cx="484.4" cy="226.5" r="0.85"/><circle cx="473.1" cy="216.1" r="0.85"/><circle cx="460.5" cy="243.8" r="0.85"/><circle cx="450.3" cy="235.1" r="0.85"/><circle cx="460.5" cy="248.3" r="0.85"/><circle cx="456.4" cy="197.5" r="0.85"/><circle cx="455.1" cy="220.8" r="0.85"/><circle cx="454.2" cy="241.2" r="0.85"/><circle cx="480.8" cy="238.9" r="0.85"/><circle cx="459.4" cy="243.2" r="0.85"/><circle cx="474.4" cy="241.1" r="0.85"/><circle cx="482.4" cy="240.0" r="0.85"/><circle cx="449.2" cy="232.3" r="0.85"/><circle cx="481.9" cy="235.1" r="0.85"/><circle cx="475.3" cy="232.0" r="0.85"/><circle cx="455.4" cy="256.4" r="0.85"/><circle cx="468.0" cy="228.1" r="0.85"/><circle cx="451.1" cy="210.5" r="0.85"/><circle cx="450.4" cy="242.3" r="0.85"/><circle cx="484.5" cy="257.2" r="0.85"/><circle cx="460.5" cy="247.0" r="0.85"/><circle cx="456.4" cy="235.8" r="0.85"/><circle cx="484.2" cy="249.0" r="0.85"/><circle cx="479.6" cy="217.9" r="0.85"/><circle cx="479.6" cy="236.5" r="0.85"/><circle cx="477.4" cy="217.9" r="0.85"/><circle cx="449.0" cy="225.1" r="0.85"/><circle cx="487.9" cy="215.4" r="0.85"/><circle cx="479.9" cy="208.2" r="0.85"/><circle cx="471.9" cy="236.2" r="0.85"/><circle cx="473.2" cy="239.3" r="0.85"/><circle cx="458.8" cy="231.1" r="0.85"/><circle cx="476.6" cy="245.3" r="0.85"/><circle cx="478.8" cy="220.1" r="0.85"/><circle cx="473.9" cy="236.3" r="0.85"/><circle cx="471.8" cy="238.0" r="0.85"/><circle cx="478.7" cy="210.5" r="0.85"/><circle cx="461.9" cy="239.7" r="0.85"/><circle cx="461.1" cy="236.8" r="0.85"/><circle cx="471.7" cy="241.5" r="0.85"/><circle cx="452.9" cy="232.1" r="0.85"/><circle cx="477.8" cy="229.9" r="0.85"/><circle cx="462.4" cy="239.8" r="0.85"/><circle cx="449.5" cy="226.0" r="0.85"/><circle cx="476.1" cy="210.7" r="0.85"/><circle cx="475.2" cy="246.0" r="0.85"/><circle cx="466.1" cy="218.6" r="0.85"/><circle cx="461.6" cy="211.5" r="0.85"/><circle cx="456.3" cy="219.6" r="0.85"/><circle cx="450.4" cy="214.7" r="0.85"/><circle cx="455.0" cy="224.8" r="0.85"/><circle cx="469.5" cy="232.9" r="0.85"/><circle cx="464.3" cy="223.6" r="0.85"/><circle cx="478.0" cy="249.9" r="0.85"/><circle cx="451.2" cy="192.1" r="0.85"/><circle cx="472.8" cy="203.8" r="0.85"/><circle cx="487.9" cy="231.6" r="0.85"/><circle cx="461.6" cy="239.1" r="0.85"/><circle cx="457.9" cy="235.6" r="0.85"/><circle cx="468.5" cy="238.5" r="0.85"/><circle cx="481.0" cy="231.2" r="0.85"/><circle cx="479.2" cy="226.5" r="0.85"/><circle cx="474.0" cy="230.5" r="0.85"/><circle cx="482.9" cy="232.1" r="0.85"/><circle cx="453.9" cy="230.4" r="0.85"/><circle cx="480.4" cy="240.9" r="0.85"/><circle cx="486.3" cy="250.8" r="0.85"/><circle cx="482.3" cy="215.9" r="0.85"/><circle cx="467.4" cy="238.9" r="0.85"/><circle cx="454.1" cy="233.7" r="0.85"/><circle cx="453.1" cy="237.7" r="0.85"/><circle cx="450.5" cy="238.6" r="0.85"/><circle cx="460.3" cy="236.2" r="0.85"/><circle cx="468.9" cy="221.9" r="0.85"/><circle cx="482.5" cy="249.9" r="0.85"/><circle cx="470.2" cy="232.6" r="0.85"/><circle cx="449.7" cy="247.2" r="0.85"/><circle cx="452.6" cy="213.8" r="0.85"/><circle cx="487.0" cy="211.9" r="0.85"/><circle cx="457.0" cy="220.8" r="0.85"/><circle cx="449.7" cy="224.1" r="0.85"/><circle cx="455.8" cy="207.9" r="0.85"/><circle cx="449.9" cy="219.2" r="0.85"/><circle cx="462.3" cy="224.9" r="0.85"/><circle cx="483.2" cy="223.8" r="0.85"/><circle cx="476.5" cy="227.7" r="0.85"/><circle cx="477.3" cy="196.9" r="0.85"/><circle cx="467.5" cy="215.3" r="0.85"/><circle cx="474.5" cy="240.2" r="0.85"/><circle cx="460.5" cy="234.2" r="0.85"/><circle cx="465.7" cy="223.3" r="0.85"/><circle cx="476.1" cy="230.2" r="0.85"/><circle cx="450.7" cy="230.4" r="0.85"/><circle cx="449.5" cy="246.6" r="0.85"/><circle cx="461.7" cy="237.8" r="0.85"/><circle cx="463.5" cy="208.0" r="0.85"/><circle cx="455.2" cy="230.7" r="0.85"/><circle cx="451.8" cy="200.4" r="0.85"/><circle cx="465.2" cy="208.7" r="0.85"/><circle cx="456.6" cy="223.9" r="0.85"/><circle cx="481.4" cy="209.9" r="0.85"/><circle cx="486.4" cy="213.7" r="0.85"/><circle cx="475.8" cy="224.7" r="0.85"/><circle cx="459.4" cy="219.6" r="0.85"/><circle cx="463.4" cy="236.7" r="0.85"/><circle cx="459.6" cy="211.9" r="0.85"/><circle cx="484.6" cy="189.3" r="0.85"/><circle cx="474.6" cy="226.3" r="0.85"/><circle cx="477.9" cy="204.7" r="0.85"/><circle cx="467.7" cy="261.4" r="0.85"/><circle cx="475.4" cy="215.7" r="0.85"/><circle cx="455.6" cy="239.0" r="0.85"/><circle cx="463.2" cy="209.6" r="0.85"/><circle cx="454.8" cy="240.9" r="0.85"/><circle cx="456.4" cy="220.2" r="0.85"/><circle cx="483.8" cy="217.4" r="0.85"/><circle cx="449.3" cy="204.2" r="0.85"/><circle cx="478.7" cy="238.7" r="0.85"/><circle cx="462.6" cy="215.7" r="0.85"/><circle cx="448.7" cy="229.2" r="0.85"/><circle cx="451.7" cy="234.0" r="0.85"/><circle cx="456.2" cy="254.8" r="0.85"/><circle cx="459.9" cy="209.0" r="0.85"/><circle cx="474.4" cy="222.5" r="0.85"/><circle cx="460.9" cy="229.4" r="0.85"/><circle cx="480.3" cy="232.3" r="0.85"/><circle cx="463.6" cy="228.1" r="0.85"/><circle cx="468.2" cy="238.6" r="0.85"/><circle cx="454.5" cy="227.5" r="0.85"/><circle cx="456.1" cy="235.7" r="0.85"/><circle cx="469.6" cy="227.3" r="0.85"/><circle cx="483.4" cy="235.7" r="0.85"/><circle cx="450.9" cy="220.0" r="0.85"/><circle cx="450.8" cy="235.9" r="0.85"/><circle cx="460.3" cy="209.3" r="0.85"/><circle cx="458.9" cy="237.3" r="0.85"/><circle cx="463.7" cy="244.5" r="0.85"/><circle cx="466.3" cy="218.2" r="0.85"/><circle cx="457.0" cy="236.9" r="0.85"/><circle cx="458.1" cy="196.9" r="0.85"/><circle cx="482.5" cy="218.7" r="0.85"/><circle cx="449.5" cy="240.5" r="0.85"/><circle cx="458.2" cy="231.2" r="0.85"/><circle cx="481.5" cy="238.8" r="0.85"/><circle cx="486.5" cy="219.4" r="0.85"/><circle cx="460.6" cy="250.3" r="0.85"/><circle cx="471.7" cy="239.7" r="0.85"/><circle cx="469.1" cy="255.4" r="0.85"/><circle cx="472.1" cy="234.7" r="0.85"/><circle cx="468.1" cy="213.1" r="0.85"/><circle cx="477.0" cy="211.3" r="0.85"/><circle cx="460.5" cy="233.2" r="0.85"/><circle cx="454.6" cy="236.0" r="0.85"/><circle cx="472.1" cy="238.4" r="0.85"/><circle cx="471.8" cy="231.6" r="0.85"/><circle cx="468.9" cy="256.6" r="0.85"/><circle cx="451.3" cy="228.5" r="0.85"/><circle cx="480.7" cy="250.5" r="0.85"/><circle cx="486.6" cy="228.1" r="0.85"/><circle cx="463.7" cy="215.0" r="0.85"/><circle cx="480.4" cy="214.2" r="0.85"/><circle cx="477.2" cy="235.4" r="0.85"/><circle cx="480.3" cy="218.4" r="0.85"/><circle cx="472.4" cy="241.0" r="0.85"/><circle cx="473.3" cy="227.5" r="0.85"/><circle cx="482.9" cy="231.9" r="0.85"/><circle cx="454.3" cy="207.6" r="0.85"/><circle cx="454.7" cy="221.7" r="0.85"/><circle cx="449.8" cy="246.6" r="0.85"/><circle cx="474.9" cy="236.4" r="0.85"/><circle cx="459.6" cy="236.1" r="0.85"/><circle cx="470.4" cy="223.5" r="0.85"/><circle cx="457.6" cy="195.1" r="0.85"/><circle cx="451.9" cy="240.7" r="0.85"/><circle cx="485.3" cy="215.1" r="0.85"/><circle cx="477.1" cy="238.5" r="0.85"/><circle cx="457.3" cy="239.0" r="0.85"/><circle cx="466.5" cy="224.1" r="0.85"/><circle cx="484.3" cy="254.0" r="0.85"/><circle cx="456.1" cy="261.4" r="0.85"/><circle cx="463.9" cy="230.6" r="0.85"/><circle cx="483.5" cy="249.1" r="0.85"/><circle cx="463.0" cy="222.6" r="0.85"/><circle cx="473.7" cy="231.8" r="0.85"/><circle cx="467.5" cy="217.1" r="0.85"/><circle cx="452.1" cy="242.6" r="0.85"/><circle cx="460.8" cy="248.5" r="0.85"/><circle cx="476.6" cy="209.4" r="0.85"/><circle cx="459.9" cy="238.8" r="0.85"/><circle cx="452.0" cy="225.0" r="0.85"/><circle cx="456.7" cy="220.7" r="0.85"/><circle cx="467.0" cy="199.2" r="0.85"/><circle cx="476.4" cy="231.3" r="0.85"/><circle cx="465.9" cy="211.8" r="0.85"/><circle cx="453.7" cy="236.6" r="0.85"/><circle cx="460.4" cy="202.5" r="0.85"/><circle cx="472.5" cy="209.1" r="0.85"/><circle cx="456.9" cy="251.7" r="0.85"/><circle cx="457.4" cy="225.3" r="0.85"/><circle cx="463.2" cy="250.6" r="0.85"/><circle cx="457.2" cy="235.0" r="0.85"/><circle cx="481.6" cy="225.5" r="0.85"/><circle cx="471.1" cy="205.3" r="0.85"/><circle cx="458.2" cy="246.4" r="0.85"/><circle cx="449.0" cy="234.3" r="0.85"/><circle cx="469.3" cy="231.7" r="0.85"/><circle cx="466.0" cy="222.5" r="0.85"/><circle cx="470.1" cy="235.4" r="0.85"/><circle cx="472.9" cy="237.2" r="0.85"/><circle cx="455.4" cy="235.6" r="0.85"/><circle cx="486.0" cy="237.6" r="0.85"/><circle cx="484.4" cy="242.7" r="0.85"/><circle cx="464.9" cy="240.8" r="0.85"/><circle cx="449.7" cy="230.5" r="0.85"/><circle cx="449.3" cy="248.1" r="0.85"/><circle cx="486.8" cy="227.6" r="0.85"/><circle cx="486.5" cy="241.5" r="0.85"/><circle cx="454.1" cy="239.9" r="0.85"/><circle cx="461.0" cy="240.6" r="0.85"/><circle cx="461.3" cy="198.8" r="0.85"/><circle cx="465.1" cy="212.5" r="0.85"/><circle cx="450.3" cy="210.2" r="0.85"/><circle cx="465.8" cy="247.5" r="0.85"/><circle cx="450.9" cy="230.7" r="0.85"/><circle cx="462.5" cy="239.3" r="0.85"/><circle cx="461.2" cy="219.3" r="0.85"/><circle cx="450.3" cy="209.7" r="0.85"/><circle cx="454.3" cy="241.4" r="0.85"/><circle cx="480.0" cy="203.2" r="0.85"/><circle cx="455.6" cy="228.6" r="0.85"/><circle cx="475.5" cy="225.1" r="0.85"/><circle cx="457.4" cy="243.1" r="0.85"/><circle cx="467.2" cy="206.3" r="0.85"/><circle cx="477.5" cy="254.6" r="0.85"/><circle cx="474.4" cy="219.9" r="0.85"/><circle cx="473.1" cy="216.5" r="0.85"/><circle cx="454.1" cy="244.9" r="0.85"/><circle cx="466.8" cy="235.2" r="0.85"/><circle cx="475.2" cy="233.4" r="0.85"/><circle cx="465.5" cy="238.4" r="0.85"/><circle cx="460.1" cy="258.9" r="0.85"/><circle cx="470.1" cy="221.1" r="0.85"/><circle cx="488.2" cy="231.2" r="0.85"/><circle cx="478.8" cy="238.6" r="0.85"/><circle cx="484.9" cy="222.7" r="0.85"/><circle cx="484.9" cy="237.7" r="0.85"/><circle cx="454.7" cy="227.3" r="0.85"/><circle cx="451.8" cy="246.5" r="0.85"/><circle cx="450.5" cy="240.7" r="0.85"/><circle cx="467.1" cy="215.8" r="0.85"/><circle cx="450.4" cy="246.0" r="0.85"/><circle cx="477.3" cy="240.4" r="0.85"/><circle cx="464.6" cy="227.4" r="0.85"/><circle cx="478.1" cy="220.8" r="0.85"/><circle cx="488.4" cy="252.5" r="0.85"/><circle cx="457.4" cy="222.4" r="0.85"/><circle cx="470.8" cy="232.0" r="0.85"/><circle cx="464.2" cy="249.7" r="0.85"/><circle cx="488.2" cy="226.5" r="0.85"/><circle cx="480.9" cy="236.0" r="0.85"/><circle cx="475.1" cy="217.6" r="0.85"/><circle cx="453.0" cy="211.2" r="0.85"/><circle cx="487.7" cy="252.8" r="0.85"/><circle cx="455.4" cy="215.4" r="0.85"/><circle cx="473.3" cy="231.1" r="0.85"/><circle cx="472.2" cy="228.6" r="0.85"/><circle cx="466.5" cy="255.3" r="0.85"/><circle cx="479.5" cy="223.4" r="0.85"/><circle cx="469.1" cy="189.3" r="0.85"/><circle cx="472.1" cy="231.9" r="0.85"/><circle cx="450.3" cy="220.0" r="0.85"/><circle cx="481.0" cy="222.1" r="0.85"/><circle cx="480.5" cy="207.3" r="0.85"/><circle cx="456.5" cy="243.1" r="0.85"/><circle cx="486.3" cy="215.8" r="0.85"/><circle cx="470.7" cy="233.4" r="0.85"/><circle cx="455.1" cy="226.9" r="0.85"/><circle cx="470.6" cy="223.4" r="0.85"/><circle cx="451.4" cy="217.8" r="0.85"/><circle cx="483.9" cy="253.3" r="0.85"/><circle cx="457.8" cy="241.6" r="0.85"/><circle cx="476.7" cy="221.5" r="0.85"/><circle cx="461.6" cy="224.6" r="0.85"/><circle cx="458.2" cy="218.9" r="0.85"/><circle cx="470.3" cy="228.2" r="0.85"/><circle cx="459.8" cy="244.2" r="0.85"/><circle cx="459.0" cy="243.4" r="0.85"/><circle cx="486.4" cy="221.0" r="0.85"/><circle cx="477.2" cy="236.0" r="0.85"/><circle cx="484.6" cy="214.0" r="0.85"/><circle cx="461.8" cy="244.9" r="0.85"/><circle cx="488.3" cy="229.4" r="0.85"/><circle cx="448.7" cy="233.8" r="0.85"/><circle cx="470.2" cy="222.0" r="0.85"/><circle cx="465.1" cy="222.0" r="0.85"/><circle cx="464.8" cy="224.3" r="0.85"/><circle cx="470.3" cy="236.6" r="0.85"/><circle cx="475.2" cy="255.1" r="0.85"/><circle cx="458.9" cy="234.9" r="0.85"/><circle cx="467.5" cy="234.3" r="0.85"/><circle cx="464.7" cy="248.3" r="0.85"/><circle cx="471.8" cy="215.7" r="0.85"/><circle cx="452.0" cy="238.5" r="0.85"/><circle cx="487.8" cy="218.7" r="0.85"/><circle cx="482.4" cy="235.5" r="0.85"/><circle cx="460.3" cy="233.9" r="0.85"/><circle cx="453.2" cy="215.5" r="0.85"/><circle cx="471.5" cy="228.8" r="0.85"/><circle cx="488.1" cy="238.6" r="0.85"/><circle cx="486.0" cy="203.9" r="0.85"/><circle cx="475.3" cy="234.6" r="0.85"/><circle cx="460.6" cy="241.6" r="0.85"/><circle cx="456.1" cy="242.2" r="0.85"/><circle cx="478.7" cy="221.9" r="0.85"/><circle cx="479.6" cy="224.8" r="0.85"/><circle cx="487.2" cy="191.3" r="0.85"/><circle cx="466.5" cy="234.7" r="0.85"/><circle cx="449.2" cy="217.1" r="0.85"/><circle cx="485.2" cy="233.3" r="0.85"/><circle cx="469.4" cy="237.6" r="0.85"/><circle cx="463.8" cy="228.5" r="0.85"/><circle cx="449.1" cy="248.6" r="0.85"/><circle cx="449.8" cy="236.7" r="0.85"/><circle cx="457.4" cy="199.7" r="0.85"/><circle cx="457.9" cy="241.5" r="0.85"/><circle cx="448.7" cy="223.7" r="0.85"/><circle cx="454.0" cy="208.6" r="0.85"/><circle cx="485.6" cy="249.4" r="0.85"/><circle cx="481.4" cy="204.3" r="0.85"/><circle cx="470.4" cy="228.4" r="0.85"/><circle cx="474.3" cy="223.3" r="0.85"/><circle cx="462.7" cy="224.0" r="0.85"/><circle cx="451.7" cy="239.6" r="0.85"/><circle cx="480.9" cy="230.8" r="0.85"/><circle cx="469.0" cy="228.7" r="0.85"/><circle cx="449.4" cy="222.0" r="0.85"/><circle cx="486.9" cy="228.2" r="0.85"/><circle cx="461.3" cy="219.1" r="0.85"/><circle cx="484.7" cy="229.0" r="0.85"/><circle cx="448.8" cy="227.2" r="0.85"/><circle cx="478.4" cy="238.8" r="0.85"/><circle cx="463.4" cy="237.6" r="0.85"/><circle cx="453.5" cy="220.5" r="0.85"/><circle cx="466.7" cy="236.6" r="0.85"/><circle cx="469.4" cy="234.3" r="0.85"/><circle cx="471.5" cy="232.4" r="0.85"/><circle cx="469.4" cy="238.1" r="0.85"/><circle cx="466.3" cy="208.5" r="0.85"/><circle cx="454.1" cy="232.8" r="0.85"/><circle cx="449.0" cy="250.3" r="0.85"/><circle cx="476.6" cy="239.2" r="0.85"/><circle cx="454.6" cy="224.5" r="0.85"/><circle cx="485.4" cy="239.7" r="0.85"/><circle cx="465.0" cy="229.3" r="0.85"/><circle cx="450.2" cy="224.5" r="0.85"/><circle cx="457.5" cy="220.4" r="0.85"/><circle cx="483.4" cy="218.0" r="0.85"/><circle cx="481.4" cy="204.4" r="0.85"/><circle cx="486.9" cy="234.6" r="0.85"/><circle cx="464.5" cy="226.3" r="0.85"/><circle cx="454.3" cy="217.1" r="0.85"/><circle cx="452.2" cy="219.2" r="0.85"/><circle cx="451.7" cy="210.2" r="0.85"/><circle cx="464.7" cy="234.4" r="0.85"/><circle cx="467.4" cy="215.3" r="0.85"/><circle cx="476.8" cy="213.4" r="0.85"/><circle cx="465.1" cy="242.1" r="0.85"/><circle cx="450.1" cy="252.1" r="0.85"/><circle cx="456.7" cy="236.6" r="0.85"/><circle cx="473.4" cy="245.7" r="0.85"/><circle cx="452.5" cy="211.2" r="0.85"/><circle cx="476.0" cy="228.9" r="0.85"/><circle cx="451.5" cy="229.0" r="0.85"/><circle cx="463.9" cy="218.9" r="0.85"/><circle cx="453.5" cy="239.8" r="0.85"/><circle cx="481.0" cy="213.3" r="0.85"/><circle cx="469.1" cy="240.0" r="0.85"/><circle cx="451.6" cy="238.5" r="0.85"/><circle cx="452.4" cy="230.7" r="0.85"/><circle cx="464.1" cy="230.6" r="0.85"/><circle cx="450.2" cy="234.0" r="0.85"/><circle cx="449.8" cy="203.9" r="0.85"/><circle cx="458.5" cy="255.4" r="0.85"/><circle cx="460.9" cy="257.7" r="0.85"/><circle cx="464.0" cy="228.0" r="0.85"/><circle cx="475.3" cy="233.8" r="0.85"/><circle cx="448.6" cy="217.2" r="0.85"/><circle cx="463.5" cy="217.0" r="0.85"/><circle cx="466.2" cy="194.5" r="0.85"/><circle cx="464.9" cy="215.7" r="0.85"/><circle cx="449.4" cy="241.9" r="0.85"/><circle cx="485.0" cy="233.6" r="0.85"/><circle cx="448.7" cy="229.6" r="0.85"/><circle cx="461.1" cy="243.2" r="0.85"/><circle cx="483.3" cy="247.0" r="0.85"/><circle cx="470.3" cy="238.8" r="0.85"/><circle cx="456.3" cy="227.0" r="0.85"/><circle cx="463.8" cy="221.2" r="0.85"/><circle cx="485.3" cy="233.1" r="0.85"/><circle cx="478.5" cy="228.1" r="0.85"/><circle cx="459.8" cy="239.1" r="0.85"/><circle cx="464.3" cy="216.0" r="0.85"/><circle cx="486.5" cy="209.3" r="0.85"/><circle cx="451.7" cy="234.6" r="0.85"/><circle cx="486.6" cy="241.8" r="0.85"/><circle cx="466.8" cy="225.3" r="0.85"/><circle cx="466.9" cy="203.0" r="0.85"/><circle cx="463.6" cy="233.5" r="0.85"/><circle cx="488.2" cy="209.5" r="0.85"/><circle cx="459.3" cy="244.0" r="0.85"/><circle cx="483.3" cy="225.7" r="0.85"/><circle cx="474.1" cy="203.5" r="0.85"/><circle cx="451.7" cy="219.2" r="0.85"/><circle cx="459.7" cy="203.0" r="0.85"/><circle cx="455.9" cy="232.4" r="0.85"/><circle cx="479.7" cy="240.2" r="0.85"/><circle cx="467.0" cy="236.6" r="0.85"/><circle cx="477.1" cy="201.8" r="0.85"/><circle cx="476.2" cy="226.5" r="0.85"/><circle cx="463.9" cy="215.9" r="0.85"/><circle cx="483.4" cy="228.7" r="0.85"/><circle cx="460.7" cy="234.5" r="0.85"/><circle cx="458.5" cy="238.8" r="0.85"/><circle cx="480.9" cy="226.3" r="0.85"/><circle cx="465.3" cy="220.3" r="0.85"/><circle cx="484.3" cy="239.0" r="0.85"/><circle cx="486.3" cy="228.1" r="0.85"/><circle cx="450.8" cy="241.3" r="0.85"/><circle cx="486.7" cy="230.6" r="0.85"/><circle cx="449.8" cy="217.8" r="0.85"/><circle cx="481.3" cy="199.1" r="0.85"/><circle cx="471.4" cy="235.6" r="0.85"/><circle cx="486.2" cy="238.0" r="0.85"/><circle cx="483.2" cy="232.7" r="0.85"/><circle cx="473.0" cy="241.5" r="0.85"/><circle cx="460.6" cy="236.2" r="0.85"/><circle cx="452.9" cy="254.2" r="0.85"/><circle cx="473.8" cy="216.7" r="0.85"/><circle cx="483.4" cy="238.3" r="0.85"/><circle cx="478.3" cy="231.0" r="0.85"/><circle cx="480.9" cy="228.0" r="0.85"/><circle cx="480.2" cy="239.3" r="0.85"/><circle cx="477.7" cy="230.7" r="0.85"/><circle cx="483.3" cy="200.2" r="0.85"/><circle cx="452.0" cy="223.0" r="0.85"/><circle cx="458.9" cy="239.8" r="0.85"/><circle cx="457.4" cy="206.6" r="0.85"/><circle cx="471.3" cy="208.0" r="0.85"/><circle cx="464.4" cy="238.1" r="0.85"/><circle cx="461.3" cy="232.1" r="0.85"/><circle cx="463.0" cy="207.6" r="0.85"/><circle cx="477.1" cy="229.3" r="0.85"/><circle cx="456.0" cy="244.8" r="0.85"/><circle cx="462.3" cy="225.1" r="0.85"/><circle cx="461.0" cy="233.2" r="0.85"/><circle cx="462.6" cy="222.4" r="0.85"/><circle cx="484.5" cy="243.3" r="0.85"/><circle cx="482.5" cy="228.4" r="0.85"/><circle cx="452.0" cy="236.9" r="0.85"/><circle cx="483.9" cy="231.9" r="0.85"/><circle cx="484.8" cy="206.2" r="0.85"/><circle cx="464.5" cy="233.2" r="0.85"/><circle cx="464.5" cy="235.3" r="0.85"/><circle cx="479.2" cy="241.8" r="0.85"/><circle cx="451.8" cy="237.3" r="0.85"/><circle cx="457.1" cy="210.2" r="0.85"/><circle cx="486.2" cy="223.5" r="0.85"/><circle cx="461.3" cy="231.2" r="0.85"/><circle cx="456.0" cy="235.0" r="0.85"/><circle cx="449.9" cy="236.6" r="0.85"/><circle cx="470.0" cy="230.7" r="0.85"/><circle cx="466.8" cy="242.2" r="0.85"/><circle cx="452.0" cy="221.1" r="0.85"/><circle cx="454.3" cy="217.8" r="0.85"/><circle cx="478.5" cy="190.7" r="0.85"/><circle cx="457.9" cy="221.6" r="0.85"/><circle cx="465.8" cy="241.3" r="0.85"/><circle cx="459.8" cy="232.3" r="0.85"/><circle cx="483.7" cy="233.0" r="0.85"/><circle cx="487.5" cy="242.3" r="0.85"/><circle cx="476.0" cy="228.7" r="0.85"/><circle cx="456.8" cy="231.3" r="0.85"/><circle cx="461.8" cy="231.3" r="0.85"/><circle cx="480.4" cy="219.9" r="0.85"/><circle cx="467.8" cy="228.8" r="0.85"/><circle cx="470.1" cy="235.1" r="0.85"/><circle cx="485.7" cy="243.0" r="0.85"/><circle cx="466.4" cy="249.9" r="0.85"/><circle cx="453.6" cy="229.2" r="0.85"/><circle cx="485.2" cy="224.9" r="0.85"/><circle cx="456.1" cy="215.5" r="0.85"/><circle cx="474.8" cy="235.6" r="0.85"/><circle cx="454.5" cy="243.1" r="0.85"/><circle cx="465.0" cy="246.6" r="0.85"/><circle cx="469.0" cy="226.6" r="0.85"/><circle cx="473.2" cy="219.2" r="0.85"/><circle cx="459.9" cy="213.9" r="0.85"/><circle cx="457.0" cy="203.6" r="0.85"/><circle cx="483.4" cy="209.3" r="0.85"/><circle cx="468.0" cy="225.1" r="0.85"/><circle cx="450.4" cy="246.0" r="0.85"/><circle cx="468.4" cy="237.2" r="0.85"/><circle cx="452.1" cy="192.3" r="0.85"/><circle cx="456.5" cy="210.3" r="0.85"/><circle cx="487.1" cy="232.8" r="0.85"/><circle cx="452.8" cy="240.2" r="0.85"/><circle cx="480.2" cy="240.7" r="0.85"/><circle cx="449.6" cy="213.4" r="0.85"/><circle cx="465.3" cy="243.6" r="0.85"/><circle cx="455.7" cy="249.0" r="0.85"/><circle cx="468.9" cy="239.5" r="0.85"/><circle cx="470.0" cy="220.4" r="0.85"/><circle cx="464.6" cy="207.5" r="0.85"/><circle cx="463.1" cy="234.9" r="0.85"/><circle cx="479.6" cy="227.8" r="0.85"/><circle cx="466.9" cy="219.5" r="0.85"/><circle cx="486.2" cy="228.4" r="0.85"/><circle cx="460.7" cy="228.4" r="0.85"/><circle cx="484.2" cy="234.5" r="0.85"/><circle cx="481.7" cy="237.2" r="0.85"/><circle cx="460.0" cy="232.8" r="0.85"/><circle cx="449.6" cy="201.6" r="0.85"/><circle cx="477.3" cy="231.0" r="0.85"/><circle cx="468.6" cy="240.8" r="0.85"/><circle cx="461.2" cy="229.0" r="0.85"/><circle cx="459.1" cy="217.3" r="0.85"/><circle cx="453.5" cy="220.6" r="0.85"/><circle cx="468.2" cy="254.7" r="0.85"/><circle cx="473.4" cy="224.3" r="0.85"/><circle cx="483.0" cy="213.2" r="0.85"/><circle cx="476.3" cy="231.9" r="0.85"/><circle cx="456.6" cy="216.0" r="0.85"/><circle cx="460.4" cy="220.9" r="0.85"/><circle cx="468.4" cy="238.2" r="0.85"/><circle cx="453.1" cy="246.2" r="0.85"/><circle cx="466.4" cy="244.7" r="0.85"/><circle cx="452.4" cy="235.8" r="0.85"/><circle cx="481.5" cy="252.3" r="0.85"/><circle cx="460.5" cy="233.2" r="0.85"/><circle cx="486.7" cy="226.7" r="0.85"/><circle cx="475.3" cy="236.6" r="0.85"/><circle cx="458.2" cy="236.0" r="0.85"/><circle cx="459.2" cy="214.9" r="0.85"/><circle cx="472.1" cy="232.3" r="0.85"/><circle cx="451.8" cy="240.0" r="0.85"/><circle cx="458.0" cy="232.1" r="0.85"/><circle cx="465.1" cy="237.6" r="0.85"/><circle cx="466.5" cy="215.0" r="0.85"/><circle cx="475.8" cy="220.1" r="0.85"/><circle cx="473.0" cy="201.7" r="0.85"/><circle cx="454.2" cy="235.0" r="0.85"/><circle cx="459.5" cy="256.9" r="0.85"/><circle cx="483.7" cy="232.7" r="0.85"/><circle cx="464.8" cy="239.2" r="0.85"/><circle cx="485.7" cy="214.6" r="0.85"/><circle cx="484.6" cy="224.8" r="0.85"/><circle cx="465.1" cy="239.2" r="0.85"/><circle cx="486.7" cy="216.8" r="0.85"/><circle cx="449.5" cy="233.0" r="0.85"/><circle cx="463.9" cy="241.9" r="0.85"/><circle cx="480.3" cy="223.6" r="0.85"/><circle cx="484.4" cy="248.7" r="0.85"/><circle cx="468.4" cy="221.3" r="0.85"/><circle cx="460.5" cy="250.9" r="0.85"/><circle cx="478.2" cy="220.8" r="0.85"/><circle cx="450.7" cy="217.0" r="0.85"/><circle cx="453.9" cy="212.3" r="0.85"/><circle cx="461.6" cy="219.7" r="0.85"/><circle cx="452.8" cy="233.3" r="0.85"/><circle cx="454.6" cy="228.3" r="0.85"/><circle cx="480.2" cy="231.2" r="0.85"/><circle cx="465.2" cy="228.7" r="0.85"/><circle cx="461.2" cy="239.7" r="0.85"/><circle cx="472.5" cy="227.2" r="0.85"/><circle cx="477.1" cy="215.2" r="0.85"/><circle cx="471.4" cy="238.0" r="0.85"/><circle cx="479.1" cy="208.2" r="0.85"/><circle cx="449.5" cy="226.3" r="0.85"/><circle cx="481.7" cy="235.5" r="0.85"/><circle cx="455.1" cy="240.5" r="0.85"/><circle cx="454.6" cy="224.4" r="0.85"/><circle cx="476.4" cy="235.2" r="0.85"/><circle cx="466.1" cy="241.2" r="0.85"/><circle cx="473.8" cy="208.7" r="0.85"/><circle cx="480.2" cy="228.2" r="0.85"/><circle cx="487.2" cy="219.2" r="0.85"/><circle cx="468.4" cy="219.8" r="0.85"/><circle cx="462.4" cy="238.3" r="0.85"/><circle cx="476.4" cy="214.4" r="0.85"/><circle cx="481.3" cy="220.3" r="0.85"/><circle cx="466.7" cy="201.2" r="0.85"/><circle cx="476.4" cy="241.1" r="0.85"/><circle cx="481.3" cy="219.2" r="0.85"/><circle cx="459.7" cy="243.4" r="0.85"/><circle cx="470.6" cy="250.5" r="0.85"/><circle cx="487.0" cy="221.3" r="0.85"/><circle cx="453.4" cy="224.0" r="0.85"/><circle cx="484.4" cy="230.5" r="0.85"/><circle cx="469.6" cy="237.9" r="0.85"/><circle cx="477.2" cy="226.5" r="0.85"/><circle cx="479.8" cy="228.6" r="0.85"/><circle cx="475.5" cy="215.3" r="0.85"/><circle cx="468.3" cy="254.9" r="0.85"/><circle cx="479.2" cy="239.3" r="0.85"/><circle cx="478.7" cy="236.3" r="0.85"/><circle cx="475.9" cy="223.8" r="0.85"/><circle cx="449.6" cy="208.7" r="0.85"/><circle cx="482.7" cy="239.3" r="0.85"/><circle cx="460.6" cy="233.0" r="0.85"/><circle cx="468.5" cy="241.2" r="0.85"/><circle cx="454.1" cy="237.9" r="0.85"/><circle cx="461.9" cy="226.6" r="0.85"/><circle cx="480.6" cy="235.6" r="0.85"/><circle cx="449.7" cy="179.0" r="0.85"/><circle cx="484.2" cy="182.1" r="0.85"/><circle cx="486.3" cy="180.6" r="0.85"/><circle cx="469.3" cy="183.9" r="0.85"/></g>
<line x1="34.50" y1="325.80" x2="34.50" y2="493.00" stroke="#3a3a3a" stroke-width="1.30"/>
<line x1="31.50" y1="328.79" x2="34.50" y2="328.79" stroke="#3a3a3a" stroke-width="0.90"/>
<text x="28.80" y="330.84" font-size="7.60" text-anchor="end" fill="#1e1e1e" font-weight="normal">35</text>
<line x1="31.50" y1="352.22" x2="34.50" y2="352.22" stroke="#3a3a3a" stroke-width="0.90"/>
<text x="28.80" y="354.27" font-size="7.60" text-anchor="end" fill="#1e1e1e" font-weight="normal">30</text>
<line x1="31.50" y1="375.65" x2="34.50" y2="375.65" stroke="#3a3a3a" stroke-width="0.90"/>
<text x="28.80" y="377.70" font-size="7.60" text-anchor="end" fill="#1e1e1e" font-weight="normal">25</text>
<line x1="31.50" y1="399.08" x2="34.50" y2="399.08" stroke="#3a3a3a" stroke-width="0.90"/>
<text x="28.80" y="401.13" font-size="7.60" text-anchor="end" fill="#1e1e1e" font-weight="normal">20</text>
<line x1="31.50" y1="422.51" x2="34.50" y2="422.51" stroke="#3a3a3a" stroke-width="0.90"/>
<text x="28.80" y="424.56" font-size="7.60" text-anchor="end" fill="#1e1e1e" font-weight="normal">15</text>
<line x1="31.50" y1="445.94" x2="34.50" y2="445.94" stroke="#3a3a3a" stroke-width="0.90"/>
<text x="28.80" y="447.99" font-size="7.60" text-anchor="end" fill="#1e1e1e" font-weight="normal">10</text>
<line x1="31.50" y1="469.37" x2="34.50" y2="469.37" stroke="#3a3a3a" stroke-width="0.90"/>
<text x="28.80" y="471.42" font-size="7.60" text-anchor="end" fill="#1e1e1e" font-weight="normal">5</text>
<line x1="31.50" y1="492.80" x2="34.50" y2="492.80" stroke="#3a3a3a" stroke-width="0.90"/>
<text x="28.80" y="494.85" font-size="7.60" text-anchor="end" fill="#1e1e1e" font-weight="normal">0</text>
<line x1="34.50" y1="493.00" x2="244.60" y2="493.00" stroke="#3a3a3a" stroke-width="1.30"/>
<line x1="34.50" y1="493.00" x2="34.50" y2="496.00" stroke="#3a3a3a" stroke-width="0.90"/>
<text x="34.50" y="505.40" font-size="7.60" text-anchor="middle" fill="#1e1e1e" font-weight="normal">0</text>
<line x1="83.10" y1="493.00" x2="83.10" y2="496.00" stroke="#3a3a3a" stroke-width="0.90"/>
<text x="83.10" y="505.40" font-size="7.60" text-anchor="middle" fill="#1e1e1e" font-weight="normal">12</text>
<line x1="131.70" y1="493.00" x2="131.70" y2="496.00" stroke="#3a3a3a" stroke-width="0.90"/>
<text x="131.70" y="505.40" font-size="7.60" text-anchor="middle" fill="#1e1e1e" font-weight="normal">24</text>
<line x1="180.30" y1="493.00" x2="180.30" y2="496.00" stroke="#3a3a3a" stroke-width="0.90"/>
<text x="180.30" y="505.40" font-size="7.60" text-anchor="middle" fill="#1e1e1e" font-weight="normal">36</text>
<line x1="228.90" y1="493.00" x2="228.90" y2="496.00" stroke="#3a3a3a" stroke-width="0.90"/>
<text x="228.90" y="505.40" font-size="7.60" text-anchor="middle" fill="#1e1e1e" font-weight="normal">48</text>
<text x="139.70" y="518.10" font-size="9.00" text-anchor="middle" fill="#1e1e1e" font-weight="normal" textLength="16.0" lengthAdjust="spacingAndGlyphs" style="stroke-width:0.4px">Week</text>
<text transform="translate(15.30 409.20) rotate(-90)" font-size="9.00" text-anchor="middle" fill="#1e1e1e" font-weight="normal" textLength="20.0" lengthAdjust="spacingAndGlyphs" style="stroke-width:0.4px">% HbF</text>
<line x1="50.70" y1="376.00" x2="50.70" y2="403.50" stroke="#24527f" stroke-width="0.90"/>
<line x1="49.50" y1="376.00" x2="51.90" y2="376.00" stroke="#24527f" stroke-width="0.80"/>
<line x1="49.50" y1="403.50" x2="51.90" y2="403.50" stroke="#24527f" stroke-width="0.80"/>
<line x1="83.10" y1="370.20" x2="83.10" y2="395.60" stroke="#24527f" stroke-width="0.90"/>
<line x1="81.90" y1="370.20" x2="84.30" y2="370.20" stroke="#24527f" stroke-width="0.80"/>
<line x1="81.90" y1="395.60" x2="84.30" y2="395.60" stroke="#24527f" stroke-width="0.80"/>
<line x1="131.70" y1="358.10" x2="131.70" y2="391.00" stroke="#24527f" stroke-width="0.90"/>
<line x1="130.50" y1="358.10" x2="132.90" y2="358.10" stroke="#24527f" stroke-width="0.80"/>
<line x1="130.50" y1="391.00" x2="132.90" y2="391.00" stroke="#24527f" stroke-width="0.80"/>
<path d="M34.50,391.50 L50.70,390.00 L83.10,383.00 L131.70,375.40 L228.90,369.20" fill="none" stroke="#24527f" stroke-width="1.15"/>
<circle cx="34.50" cy="391.50" r="1.10" fill="#24527f"/>
<circle cx="50.70" cy="390.00" r="1.10" fill="#24527f"/>
<circle cx="83.10" cy="383.00" r="1.10" fill="#24527f"/>
<circle cx="131.70" cy="375.40" r="1.10" fill="#24527f"/>
<circle cx="228.90" cy="369.20" r="1.10" fill="#24527f"/>
<line x1="34.50" y1="432.00" x2="34.50" y2="450.00" stroke="#c8102e" stroke-width="0.90"/>
<line x1="33.30" y1="432.00" x2="35.70" y2="432.00" stroke="#c8102e" stroke-width="0.80"/>
<line x1="33.30" y1="450.00" x2="35.70" y2="450.00" stroke="#c8102e" stroke-width="0.80"/>
<line x1="50.70" y1="426.00" x2="50.70" y2="445.40" stroke="#c8102e" stroke-width="0.90"/>
<line x1="49.50" y1="426.00" x2="51.90" y2="426.00" stroke="#c8102e" stroke-width="0.80"/>
<line x1="49.50" y1="445.40" x2="51.90" y2="445.40" stroke="#c8102e" stroke-width="0.80"/>
<line x1="83.10" y1="412.50" x2="83.10" y2="430.80" stroke="#c8102e" stroke-width="0.90"/>
<line x1="81.90" y1="412.50" x2="84.30" y2="412.50" stroke="#c8102e" stroke-width="0.80"/>
<line x1="81.90" y1="430.80" x2="84.30" y2="430.80" stroke="#c8102e" stroke-width="0.80"/>
<line x1="131.70" y1="377.00" x2="131.70" y2="407.30" stroke="#c8102e" stroke-width="0.90"/>
<line x1="130.50" y1="377.00" x2="132.90" y2="377.00" stroke="#c8102e" stroke-width="0.80"/>
<line x1="130.50" y1="407.30" x2="132.90" y2="407.30" stroke="#c8102e" stroke-width="0.80"/>
<line x1="228.90" y1="350.60" x2="228.90" y2="380.80" stroke="#c8102e" stroke-width="0.90"/>
<line x1="227.70" y1="350.60" x2="230.10" y2="350.60" stroke="#c8102e" stroke-width="0.80"/>
<line x1="227.70" y1="380.80" x2="230.10" y2="380.80" stroke="#c8102e" stroke-width="0.80"/>
<path d="M34.50,441.30 L50.70,435.80 L83.10,421.80 L131.70,391.80 L228.90,365.60" fill="none" stroke="#c8102e" stroke-width="1.15"/>
<circle cx="34.50" cy="441.30" r="1.50" fill="#c8102e"/>
<circle cx="50.70" cy="435.80" r="1.50" fill="#c8102e"/>
<circle cx="83.10" cy="421.80" r="1.50" fill="#c8102e"/>
<circle cx="131.70" cy="391.80" r="1.50" fill="#c8102e"/>
<circle cx="228.90" cy="365.60" r="1.50" fill="#c8102e"/>
<line x1="34.50" y1="458.00" x2="34.50" y2="477.00" stroke="#3f4b57" stroke-width="0.90"/>
<line x1="33.30" y1="458.00" x2="35.70" y2="458.00" stroke="#3f4b57" stroke-width="0.80"/>
<line x1="33.30" y1="477.00" x2="35.70" y2="477.00" stroke="#3f4b57" stroke-width="0.80"/>
<line x1="50.70" y1="453.50" x2="50.70" y2="467.50" stroke="#3f4b57" stroke-width="0.90"/>
<line x1="49.50" y1="453.50" x2="51.90" y2="453.50" stroke="#3f4b57" stroke-width="0.80"/>
<line x1="49.50" y1="467.50" x2="51.90" y2="467.50" stroke="#3f4b57" stroke-width="0.80"/>
<line x1="83.10" y1="440.40" x2="83.10" y2="457.50" stroke="#3f4b57" stroke-width="0.90"/>
<line x1="81.90" y1="440.40" x2="84.30" y2="440.40" stroke="#3f4b57" stroke-width="0.80"/>
<line x1="81.90" y1="457.50" x2="84.30" y2="457.50" stroke="#3f4b57" stroke-width="0.80"/>
<line x1="131.70" y1="425.40" x2="131.70" y2="444.20" stroke="#3f4b57" stroke-width="0.90"/>
<line x1="130.50" y1="425.40" x2="132.90" y2="425.40" stroke="#3f4b57" stroke-width="0.80"/>
<line x1="130.50" y1="444.20" x2="132.90" y2="444.20" stroke="#3f4b57" stroke-width="0.80"/>
<line x1="228.90" y1="421.70" x2="228.90" y2="447.50" stroke="#3f4b57" stroke-width="0.90"/>
<line x1="227.70" y1="421.70" x2="230.10" y2="421.70" stroke="#3f4b57" stroke-width="0.80"/>
<line x1="227.70" y1="447.50" x2="230.10" y2="447.50" stroke="#3f4b57" stroke-width="0.80"/>
<path d="M34.50,466.80 L50.70,460.30 L83.10,449.00 L131.70,434.60 L228.90,434.60" fill="none" stroke="#3f4b57" stroke-width="1.15"/>
<circle cx="34.50" cy="466.80" r="1.10" fill="#3f4b57"/>
<circle cx="50.70" cy="460.30" r="1.10" fill="#3f4b57"/>
<circle cx="83.10" cy="449.00" r="1.10" fill="#3f4b57"/>
<circle cx="131.70" cy="434.60" r="1.10" fill="#3f4b57"/>
<circle cx="228.90" cy="434.60" r="1.10" fill="#3f4b57"/>
<line x1="47.70" y1="335.30" x2="56.30" y2="335.30" stroke="#24527f" stroke-width="1.20"/>
<circle cx="52.00" cy="335.3" r="1.00" fill="#24527f"/>
<text x="60.20" y="337.80" font-size="6.95" text-anchor="start" fill="#333" font-weight="normal" style="stroke-width:0">6months - &lt;2 yrs</text>
<line x1="116.00" y1="335.30" x2="124.60" y2="335.30" stroke="#c8102e" stroke-width="1.20"/>
<circle cx="120.30" cy="335.3" r="1.50" fill="#c8102e"/>
<text x="128.20" y="337.80" font-size="6.95" text-anchor="start" fill="#333" font-weight="normal" style="stroke-width:0">2 yrs - &lt;6 yrs</text>
<line x1="174.20" y1="335.30" x2="183.50" y2="335.30" stroke="#3f4b57" stroke-width="1.20"/>
<circle cx="178.85" cy="335.3" r="1.00" fill="#3f4b57"/>
<text x="186.20" y="337.80" font-size="6.95" text-anchor="start" fill="#333" font-weight="normal" style="stroke-width:0">6 yrs - &lt;18 yrs</text>
<line x1="291.90" y1="368.00" x2="291.90" y2="492.90" stroke="#3a3a3a" stroke-width="1.30"/>
<line x1="288.90" y1="370.40" x2="291.90" y2="370.40" stroke="#3a3a3a" stroke-width="0.90"/>
<text x="286.30" y="372.45" font-size="7.60" text-anchor="end" fill="#1e1e1e" font-weight="normal">50</text>
<line x1="288.90" y1="382.65" x2="291.90" y2="382.65" stroke="#3a3a3a" stroke-width="0.90"/>
<text x="286.30" y="384.70" font-size="7.60" text-anchor="end" fill="#1e1e1e" font-weight="normal">45</text>
<line x1="288.90" y1="394.90" x2="291.90" y2="394.90" stroke="#3a3a3a" stroke-width="0.90"/>
<text x="286.30" y="396.95" font-size="7.60" text-anchor="end" fill="#1e1e1e" font-weight="normal">40</text>
<line x1="288.90" y1="407.15" x2="291.90" y2="407.15" stroke="#3a3a3a" stroke-width="0.90"/>
<text x="286.30" y="409.20" font-size="7.60" text-anchor="end" fill="#1e1e1e" font-weight="normal">35</text>
<line x1="288.90" y1="419.40" x2="291.90" y2="419.40" stroke="#3a3a3a" stroke-width="0.90"/>
<text x="286.30" y="421.45" font-size="7.60" text-anchor="end" fill="#1e1e1e" font-weight="normal">30</text>
<line x1="288.90" y1="431.65" x2="291.90" y2="431.65" stroke="#3a3a3a" stroke-width="0.90"/>
<text x="286.30" y="433.70" font-size="7.60" text-anchor="end" fill="#1e1e1e" font-weight="normal">25</text>
<line x1="288.90" y1="443.90" x2="291.90" y2="443.90" stroke="#3a3a3a" stroke-width="0.90"/>
<text x="286.30" y="445.95" font-size="7.60" text-anchor="end" fill="#1e1e1e" font-weight="normal">20</text>
<line x1="288.90" y1="456.15" x2="291.90" y2="456.15" stroke="#3a3a3a" stroke-width="0.90"/>
<text x="286.30" y="458.20" font-size="7.60" text-anchor="end" fill="#1e1e1e" font-weight="normal">15</text>
<line x1="288.90" y1="468.40" x2="291.90" y2="468.40" stroke="#3a3a3a" stroke-width="0.90"/>
<text x="286.30" y="470.45" font-size="7.60" text-anchor="end" fill="#1e1e1e" font-weight="normal">10</text>
<line x1="288.90" y1="480.65" x2="291.90" y2="480.65" stroke="#3a3a3a" stroke-width="0.90"/>
<text x="286.30" y="482.70" font-size="7.60" text-anchor="end" fill="#1e1e1e" font-weight="normal">5</text>
<line x1="288.90" y1="492.90" x2="291.90" y2="492.90" stroke="#3a3a3a" stroke-width="0.90"/>
<text x="286.30" y="494.95" font-size="7.60" text-anchor="end" fill="#1e1e1e" font-weight="normal">0</text>
<line x1="291.90" y1="492.90" x2="510.30" y2="492.90" stroke="#3a3a3a" stroke-width="1.30"/>
<line x1="329.80" y1="492.90" x2="329.80" y2="495.90" stroke="#3a3a3a" stroke-width="0.90"/>
<line x1="405.70" y1="492.90" x2="405.70" y2="495.90" stroke="#3a3a3a" stroke-width="0.90"/>
<line x1="481.60" y1="492.90" x2="481.60" y2="495.90" stroke="#3a3a3a" stroke-width="0.90"/>
<text x="330.00" y="505.30" font-size="7.30" text-anchor="middle" fill="#1e1e1e" font-weight="normal">6 months - &lt;2 years</text>
<text x="406.20" y="505.30" font-size="7.30" text-anchor="middle" fill="#1e1e1e" font-weight="normal">2 years - &lt;6 years</text>
<text x="481.20" y="505.30" font-size="7.30" text-anchor="middle" fill="#1e1e1e" font-weight="normal">6 years - &lt;18 years</text>
<text transform="translate(266.30 431.00) rotate(-90)" font-size="9.00" text-anchor="middle" fill="#1e1e1e" font-weight="normal" textLength="20.0" lengthAdjust="spacingAndGlyphs" style="stroke-width:0.4px">% HbF</text>
<line x1="294.00" y1="443.90" x2="510.70" y2="443.90" stroke="#c8304c" stroke-width="1.00" stroke-dasharray="1.2,1.6" stroke-opacity="0.75"/>
<g stroke="#222" stroke-width="0.9">
<line x1="310.90" y1="415.72" x2="348.80" y2="435.57"/>
<line x1="310.90" y1="415.72" x2="348.80" y2="443.41"/>
<line x1="310.90" y1="434.59" x2="348.80" y2="411.07"/>
<line x1="310.90" y1="435.57" x2="348.80" y2="417.93"/>
<line x1="310.90" y1="436.55" x2="348.80" y2="435.57"/>
<line x1="310.90" y1="451.50" x2="348.80" y2="443.41"/>
<line x1="310.90" y1="451.50" x2="348.80" y2="411.07"/>
<line x1="310.90" y1="466.19" x2="348.80" y2="428.46"/>
<line x1="310.90" y1="466.19" x2="348.80" y2="417.93"/>
</g><g fill="#304c5c">
<circle cx="310.90" cy="415.72" r="1.15"/>
<circle cx="348.80" cy="435.57" r="1.15"/>
<circle cx="310.90" cy="415.72" r="1.15"/>
<circle cx="348.80" cy="443.41" r="1.15"/>
<circle cx="310.90" cy="434.59" r="1.15"/>
<circle cx="348.80" cy="411.07" r="1.15"/>
<circle cx="310.90" cy="435.57" r="1.15"/>
<circle cx="348.80" cy="417.93" r="1.15"/>
<circle cx="310.90" cy="436.55" r="1.15"/>
<circle cx="348.80" cy="435.57" r="1.15"/>
<circle cx="310.90" cy="451.50" r="1.15"/>
<circle cx="348.80" cy="443.41" r="1.15"/>
<circle cx="310.90" cy="451.50" r="1.15"/>
<circle cx="348.80" cy="411.07" r="1.15"/>
<circle cx="310.90" cy="466.19" r="1.15"/>
<circle cx="348.80" cy="428.46" r="1.15"/>
<circle cx="310.90" cy="466.19" r="1.15"/>
<circle cx="348.80" cy="417.93" r="1.15"/>
</g>
<g stroke="#222" stroke-width="0.9">
<line x1="386.90" y1="417.44" x2="424.80" y2="447.08"/>
<line x1="386.90" y1="417.44" x2="424.80" y2="408.38"/>
<line x1="386.90" y1="447.08" x2="424.80" y2="399.80"/>
<line x1="386.90" y1="456.15" x2="424.80" y2="381.18"/>
<line x1="386.90" y1="458.11" x2="424.80" y2="387.30"/>
<line x1="386.90" y1="459.09" x2="424.80" y2="465.21"/>
<line x1="386.90" y1="460.56" x2="424.80" y2="472.07"/>
<line x1="386.90" y1="457.13" x2="424.80" y2="401.76"/>
<line x1="386.90" y1="459.82" x2="424.80" y2="403.96"/>
<line x1="386.90" y1="461.29" x2="424.80" y2="406.66"/>
<line x1="386.90" y1="470.60" x2="424.80" y2="421.85"/>
<line x1="386.90" y1="471.34" x2="424.80" y2="433.61"/>
<line x1="386.90" y1="472.56" x2="424.80" y2="438.02"/>
<line x1="386.90" y1="473.54" x2="424.80" y2="449.29"/>
<line x1="386.90" y1="474.03" x2="424.80" y2="454.19"/>
<line x1="386.90" y1="479.67" x2="424.80" y2="433.61"/>
<line x1="386.90" y1="480.65" x2="424.80" y2="438.02"/>
<line x1="386.90" y1="481.63" x2="424.80" y2="465.21"/>
<line x1="386.90" y1="482.61" x2="424.80" y2="447.08"/>
<line x1="386.90" y1="482.12" x2="424.80" y2="472.07"/>
<line x1="386.90" y1="487.02" x2="424.80" y2="454.19"/>
<line x1="386.90" y1="471.83" x2="424.80" y2="409.60"/>
</g><g fill="#304c5c">
<circle cx="386.90" cy="417.44" r="1.15"/>
<circle cx="424.80" cy="447.08" r="1.15"/>
<circle cx="386.90" cy="417.44" r="1.15"/>
<circle cx="424.80" cy="408.38" r="1.15"/>
<circle cx="386.90" cy="447.08" r="1.15"/>
<circle cx="424.80" cy="399.80" r="1.15"/>
<circle cx="386.90" cy="456.15" r="1.15"/>
<circle cx="424.80" cy="381.18" r="1.15"/>
<circle cx="386.90" cy="458.11" r="1.15"/>
<circle cx="424.80" cy="387.30" r="1.15"/>
<circle cx="386.90" cy="459.09" r="1.15"/>
<circle cx="424.80" cy="465.21" r="1.15"/>
<circle cx="386.90" cy="460.56" r="1.15"/>
<circle cx="424.80" cy="472.07" r="1.15"/>
<circle cx="386.90" cy="457.13" r="1.15"/>
<circle cx="424.80" cy="401.76" r="1.15"/>
<circle cx="386.90" cy="459.82" r="1.15"/>
<circle cx="424.80" cy="403.96" r="1.15"/>
<circle cx="386.90" cy="461.29" r="1.15"/>
<circle cx="424.80" cy="406.66" r="1.15"/>
<circle cx="386.90" cy="470.60" r="1.15"/>
<circle cx="424.80" cy="421.85" r="1.15"/>
<circle cx="386.90" cy="471.34" r="1.15"/>
<circle cx="424.80" cy="433.61" r="1.15"/>
<circle cx="386.90" cy="472.56" r="1.15"/>
<circle cx="424.80" cy="438.02" r="1.15"/>
<circle cx="386.90" cy="473.54" r="1.15"/>
<circle cx="424.80" cy="449.29" r="1.15"/>
<circle cx="386.90" cy="474.03" r="1.15"/>
<circle cx="424.80" cy="454.19" r="1.15"/>
<circle cx="386.90" cy="479.67" r="1.15"/>
<circle cx="424.80" cy="433.61" r="1.15"/>
<circle cx="386.90" cy="480.65" r="1.15"/>
<circle cx="424.80" cy="438.02" r="1.15"/>
<circle cx="386.90" cy="481.63" r="1.15"/>
<circle cx="424.80" cy="465.21" r="1.15"/>
<circle cx="386.90" cy="482.61" r="1.15"/>
<circle cx="424.80" cy="447.08" r="1.15"/>
<circle cx="386.90" cy="482.12" r="1.15"/>
<circle cx="424.80" cy="472.07" r="1.15"/>
<circle cx="386.90" cy="487.02" r="1.15"/>
<circle cx="424.80" cy="454.19" r="1.15"/>
<circle cx="386.90" cy="471.83" r="1.15"/>
<circle cx="424.80" cy="409.60" r="1.15"/>
</g>
<g stroke="#222" stroke-width="0.9">
<line x1="462.60" y1="458.11" x2="500.60" y2="440.96"/>
<line x1="462.60" y1="458.11" x2="500.60" y2="454.68"/>
<line x1="462.60" y1="468.40" x2="500.60" y2="440.96"/>
<line x1="462.60" y1="467.17" x2="500.60" y2="451.25"/>
<line x1="462.60" y1="467.91" x2="500.60" y2="452.96"/>
<line x1="462.60" y1="468.89" x2="500.60" y2="488.00"/>
<line x1="462.60" y1="469.62" x2="500.60" y2="458.60"/>
<line x1="462.60" y1="470.85" x2="500.60" y2="463.99"/>
<line x1="462.60" y1="472.07" x2="500.60" y2="467.17"/>
<line x1="462.60" y1="477.71" x2="500.60" y2="465.46"/>
<line x1="462.60" y1="478.69" x2="500.60" y2="469.62"/>
<line x1="462.60" y1="479.42" x2="500.60" y2="463.50"/>
<line x1="462.60" y1="483.10" x2="500.60" y2="468.40"/>
<line x1="462.60" y1="487.02" x2="500.60" y2="454.19"/>
<line x1="462.60" y1="488.00" x2="500.60" y2="465.95"/>
<line x1="462.60" y1="489.47" x2="500.60" y2="478.94"/>
<line x1="462.60" y1="488.00" x2="500.60" y2="488.00"/>
<line x1="462.60" y1="487.51" x2="500.60" y2="470.85"/>
</g><g fill="#304c5c">
<circle cx="462.60" cy="458.11" r="1.15"/>
<circle cx="500.60" cy="440.96" r="1.15"/>
<circle cx="462.60" cy="458.11" r="1.15"/>
<circle cx="500.60" cy="454.68" r="1.15"/>
<circle cx="462.60" cy="468.40" r="1.15"/>
<circle cx="500.60" cy="440.96" r="1.15"/>
<circle cx="462.60" cy="467.17" r="1.15"/>
<circle cx="500.60" cy="451.25" r="1.15"/>
<circle cx="462.60" cy="467.91" r="1.15"/>
<circle cx="500.60" cy="452.96" r="1.15"/>
<circle cx="462.60" cy="468.89" r="1.15"/>
<circle cx="500.60" cy="488.00" r="1.15"/>
<circle cx="462.60" cy="469.62" r="1.15"/>
<circle cx="500.60" cy="458.60" r="1.15"/>
<circle cx="462.60" cy="470.85" r="1.15"/>
<circle cx="500.60" cy="463.99" r="1.15"/>
<circle cx="462.60" cy="472.07" r="1.15"/>
<circle cx="500.60" cy="467.17" r="1.15"/>
<circle cx="462.60" cy="477.71" r="1.15"/>
<circle cx="500.60" cy="465.46" r="1.15"/>
<circle cx="462.60" cy="478.69" r="1.15"/>
<circle cx="500.60" cy="469.62" r="1.15"/>
<circle cx="462.60" cy="479.42" r="1.15"/>
<circle cx="500.60" cy="463.50" r="1.15"/>
<circle cx="462.60" cy="483.10" r="1.15"/>
<circle cx="500.60" cy="468.40" r="1.15"/>
<circle cx="462.60" cy="487.02" r="1.15"/>
<circle cx="500.60" cy="454.19" r="1.15"/>
<circle cx="462.60" cy="488.00" r="1.15"/>
<circle cx="500.60" cy="465.95" r="1.15"/>
<circle cx="462.60" cy="489.47" r="1.15"/>
<circle cx="500.60" cy="478.94" r="1.15"/>
<circle cx="462.60" cy="488.00" r="1.15"/>
<circle cx="500.60" cy="488.00" r="1.15"/>
<circle cx="462.60" cy="487.51" r="1.15"/>
<circle cx="500.60" cy="470.85" r="1.15"/>
</g>
<rect x="0.5" y="0.5" width="519" height="526" fill="none" stroke="#555" stroke-width="1"/>
</svg></body></html>
